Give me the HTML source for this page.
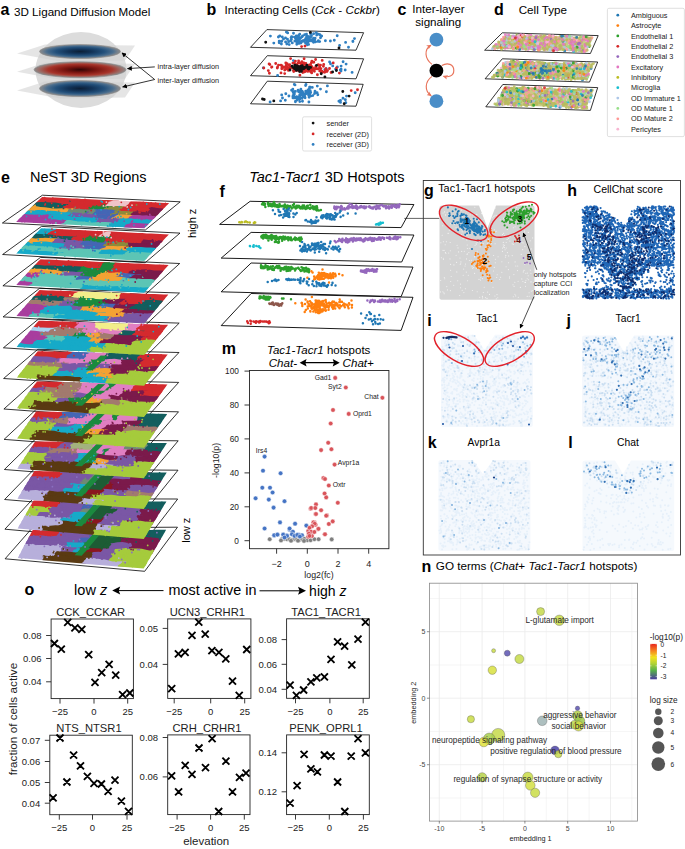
<!DOCTYPE html>
<html><head><meta charset="utf-8"><style>
html,body{margin:0;padding:0;background:#fff;}
svg{display:block;}
text{font-family:"Liberation Sans", sans-serif;}
</style></head><body>
<svg width="685" height="849" viewBox="0 0 685 849" font-family='"Liberation Sans", sans-serif'>
<rect width="685" height="849" fill="#fff"/>
<text x="0.5" y="15.0" font-size="16" font-weight="bold">a</text>
<text x="14.0" y="15.6" font-size="11.65">3D Ligand Diffusion Model</text>
<text x="206.5" y="14.9" font-size="16" font-weight="bold">b</text>
<text x="224.5" y="14" font-size="11.65">Interacting Cells (<tspan font-style="italic">Cck</tspan> - <tspan font-style="italic">Cckbr</tspan>)</text>
<text x="397.5" y="14.6" font-size="16" font-weight="bold">c</text>
<text x="438.5" y="12.8" font-size="11.65" text-anchor="middle">Inter-layer</text>
<text x="438.2" y="26.3" font-size="11.65" text-anchor="middle">signaling</text>
<text x="494.0" y="15.0" font-size="16" font-weight="bold">d</text>
<text x="518.7" y="14.2" font-size="11.65">Cell Type</text>
<defs>
<radialGradient id="gb" cx="50%" cy="50%" r="50%"><stop offset="0" stop-color="#0c1f36"/><stop offset="0.3" stop-color="#123358"/><stop offset="0.6" stop-color="#23507b"/><stop offset="0.82" stop-color="#4b6e8e"/><stop offset="0.93" stop-color="#77828d"/><stop offset="1" stop-color="#8a8a8a"/></radialGradient>
<radialGradient id="gr" cx="50%" cy="50%" r="50%"><stop offset="0" stop-color="#300606"/><stop offset="0.35" stop-color="#7a1510"/><stop offset="0.7" stop-color="#a8342a"/><stop offset="0.88" stop-color="#9c6a64"/><stop offset="1" stop-color="#8a8a8a"/></radialGradient>
<marker id="ah" viewBox="0 0 10 10" refX="9" refY="5" markerWidth="6" markerHeight="6" orient="auto-start-reverse"><path d="M0 0L10 5L0 10z" fill="#000"/></marker>
<marker id="ahr" viewBox="0 0 10 10" refX="8" refY="5" markerWidth="4.4" markerHeight="4.4" orient="auto-start-reverse"><path d="M0 0.5L10 5L0 9.5L2.5 5z" fill="#e8735a"/></marker>
</defs>
<ellipse cx="81" cy="70" rx="45.5" ry="38" fill="#dcdcdc"/>
<polygon points="17,53.5 45,44.5 135,45.5 125,60.5 60,61.5" fill="#cfcfcf" fill-opacity="0.55"/>
<polygon points="17,71.7 45,62.7 135,63.7 125,78.7 60,79.7" fill="#cfcfcf" fill-opacity="0.55"/>
<polygon points="17,90.5 45,81.5 135,82.5 125,97.5 60,98.5" fill="#cfcfcf" fill-opacity="0.55"/>
<ellipse cx="80" cy="51.5" rx="40.5" ry="7" fill="url(#gb)" stroke="#8a8a8a" stroke-width="0.6"/>
<ellipse cx="80" cy="69.7" rx="46" ry="8" fill="url(#gr)" stroke="#8a8a8a" stroke-width="0.6"/>
<ellipse cx="80" cy="88.5" rx="40.5" ry="8" fill="url(#gb)" stroke="#8a8a8a" stroke-width="0.6"/>
<path d="M154.8 66.9L127.5 68.6" stroke="#000" stroke-width="0.8" fill="none" marker-end="url(#ah)"/>
<path d="M154.7 79.5L121.9 52.9" stroke="#000" stroke-width="0.8" fill="none" marker-end="url(#ah)"/>
<path d="M154.7 79.5L122.6 87" stroke="#000" stroke-width="0.8" fill="none" marker-end="url(#ah)"/>
<text x="157.6" y="69.4" font-size="7.3" fill="#222">intra-layer diffusion</text>
<text x="157.6" y="83.4" font-size="7.3" fill="#222">inter-layer diffusion</text>
<polygon points="266.9,29.6 363.6,32.7 356.0,50.2 250.5,47.3" fill="#fff" stroke="#000" stroke-width="0.8" stroke-linejoin="round"/>
<polygon points="267.3,55.7 363.6,58.8 356.0,78.8 250.5,75.7" fill="#fff" stroke="#000" stroke-width="0.8" stroke-linejoin="round"/>
<polygon points="267.3,81.2 363.2,84.3 356.0,106.2 250.5,103.8" fill="#fff" stroke="#000" stroke-width="0.8" stroke-linejoin="round"/>
<path d="M297.4 40.5h0M299.9 37.6h0M291.1 37.7h0M314.3 40.7h0M313.7 40.1h0M306.1 39.6h0M279.2 41.2h0M306.7 40.8h0M286.4 32.1h0M292.3 36.9h0M305.6 38.8h0M309.7 36.8h0M304.6 40.3h0M289.2 44.6h0M305.6 43.2h0M296.3 36.0h0M297.9 38.3h0M308.8 39.9h0M298.9 35.3h0M292.3 42.9h0M291.4 39.4h0M310.6 33.7h0M299.1 43.4h0M278.4 37.0h0M302.6 35.9h0M308.0 38.8h0M281.7 41.2h0M307.6 42.4h0M318.4 40.6h0M306.5 34.3h0M310.7 36.9h0M299.7 34.2h0M291.6 36.6h0M283.5 39.1h0M317.9 41.4h0M307.9 36.4h0M285.6 41.9h0M314.7 39.8h0M303.7 40.4h0M319.7 41.6h0M306.7 40.9h0M279.2 42.8h0M312.1 41.0h0M279.8 35.9h0M316.3 32.8h0M296.9 42.4h0M281.4 44.0h0M308.8 38.5h0M304.1 41.2h0M300.4 42.9h0M294.9 37.1h0M314.3 39.3h0M288.6 41.8h0M320.5 37.8h0M285.5 37.9h0M300.8 37.7h0M321.1 35.7h0M319.9 34.8h0M290.6 40.8h0M313.5 42.3h0M305.6 39.5h0M302.2 40.9h0M299.0 39.7h0M308.7 39.0h0M309.7 41.1h0M325.4 40.7h0M297.6 37.4h0M299.3 42.1h0M296.7 40.1h0M287.5 39.3h0M306.0 39.8h0M294.9 41.0h0M306.5 37.1h0M330.4 41.0h0M295.4 38.3h0M299.2 38.5h0M270.4 36.1h0M316.7 35.1h0M298.6 42.2h0M308.6 44.4h0M282.3 37.0h0M296.1 40.9h0M318.3 34.1h0M313.6 33.8h0M300.9 43.1h0M299.5 39.4h0M311.1 39.6h0M296.8 44.2h0M315.1 38.2h0M337.2 35.8h0M313.5 38.2h0M301.6 41.4h0M302.9 41.2h0M287.7 32.9h0M311.5 35.7h0M293.5 33.3h0M315.4 41.9h0M321.7 36.1h0M304.7 34.8h0M307.3 44.7h0M286.8 44.0h0M314.1 38.6h0M273.8 43.1h0M302.2 36.7h0M305.6 40.4h0M354.5 38.6h0M348.5 47.3h0M352.9 41.5h0M339.6 45.4h0M345.6 42.4h0M352.9 41.2h0M334.3 40.2h0" stroke="#2f7fc1" stroke-width="2.90" stroke-linecap="round" fill="none"/>
<path d="M301.6 46.6h0M305.0 46.1h0" stroke="#d62728" stroke-width="2.90" stroke-linecap="round" fill="none"/>
<path d="M265.7 42.3h0M339.0 48.0h0M310.4 32.4h0" stroke="#111" stroke-width="2.90" stroke-linecap="round" fill="none"/>
<path d="M326.2 68.7h0M346.1 64.1h0M341.1 69.2h0M341.0 71.0h0M340.3 70.0h0M352.1 72.4h0M335.6 69.2h0M329.6 61.9h0M324.8 69.6h0M332.7 65.9h0M341.1 66.1h0M337.4 66.9h0M345.2 70.0h0M343.1 61.7h0M336.3 70.0h0M330.5 63.7h0M263.3 67.9h0M293.4 60.6h0M277.6 75.5h0" stroke="#2f7fc1" stroke-width="2.90" stroke-linecap="round" fill="none"/>
<path d="M314.4 71.2h0M299.0 70.7h0M305.7 64.1h0M278.5 65.1h0M315.8 66.5h0M288.8 65.0h0M277.6 66.9h0M281.8 68.7h0M263.8 68.0h0M295.4 61.1h0M312.2 67.4h0M269.1 64.0h0M306.0 66.6h0M311.0 70.9h0M310.1 69.4h0M319.7 70.9h0M311.9 61.1h0M311.7 72.9h0M297.2 66.3h0M333.2 62.9h0M284.9 69.9h0M329.5 68.5h0M307.3 71.3h0M287.1 67.3h0M303.3 70.9h0M300.5 67.3h0M286.1 66.3h0M314.0 68.8h0M289.7 64.7h0M339.4 73.1h0M315.6 59.5h0M309.1 69.9h0M325.5 70.2h0M298.4 69.7h0M268.3 70.6h0M307.1 65.8h0M317.4 74.8h0M281.0 65.1h0M304.7 68.8h0M296.8 64.5h0M331.1 72.5h0M285.8 62.9h0M324.7 72.2h0M326.9 71.6h0M286.7 68.5h0M269.8 64.5h0M298.6 69.8h0M289.9 67.2h0M306.8 69.5h0M309.9 69.0h0M293.9 70.5h0M303.2 65.2h0M291.1 67.7h0M298.6 68.5h0M300.2 68.6h0M301.4 63.7h0M304.8 71.8h0M307.6 67.6h0M309.4 64.9h0M271.6 67.3h0M284.7 70.1h0M290.6 58.6h0M281.0 72.9h0M298.0 63.2h0M287.8 69.4h0M307.8 68.8h0M321.9 71.1h0M299.0 70.0h0M324.0 72.1h0M318.3 64.8h0M296.7 70.4h0M293.7 71.5h0M307.8 71.4h0M319.9 67.8h0M293.4 70.8h0M315.5 68.5h0M282.4 68.1h0M303.7 72.0h0M312.5 68.4h0M312.5 70.2h0M303.6 68.3h0M295.4 70.2h0M286.1 65.4h0M303.9 63.0h0M298.6 61.0h0M288.9 69.6h0M309.4 68.1h0M300.3 63.1h0M327.5 70.6h0M319.0 65.5h0M301.9 61.7h0M310.6 71.5h0M271.9 66.9h0M313.8 62.3h0M275.7 63.5h0M294.4 62.9h0M300.6 68.9h0M308.8 70.7h0M321.3 72.7h0M282.0 65.7h0M287.1 63.8h0M299.4 68.0h0M311.4 62.8h0M281.9 67.3h0M298.3 66.9h0M301.4 65.4h0M310.6 69.5h0M300.8 65.7h0M304.1 58.7h0M285.6 67.7h0M277.3 68.0h0M305.9 63.4h0M297.5 66.8h0M306.3 70.3h0M302.0 65.1h0M298.6 67.7h0M311.2 69.3h0M292.9 63.1h0M296.7 65.3h0M284.0 67.1h0M292.9 68.1h0M309.4 66.8h0M336.5 68.0h0M317.1 68.9h0M322.2 60.4h0M288.6 68.5h0M302.8 72.5h0M310.4 71.6h0M308.7 67.7h0M310.6 64.6h0M320.5 65.1h0M299.9 75.3h0M297.2 68.0h0M318.3 68.6h0M287.7 68.5h0M308.0 70.7h0M284.7 73.6h0M325.9 68.8h0M305.6 66.7h0M323.4 66.3h0M311.9 66.7h0M288.4 70.1h0M320.9 68.6h0M288.4 70.4h0M299.2 69.0h0M321.7 72.6h0M299.0 70.7h0M290.9 67.5h0M269.4 73.3h0M323.7 64.5h0" stroke="#d62728" stroke-width="2.90" stroke-linecap="round" fill="none"/>
<path d="M294.8 65.2h0M307.0 67.4h0M300.6 67.5h0M301.1 66.2h0M302.2 65.7h0M299.9 68.5h0M303.2 67.7h0M295.9 68.1h0M296.5 70.4h0M304.6 67.9h0M299.0 66.8h0M296.3 67.3h0M301.6 68.9h0M301.4 71.4h0M297.0 67.9h0M316.5 65.4h0M297.8 68.2h0M301.0 68.7h0M299.0 68.6h0M300.1 69.2h0M292.0 66.3h0M301.7 66.4h0M294.7 68.8h0M296.7 68.9h0M304.1 68.6h0M303.3 67.9h0M293.5 67.7h0M303.5 67.2h0M299.3 69.2h0M295.5 68.9h0M310.6 67.4h0M301.5 67.8h0M308.1 68.7h0M305.9 67.0h0M300.6 68.0h0M290.0 70.0h0M306.9 65.3h0M304.5 67.9h0M302.5 68.7h0M293.3 67.4h0M308.8 67.3h0M296.9 65.7h0M294.1 68.3h0M308.8 69.0h0M299.6 71.6h0M298.7 66.8h0M302.8 69.0h0M296.7 66.0h0M301.9 68.4h0M294.2 67.5h0M297.4 68.7h0M300.1 67.8h0M297.7 69.6h0M308.0 67.6h0M305.7 66.9h0M321.2 73.7h0M332.6 72.0h0M336.4 70.5h0M324.9 76.9h0" stroke="#111" stroke-width="2.90" stroke-linecap="round" fill="none"/>
<path d="M299.8 97.5h0M317.1 92.8h0M299.7 95.0h0M285.8 93.8h0M293.1 95.6h0M295.0 84.9h0M300.7 95.3h0M293.0 97.9h0M299.8 91.3h0M309.6 87.2h0M294.2 93.8h0M309.9 93.6h0M305.7 91.3h0M299.8 101.6h0M294.4 94.0h0M300.1 98.7h0M294.3 84.4h0M305.1 97.8h0M302.4 95.3h0M309.4 96.0h0M320.5 89.1h0M310.0 92.7h0M301.5 93.0h0M298.1 90.2h0M292.9 96.8h0M301.1 94.4h0M296.8 98.1h0M306.3 93.6h0M308.0 93.6h0M285.3 100.3h0M308.0 90.0h0M311.0 95.9h0M280.6 100.9h0M302.1 98.2h0M303.3 93.5h0M282.5 98.0h0M302.0 92.8h0M304.3 94.5h0M308.7 92.6h0M306.0 84.5h0M294.9 97.0h0M315.3 92.8h0M295.6 101.1h0M295.7 97.3h0M317.8 94.7h0M315.0 91.3h0M303.2 93.8h0M299.2 99.2h0M326.4 91.8h0M293.8 96.2h0M288.9 96.0h0M307.4 93.0h0M310.1 87.3h0M312.3 87.4h0M295.4 91.4h0M294.6 97.8h0M302.8 92.4h0M302.5 101.3h0M300.1 95.7h0M312.8 95.6h0M327.4 85.9h0M299.5 96.0h0M309.1 97.3h0M300.9 89.3h0M299.4 98.7h0M292.8 89.2h0M305.6 85.5h0M299.4 92.1h0M307.2 91.1h0M293.1 92.1h0M302.1 91.1h0M299.1 97.5h0M308.9 102.0h0M294.2 92.0h0M270.1 102.0h0M293.7 93.8h0M309.5 88.2h0M305.7 94.1h0M281.7 94.9h0M317.3 86.1h0M308.6 95.3h0M304.6 96.2h0M314.6 93.5h0M310.7 92.5h0M310.2 90.7h0M295.4 101.8h0M305.8 93.5h0M291.6 90.3h0M300.5 98.3h0M303.9 96.6h0M297.1 100.1h0M298.4 91.5h0M309.7 94.6h0M299.6 91.5h0M296.7 96.8h0M346.5 96.1h0M345.4 99.8h0M338.9 101.2h0M343.0 98.3h0M345.8 102.8h0M340.5 100.4h0M340.5 102.4h0M340.3 101.3h0M355.2 92.8h0" stroke="#2f7fc1" stroke-width="2.90" stroke-linecap="round" fill="none"/>
<path d="M351.2 90.6h0M357.5 89.7h0" stroke="#d62728" stroke-width="2.90" stroke-linecap="round" fill="none"/>
<path d="M262.5 99.0h0M264.2 99.5h0M273.8 100.9h0M342.8 91.5h0M349.1 96.1h0M344.2 103.7h0" stroke="#111" stroke-width="2.90" stroke-linecap="round" fill="none"/>
<rect x="302.6" y="116.8" width="69" height="34.2" rx="1.5" fill="#fff" stroke="#d8d8d8" stroke-width="0.8"/>
<circle cx="313.1" cy="123.1" r="1.4" fill="#111"/>
<text x="326.5" y="125.7" font-size="7.35" fill="#222">sender</text>
<circle cx="313.1" cy="133.9" r="1.4" fill="#d62728"/>
<text x="326.5" y="136.5" font-size="7.35" fill="#222">receiver (2D)</text>
<circle cx="313.1" cy="144.4" r="1.4" fill="#2f7fc1"/>
<text x="326.5" y="147.0" font-size="7.35" fill="#222">receiver (3D)</text>
<circle cx="436.4" cy="39.7" r="6.9" fill="#4a8ec8"/>
<circle cx="436.4" cy="70.7" r="6.9" fill="#000"/>
<circle cx="436.4" cy="101.2" r="6.9" fill="#4a8ec8"/>
<path d="M432 64.4C424.5 58.5 424 49.5 430.8 45.3" stroke="#e8735a" stroke-width="1.15" fill="none" marker-end="url(#ahr)"/>
<path d="M432 76.4C424.5 82 424.5 91 431 95.6" stroke="#e8735a" stroke-width="1.15" fill="none" marker-end="url(#ahr)"/>
<path d="M441.8 65.6C447.5 62.2 453.8 64.2 453.8 70.5C453.8 76.2 448 77.6 443.6 76.2" stroke="#e8735a" stroke-width="1.15" fill="none" marker-end="url(#ahr)"/>
<polygon points="502.3,32.8 598.2,35.6 590.4,53.5 484.6,50.2" fill="#fff" stroke="#000" stroke-width="0.8" stroke-linejoin="round"/>
<polygon points="506.3,34.7 593.5,37.3 586.5,51.6 493.7,48.7" fill="#c9cb86"/>
<path d="M535.6 38.2h0M582.1 51.4h0M527.7 41.3h0M550.4 36.3h0M501.4 49.2h0M535.9 36.8h0M576.7 48.3h0M578.4 48.4h0M554.8 46.3h0M561.2 45.6h0M565.7 41.7h0M528.2 38.2h0M520.5 41.7h0M532.0 47.1h0M548.9 47.0h0M539.2 44.7h0M540.9 35.6h0M543.9 39.9h0M536.5 44.9h0M543.9 43.0h0M561.7 36.4h0M532.6 42.3h0M581.6 45.9h0M572.1 48.2h0M547.4 49.5h0M516.9 34.9h0M530.3 44.8h0M581.4 42.3h0M565.3 48.1h0M537.6 36.9h0M553.2 50.2h0M571.9 37.9h0M556.9 42.7h0M562.9 39.2h0M516.1 43.9h0M498.6 42.0h0M498.7 43.2h0M536.0 44.8h0M521.4 42.7h0M547.9 44.9h0M529.0 45.2h0M539.5 49.9h0M589.1 39.9h0M551.2 37.2h0M515.7 39.0h0M521.2 44.6h0M502.1 47.9h0M575.4 41.0h0M499.4 44.2h0M535.4 38.9h0M531.2 36.1h0M517.1 47.5h0M510.6 47.1h0M532.8 49.2h0M531.5 37.2h0M514.1 45.2h0M493.2 47.8h0M501.4 42.7h0M522.6 44.8h0M585.2 51.3h0M505.5 37.2h0M527.0 36.4h0" stroke="#b9bb5e" stroke-width="2.90" stroke-linecap="round" fill="none" stroke-opacity="0.85"/>
<path d="M508.7 41.8h0M546.5 39.1h0M494.1 46.7h0M581.3 37.9h0M552.1 38.1h0M554.4 48.2h0M536.9 43.6h0M521.3 35.3h0M549.7 50.4h0M519.4 47.6h0M565.2 41.9h0M529.8 43.1h0M532.0 46.4h0M568.1 48.8h0" stroke="#aec7e8" stroke-width="2.90" stroke-linecap="round" fill="none" stroke-opacity="0.85"/>
<path d="M580.3 43.5h0M547.5 41.4h0M528.1 49.4h0M531.5 47.2h0M505.1 48.4h0M524.4 36.5h0M579.5 50.9h0M520.8 34.8h0M528.4 42.9h0M585.1 44.6h0M522.8 41.3h0M571.4 41.5h0M531.2 39.9h0M517.9 45.8h0M556.0 38.7h0M535.4 42.0h0M523.0 48.5h0M517.7 43.3h0M523.2 37.6h0M583.8 50.8h0M586.6 44.5h0M530.3 38.7h0M574.6 44.1h0M513.8 36.1h0M540.6 36.3h0M528.0 49.5h0M526.2 45.0h0M506.5 38.0h0M523.2 35.8h0M503.3 44.6h0" stroke="#e377c2" stroke-width="2.90" stroke-linecap="round" fill="none" stroke-opacity="0.85"/>
<path d="M523.7 34.9h0M548.9 44.4h0M536.7 41.2h0M499.2 46.6h0M590.6 38.2h0M591.9 37.7h0M509.9 43.4h0M533.9 47.0h0M521.4 39.5h0M533.3 39.7h0M528.0 40.2h0" stroke="#ff9896" stroke-width="2.90" stroke-linecap="round" fill="none" stroke-opacity="0.85"/>
<path d="M524.4 42.8h0M520.2 44.4h0M569.3 37.7h0M586.3 40.6h0M571.0 42.7h0M526.4 49.9h0M548.1 41.6h0M569.5 44.4h0M587.1 44.3h0M503.2 45.1h0" stroke="#f7b6d2" stroke-width="2.90" stroke-linecap="round" fill="none" stroke-opacity="0.85"/>
<path d="M589.0 43.9h0M526.9 49.0h0M515.9 38.7h0M524.3 47.6h0" stroke="#98df8a" stroke-width="2.90" stroke-linecap="round" fill="none" stroke-opacity="0.85"/>
<path d="M516.5 44.0h0M582.9 50.4h0M510.1 45.1h0M544.9 44.4h0" stroke="#9467bd" stroke-width="2.90" stroke-linecap="round" fill="none" stroke-opacity="0.85"/>
<path d="M516.4 48.3h0M589.3 46.5h0" stroke="#2ca02c" stroke-width="2.90" stroke-linecap="round" fill="none" stroke-opacity="0.85"/>
<path d="M547.1 40.4h0M519.0 40.6h0M513.7 38.7h0" stroke="#ff7f0e" stroke-width="2.90" stroke-linecap="round" fill="none" stroke-opacity="0.85"/>
<path d="M573.6 51.5h0" stroke="#17becf" stroke-width="2.90" stroke-linecap="round" fill="none" stroke-opacity="0.85"/>
<path d="M563.3 36.4h0M522.6 37.1h0M563.0 41.3h0" stroke="#1f77b4" stroke-width="2.90" stroke-linecap="round" fill="none" stroke-opacity="0.85"/>
<path d="M529.5 39.6h0" stroke="#d62728" stroke-width="2.90" stroke-linecap="round" fill="none" stroke-opacity="0.85"/>
<path d="M534.0 47.6h0M497.4 48.0h0M536.0 45.2h0M550.4 36.5h0M589.4 45.6h0M518.1 43.5h0M529.0 35.2h0M538.8 46.5h0M559.6 48.9h0M570.3 37.2h0M560.1 36.4h0M548.6 37.3h0M565.9 47.5h0M543.3 45.0h0M559.9 45.7h0M556.3 47.6h0M535.1 45.8h0M505.5 46.9h0M578.3 39.5h0M541.0 43.9h0M557.5 50.0h0M572.1 39.5h0M554.4 46.3h0M524.8 39.5h0M501.4 40.0h0M499.3 45.8h0M583.6 48.6h0M570.4 49.4h0M580.0 44.4h0M574.1 38.7h0M505.5 38.2h0M526.9 36.8h0M574.6 43.6h0M584.6 37.5h0M501.3 45.2h0M550.1 37.5h0M509.9 41.9h0M552.0 36.7h0M561.9 37.8h0M547.0 41.3h0M574.4 48.8h0M555.7 41.6h0M546.1 43.4h0M534.8 43.7h0M555.6 44.9h0M590.0 45.6h0M531.3 41.9h0M522.3 40.7h0M515.1 39.9h0M570.7 42.1h0M524.1 36.8h0M581.0 47.7h0M566.8 40.0h0M563.7 48.6h0M510.7 43.0h0M511.3 39.4h0M552.2 49.9h0M585.7 44.2h0M539.2 40.4h0M577.0 37.3h0M544.4 36.8h0M521.8 42.2h0" stroke="#b9bb5e" stroke-width="2.90" stroke-linecap="round" fill="none" stroke-opacity="0.85"/>
<path d="M581.0 46.0h0M502.9 45.3h0M504.4 39.4h0M543.9 42.9h0M544.3 45.1h0M573.9 38.5h0M587.4 46.7h0M507.5 36.2h0M550.1 49.2h0M505.6 42.7h0M511.1 43.1h0M579.6 47.0h0M573.3 44.6h0M532.4 37.9h0" stroke="#aec7e8" stroke-width="2.90" stroke-linecap="round" fill="none" stroke-opacity="0.85"/>
<path d="M532.7 42.8h0M497.2 46.7h0M507.9 47.9h0M569.6 42.9h0M548.5 41.7h0M571.1 44.2h0M573.6 45.9h0M532.7 40.1h0M514.8 44.2h0M536.5 36.1h0M495.5 44.9h0M579.7 48.5h0M553.5 36.5h0M524.4 45.9h0M542.6 44.0h0M584.1 51.7h0M527.9 38.9h0M554.7 43.3h0M504.7 44.8h0M550.2 36.0h0M541.2 43.5h0M518.8 49.6h0M548.4 38.4h0M535.0 37.8h0M575.9 41.7h0M586.2 44.4h0M559.6 38.7h0M560.6 48.2h0M524.9 38.6h0M503.0 40.9h0" stroke="#e377c2" stroke-width="2.90" stroke-linecap="round" fill="none" stroke-opacity="0.85"/>
<path d="M518.5 45.7h0M568.9 41.2h0M520.6 38.7h0M557.8 41.0h0M519.0 43.5h0M516.5 41.2h0M553.9 48.0h0M556.3 37.2h0M525.7 41.0h0M572.4 47.0h0M513.4 37.3h0" stroke="#ff9896" stroke-width="2.90" stroke-linecap="round" fill="none" stroke-opacity="0.85"/>
<path d="M576.2 39.3h0M517.2 45.9h0M509.5 40.2h0M530.8 36.0h0M566.5 48.6h0M498.9 47.3h0M530.2 41.6h0M537.7 44.7h0M529.5 36.4h0" stroke="#f7b6d2" stroke-width="2.90" stroke-linecap="round" fill="none" stroke-opacity="0.85"/>
<path d="M587.4 44.4h0M582.0 36.7h0M535.3 41.6h0M510.9 37.2h0" stroke="#98df8a" stroke-width="2.90" stroke-linecap="round" fill="none" stroke-opacity="0.85"/>
<path d="M575.6 47.5h0M522.1 36.0h0M551.3 39.5h0" stroke="#9467bd" stroke-width="2.90" stroke-linecap="round" fill="none" stroke-opacity="0.85"/>
<path d="M517.9 35.1h0M506.7 45.9h0" stroke="#2ca02c" stroke-width="2.90" stroke-linecap="round" fill="none" stroke-opacity="0.85"/>
<path d="M585.2 38.9h0M538.6 50.1h0" stroke="#ff7f0e" stroke-width="2.90" stroke-linecap="round" fill="none" stroke-opacity="0.85"/>
<path d="M534.6 49.4h0" stroke="#17becf" stroke-width="2.90" stroke-linecap="round" fill="none" stroke-opacity="0.85"/>
<path d="M500.0 45.9h0M569.1 36.4h0" stroke="#1f77b4" stroke-width="2.90" stroke-linecap="round" fill="none" stroke-opacity="0.85"/>
<path d="M520.6 36.0h0" stroke="#d62728" stroke-width="2.90" stroke-linecap="round" fill="none" stroke-opacity="0.85"/>
<path d="M499.1 42.4h0M519.1 38.0h0M544.2 35.8h0M576.7 38.6h0M550.9 45.7h0M515.7 44.0h0M551.9 41.0h0M559.5 48.7h0M564.7 44.7h0M574.2 48.7h0M535.7 46.9h0M502.0 46.1h0M555.7 37.7h0M510.2 43.6h0M534.0 47.0h0M551.1 43.9h0M557.3 43.0h0M578.8 40.5h0M545.0 46.7h0M577.1 42.1h0M589.0 44.6h0M521.5 47.3h0M564.0 39.3h0M528.7 41.5h0M581.5 51.5h0M554.5 46.5h0M560.4 48.5h0M557.8 49.7h0M512.5 45.1h0M546.1 48.7h0M498.8 46.0h0M565.6 36.3h0M580.7 40.6h0M493.9 46.5h0M511.3 47.0h0M570.8 49.4h0M529.0 36.9h0M583.7 37.1h0M554.1 44.4h0M519.8 43.2h0M539.3 47.2h0M533.9 43.6h0M536.1 40.6h0M576.1 51.1h0M575.5 45.3h0M543.3 47.9h0M498.1 47.5h0M589.6 41.2h0M544.3 37.4h0M552.8 40.4h0M559.7 46.0h0M519.3 39.3h0M497.5 47.0h0M545.2 36.3h0M511.9 44.6h0M554.5 37.4h0M529.7 37.8h0M515.7 39.1h0M516.4 39.1h0M556.7 40.3h0M531.9 43.9h0" stroke="#b9bb5e" stroke-width="2.90" stroke-linecap="round" fill="none" stroke-opacity="0.85"/>
<path d="M531.9 47.9h0M506.6 39.6h0M528.3 47.4h0M575.0 46.4h0M526.4 38.3h0M579.9 45.8h0M551.3 45.3h0M564.3 38.3h0M536.5 44.1h0M502.4 46.4h0M569.3 50.1h0M514.3 37.0h0M538.1 46.9h0" stroke="#aec7e8" stroke-width="2.90" stroke-linecap="round" fill="none" stroke-opacity="0.85"/>
<path d="M589.9 39.8h0M570.8 43.2h0M585.6 39.8h0M505.4 34.8h0M544.8 49.7h0M553.3 50.4h0M503.9 38.1h0M582.2 40.2h0M525.8 44.4h0M585.0 44.7h0M585.2 46.6h0M579.5 44.9h0M537.9 46.8h0M530.8 35.1h0M527.7 35.6h0M517.5 38.3h0M586.8 38.2h0M572.7 45.2h0M544.6 46.1h0M520.8 45.0h0M514.9 36.6h0M538.3 46.2h0M533.2 47.1h0M540.0 47.3h0M518.9 39.0h0M513.3 47.7h0M508.7 35.0h0M532.5 41.3h0M573.1 50.4h0M552.0 41.0h0" stroke="#e377c2" stroke-width="2.90" stroke-linecap="round" fill="none" stroke-opacity="0.85"/>
<path d="M539.0 49.8h0M531.9 38.7h0M546.0 41.3h0M499.0 45.0h0M494.6 48.9h0M525.4 47.6h0M501.7 39.5h0M550.7 43.2h0M566.7 49.5h0M556.9 48.4h0M553.1 37.4h0" stroke="#ff9896" stroke-width="2.90" stroke-linecap="round" fill="none" stroke-opacity="0.85"/>
<path d="M509.9 46.4h0M577.2 40.4h0M547.6 41.8h0M513.8 45.9h0M508.5 45.8h0M553.0 36.0h0M586.0 48.5h0M516.6 39.5h0M537.9 43.0h0" stroke="#f7b6d2" stroke-width="2.90" stroke-linecap="round" fill="none" stroke-opacity="0.85"/>
<path d="M523.8 45.5h0M578.7 50.2h0M506.0 42.6h0M497.1 45.7h0" stroke="#98df8a" stroke-width="2.90" stroke-linecap="round" fill="none" stroke-opacity="0.85"/>
<path d="M555.5 48.2h0M572.7 38.7h0M535.9 37.8h0" stroke="#9467bd" stroke-width="2.90" stroke-linecap="round" fill="none" stroke-opacity="0.85"/>
<path d="M577.0 47.3h0" stroke="#2ca02c" stroke-width="2.90" stroke-linecap="round" fill="none" stroke-opacity="0.85"/>
<path d="M522.5 36.5h0M530.1 42.9h0" stroke="#ff7f0e" stroke-width="2.90" stroke-linecap="round" fill="none" stroke-opacity="0.85"/>
<path d="M535.0 41.8h0" stroke="#17becf" stroke-width="2.90" stroke-linecap="round" fill="none" stroke-opacity="0.85"/>
<path d="M564.7 50.9h0M519.7 49.5h0" stroke="#1f77b4" stroke-width="2.90" stroke-linecap="round" fill="none" stroke-opacity="0.85"/>
<path d="M553.5 50.7h0" stroke="#d62728" stroke-width="2.90" stroke-linecap="round" fill="none" stroke-opacity="0.85"/>
<path d="M585.5 38.0h0M553.3 44.1h0M542.8 36.8h0M574.2 38.1h0M556.0 42.4h0M517.7 36.1h0M515.5 43.8h0M522.4 43.2h0M502.5 48.2h0M519.7 39.6h0M515.6 42.1h0M570.0 45.8h0M569.9 47.4h0M563.3 49.8h0M559.0 39.7h0M515.5 45.0h0M513.4 49.1h0M523.6 39.4h0M524.7 37.0h0M590.2 38.0h0M584.9 37.2h0M547.4 39.7h0M581.7 46.5h0M587.9 37.6h0M541.1 36.9h0M531.5 43.8h0M555.9 40.5h0M518.7 43.9h0M551.6 41.8h0M588.8 40.7h0M562.8 40.5h0M583.3 38.7h0M533.3 37.7h0M511.6 46.1h0M515.3 40.2h0M544.0 43.2h0M580.3 37.3h0M544.1 49.5h0M514.3 45.3h0M569.7 38.6h0M495.1 45.6h0M530.9 37.3h0M525.6 49.2h0M587.2 50.2h0M516.7 42.2h0M571.1 41.2h0M587.5 43.4h0M508.6 42.5h0M517.6 48.3h0M551.8 41.2h0M534.8 45.2h0M504.8 39.0h0M571.3 37.6h0M544.1 50.1h0M511.9 38.9h0M542.0 38.3h0M529.6 40.6h0M575.1 48.3h0M508.8 39.3h0M586.6 44.0h0M546.7 44.1h0" stroke="#b9bb5e" stroke-width="2.90" stroke-linecap="round" fill="none" stroke-opacity="0.85"/>
<path d="M501.4 42.7h0M571.1 37.0h0M513.2 36.0h0M514.9 41.2h0M506.7 46.1h0M556.5 49.4h0M553.1 45.7h0M538.3 41.1h0M583.9 37.3h0M569.1 37.0h0M564.5 47.3h0M535.7 47.9h0M492.4 48.9h0" stroke="#aec7e8" stroke-width="2.90" stroke-linecap="round" fill="none" stroke-opacity="0.85"/>
<path d="M509.5 46.3h0M546.4 37.2h0M557.5 49.4h0M583.9 38.6h0M554.7 48.1h0M583.5 36.8h0M563.2 44.2h0M517.3 37.0h0M556.8 49.9h0M573.4 42.3h0M512.7 36.7h0M504.3 41.3h0M496.3 44.4h0M544.6 38.6h0M554.7 41.8h0M563.9 44.4h0M574.3 41.5h0M538.4 48.5h0M571.6 41.4h0M587.8 41.1h0M538.4 39.7h0M545.2 42.2h0M566.8 36.2h0M516.4 40.1h0M519.2 47.3h0M545.4 43.7h0M573.2 48.1h0M562.8 39.6h0M528.7 47.6h0M518.5 43.4h0" stroke="#e377c2" stroke-width="2.90" stroke-linecap="round" fill="none" stroke-opacity="0.85"/>
<path d="M558.6 41.3h0M584.1 37.6h0M516.8 45.6h0M503.5 37.1h0M513.3 48.7h0M549.2 35.8h0M585.7 38.6h0M578.8 41.3h0M574.0 39.5h0M585.2 50.5h0" stroke="#ff9896" stroke-width="2.90" stroke-linecap="round" fill="none" stroke-opacity="0.85"/>
<path d="M519.7 37.2h0M532.5 38.0h0M572.1 38.1h0M518.3 35.4h0M522.5 35.4h0M509.4 46.9h0M512.3 37.9h0M527.2 35.6h0M546.6 42.3h0" stroke="#f7b6d2" stroke-width="2.90" stroke-linecap="round" fill="none" stroke-opacity="0.85"/>
<path d="M568.2 46.8h0M501.6 48.2h0M524.8 46.8h0M569.7 36.3h0" stroke="#98df8a" stroke-width="2.90" stroke-linecap="round" fill="none" stroke-opacity="0.85"/>
<path d="M578.0 43.9h0M579.4 43.2h0M534.2 49.8h0" stroke="#9467bd" stroke-width="2.90" stroke-linecap="round" fill="none" stroke-opacity="0.85"/>
<path d="M586.2 36.9h0" stroke="#2ca02c" stroke-width="2.90" stroke-linecap="round" fill="none" stroke-opacity="0.85"/>
<path d="M501.1 47.6h0M517.6 47.0h0" stroke="#ff7f0e" stroke-width="2.90" stroke-linecap="round" fill="none" stroke-opacity="0.85"/>
<path d="M561.6 36.2h0M576.6 37.4h0" stroke="#1f77b4" stroke-width="2.90" stroke-linecap="round" fill="none" stroke-opacity="0.85"/>
<path d="M515.4 38.0h0" stroke="#d62728" stroke-width="2.90" stroke-linecap="round" fill="none" stroke-opacity="0.85"/>
<polygon points="502.3,58.8 597.7,62.0 589.5,82.1 485.1,78.8" fill="#fff" stroke="#000" stroke-width="0.8" stroke-linejoin="round"/>
<polygon points="506.4,61.0 593.0,63.9 585.7,79.9 494.1,77.0" fill="#c9cb86"/>
<path d="M540.8 63.0h0M520.7 66.2h0M577.3 65.1h0M589.1 63.6h0M552.6 68.8h0M521.8 70.9h0M543.8 72.8h0M519.7 62.2h0M550.2 76.9h0M555.8 66.6h0M547.0 72.1h0M565.2 79.3h0M504.2 69.2h0M572.2 70.7h0M558.7 66.2h0M575.7 67.7h0M566.0 63.2h0M548.6 63.9h0M558.0 71.6h0M585.2 67.6h0M547.9 79.1h0M539.6 74.1h0M581.7 63.8h0M539.2 75.4h0M540.6 68.0h0M568.9 69.2h0M537.8 76.9h0M554.8 63.1h0M525.0 66.6h0M542.5 71.8h0M509.7 76.6h0M539.8 62.3h0M527.1 67.3h0M531.1 62.6h0M572.6 77.8h0M570.3 65.4h0M585.3 70.3h0M566.4 78.2h0M520.5 77.6h0M582.3 77.3h0M574.9 73.5h0M536.9 75.5h0M504.0 71.3h0M573.5 74.5h0M570.2 67.7h0M528.2 64.1h0M511.8 65.3h0M541.0 71.4h0M525.9 77.4h0M553.1 78.8h0M510.9 75.8h0M508.0 72.8h0M512.5 64.7h0M535.1 70.4h0M563.9 70.3h0M519.7 65.6h0M558.6 66.9h0M572.2 76.3h0M538.2 63.4h0M504.0 68.6h0M572.9 73.7h0M511.8 61.7h0M506.5 72.5h0M528.0 67.3h0M545.7 73.1h0M569.8 67.0h0M516.8 62.9h0M584.1 65.9h0M573.3 67.7h0M512.4 62.8h0M509.0 64.5h0M539.1 74.4h0M529.2 68.4h0M524.3 64.1h0M519.0 72.3h0M540.2 73.4h0" stroke="#b9bb5e" stroke-width="2.90" stroke-linecap="round" fill="none" stroke-opacity="0.85"/>
<path d="M568.3 64.4h0M534.4 66.4h0M505.4 64.6h0M543.5 70.6h0M522.8 73.4h0M585.0 71.6h0M504.6 71.8h0M536.4 70.2h0M526.5 76.7h0M554.4 72.4h0M585.1 69.1h0M543.5 76.4h0" stroke="#aec7e8" stroke-width="2.90" stroke-linecap="round" fill="none" stroke-opacity="0.85"/>
<path d="M504.8 74.3h0M519.9 67.9h0M512.0 68.2h0M547.3 77.8h0M587.3 69.5h0M532.1 62.2h0M498.6 72.3h0M571.0 66.6h0" stroke="#e377c2" stroke-width="2.90" stroke-linecap="round" fill="none" stroke-opacity="0.85"/>
<path d="M538.3 64.6h0M523.8 70.2h0M553.3 70.0h0M588.1 65.3h0M528.4 78.0h0M581.5 66.2h0M566.4 72.6h0M568.5 78.1h0" stroke="#ff9896" stroke-width="2.90" stroke-linecap="round" fill="none" stroke-opacity="0.85"/>
<path d="M571.3 64.7h0M560.7 77.5h0M514.8 75.8h0M510.8 71.2h0M577.4 66.4h0" stroke="#f7b6d2" stroke-width="2.90" stroke-linecap="round" fill="none" stroke-opacity="0.85"/>
<path d="M537.6 64.1h0M505.1 68.9h0M557.0 66.8h0M517.6 62.6h0M579.2 73.5h0M572.5 73.9h0M504.4 64.5h0M518.2 71.3h0" stroke="#98df8a" stroke-width="2.90" stroke-linecap="round" fill="none" stroke-opacity="0.85"/>
<path d="M538.9 77.0h0M565.6 68.6h0M549.4 66.1h0" stroke="#9467bd" stroke-width="2.90" stroke-linecap="round" fill="none" stroke-opacity="0.85"/>
<path d="M547.4 75.3h0M580.0 68.9h0M545.3 65.7h0M566.6 75.8h0M552.4 63.6h0M521.7 65.0h0M496.8 73.3h0M557.4 78.9h0M580.1 66.7h0M544.7 73.5h0" stroke="#2ca02c" stroke-width="2.90" stroke-linecap="round" fill="none" stroke-opacity="0.85"/>
<path d="M579.7 73.1h0M516.2 70.7h0M535.2 76.7h0M568.5 74.8h0M545.6 69.2h0" stroke="#ff7f0e" stroke-width="2.90" stroke-linecap="round" fill="none" stroke-opacity="0.85"/>
<path d="M517.6 63.4h0M506.7 70.1h0M534.6 66.7h0" stroke="#17becf" stroke-width="2.90" stroke-linecap="round" fill="none" stroke-opacity="0.85"/>
<path d="M555.7 64.2h0M591.1 68.5h0M514.2 76.8h0M563.1 75.3h0M553.4 68.7h0M546.2 65.0h0M509.3 75.0h0M542.1 73.6h0M543.9 69.5h0M545.0 71.7h0M537.5 73.8h0M533.5 74.9h0" stroke="#1f77b4" stroke-width="2.90" stroke-linecap="round" fill="none" stroke-opacity="0.85"/>
<path d="M535.0 68.6h0" stroke="#d62728" stroke-width="2.90" stroke-linecap="round" fill="none" stroke-opacity="0.85"/>
<path d="M577.2 72.4h0M533.3 76.8h0M562.1 78.7h0M572.0 74.4h0M498.1 70.3h0M568.3 73.5h0M544.1 68.2h0M524.2 73.7h0M525.6 74.1h0M494.0 76.2h0M557.8 72.6h0M517.2 61.1h0M509.7 76.9h0M584.3 65.0h0M523.5 68.6h0M560.2 72.6h0M493.7 77.3h0M539.6 77.5h0M565.2 69.4h0M585.2 64.1h0M553.9 74.9h0M583.2 72.2h0M527.8 75.1h0M510.0 72.4h0M526.8 68.3h0M539.8 77.2h0M557.7 75.0h0M562.6 69.6h0M576.8 72.5h0M554.1 63.1h0M571.9 71.3h0M559.9 66.2h0M539.1 76.5h0M549.9 63.7h0M509.4 69.2h0M503.0 67.3h0M510.2 64.9h0M559.8 65.8h0M523.7 64.6h0M575.4 63.0h0M509.8 65.4h0M535.5 63.3h0M587.3 69.5h0M583.0 65.6h0M531.8 78.3h0M571.7 76.4h0M528.6 77.9h0M569.5 67.4h0M526.3 62.5h0M559.4 75.6h0M559.0 72.3h0M550.6 76.2h0M531.8 67.1h0M568.3 79.1h0M517.3 67.9h0M558.4 79.0h0M509.2 74.1h0M497.3 75.6h0M514.2 64.3h0M558.2 74.6h0M556.1 78.2h0M560.9 66.0h0M546.7 69.8h0M571.1 79.8h0M503.3 65.0h0M516.7 77.5h0M585.9 75.0h0M532.0 72.7h0M520.2 67.7h0M518.0 65.0h0M517.8 76.9h0M520.1 69.6h0M564.3 62.9h0M517.9 77.2h0M554.1 65.3h0" stroke="#b9bb5e" stroke-width="2.90" stroke-linecap="round" fill="none" stroke-opacity="0.85"/>
<path d="M517.0 68.6h0M557.8 63.7h0M531.4 65.6h0M524.2 62.5h0M566.5 63.3h0M574.5 68.7h0M528.6 71.6h0M553.4 66.9h0M586.3 78.9h0M571.0 63.2h0M501.1 71.9h0" stroke="#aec7e8" stroke-width="2.90" stroke-linecap="round" fill="none" stroke-opacity="0.85"/>
<path d="M575.8 63.5h0M553.1 78.0h0M567.6 67.3h0M562.3 67.5h0M539.9 78.7h0M517.3 61.2h0M496.9 74.6h0M527.7 76.8h0" stroke="#e377c2" stroke-width="2.90" stroke-linecap="round" fill="none" stroke-opacity="0.85"/>
<path d="M577.9 72.6h0M531.5 77.2h0M578.3 65.5h0M534.7 70.1h0M518.2 66.3h0M579.6 65.3h0M543.4 65.7h0" stroke="#ff9896" stroke-width="2.90" stroke-linecap="round" fill="none" stroke-opacity="0.85"/>
<path d="M501.1 68.3h0M508.7 74.4h0M511.9 71.7h0M508.1 68.3h0" stroke="#f7b6d2" stroke-width="2.90" stroke-linecap="round" fill="none" stroke-opacity="0.85"/>
<path d="M512.5 69.4h0M515.4 70.1h0M554.1 76.4h0M513.7 65.0h0M536.9 74.5h0M520.7 65.3h0M585.1 70.2h0M541.0 68.8h0" stroke="#98df8a" stroke-width="2.90" stroke-linecap="round" fill="none" stroke-opacity="0.85"/>
<path d="M527.1 70.9h0M510.4 73.5h0" stroke="#9467bd" stroke-width="2.90" stroke-linecap="round" fill="none" stroke-opacity="0.85"/>
<path d="M501.2 70.8h0M566.4 68.2h0M572.1 76.8h0M522.7 62.9h0M520.7 76.4h0M529.3 73.4h0M573.2 70.7h0M571.8 65.8h0M547.9 74.2h0" stroke="#2ca02c" stroke-width="2.90" stroke-linecap="round" fill="none" stroke-opacity="0.85"/>
<path d="M550.0 69.0h0M556.4 68.6h0M536.8 72.6h0M507.3 72.4h0M576.0 63.6h0" stroke="#ff7f0e" stroke-width="2.90" stroke-linecap="round" fill="none" stroke-opacity="0.85"/>
<path d="M580.6 69.2h0M574.1 73.8h0M554.4 78.2h0" stroke="#17becf" stroke-width="2.90" stroke-linecap="round" fill="none" stroke-opacity="0.85"/>
<path d="M582.5 80.1h0M502.6 77.3h0M553.5 70.1h0M576.8 68.5h0M526.5 68.1h0M558.2 71.2h0M557.3 76.0h0M545.9 71.2h0M541.4 68.4h0M538.8 72.5h0M540.4 71.8h0M546.2 67.7h0" stroke="#1f77b4" stroke-width="2.90" stroke-linecap="round" fill="none" stroke-opacity="0.85"/>
<path d="M567.9 77.0h0" stroke="#d62728" stroke-width="2.90" stroke-linecap="round" fill="none" stroke-opacity="0.85"/>
<path d="M573.5 63.8h0M581.0 66.0h0M581.9 74.7h0M530.4 76.4h0M507.7 63.1h0M575.0 79.0h0M494.2 75.2h0M546.9 78.9h0M533.7 73.2h0M592.2 64.4h0M568.6 67.1h0M556.0 75.5h0M516.5 64.0h0M502.7 71.6h0M514.0 73.9h0M584.7 65.8h0M582.0 65.2h0M546.2 68.9h0M531.7 78.2h0M526.6 72.4h0M564.8 69.3h0M543.6 75.8h0M544.6 63.4h0M549.0 66.1h0M574.1 68.9h0M499.7 70.6h0M499.9 72.1h0M514.2 66.6h0M542.1 62.7h0M548.4 69.0h0M566.5 78.9h0M507.7 68.6h0M548.8 78.6h0M509.7 70.7h0M547.6 70.7h0M554.3 66.2h0M564.0 65.1h0M585.7 74.7h0M559.4 74.5h0M535.8 72.0h0M576.6 66.1h0M577.4 71.8h0M557.7 68.7h0M556.0 63.0h0M570.8 74.3h0M532.5 62.4h0M512.2 76.4h0M582.3 72.2h0M566.0 74.2h0M582.8 75.9h0M557.7 75.2h0M559.7 64.7h0M572.9 76.7h0M592.0 64.7h0M513.4 73.5h0M582.2 78.9h0M507.8 70.4h0M507.6 66.2h0M550.9 73.0h0M556.2 74.1h0M575.3 65.7h0M502.4 77.3h0M557.7 76.9h0M526.8 65.6h0M591.5 66.4h0M551.2 73.4h0M527.5 68.3h0M572.9 67.1h0M526.0 61.7h0M515.2 62.0h0M569.4 64.0h0M587.4 67.3h0M556.6 66.7h0M503.2 65.5h0M525.3 65.3h0" stroke="#b9bb5e" stroke-width="2.90" stroke-linecap="round" fill="none" stroke-opacity="0.85"/>
<path d="M546.0 73.8h0M554.2 64.9h0M505.2 71.5h0M575.5 76.6h0M583.4 68.7h0M579.5 75.8h0M505.6 62.5h0M556.0 79.0h0M530.3 75.4h0M566.1 77.8h0M561.6 64.9h0" stroke="#aec7e8" stroke-width="2.90" stroke-linecap="round" fill="none" stroke-opacity="0.85"/>
<path d="M507.9 66.3h0M520.0 78.2h0M536.1 65.7h0M518.0 67.9h0M514.9 74.5h0M515.3 76.9h0M530.0 61.5h0M542.8 64.2h0" stroke="#e377c2" stroke-width="2.90" stroke-linecap="round" fill="none" stroke-opacity="0.85"/>
<path d="M585.6 69.1h0M509.1 66.5h0M577.6 65.1h0M503.3 63.5h0M580.1 75.2h0M546.4 76.9h0M525.4 63.3h0" stroke="#ff9896" stroke-width="2.90" stroke-linecap="round" fill="none" stroke-opacity="0.85"/>
<path d="M531.6 67.0h0M519.9 71.4h0M508.0 64.8h0M517.1 62.6h0" stroke="#f7b6d2" stroke-width="2.90" stroke-linecap="round" fill="none" stroke-opacity="0.85"/>
<path d="M547.2 75.2h0M512.5 77.5h0M587.7 77.3h0M571.7 76.2h0M511.3 69.6h0M504.5 74.1h0M520.8 66.0h0M521.7 62.4h0" stroke="#98df8a" stroke-width="2.90" stroke-linecap="round" fill="none" stroke-opacity="0.85"/>
<path d="M531.1 72.8h0M584.6 67.7h0" stroke="#9467bd" stroke-width="2.90" stroke-linecap="round" fill="none" stroke-opacity="0.85"/>
<path d="M545.7 75.7h0M513.3 61.3h0M516.0 65.2h0M536.0 73.3h0M573.6 76.3h0M544.6 63.6h0M573.5 77.4h0M536.9 74.1h0M497.7 76.1h0" stroke="#2ca02c" stroke-width="2.90" stroke-linecap="round" fill="none" stroke-opacity="0.85"/>
<path d="M505.1 67.7h0M563.8 70.8h0M564.6 65.2h0M526.4 78.1h0M564.0 67.7h0" stroke="#ff7f0e" stroke-width="2.90" stroke-linecap="round" fill="none" stroke-opacity="0.85"/>
<path d="M504.8 75.1h0M558.6 66.8h0M584.2 68.8h0" stroke="#17becf" stroke-width="2.90" stroke-linecap="round" fill="none" stroke-opacity="0.85"/>
<path d="M526.9 65.7h0M521.9 77.8h0M540.4 77.0h0M497.6 73.7h0M573.4 75.1h0M510.0 64.4h0M542.1 70.4h0M532.5 73.9h0M544.4 72.5h0M546.9 72.8h0M542.2 71.4h0M540.9 69.1h0" stroke="#1f77b4" stroke-width="2.90" stroke-linecap="round" fill="none" stroke-opacity="0.85"/>
<path d="M538.3 61.9h0M526.8 74.4h0M551.5 67.1h0M516.0 67.1h0M526.4 66.0h0M523.3 74.3h0M538.7 71.4h0M516.7 65.6h0M557.6 68.0h0M502.7 74.5h0M566.0 75.9h0M591.1 67.3h0M542.9 72.7h0M581.2 64.1h0M580.0 67.6h0M512.0 63.7h0M564.6 65.1h0M537.5 61.8h0M593.5 63.6h0M563.8 77.1h0M553.0 73.8h0M510.3 74.9h0M588.4 75.2h0M512.2 73.2h0M585.9 75.4h0M537.2 76.1h0M513.5 62.3h0M492.4 77.2h0M549.1 68.4h0M581.0 64.3h0M528.8 65.3h0M586.6 79.3h0M529.7 69.1h0M508.5 76.9h0M548.9 73.8h0M500.8 71.1h0M571.2 71.0h0M571.2 72.9h0M567.8 76.2h0M532.7 65.1h0M577.4 65.7h0M580.6 78.4h0M556.7 77.8h0M565.8 73.6h0M585.2 75.4h0M519.0 66.5h0M531.6 64.0h0M498.0 74.6h0M575.8 64.8h0M531.1 75.3h0M577.7 78.4h0M504.8 68.2h0M554.1 74.6h0M511.5 68.6h0M542.1 65.2h0M494.8 75.1h0M588.8 70.8h0M579.7 71.3h0M543.7 63.0h0M506.3 76.3h0M546.2 76.0h0M535.6 63.2h0M536.8 73.8h0M525.9 72.0h0M559.7 74.2h0M511.4 61.0h0M574.4 76.6h0M550.6 64.0h0M509.8 68.6h0M536.9 77.7h0M531.2 64.9h0M540.7 78.0h0M517.1 63.3h0M584.3 78.1h0M565.3 73.3h0" stroke="#b9bb5e" stroke-width="2.90" stroke-linecap="round" fill="none" stroke-opacity="0.85"/>
<path d="M545.9 64.6h0M580.2 66.2h0M518.1 68.3h0M530.9 66.1h0M518.7 76.4h0M572.8 67.1h0M537.3 73.0h0M576.4 63.6h0M586.3 63.3h0M551.4 63.9h0M583.3 75.8h0" stroke="#aec7e8" stroke-width="2.90" stroke-linecap="round" fill="none" stroke-opacity="0.85"/>
<path d="M556.2 63.6h0M547.8 77.1h0M555.8 71.6h0M515.5 64.3h0M568.4 63.7h0M586.1 75.4h0M550.7 73.4h0M588.5 74.0h0" stroke="#e377c2" stroke-width="2.90" stroke-linecap="round" fill="none" stroke-opacity="0.85"/>
<path d="M513.7 73.5h0M574.5 66.3h0M506.7 74.9h0M532.7 63.8h0M553.1 73.3h0M580.3 64.9h0M555.8 77.0h0" stroke="#ff9896" stroke-width="2.90" stroke-linecap="round" fill="none" stroke-opacity="0.85"/>
<path d="M572.1 66.9h0M523.3 78.0h0M507.8 62.2h0M536.1 63.6h0" stroke="#f7b6d2" stroke-width="2.90" stroke-linecap="round" fill="none" stroke-opacity="0.85"/>
<path d="M570.1 70.1h0M557.3 79.1h0M561.2 66.8h0M520.4 69.5h0M544.6 73.4h0M563.0 76.1h0M557.6 70.4h0" stroke="#98df8a" stroke-width="2.90" stroke-linecap="round" fill="none" stroke-opacity="0.85"/>
<path d="M509.9 68.8h0M543.0 78.4h0" stroke="#9467bd" stroke-width="2.90" stroke-linecap="round" fill="none" stroke-opacity="0.85"/>
<path d="M522.0 67.1h0M520.7 68.5h0M561.2 68.1h0M539.5 77.7h0M556.9 67.0h0M538.8 75.8h0M573.3 62.9h0M529.4 73.8h0M558.3 71.1h0" stroke="#2ca02c" stroke-width="2.90" stroke-linecap="round" fill="none" stroke-opacity="0.85"/>
<path d="M528.2 62.5h0M525.9 64.7h0M583.8 74.4h0M513.0 66.6h0M548.0 77.2h0" stroke="#ff7f0e" stroke-width="2.90" stroke-linecap="round" fill="none" stroke-opacity="0.85"/>
<path d="M569.4 65.8h0M520.9 67.8h0" stroke="#17becf" stroke-width="2.90" stroke-linecap="round" fill="none" stroke-opacity="0.85"/>
<path d="M585.5 66.0h0M531.2 68.0h0M536.3 77.4h0M521.0 65.4h0M524.6 62.3h0M533.4 73.2h0M550.4 70.7h0M545.9 70.6h0M542.7 73.0h0M548.5 70.7h0M542.6 70.3h0M543.3 66.3h0" stroke="#1f77b4" stroke-width="2.90" stroke-linecap="round" fill="none" stroke-opacity="0.85"/>
<polygon points="502.8,84.5 597.7,87.6 590.4,110.4 485.8,106.8" fill="#fff" stroke="#000" stroke-width="0.8" stroke-linejoin="round"/>
<polygon points="506.9,86.9 593.1,89.8 586.5,108.0 494.8,104.8" fill="#c9cb86"/>
<path d="M513.9 101.4h0M504.2 89.7h0M519.3 88.6h0M532.1 101.1h0M515.8 90.5h0M522.0 92.6h0M584.8 104.4h0M534.8 96.7h0M531.7 88.6h0M512.0 101.0h0M565.6 104.1h0M520.8 93.5h0M574.8 98.7h0M536.4 101.3h0M520.2 92.7h0M578.2 107.3h0M514.2 86.8h0M550.6 101.8h0M535.4 99.3h0M559.3 106.9h0M540.9 93.3h0M528.0 104.4h0M534.3 94.8h0M501.9 104.1h0M537.7 92.4h0M574.6 106.4h0M557.1 94.2h0M504.8 103.1h0M582.0 108.2h0M569.9 91.1h0M571.4 101.8h0M547.3 102.5h0M561.7 95.2h0M532.9 104.7h0M513.9 96.4h0M544.0 95.2h0M511.2 88.2h0M506.0 102.7h0M522.5 88.7h0M547.0 91.5h0M591.4 90.1h0M562.5 105.0h0M575.5 108.0h0M533.3 97.2h0M547.2 95.0h0M557.4 101.2h0M574.0 105.4h0M513.4 101.5h0M527.6 100.2h0M552.1 99.0h0M520.6 101.9h0M508.1 95.4h0M513.8 103.6h0M577.6 95.3h0M513.7 105.2h0M547.7 93.9h0M574.5 99.6h0M536.3 102.8h0M588.1 94.6h0M549.8 88.4h0M508.0 104.2h0M548.7 99.4h0M515.0 103.4h0M499.1 101.0h0M565.4 91.3h0M524.1 87.7h0M534.8 100.1h0M516.2 99.1h0M573.0 94.5h0M510.2 96.6h0M528.6 90.1h0M505.5 89.3h0M502.4 104.5h0M554.7 93.8h0M518.3 91.8h0M560.7 102.5h0M544.6 93.7h0M578.3 94.7h0M512.9 97.0h0M560.0 106.2h0M501.2 95.5h0M550.0 107.1h0" stroke="#b9bb5e" stroke-width="2.90" stroke-linecap="round" fill="none" stroke-opacity="0.85"/>
<path d="M513.9 96.9h0M575.4 95.4h0M567.8 94.5h0M513.8 101.1h0M520.7 89.5h0M586.0 94.2h0M591.0 93.9h0M578.9 92.3h0M539.4 97.2h0M561.7 89.9h0M569.5 104.8h0M562.3 98.9h0M558.9 106.8h0" stroke="#aec7e8" stroke-width="2.90" stroke-linecap="round" fill="none" stroke-opacity="0.85"/>
<path d="M539.9 94.1h0M585.5 102.5h0M563.3 95.9h0M519.3 90.3h0M583.7 108.0h0M512.4 95.9h0M536.8 97.3h0" stroke="#e377c2" stroke-width="2.90" stroke-linecap="round" fill="none" stroke-opacity="0.85"/>
<path d="M549.7 90.8h0M531.7 101.0h0M531.2 94.9h0M567.2 95.1h0M563.1 95.3h0M530.1 88.8h0M532.7 88.7h0M552.7 94.3h0" stroke="#ff9896" stroke-width="2.90" stroke-linecap="round" fill="none" stroke-opacity="0.85"/>
<path d="M504.1 104.3h0M553.3 101.0h0M548.1 94.1h0M545.5 100.7h0M579.3 105.7h0M588.7 96.3h0" stroke="#f7b6d2" stroke-width="2.90" stroke-linecap="round" fill="none" stroke-opacity="0.85"/>
<path d="M561.4 100.1h0M512.9 91.0h0M501.4 95.9h0M563.3 90.1h0M533.4 105.4h0" stroke="#98df8a" stroke-width="2.90" stroke-linecap="round" fill="none" stroke-opacity="0.85"/>
<path d="M583.7 100.9h0M571.4 107.5h0M588.4 92.8h0M550.4 104.5h0" stroke="#9467bd" stroke-width="2.90" stroke-linecap="round" fill="none" stroke-opacity="0.85"/>
<path d="M567.4 93.7h0M516.7 88.8h0M516.7 90.0h0M534.1 100.8h0M510.2 91.4h0" stroke="#2ca02c" stroke-width="2.90" stroke-linecap="round" fill="none" stroke-opacity="0.85"/>
<path d="M525.5 101.0h0M574.0 105.9h0" stroke="#ff7f0e" stroke-width="2.90" stroke-linecap="round" fill="none" stroke-opacity="0.85"/>
<path d="M564.9 93.4h0M591.4 95.7h0M548.5 103.4h0M502.1 93.4h0M542.7 94.8h0M540.3 96.5h0" stroke="#17becf" stroke-width="2.90" stroke-linecap="round" fill="none" stroke-opacity="0.85"/>
<path d="M560.0 107.3h0M579.0 104.3h0M559.3 101.9h0M519.9 95.3h0M552.0 99.1h0" stroke="#1f77b4" stroke-width="2.90" stroke-linecap="round" fill="none" stroke-opacity="0.85"/>
<path d="M569.6 104.0h0M535.5 87.6h0" stroke="#d62728" stroke-width="2.90" stroke-linecap="round" fill="none" stroke-opacity="0.85"/>
<path d="M518.8 102.7h0M503.4 90.8h0M567.1 95.0h0M555.7 91.8h0M507.4 98.7h0M520.3 92.9h0M579.6 97.8h0M562.8 92.6h0M556.4 93.7h0M575.8 93.9h0M511.0 97.0h0M502.2 100.6h0M533.2 104.3h0M572.4 95.5h0M568.8 92.1h0M554.1 103.5h0M562.6 102.7h0M562.5 102.0h0M519.2 92.9h0M532.4 95.5h0M570.8 100.0h0M543.6 105.6h0M582.3 99.4h0M498.4 99.8h0M585.0 108.3h0M516.5 90.1h0M577.7 98.2h0M567.6 93.4h0M537.1 104.1h0M542.0 96.7h0M561.2 98.9h0M509.2 103.6h0M521.2 105.6h0M578.3 89.1h0M551.3 95.9h0M571.4 92.9h0M505.4 98.9h0M565.2 102.2h0M591.1 95.7h0M541.4 103.2h0M575.4 90.9h0M508.7 103.3h0M548.5 106.5h0M522.3 92.3h0M541.0 101.7h0M574.8 93.1h0M520.3 89.9h0M505.0 103.8h0M522.5 87.4h0M505.0 92.7h0M592.3 90.3h0M533.7 95.7h0M528.6 99.0h0M587.6 96.1h0M561.0 97.8h0M511.7 95.9h0M586.5 103.2h0M581.7 104.6h0M577.1 93.6h0M564.2 105.3h0M542.6 102.8h0M507.2 101.4h0M516.9 90.3h0M524.6 101.0h0M582.0 89.9h0M532.2 105.2h0M540.6 98.6h0M563.6 88.7h0M576.1 91.0h0M588.3 96.5h0M520.3 97.7h0M512.2 88.4h0M502.5 99.6h0M545.7 97.5h0M517.5 95.7h0M535.3 98.4h0M553.9 92.1h0M540.7 87.8h0M539.1 91.2h0M532.8 89.4h0M569.8 99.9h0M536.9 92.5h0" stroke="#b9bb5e" stroke-width="2.90" stroke-linecap="round" fill="none" stroke-opacity="0.85"/>
<path d="M517.4 94.9h0M562.9 89.2h0M507.4 96.5h0M539.0 89.3h0M556.6 98.4h0M511.8 97.9h0M498.7 101.5h0M548.6 99.6h0M569.5 90.5h0M589.4 101.7h0M539.3 87.8h0M550.0 105.7h0" stroke="#aec7e8" stroke-width="2.90" stroke-linecap="round" fill="none" stroke-opacity="0.85"/>
<path d="M515.8 105.5h0M543.2 100.5h0M526.0 102.9h0M521.9 98.7h0M569.3 93.7h0M554.1 97.9h0M576.5 97.8h0" stroke="#e377c2" stroke-width="2.90" stroke-linecap="round" fill="none" stroke-opacity="0.85"/>
<path d="M533.8 96.0h0M588.2 98.5h0M583.8 107.5h0M533.8 90.5h0M530.7 100.0h0M559.5 88.8h0M503.1 94.9h0M546.0 94.2h0" stroke="#ff9896" stroke-width="2.90" stroke-linecap="round" fill="none" stroke-opacity="0.85"/>
<path d="M539.7 89.4h0M568.7 104.4h0M505.1 96.8h0M539.7 93.6h0M560.5 103.3h0M559.9 91.6h0" stroke="#f7b6d2" stroke-width="2.90" stroke-linecap="round" fill="none" stroke-opacity="0.85"/>
<path d="M496.2 105.0h0M535.3 99.6h0M564.4 102.3h0M541.6 101.3h0M534.4 95.3h0" stroke="#98df8a" stroke-width="2.90" stroke-linecap="round" fill="none" stroke-opacity="0.85"/>
<path d="M511.3 105.0h0M547.2 94.3h0M502.4 92.6h0M547.3 92.2h0" stroke="#9467bd" stroke-width="2.90" stroke-linecap="round" fill="none" stroke-opacity="0.85"/>
<path d="M528.2 88.2h0M574.2 93.1h0M528.7 101.4h0M512.0 98.7h0M546.6 104.4h0" stroke="#2ca02c" stroke-width="2.90" stroke-linecap="round" fill="none" stroke-opacity="0.85"/>
<path d="M558.7 89.9h0M542.0 90.8h0" stroke="#ff7f0e" stroke-width="2.90" stroke-linecap="round" fill="none" stroke-opacity="0.85"/>
<path d="M540.6 101.3h0M519.0 104.3h0M550.8 106.6h0M518.6 98.9h0M518.6 95.3h0M590.6 97.8h0" stroke="#17becf" stroke-width="2.90" stroke-linecap="round" fill="none" stroke-opacity="0.85"/>
<path d="M577.5 99.9h0M570.9 98.5h0M527.1 98.1h0M499.7 104.2h0" stroke="#1f77b4" stroke-width="2.90" stroke-linecap="round" fill="none" stroke-opacity="0.85"/>
<path d="M576.5 93.4h0" stroke="#d62728" stroke-width="2.90" stroke-linecap="round" fill="none" stroke-opacity="0.85"/>
<path d="M574.0 105.6h0M515.0 93.2h0M511.1 104.5h0M570.4 103.8h0M523.8 95.2h0M527.2 90.2h0M510.1 96.3h0M539.4 99.8h0M574.8 95.2h0M535.1 94.2h0M583.2 103.4h0M587.7 95.1h0M520.0 93.9h0M564.8 103.8h0M583.2 108.3h0M556.5 93.1h0M522.4 96.9h0M501.7 101.6h0M516.3 96.0h0M575.1 102.8h0M525.3 105.3h0M544.5 94.1h0M566.4 88.8h0M513.9 89.8h0M536.3 102.7h0M572.8 96.6h0M547.7 105.3h0M562.1 90.2h0M570.6 91.4h0M514.3 90.3h0M519.2 89.5h0M548.0 106.5h0M552.6 91.9h0M586.8 108.3h0M506.7 87.6h0M575.8 97.5h0M525.8 90.1h0M512.5 99.5h0M563.0 92.6h0M582.4 104.7h0M503.1 97.5h0M511.4 93.9h0M585.3 100.0h0M546.1 95.8h0M542.0 94.5h0M505.3 101.7h0M581.0 105.4h0M534.5 98.8h0M557.0 93.8h0M521.0 92.9h0M575.8 99.3h0M523.3 100.5h0M537.3 89.7h0M512.0 99.4h0M521.4 90.3h0M514.0 92.6h0M536.0 103.4h0M509.8 100.0h0M538.5 91.8h0M520.3 93.6h0M510.8 91.9h0M575.9 103.9h0M516.9 95.9h0M550.1 100.4h0M546.5 92.6h0M546.6 96.3h0M498.8 98.2h0M527.8 98.6h0M566.5 95.5h0M514.4 105.3h0M525.9 98.4h0M540.0 92.4h0M567.0 93.8h0M586.8 107.3h0M541.2 100.1h0M566.3 107.6h0M513.2 89.6h0M505.6 100.1h0M548.9 102.9h0M575.1 93.5h0M527.2 96.6h0M504.7 96.8h0" stroke="#b9bb5e" stroke-width="2.90" stroke-linecap="round" fill="none" stroke-opacity="0.85"/>
<path d="M587.4 95.4h0M568.5 103.6h0M547.1 102.4h0M566.6 88.5h0M520.9 95.8h0M580.2 104.1h0M545.7 94.9h0M566.5 95.2h0M503.8 95.0h0M554.3 89.6h0M582.9 91.4h0M587.0 97.1h0" stroke="#aec7e8" stroke-width="2.90" stroke-linecap="round" fill="none" stroke-opacity="0.85"/>
<path d="M562.6 102.5h0M584.0 99.8h0M500.6 101.7h0M586.2 98.2h0M526.9 89.8h0M510.3 98.4h0M563.3 91.6h0" stroke="#e377c2" stroke-width="2.90" stroke-linecap="round" fill="none" stroke-opacity="0.85"/>
<path d="M582.0 98.1h0M557.7 102.3h0M586.4 90.7h0M544.0 89.6h0M527.3 97.0h0M528.6 92.5h0M507.4 90.2h0" stroke="#ff9896" stroke-width="2.90" stroke-linecap="round" fill="none" stroke-opacity="0.85"/>
<path d="M522.9 96.0h0M558.0 106.0h0M566.2 93.8h0M568.5 97.0h0M528.7 104.1h0" stroke="#f7b6d2" stroke-width="2.90" stroke-linecap="round" fill="none" stroke-opacity="0.85"/>
<path d="M520.1 101.2h0M581.2 98.0h0M584.6 93.3h0M551.7 88.2h0M518.6 105.7h0" stroke="#98df8a" stroke-width="2.90" stroke-linecap="round" fill="none" stroke-opacity="0.85"/>
<path d="M539.5 91.0h0M527.9 104.5h0M570.0 93.9h0M505.9 99.1h0" stroke="#9467bd" stroke-width="2.90" stroke-linecap="round" fill="none" stroke-opacity="0.85"/>
<path d="M573.2 90.7h0M585.9 97.6h0M533.7 105.3h0M564.6 93.6h0" stroke="#2ca02c" stroke-width="2.90" stroke-linecap="round" fill="none" stroke-opacity="0.85"/>
<path d="M572.6 106.5h0" stroke="#ff7f0e" stroke-width="2.90" stroke-linecap="round" fill="none" stroke-opacity="0.85"/>
<path d="M506.8 92.0h0M563.7 94.5h0M567.9 102.1h0M548.0 99.7h0M581.2 94.1h0" stroke="#17becf" stroke-width="2.90" stroke-linecap="round" fill="none" stroke-opacity="0.85"/>
<path d="M510.7 92.9h0M551.1 94.0h0M530.9 101.4h0M524.3 100.8h0" stroke="#1f77b4" stroke-width="2.90" stroke-linecap="round" fill="none" stroke-opacity="0.85"/>
<path d="M544.5 87.8h0" stroke="#d62728" stroke-width="2.90" stroke-linecap="round" fill="none" stroke-opacity="0.85"/>
<path d="M523.4 87.3h0M529.5 95.2h0M508.6 89.5h0M505.7 99.2h0M569.4 89.1h0M567.0 104.4h0M530.0 101.0h0M511.5 95.6h0M508.3 102.9h0M568.8 107.6h0M549.7 96.7h0M555.4 90.1h0M586.0 89.7h0M576.3 107.9h0M527.6 104.9h0M537.5 97.4h0M550.5 105.3h0M512.8 95.5h0M545.4 91.5h0M552.9 105.7h0M529.0 96.4h0M552.2 103.1h0M525.5 88.2h0M526.8 106.0h0M536.5 104.4h0M549.1 101.9h0M573.4 90.6h0M567.6 92.6h0M497.6 105.1h0M539.6 102.7h0M546.7 92.9h0M522.6 89.4h0M505.7 102.5h0M562.0 91.4h0M517.8 101.4h0M582.9 100.6h0M524.2 104.5h0M503.5 90.6h0M586.1 91.0h0M560.1 101.7h0M528.8 100.6h0M506.0 87.2h0M546.8 97.1h0M515.8 97.0h0M529.2 101.7h0M545.1 94.8h0M574.1 105.9h0M502.6 93.8h0M574.3 106.2h0M520.5 98.2h0M575.4 90.7h0M591.1 92.5h0M549.6 94.2h0M541.0 95.4h0M564.7 93.4h0M554.1 92.3h0M544.3 104.3h0M571.4 97.4h0M587.3 96.2h0M560.2 96.0h0M544.6 95.0h0M574.2 97.1h0M494.9 103.9h0M547.6 89.1h0M568.5 90.7h0M566.7 104.5h0M524.2 100.8h0M508.8 99.4h0M535.3 97.1h0M555.3 104.1h0M537.7 89.9h0M579.4 89.7h0M517.1 95.2h0M572.7 100.4h0M535.8 95.6h0M577.8 93.4h0M515.5 103.1h0M547.9 92.6h0M537.6 89.4h0M520.5 88.4h0M558.2 97.9h0M563.5 103.8h0" stroke="#b9bb5e" stroke-width="2.90" stroke-linecap="round" fill="none" stroke-opacity="0.85"/>
<path d="M560.2 95.6h0M542.5 95.4h0M514.3 93.7h0M536.4 92.2h0M556.8 98.6h0M533.7 101.0h0M571.7 97.4h0M574.1 93.6h0M550.2 90.5h0M560.8 106.4h0M498.3 99.8h0M505.4 94.5h0" stroke="#aec7e8" stroke-width="2.90" stroke-linecap="round" fill="none" stroke-opacity="0.85"/>
<path d="M573.8 105.6h0M525.3 90.9h0M508.8 87.6h0M584.3 106.9h0M562.7 96.6h0M559.8 90.5h0M583.4 91.4h0" stroke="#e377c2" stroke-width="2.90" stroke-linecap="round" fill="none" stroke-opacity="0.85"/>
<path d="M570.4 93.3h0M585.4 99.7h0M526.2 94.2h0M556.2 98.9h0M549.0 92.6h0M525.0 88.8h0M539.1 87.5h0" stroke="#ff9896" stroke-width="2.90" stroke-linecap="round" fill="none" stroke-opacity="0.85"/>
<path d="M567.3 100.0h0M504.8 94.6h0M537.4 88.1h0M533.1 96.0h0M510.8 104.9h0" stroke="#f7b6d2" stroke-width="2.90" stroke-linecap="round" fill="none" stroke-opacity="0.85"/>
<path d="M568.1 100.2h0M574.4 92.2h0M551.0 94.8h0M516.7 94.6h0" stroke="#98df8a" stroke-width="2.90" stroke-linecap="round" fill="none" stroke-opacity="0.85"/>
<path d="M511.5 102.6h0M573.1 101.3h0M499.4 104.0h0M545.2 95.5h0" stroke="#9467bd" stroke-width="2.90" stroke-linecap="round" fill="none" stroke-opacity="0.85"/>
<path d="M570.1 97.0h0M517.6 91.0h0M502.6 95.5h0M534.9 88.7h0" stroke="#2ca02c" stroke-width="2.90" stroke-linecap="round" fill="none" stroke-opacity="0.85"/>
<path d="M545.9 100.9h0" stroke="#ff7f0e" stroke-width="2.90" stroke-linecap="round" fill="none" stroke-opacity="0.85"/>
<path d="M518.8 90.2h0M571.3 91.5h0M521.5 91.4h0M551.2 92.1h0M555.8 106.2h0" stroke="#17becf" stroke-width="2.90" stroke-linecap="round" fill="none" stroke-opacity="0.85"/>
<path d="M577.6 99.9h0M591.0 90.5h0M582.5 95.5h0M523.1 91.9h0" stroke="#1f77b4" stroke-width="2.90" stroke-linecap="round" fill="none" stroke-opacity="0.85"/>
<path d="M505.1 88.2h0" stroke="#d62728" stroke-width="2.90" stroke-linecap="round" fill="none" stroke-opacity="0.85"/>
<rect x="607.4" y="8.3" width="77" height="128.3" rx="1.5" fill="#fff" stroke="#d8d8d8" stroke-width="0.8"/>
<circle cx="617.8" cy="15.2" r="1.4" fill="#1f77b4"/>
<text x="631.0" y="17.8" font-size="7.3" fill="#222">Ambiguous</text>
<circle cx="617.8" cy="25.6" r="1.4" fill="#ff7f0e"/>
<text x="631.0" y="28.2" font-size="7.3" fill="#222">Astrocyte</text>
<circle cx="617.8" cy="35.9" r="1.4" fill="#2ca02c"/>
<text x="631.0" y="38.5" font-size="7.3" fill="#222">Endothelial 1</text>
<circle cx="617.8" cy="46.3" r="1.4" fill="#d62728"/>
<text x="631.0" y="48.9" font-size="7.3" fill="#222">Endothelial 2</text>
<circle cx="617.8" cy="56.6" r="1.4" fill="#9467bd"/>
<text x="631.0" y="59.2" font-size="7.3" fill="#222">Endothelial 3</text>
<circle cx="617.8" cy="67.0" r="1.4" fill="#e377c2"/>
<text x="631.0" y="69.6" font-size="7.3" fill="#222">Excitatory</text>
<circle cx="617.8" cy="77.4" r="1.4" fill="#bcbd22"/>
<text x="631.0" y="80.0" font-size="7.3" fill="#222">Inhibitory</text>
<circle cx="617.8" cy="87.7" r="1.4" fill="#17becf"/>
<text x="631.0" y="90.3" font-size="7.3" fill="#222">Microglia</text>
<circle cx="617.8" cy="98.1" r="1.4" fill="#aec7e8"/>
<text x="631.0" y="100.7" font-size="7.3" fill="#222">OD Immature 1</text>
<circle cx="617.8" cy="108.4" r="1.4" fill="#98df8a"/>
<text x="631.0" y="111.0" font-size="7.3" fill="#222">OD Mature 1</text>
<circle cx="617.8" cy="118.8" r="1.4" fill="#ff9896"/>
<text x="631.0" y="121.4" font-size="7.3" fill="#222">OD Mature 2</text>
<circle cx="617.8" cy="129.2" r="1.4" fill="#f7b6d2"/>
<text x="631.0" y="131.8" font-size="7.3" fill="#222">Pericytes</text>
<text x="1.0" y="182.5" font-size="16" font-weight="bold">e</text>
<text x="30.0" y="182.0" font-size="14.5">NeST 3D Regions</text>
<text x="195.5" y="238.0" font-size="11" transform="rotate(-90 195.5 238.0)">high z</text>
<text x="189.8" y="542.8" font-size="11" transform="rotate(-90 189.8 542.8)">low z</text>
<polygon points="32.2,528.0 177.5,527.2 144.7,571.3 5.1,558.8" fill="none" stroke="#000" stroke-width="0.8" stroke-linejoin="round"/>
<polygon points="33.1,498.7 177.7,499.0 144.8,541.7 4.9,529.2" fill="none" stroke="#000" stroke-width="0.8" stroke-linejoin="round"/>
<polygon points="34.1,469.2 178.0,470.2 144.8,511.4 4.6,499.5" fill="none" stroke="#000" stroke-width="0.8" stroke-linejoin="round"/>
<polygon points="35.0,439.5 178.2,440.8 144.9,480.6 4.4,469.5" fill="none" stroke="#000" stroke-width="0.8" stroke-linejoin="round"/>
<polygon points="35.9,409.7 178.5,411.8 144.9,450.1 4.1,439.4" fill="none" stroke="#000" stroke-width="0.8" stroke-linejoin="round"/>
<polygon points="36.8,379.6 178.7,382.4 145.0,419.3 3.9,409.0" fill="none" stroke="#000" stroke-width="0.8" stroke-linejoin="round"/>
<polygon points="37.8,349.3 179.0,352.5 145.0,387.9 3.6,378.5" fill="none" stroke="#000" stroke-width="0.8" stroke-linejoin="round"/>
<polygon points="38.7,318.9 179.2,323.1 145.1,357.1 3.4,347.8" fill="none" stroke="#000" stroke-width="0.8" stroke-linejoin="round"/>
<polygon points="39.6,288.3 179.5,293.0 145.1,325.5 3.1,316.9" fill="none" stroke="#000" stroke-width="0.8" stroke-linejoin="round"/>
<polygon points="40.5,257.4 179.7,263.5 145.2,294.6 2.9,285.8" fill="none" stroke="#000" stroke-width="0.8" stroke-linejoin="round"/>
<polygon points="41.5,226.4 180.0,233.1 145.2,262.7 2.6,254.5" fill="none" stroke="#000" stroke-width="0.8" stroke-linejoin="round"/>
<polygon points="42.4,195.2 180.2,201.8 145.3,230.0 2.4,223.0" fill="none" stroke="#000" stroke-width="0.8" stroke-linejoin="round"/>
<polygon points="32.7,529.9 37.2,529.9 41.6,529.9 46.1,529.9 50.5,529.9 55.0,529.9 59.4,529.9 64.0,529.9 64.8,531.0 65.2,532.1 63.5,533.2 62.4,534.3 62.8,535.4 62.3,536.5 59.5,539.5 28.0,538.7 28.0,538.7 30.1,534.9 30.6,533.9 31.1,532.9 31.7,531.9 32.2,530.9 32.7,529.9" fill="#d42a2e"/>
<polygon points="59.4,529.9 63.9,529.9 68.3,529.9 72.8,529.9 77.2,529.9 81.6,529.9 86.1,529.9 90.5,529.9 95.0,529.9 99.4,529.9 104.0,529.9 103.6,531.1 102.7,532.3 103.8,533.5 104.8,534.8 103.5,536.0 102.2,537.2 98.7,540.6 54.2,539.4 54.7,539.4 57.0,535.3 57.7,534.2 59.0,533.1 59.0,532.0 58.7,531.0 60.7,529.9" fill="#7a57a5"/>
<polygon points="99.4,529.9 103.9,529.9 108.3,529.9 112.8,529.9 120.7,529.9 118.4,531.1 117.4,532.4 116.9,533.7 115.3,534.9 114.7,536.2 115.1,537.5 111.8,540.9 93.5,540.4 92.7,540.4 95.2,535.9 94.3,534.7 94.7,533.5 97.1,532.3 98.6,531.1 99.7,529.9" fill="#4466b5"/>
<polygon points="112.8,529.9 117.8,529.9 122.8,529.9 127.8,529.9 132.8,529.9 139.3,529.9 138.5,531.2 136.5,532.5 134.8,533.8 135.2,535.1 134.8,536.5 132.8,537.8 131.5,541.4 106.6,540.8 106.9,540.8 108.1,536.1 108.7,534.8 108.8,533.6 108.3,532.3 110.1,531.1 112.7,529.9" fill="#1d5c35"/>
<polygon points="132.8,529.9 137.2,529.9 141.7,529.9 146.1,529.9 151.5,529.9 150.3,531.2 148.6,532.6 148.5,533.9 148.0,535.3 147.0,536.7 147.8,538.1 144.6,541.8 126.3,541.3 127.5,541.3 129.5,536.4 129.7,535.1 131.9,533.8 133.6,532.5 133.7,531.2 134.5,529.9" fill="#4466b5"/>
<polygon points="146.1,529.9 151.1,529.9 156.1,529.8 161.1,529.8 166.1,529.8 166.1,529.8 165.3,531.3 164.5,532.7 163.7,534.1 162.9,535.5 162.0,536.9 161.2,538.3 159.0,542.1 139.3,541.6 140.4,541.7 142.4,536.6 140.9,535.2 141.3,533.9 142.9,532.5 143.5,531.2 144.8,529.9" fill="#135e5e"/>
<polygon points="29.5,535.9 34.0,535.8 38.7,535.4 43.0,535.6 47.1,536.2 51.5,536.2 56.2,535.8 60.6,535.9 64.9,536.1 69.5,535.8 73.9,535.9 77.8,536.8 81.8,537.6 88.3,537.0 88.5,537.9 88.0,538.7 87.6,539.6 87.9,540.5 87.9,541.4 86.5,542.3 82.7,545.5 25.6,543.2 25.6,543.2 27.5,539.7 27.9,538.9 28.3,538.2 28.7,537.4 29.1,536.7 29.5,535.9" fill="#7a57a5"/>
<polygon points="81.8,537.6 86.2,537.6 90.6,537.8 94.8,538.1 102.1,537.2 101.7,538.1 100.7,539.0 98.7,539.9 96.8,540.7 96.2,541.6 96.4,542.6 95.7,546.0 77.6,545.3 76.0,545.2 78.4,541.1 78.4,540.3 78.4,539.4 79.5,538.6 81.2,537.7 82.3,536.9" fill="#4466b5"/>
<polygon points="94.8,538.1 99.4,537.9 104.1,537.3 108.4,537.5 113.8,537.4 111.9,538.3 110.0,539.2 109.4,540.2 109.8,541.1 109.8,542.0 109.3,543.0 108.7,546.5 90.5,545.8 91.4,545.8 92.7,541.5 93.2,540.7 93.8,539.8 93.7,538.9 93.6,538.0 94.5,537.1" fill="#1b8a3e"/>
<polygon points="108.4,537.5 112.6,538.1 117.0,538.0 121.6,537.8 128.8,537.7 129.2,538.7 128.2,539.6 126.8,540.6 126.2,541.5 125.8,542.5 124.6,543.4 121.7,547.0 103.5,546.3 100.9,546.2 104.6,541.9 106.7,541.0 107.8,540.1 108.2,539.2 109.0,538.3 110.2,537.4" fill="#1d5c35"/>
<polygon points="121.6,537.8 125.9,538.0 130.4,537.9 135.4,536.9 140.1,536.5 144.3,536.9 148.5,537.2 153.0,537.2 157.0,537.9 161.0,538.6 161.2,538.3 160.6,539.3 160.0,540.3 159.4,541.4 158.8,542.4 158.2,543.4 157.6,544.5 155.4,548.3 116.5,546.8 116.7,546.8 120.0,542.3 120.8,541.4 121.0,540.4 121.7,539.5 123.2,538.6 124.4,537.6" fill="#7b1a4b"/>
<polygon points="27.2,540.4 31.4,540.7 36.1,540.3 40.6,540.0 44.9,540.2 49.3,540.3 53.8,540.2 57.8,540.9 61.7,541.9 66.0,542.2 72.1,541.8 71.2,542.6 71.0,543.4 71.3,544.2 70.8,545.0 69.3,545.7 67.5,546.5 67.1,549.7 23.4,547.5 23.4,547.5 25.3,543.9 25.6,543.2 26.0,542.5 26.4,541.8 26.8,541.1 27.1,540.4" fill="#7a57a5"/>
<polygon points="66.0,542.2 71.0,542.2 75.7,542.6 80.7,542.6 85.9,542.3 90.4,542.4 90.4,543.2 89.7,544.0 89.2,544.9 89.4,545.7 89.4,546.6 88.5,547.4 86.4,550.7 62.0,549.5 62.4,549.5 65.6,545.6 67.3,544.9 67.9,544.1 67.5,543.3 67.0,542.4 67.2,541.7" fill="#16aac8"/>
<polygon points="85.9,542.3 90.0,542.7 94.0,543.5 98.4,543.5 102.8,542.8 101.7,543.6 101.1,544.4 101.5,545.3 102.0,546.2 101.6,547.1 100.3,547.9 99.3,551.4 81.3,550.5 82.8,550.6 84.7,546.4 85.2,545.6 85.5,544.7 84.9,543.9 83.8,543.0 83.4,542.2" fill="#1b8a3e"/>
<polygon points="98.4,543.5 103.0,543.2 107.4,543.4 111.9,543.2 116.8,543.2 116.9,544.1 117.8,545.0 118.3,546.0 117.6,546.8 116.5,547.7 115.9,548.6 112.2,552.1 94.2,551.1 94.5,551.2 96.8,546.9 96.7,546.0 97.2,545.2 98.2,544.3 98.9,543.5 98.9,542.6" fill="#1d5c35"/>
<polygon points="111.9,543.2 117.4,542.3 122.5,542.1 127.0,542.8 131.9,543.0 136.7,543.8 136.1,544.7 136.0,545.7 135.7,546.6 134.3,547.5 132.4,548.4 131.0,549.3 131.5,553.1 107.0,551.8 107.2,551.8 109.2,547.4 109.3,546.5 110.2,545.7 111.2,544.8 111.2,543.9 110.4,543.0" fill="#7a57a5"/>
<polygon points="131.9,543.0 137.1,543.2 142.0,544.0 147.4,543.7 152.9,543.5 157.7,544.4 157.6,544.5 157.1,545.4 156.5,546.4 156.0,547.4 155.4,548.3 154.9,549.3 154.3,550.3 152.0,554.2 126.3,552.8 127.1,552.9 129.3,548.2 130.1,547.3 131.5,546.5 132.2,545.5 131.7,544.6 130.9,543.6" fill="#7b1a4b"/>
<polygon points="25.2,544.1 29.7,543.9 33.8,544.5 37.9,545.1 42.3,545.0 46.8,545.0 51.0,545.4 55.4,545.5 59.9,545.2 64.1,545.7 68.0,546.5 67.9,547.3 67.1,548.1 66.2,548.9 66.1,549.7 67.1,550.6 68.0,551.4 64.5,554.6 21.1,551.7 21.1,551.7 23.0,548.2 23.4,547.5 23.8,546.7 24.1,546.0 24.5,545.3 24.9,544.6" fill="#b7afdb"/>
<polygon points="64.1,545.7 67.9,546.7 72.0,547.3 76.3,547.5 82.0,547.1 82.4,548.0 82.9,548.9 82.4,549.7 81.1,550.5 79.8,551.2 79.2,552.1 77.3,555.4 59.4,554.2 59.0,554.2 61.4,550.2 61.1,549.4 61.0,548.6 61.6,547.8 62.3,547.1 62.4,546.3" fill="#7a57a5"/>
<polygon points="76.3,547.5 78.4,547.7 80.4,548.1 82.5,548.4 89.8,547.5 89.8,548.3 89.9,549.2 89.2,550.0 87.5,550.8 86.0,551.6 85.6,552.4 83.6,555.8 72.1,555.0 70.6,554.9 73.0,550.9 73.5,550.1 74.6,549.3 76.5,548.5 78.0,547.8 78.4,547.0" fill="#16aac8"/>
<polygon points="82.5,548.4 84.6,548.4 86.9,548.3 89.3,548.0 96.0,547.7 94.8,548.5 93.4,549.4 92.8,550.2 93.2,551.1 93.4,552.0 92.6,552.8 90.0,556.2 78.5,555.5 77.5,555.4 79.6,551.2 80.1,550.4 80.2,549.6 79.7,548.7 79.8,547.9 81.1,547.1" fill="#1b8a3e"/>
<polygon points="89.3,548.0 93.9,547.7 98.0,548.1 102.3,548.5 108.7,548.3 107.4,549.1 106.9,550.0 107.1,550.9 107.0,551.8 106.3,552.7 105.6,553.6 102.8,557.0 84.9,555.9 84.2,555.8 85.7,551.6 86.2,550.7 87.7,549.9 89.2,549.2 90.0,548.3 90.6,547.5" fill="#8b1620"/>
<polygon points="102.3,548.5 106.8,548.4 111.0,548.6 115.2,549.1 120.3,548.8 118.7,549.6 117.2,550.5 116.7,551.4 117.0,552.3 117.0,553.3 116.5,554.2 115.5,557.9 97.7,556.7 98.3,556.7 100.2,552.4 101.1,551.5 102.1,550.7 102.4,549.8 102.4,548.9 102.9,548.0" fill="#7a57a5"/>
<polygon points="115.2,549.1 119.8,548.7 124.7,547.9 129.1,547.9 133.3,548.4 137.7,548.4 141.9,548.7 145.7,549.8 149.7,550.5 154.3,550.3 154.3,550.3 153.7,551.2 153.2,552.2 152.6,553.2 152.0,554.2 151.5,555.1 150.9,556.1 148.7,560.0 110.4,557.5 110.6,557.5 113.2,553.1 114.1,552.2 114.4,551.3 114.3,550.4 114.7,549.5 115.9,548.6" fill="#a5cb3c"/>
<polygon points="23.1,548.1 27.3,549.0 31.7,549.6 36.2,550.0 40.5,550.9 44.9,551.3 49.9,550.9 54.6,550.9 59.8,551.0 59.8,551.8 60.6,552.8 61.3,553.7 60.6,554.5 59.0,555.3 57.9,556.1 55.3,559.2 18.7,556.3 18.7,556.3 20.6,552.7 21.0,551.9 21.4,551.2 21.8,550.4 22.2,549.6 22.6,548.9" fill="#b7afdb"/>
<polygon points="54.6,550.9 58.8,551.3 63.1,551.4 67.5,551.4 71.7,551.9 75.8,552.5 80.4,552.1 85.1,551.6 89.4,551.7 93.7,551.9 96.6,553.1 96.8,554.0 96.2,554.9 95.4,555.8 95.3,556.8 95.5,557.8 94.9,558.7 93.3,562.2 50.3,558.8 51.4,558.9 54.4,555.0 55.1,554.2 54.4,553.2 53.3,552.3 53.1,551.4 53.5,550.6" fill="#5a3a12"/>
<polygon points="93.7,551.9 98.7,551.8 103.3,552.6 107.5,553.9 112.4,554.0 116.2,554.2 116.3,555.2 116.6,556.2 115.8,557.1 114.2,558.0 112.9,558.9 112.6,559.9 112.2,563.7 88.2,561.8 89.2,561.9 92.0,557.5 91.9,556.6 91.9,555.6 92.4,554.7 92.8,553.8 92.2,552.8" fill="#7a57a5"/>
<polygon points="112.4,554.0 116.8,554.1 120.8,554.7 125.1,554.9 129.6,554.8 133.7,555.4 137.4,556.5 141.6,557.0 146.1,556.8 150.4,557.0 150.9,556.1 150.3,557.2 149.7,558.2 149.1,559.2 148.5,560.3 147.9,561.3 147.3,562.4 145.1,566.3 107.2,563.3 107.1,563.3 109.6,558.7 110.8,557.8 112.1,556.9 112.4,555.9 112.0,554.9 112.2,553.9" fill="#a5cb3c"/>
<polygon points="19.9,554.1 24.3,554.0 28.7,554.1 32.7,554.8 36.7,555.5 41.1,555.6 45.4,555.7 48.3,555.4 48.6,556.3 48.2,557.1 47.7,558.0 47.9,558.9 48.7,559.8 48.8,560.7 48.0,560.6 17.8,558.1 17.8,558.1 18.2,557.3 18.6,556.5 19.0,555.8 19.4,555.0 19.8,554.2 20.2,553.5" fill="#b7afdb"/>
<polygon points="45.4,555.7 49.6,556.1 54.1,555.9 58.8,555.3 63.1,555.4 67.2,556.1 71.4,556.3 75.7,556.6 79.6,557.4 83.8,557.9 89.6,558.3 89.0,559.2 87.9,560.1 87.0,561.0 87.1,562.0 87.3,562.9 86.3,563.8 85.8,563.8 43.0,560.2 42.2,560.1 42.8,559.3 43.4,558.5 43.0,557.6 42.2,556.7 42.4,555.9 43.8,555.1" fill="#5a3a12"/>
<polygon points="83.8,557.9 88.3,557.7 92.7,557.7 96.6,558.5 100.7,559.2 104.9,559.5 108.8,560.4 112.6,561.5 116.9,561.6 121.6,561.2 125.9,560.9 126.8,562.0 127.2,563.0 126.2,564.0 124.9,565.0 124.3,566.0 124.3,567.0 123.6,566.9 80.7,563.4 80.8,563.4 82.6,562.6 83.5,561.7 83.9,560.8 84.8,559.9 85.9,559.0 86.1,558.1" fill="#b7afdb"/>
<polygon points="121.6,561.2 126.7,561.4 131.9,561.5 137.4,561.3 142.1,562.2 147.1,562.8 147.3,562.4 146.7,563.4 146.1,564.5 145.5,565.5 144.9,566.5 144.3,567.6 143.7,568.6 143.7,568.6 118.5,566.5 117.8,566.5 117.9,565.4 119.3,564.5 120.9,563.6 121.9,562.6 122.4,561.6 123.6,560.7" fill="#a5cb3c"/>
<path d="M81.3 531.1h0M127.4 545.9h0M50.2 545.2h0M39.8 535.8h0M50.9 536.0h0M59.1 539.4h0M45.3 543.0h0M75.2 548.5h0M96.6 557.9h0M81.8 531.8h0M65.5 531.2h0M42.5 537.5h0M38.3 537.9h0M72.9 536.8h0M61.2 531.9h0M85.8 530.7h0M100.1 553.9h0M103.5 555.9h0M66.9 539.8h0M64.7 536.1h0M55.7 539.6h0M46.4 536.6h0M90.4 531.3h0M45.9 542.4h0M40.9 537.4h0M127.9 548.4h0M38.7 540.5h0M92.3 532.8h0M106.9 555.6h0M57.9 536.4h0M63.4 532.0h0M86.6 534.1h0M81.1 541.5h0M93.0 553.4h0M57.5 543.0h0M92.2 534.0h0M129.7 548.5h0M45.4 542.7h0M66.9 532.2h0M63.9 535.6h0M107.7 555.0h0M102.0 559.2h0M92.3 557.8h0M114.7 553.5h0M28.9 545.0h0M111.2 553.3h0M84.5 532.3h0M83.1 536.7h0M102.1 556.0h0M62.0 545.2h0M72.4 537.4h0M124.0 547.4h0M35.2 539.9h0M102.0 555.6h0M88.9 539.6h0M123.0 546.2h0M38.0 540.6h0M120.9 547.6h0M36.0 544.3h0M69.2 538.1h0M38.4 539.3h0M65.0 530.7h0M113.5 551.8h0M121.5 549.1h0M33.8 536.0h0" stroke="#7a57a5" stroke-width="1.80" stroke-linecap="round" fill="none"/>
<path d="M89.4 539.7h0M105.6 535.3h0M89.9 535.9h0M97.5 537.9h0M94.6 536.5h0M98.9 533.6h0M93.1 538.5h0M140.0 531.3h0M93.7 542.7h0M101.0 534.3h0M143.2 534.4h0M105.8 532.5h0M85.3 542.6h0M92.7 532.8h0M110.0 536.0h0M107.3 531.1h0M134.1 533.4h0M141.7 536.1h0" stroke="#4466b5" stroke-width="1.80" stroke-linecap="round" fill="none"/>
<path d="M112.5 534.0h0M99.4 546.1h0M125.1 533.3h0M129.3 532.8h0M101.7 548.9h0M132.9 531.5h0M102.5 547.5h0M114.3 541.4h0M133.5 530.3h0M122.5 537.5h0M119.1 534.5h0M116.8 535.2h0M107.4 534.1h0M121.7 536.2h0M112.2 540.1h0M113.2 533.1h0M126.6 540.7h0M106.7 547.8h0M118.3 531.6h0" stroke="#1d5c35" stroke-width="1.80" stroke-linecap="round" fill="none"/>
<path d="M131.1 549.4h0M152.1 540.7h0M139.0 543.7h0M133.1 549.8h0M141.2 544.1h0M126.5 541.3h0M128.5 542.7h0M147.3 542.2h0M129.9 547.6h0M141.7 544.0h0M155.6 540.6h0M149.2 535.3h0M139.6 537.9h0M148.9 542.4h0M152.6 539.8h0M144.6 545.4h0M132.7 541.9h0M142.0 542.9h0M143.0 544.3h0M121.6 538.5h0" stroke="#7b1a4b" stroke-width="1.80" stroke-linecap="round" fill="none"/>
<path d="M44.2 551.1h0M28.0 546.6h0M54.6 552.3h0M104.2 560.7h0M64.0 549.4h0M59.6 550.4h0M46.3 549.7h0M42.5 554.1h0M59.6 546.3h0M47.1 557.3h0M37.5 547.0h0M114.2 564.7h0M32.3 549.0h0M25.5 557.5h0M100.3 561.1h0M53.1 545.9h0M118.8 558.1h0M96.0 562.2h0M32.9 544.7h0M50.7 549.1h0M57.9 545.8h0M50.9 548.4h0M28.7 550.4h0M108.1 563.7h0M21.7 558.0h0M40.4 555.0h0M32.9 556.0h0M43.0 556.8h0M58.2 544.6h0M30.7 548.4h0M50.1 553.6h0M36.3 555.4h0M40.1 547.0h0M35.4 549.7h0M55.7 551.1h0M27.4 555.7h0" stroke="#b7afdb" stroke-width="1.80" stroke-linecap="round" fill="none"/>
<path d="M50.3 556.2h0M44.4 556.6h0M59.5 560.0h0M62.1 555.2h0M88.9 558.0h0M77.1 556.7h0M82.4 553.5h0M80.8 551.1h0M52.8 556.3h0M68.6 558.8h0M67.4 549.9h0M74.6 559.8h0M69.3 561.1h0M79.8 559.7h0M61.3 553.8h0M53.3 552.7h0M68.4 560.1h0M66.6 555.8h0M63.4 549.0h0M74.0 559.3h0M78.3 553.1h0M70.3 554.0h0" stroke="#5a3a12" stroke-width="1.80" stroke-linecap="round" fill="none"/>
<path d="M38.7 534.7h0M50.8 535.6h0M49.5 530.3h0M35.1 533.6h0M48.9 532.0h0M34.9 532.7h0M42.5 530.2h0M61.0 534.9h0M40.4 536.6h0M38.1 530.8h0M49.1 531.7h0M50.5 534.4h0M42.2 531.6h0" stroke="#d42a2e" stroke-width="1.80" stroke-linecap="round" fill="none"/>
<path d="M89.4 544.5h0M100.8 543.8h0M93.9 535.5h0M102.1 538.8h0M84.8 547.8h0M98.1 543.3h0M104.1 535.2h0M85.4 543.1h0M88.4 540.8h0M96.2 542.2h0M88.5 542.1h0M104.2 539.1h0M97.0 544.6h0M92.2 543.0h0M105.5 538.2h0" stroke="#1b8a3e" stroke-width="1.80" stroke-linecap="round" fill="none"/>
<path d="M70.2 543.9h0M67.6 543.5h0M72.7 544.4h0M81.0 549.6h0M80.4 551.8h0M84.9 550.0h0M77.1 546.5h0M73.5 540.9h0" stroke="#16aac8" stroke-width="1.80" stroke-linecap="round" fill="none"/>
<path d="M145.0 559.2h0M124.1 555.5h0M132.3 566.5h0M116.0 561.3h0M136.6 565.9h0M131.3 562.6h0M123.5 556.4h0M123.6 563.7h0M145.1 550.6h0M111.9 554.1h0M129.1 565.4h0M139.8 553.6h0M121.6 557.0h0M122.7 552.7h0M128.8 549.7h0M126.1 556.0h0M140.7 567.2h0M129.2 557.9h0M127.3 553.4h0M137.4 563.2h0M152.4 550.4h0M145.0 553.5h0M142.4 552.7h0M123.7 557.0h0M126.1 563.4h0M118.5 554.4h0M113.2 558.5h0M127.1 557.6h0M147.7 545.4h0" stroke="#a5cb3c" stroke-width="1.80" stroke-linecap="round" fill="none"/>
<path d="M147.3 530.6h0M143.3 536.5h0M148.9 530.6h0M150.0 536.3h0M159.4 538.8h0M160.1 536.3h0M155.4 532.9h0M155.1 536.5h0M153.0 536.9h0M136.1 542.0h0M152.6 540.9h0M149.4 531.2h0M155.5 533.4h0M149.4 533.8h0" stroke="#135e5e" stroke-width="1.80" stroke-linecap="round" fill="none"/>
<path d="M87.4 551.1h0" stroke="#8b1620" stroke-width="1.80" stroke-linecap="round" fill="none"/>
<polygon points="99.9,533.8 113.1,534.0 100.9,548.6 87.9,548.1" fill="#1d5c35"/>
<polygon points="95.4,531.2 102.7,531.2 81.7,555.7 74.7,555.2" fill="#1b8a3e"/>
<path d="M44.4 546.4h0M125.2 562.7h0M128.7 533.0h0M131.9 552.5h0M58.3 555.9h0M121.7 559.4h0M60.0 546.5h0M79.6 539.5h0M119.1 550.4h0M70.3 546.0h0M139.4 549.7h0M137.7 549.6h0M156.9 532.7h0M85.1 546.9h0" stroke="#8a70c0" stroke-width="1.80" stroke-linecap="round" fill="none"/>
<polygon points="33.6,500.6 38.0,500.6 42.4,500.6 46.9,500.7 51.3,500.7 55.7,500.7 60.2,500.8 66.7,500.8 66.2,501.9 64.5,503.0 61.6,504.0 60.8,505.1 61.1,506.2 60.2,507.3 59.9,510.3 28.5,509.4 28.5,509.4 30.7,505.6 31.3,504.6 31.9,503.6 32.4,502.6 33.0,501.6 33.6,500.6" fill="#d42a2e"/>
<polygon points="60.2,500.8 64.6,500.8 69.0,500.8 73.4,500.8 77.9,500.9 82.3,500.9 86.7,500.9 91.5,501.0 90.8,502.1 90.7,503.3 92.2,504.5 92.0,505.7 90.2,506.8 89.4,508.0 86.0,511.1 54.7,510.2 54.4,510.2 57.6,506.1 58.1,505.1 59.6,504.0 60.3,502.9 59.6,501.8 60.6,500.8" fill="#7a57a5"/>
<polygon points="86.7,500.9 91.1,501.0 95.6,501.0 100.0,501.0 107.0,501.1 105.6,502.3 105.0,503.5 104.2,504.7 101.4,505.8 99.3,507.0 99.3,508.2 99.1,511.5 80.8,511.0 79.6,510.9 82.4,506.7 82.4,505.5 83.5,504.4 85.3,503.2 85.2,502.1 84.7,500.9" fill="#4466b5"/>
<polygon points="100.0,501.0 104.4,501.1 108.8,501.1 113.3,501.1 117.7,501.2 122.1,501.2 126.5,501.2 131.0,501.2 135.4,501.3 139.8,501.3 143.7,501.3 143.7,502.6 143.4,504.0 141.2,505.2 140.2,506.5 140.8,507.9 140.6,509.2 138.3,512.8 93.9,511.4 94.2,511.4 97.0,507.0 98.6,505.8 99.0,504.6 99.9,503.4 101.6,502.2 101.0,501.0" fill="#7a57a5"/>
<polygon points="139.8,501.3 145.1,501.3 150.4,501.4 155.8,501.4 161.1,501.5 166.4,501.5 166.4,501.5 165.6,502.9 164.7,504.2 163.9,505.6 163.1,506.9 162.3,508.3 161.4,509.7 159.2,513.4 133.1,512.6 133.7,512.6 136.8,507.8 135.9,506.5 134.9,505.1 136.2,503.9 137.4,502.6 138.0,501.3" fill="#135e5e"/>
<polygon points="30.5,506.0 35.5,506.0 40.3,506.3 44.9,507.0 49.9,506.9 53.0,507.1 51.9,507.9 51.9,508.7 52.9,509.5 53.4,510.3 52.8,511.1 51.8,511.9 50.6,514.9 26.0,513.8 26.0,513.8 28.0,510.3 28.4,509.5 28.9,508.8 29.3,508.1 29.7,507.3 30.1,506.6" fill="#a5cb3c"/>
<polygon points="49.9,506.9 54.9,506.6 59.4,507.0 63.9,507.4 68.6,507.5 73.0,508.1 77.2,509.0 82.0,508.9 86.3,507.9 86.2,508.8 85.7,509.6 84.5,510.4 83.9,511.3 84.6,512.2 85.8,513.1 83.0,516.3 45.4,514.6 46.8,514.7 49.2,511.0 49.0,510.2 48.6,509.4 49.2,508.6 50.7,507.9 51.8,507.1" fill="#7a57a5"/>
<polygon points="82.0,508.9 86.7,508.5 91.1,508.5 95.6,508.5 101.8,508.3 100.3,509.1 99.3,510.0 98.9,510.9 97.9,511.7 96.1,512.6 94.8,513.4 96.0,516.8 77.8,516.0 77.8,516.0 79.3,512.0 79.9,511.2 81.3,510.4 82.2,509.5 81.9,508.7 81.3,507.8" fill="#6f8b73"/>
<polygon points="95.6,508.5 97.9,508.2 100.3,508.0 102.6,507.9 106.9,508.4 106.1,509.3 106.0,510.2 105.8,511.1 104.6,511.9 102.7,512.8 101.8,513.7 102.4,517.1 90.8,516.6 91.8,516.7 93.7,512.5 94.0,511.6 95.0,510.8 96.0,509.9 95.7,509.0 94.6,508.1" fill="#1b8a3e"/>
<polygon points="102.6,507.9 106.8,508.3 110.9,508.8 115.5,508.6 121.7,508.7 121.3,509.7 121.5,510.6 121.0,511.5 119.2,512.4 117.1,513.3 115.9,514.2 115.4,517.7 97.3,516.9 96.3,516.8 98.7,512.7 98.9,511.8 99.7,510.9 101.0,510.0 101.5,509.2 101.0,508.3" fill="#1d5c35"/>
<polygon points="115.5,508.6 121.1,508.1 126.3,508.3 131.9,507.8 137.3,507.7 142.0,508.9 146.7,509.3 145.5,510.3 145.0,511.3 145.0,512.2 144.4,513.2 143.3,514.2 142.8,515.1 141.3,518.8 110.2,517.4 111.0,517.5 112.9,513.1 113.6,512.2 115.3,511.4 116.9,510.5 117.4,509.6 117.1,508.6" fill="#7a57a5"/>
<polygon points="142.0,508.9 146.6,509.4 151.5,509.6 156.1,510.3 161.0,510.4 161.4,509.7 160.8,510.7 160.2,511.7 159.6,512.7 159.0,513.7 158.4,514.7 157.8,515.7 155.6,519.4 136.1,518.6 137.2,518.6 140.7,514.1 141.3,513.1 140.6,512.1 139.7,511.1 139.7,510.1 140.3,509.2" fill="#7b1a4b"/>
<polygon points="27.2,511.6 31.9,511.3 36.2,511.5 40.3,512.0 44.7,511.6 45.3,512.4 45.0,513.1 43.8,513.8 42.6,514.5 42.3,515.3 42.1,516.0 41.6,519.0 23.6,518.0 23.6,518.0 25.6,514.5 26.0,513.8 26.4,513.1 26.8,512.4 27.2,511.7 27.6,511.0" fill="#a5cb3c"/>
<polygon points="40.3,512.0 45.0,512.1 49.6,512.3 54.1,512.9 58.8,512.8 64.0,512.1 68.9,511.9 73.5,512.1 79.9,512.9 79.3,513.7 78.0,514.4 77.0,515.2 77.1,516.0 77.8,516.9 77.7,517.7 73.7,520.8 36.5,518.7 34.9,518.6 37.3,515.0 38.1,514.3 38.3,513.6 38.4,512.9 39.4,512.2 41.4,511.5" fill="#7a57a5"/>
<polygon points="73.5,512.1 78.6,511.8 83.5,512.1 87.9,513.1 92.8,513.2 98.0,513.5 97.6,514.4 98.0,515.2 98.1,516.1 97.4,516.9 96.7,517.7 96.6,518.6 93.0,521.8 68.6,520.5 68.7,520.5 70.4,516.5 69.8,515.7 70.1,514.9 71.3,514.2 72.5,513.4 73.1,512.6" fill="#16aac8"/>
<polygon points="92.8,513.2 95.1,513.0 97.4,512.9 99.6,513.0 104.7,513.8 105.5,514.7 105.2,515.5 104.4,516.3 104.0,517.2 103.9,518.0 103.3,518.9 99.5,522.2 87.9,521.5 87.1,521.5 91.1,517.5 92.7,516.7 93.1,515.9 93.0,515.0 93.5,514.2 94.4,513.4" fill="#1b8a3e"/>
<polygon points="99.6,513.0 101.6,513.2 103.7,513.5 105.9,513.6 109.3,513.9 110.1,514.8 110.0,515.7 109.3,516.5 108.9,517.4 109.1,518.3 108.9,519.1 105.9,522.5 94.3,521.9 95.5,521.9 99.3,517.8 100.3,517.0 100.1,516.2 99.7,515.3 99.9,514.4 100.4,513.6" fill="#8b1620"/>
<polygon points="105.9,513.6 110.7,513.5 115.1,514.0 119.1,515.2 123.6,515.7 128.5,515.5 133.1,515.8 137.8,515.7 142.6,515.1 142.6,516.0 142.3,517.0 141.3,517.9 140.4,518.8 140.2,519.7 140.2,520.6 138.0,524.3 100.7,522.2 101.5,522.3 104.1,518.0 103.5,517.2 102.5,516.3 102.3,515.4 103.0,514.6 103.9,513.7" fill="#7a57a5"/>
<polygon points="137.8,515.7 143.3,515.0 148.2,515.1 152.8,515.8 157.8,515.7 157.8,515.7 157.3,516.6 156.7,517.5 156.1,518.5 155.6,519.4 155.0,520.4 154.4,521.3 152.2,525.1 132.9,524.0 135.0,524.1 138.2,519.6 138.3,518.7 137.4,517.7 136.7,516.7 136.9,515.8 137.8,514.9" fill="#7b1a4b"/>
<polygon points="25.3,515.1 29.7,515.1 33.8,515.7 38.0,516.0 42.4,516.1 46.4,516.8 50.3,517.7 54.7,517.7 59.4,517.4 63.7,517.5 68.9,517.3 67.6,518.0 65.8,518.7 64.7,519.5 64.9,520.3 65.4,521.1 65.4,521.9 64.6,525.1 21.2,522.2 21.2,522.2 23.2,518.7 23.6,518.0 24.0,517.3 24.4,516.6 24.8,515.9 25.2,515.2" fill="#b7afdb"/>
<polygon points="63.7,517.5 68.7,517.4 74.0,516.9 78.8,517.2 83.3,518.0 88.6,518.2 88.4,519.0 88.5,519.9 88.0,520.7 87.0,521.5 86.4,522.3 86.4,523.1 83.7,526.4 59.5,524.8 59.4,524.8 61.3,520.9 60.5,520.0 60.1,519.2 60.8,518.5 62.0,517.7 62.8,517.0" fill="#16aac8"/>
<polygon points="83.3,518.0 85.5,518.0 87.8,517.9 90.1,517.8 93.3,518.4 92.6,519.2 92.2,520.1 92.6,520.9 93.2,521.8 92.8,522.7 91.6,523.5 90.1,526.8 78.6,526.1 80.3,526.2 82.7,522.1 83.6,521.3 84.2,520.5 83.6,519.6 82.5,518.7 82.0,517.9" fill="#1b8a3e"/>
<polygon points="90.1,517.8 94.4,517.9 98.7,518.2 103.3,517.9 108.8,519.1 107.9,520.0 107.9,520.9 108.3,521.8 107.9,522.6 106.5,523.4 104.6,524.2 102.8,527.7 85.0,526.5 84.3,526.4 86.2,522.3 86.8,521.5 87.8,520.7 88.3,519.9 87.9,519.0 87.6,518.1" fill="#8b1620"/>
<polygon points="103.3,517.9 108.4,517.8 112.7,518.8 117.2,519.7 122.0,520.0 130.2,520.1 129.4,521.0 127.9,521.9 126.8,522.7 126.4,523.6 125.7,524.5 124.4,525.4 122.0,528.9 97.7,527.3 94.9,527.1 97.9,523.0 99.8,522.2 101.4,521.4 102.0,520.6 102.6,519.7 103.6,518.9" fill="#7a57a5"/>
<polygon points="122.0,520.0 126.3,520.8 130.7,521.3 135.7,520.9 140.5,520.7 144.9,521.5 149.4,521.8 154.2,521.8 154.4,521.3 153.9,522.2 153.3,523.2 152.7,524.1 152.2,525.1 151.6,526.0 151.0,526.9 148.8,530.7 116.9,528.6 119.0,528.7 120.4,524.2 120.2,523.3 120.9,522.4 121.9,521.6 122.3,520.7 122.3,519.8" fill="#a5cb3c"/>
<polygon points="22.4,520.1 27.0,519.8 31.5,519.7 35.5,520.3 39.7,520.8 44.1,520.7 48.6,520.7 52.8,521.0 57.3,520.9 62.0,520.4 64.5,521.9 65.3,522.8 66.3,523.7 66.0,524.6 64.9,525.4 64.2,526.2 64.2,527.1 61.6,530.2 18.6,526.8 18.6,526.8 20.6,523.2 21.1,522.4 21.5,521.7 21.9,520.9 22.4,520.2 22.8,519.4" fill="#b7afdb"/>
<polygon points="62.0,520.4 66.2,520.7 70.2,521.6 74.3,522.0 78.5,522.4 82.4,523.3 86.5,523.8 91.1,523.6 95.5,523.6 99.5,524.3 105.4,524.3 104.4,525.2 103.6,526.1 103.6,527.0 103.4,527.9 102.4,528.8 101.4,529.7 99.6,533.2 56.6,529.8 56.3,529.8 58.3,525.8 59.7,525.0 61.7,524.3 62.9,523.5 63.0,522.6 63.0,521.8" fill="#5a3a12"/>
<polygon points="99.5,524.3 103.6,524.8 108.0,525.0 112.0,525.6 118.2,525.0 116.4,525.9 115.9,526.8 116.1,527.8 115.6,528.8 114.4,529.7 113.7,530.6 112.2,534.2 94.5,532.8 95.0,532.8 96.1,528.4 95.5,527.4 96.0,526.5 96.8,525.6 97.2,524.7 97.4,523.8" fill="#b7afdb"/>
<polygon points="112.0,525.6 116.0,526.3 120.6,526.1 125.4,525.4 129.9,525.4 134.2,525.5 138.8,525.3 143.1,525.5 147.0,526.4 151.1,526.9 151.0,526.9 150.4,528.0 149.8,529.0 149.2,530.0 148.6,531.0 148.0,532.0 147.4,533.0 145.1,536.8 107.2,533.8 107.6,533.8 110.9,529.4 111.0,528.5 110.7,527.5 111.2,526.5 112.6,525.7 113.6,524.7" fill="#a5cb3c"/>
<polygon points="20.0,524.3 24.5,524.1 28.7,524.5 32.7,525.2 37.1,525.3 41.5,525.3 45.6,525.8 48.9,526.0 48.9,526.8 48.3,527.6 48.4,528.5 49.1,529.4 49.5,530.3 48.6,531.1 47.9,531.0 17.6,528.5 17.6,528.5 18.1,527.7 18.5,527.0 18.9,526.2 19.4,525.5 19.8,524.7 20.2,523.9" fill="#b7afdb"/>
<polygon points="45.6,525.8 50.5,525.8 55.6,525.3 60.2,525.6 64.5,526.4 69.1,526.8 73.5,527.5 77.7,528.6 82.4,528.9 87.3,528.7 91.8,529.2 96.2,529.9 102.5,529.8 101.8,530.7 100.5,531.6 99.3,532.4 99.2,533.4 99.6,534.4 99.0,535.3 98.4,535.3 42.9,530.6 42.0,530.5 42.5,529.7 42.8,528.9 42.3,528.0 41.8,527.2 42.5,526.4 44.3,525.7" fill="#5a3a12"/>
<polygon points="96.2,529.9 100.5,530.1 104.6,530.6 108.5,531.6 112.8,531.8 117.5,531.2 122.0,531.1 126.3,531.3 130.9,531.0 135.4,531.0 139.3,531.8 143.2,532.6 147.7,532.5 147.4,533.0 146.8,534.0 146.2,535.0 145.6,536.0 145.0,537.0 144.4,538.1 143.8,539.1 143.8,539.1 93.3,534.8 92.3,534.8 93.4,533.9 94.3,533.0 94.1,532.0 93.3,531.0 93.4,530.1 94.7,529.2" fill="#a5cb3c"/>
<path d="M104.9 530.3h0M151.7 522.9h0M148.5 528.7h0M29.9 515.7h0M126.7 536.3h0M33.9 507.4h0M118.5 534.2h0M111.6 521.8h0M49.0 507.1h0M117.5 535.5h0M99.6 533.5h0M105.4 535.3h0M148.7 523.1h0M124.2 531.9h0M127.0 524.0h0M138.4 533.4h0M50.4 513.7h0M138.0 526.6h0M122.7 530.9h0M128.5 535.4h0M150.2 520.5h0M125.7 521.4h0M99.4 533.6h0M134.6 534.7h0M134.0 537.2h0M48.7 511.5h0M38.0 507.8h0M135.0 522.7h0M125.9 535.7h0M149.0 523.9h0M130.9 527.3h0M109.0 527.0h0M138.4 521.4h0M37.9 508.8h0M141.3 524.5h0M129.8 518.9h0M116.2 533.0h0M27.2 515.1h0M29.9 512.1h0M118.0 521.3h0M139.5 534.6h0M139.8 537.1h0M95.0 533.5h0" stroke="#a5cb3c" stroke-width="1.80" stroke-linecap="round" fill="none"/>
<path d="M88.2 506.4h0M127.4 514.3h0M125.5 502.1h0M111.9 520.6h0M59.0 505.1h0M101.7 525.7h0M60.9 515.7h0M104.3 522.3h0M57.7 515.1h0M107.6 509.4h0M110.6 514.1h0M119.5 518.2h0M130.0 514.7h0M85.9 504.3h0M62.1 504.7h0M66.7 517.0h0M49.8 509.4h0M57.8 504.7h0M53.1 509.8h0M42.0 513.8h0M134.7 503.5h0M72.6 502.9h0M128.1 520.7h0M114.0 518.1h0M58.5 516.6h0M61.9 507.6h0M63.0 510.7h0M128.2 508.2h0M82.6 504.7h0M66.6 509.6h0M63.8 501.8h0M66.1 505.8h0M110.5 507.9h0M121.2 513.8h0M118.6 503.9h0M130.6 505.8h0M58.6 511.4h0M106.9 514.3h0M125.3 509.0h0M45.9 516.5h0M69.6 511.4h0M75.4 505.7h0M117.3 518.6h0M114.6 505.2h0M137.7 509.4h0M102.8 522.7h0M111.3 521.3h0M68.1 511.0h0M128.4 509.7h0M114.7 506.5h0M112.1 504.8h0M126.8 503.4h0M124.3 519.6h0M63.3 503.2h0M112.9 503.4h0M71.0 516.4h0M121.0 510.8h0M104.7 523.8h0M117.5 522.7h0M90.2 509.2h0M117.2 513.8h0M121.0 506.1h0M94.0 502.6h0M65.5 502.4h0M60.7 504.8h0M61.9 517.7h0M104.1 505.9h0M115.6 508.2h0M77.3 503.3h0" stroke="#7a57a5" stroke-width="1.80" stroke-linecap="round" fill="none"/>
<path d="M47.2 525.5h0M27.7 525.1h0M26.2 527.2h0M24.2 519.2h0M49.0 515.9h0M32.4 521.8h0M55.0 518.9h0M36.8 523.2h0M97.0 528.9h0M55.0 518.9h0M23.5 526.6h0M39.6 521.5h0M27.3 522.0h0M41.9 520.2h0M57.3 518.5h0M30.2 518.5h0M105.4 526.2h0M113.0 523.0h0M58.3 518.6h0M42.6 520.6h0M99.0 527.3h0M29.6 514.2h0M40.9 529.6h0M34.2 527.4h0M58.3 523.2h0M51.8 519.7h0M48.6 526.0h0M44.5 521.3h0M44.3 521.8h0M54.8 515.4h0M41.3 523.9h0M104.9 526.9h0M49.6 518.4h0M29.8 529.2h0M29.9 524.7h0M29.4 525.4h0M99.6 524.7h0M40.4 523.8h0M40.8 529.8h0M45.9 521.4h0M106.6 527.1h0" stroke="#b7afdb" stroke-width="1.80" stroke-linecap="round" fill="none"/>
<path d="M101.1 510.6h0M93.2 511.3h0M88.6 520.9h0M96.5 511.4h0M100.8 511.7h0M91.4 521.5h0" stroke="#1b8a3e" stroke-width="1.80" stroke-linecap="round" fill="none"/>
<path d="M83.3 530.6h0M79.1 532.2h0M72.6 529.2h0M71.6 523.4h0M56.2 528.3h0M39.1 527.9h0M85.2 532.6h0M69.3 530.7h0M84.7 526.8h0M101.2 526.2h0M81.4 530.6h0M63.2 531.8h0M64.7 529.6h0M73.7 526.5h0M42.8 526.4h0M82.9 530.3h0M62.2 526.3h0M93.7 523.4h0M78.9 520.2h0M79.7 532.3h0M92.2 532.0h0M59.1 522.8h0M89.0 532.3h0M45.5 528.5h0M69.7 525.3h0M93.4 525.0h0M81.9 524.8h0M75.5 522.2h0M82.5 523.8h0M63.4 528.1h0M87.1 532.8h0M68.4 522.3h0" stroke="#5a3a12" stroke-width="1.80" stroke-linecap="round" fill="none"/>
<path d="M37.3 502.1h0M32.8 507.0h0M35.4 504.6h0M38.6 502.8h0M57.2 504.5h0M55.2 506.0h0M45.8 507.1h0M56.1 506.2h0M48.2 505.5h0M41.6 503.6h0M37.3 504.8h0M48.9 508.4h0" stroke="#d42a2e" stroke-width="1.80" stroke-linecap="round" fill="none"/>
<path d="M152.5 503.0h0M153.4 510.3h0M140.1 505.3h0M147.7 502.2h0M137.2 511.7h0M161.9 502.5h0M125.3 508.5h0M159.5 505.4h0M156.6 510.4h0" stroke="#135e5e" stroke-width="1.80" stroke-linecap="round" fill="none"/>
<path d="M93.1 521.9h0M102.7 512.3h0M99.1 516.9h0M86.7 520.4h0M90.7 520.0h0" stroke="#8b1620" stroke-width="1.80" stroke-linecap="round" fill="none"/>
<path d="M81.6 519.6h0M74.7 514.5h0M84.5 514.5h0M81.3 519.0h0M86.7 516.8h0M80.6 523.5h0M96.1 517.3h0M72.2 519.3h0M72.7 515.4h0M77.2 525.2h0M70.3 516.1h0" stroke="#16aac8" stroke-width="1.80" stroke-linecap="round" fill="none"/>
<path d="M101.1 509.3h0M108.5 511.3h0M105.2 512.2h0M111.7 511.7h0M107.4 515.0h0" stroke="#1d5c35" stroke-width="1.80" stroke-linecap="round" fill="none"/>
<path d="M151.7 512.4h0M151.4 520.9h0M155.1 511.2h0M131.6 521.4h0M141.0 515.0h0M154.8 517.2h0M156.2 509.3h0M152.4 514.3h0M127.8 520.8h0M152.8 509.9h0M138.2 515.9h0M140.9 517.3h0M148.1 509.4h0M153.0 515.7h0M140.5 510.6h0M145.4 520.3h0" stroke="#7b1a4b" stroke-width="1.80" stroke-linecap="round" fill="none"/>
<path d="M88.0 511.4h0M94.1 510.5h0" stroke="#6f8b73" stroke-width="1.80" stroke-linecap="round" fill="none"/>
<path d="M101.5 502.6h0M82.9 507.3h0M92.7 509.4h0M88.2 505.4h0M83.1 502.1h0M105.1 502.2h0M89.4 503.0h0M90.5 504.9h0M92.2 503.1h0" stroke="#4466b5" stroke-width="1.80" stroke-linecap="round" fill="none"/>
<polygon points="100.3,504.9 113.5,505.2 101.1,519.5 88.1,518.8" fill="#1d5c35"/>
<polygon points="95.9,502.3 103.2,502.4 81.8,526.3 74.8,525.8" fill="#1b8a3e"/>
<path d="M109.1 531.5h0M105.6 516.4h0M106.0 518.1h0M107.0 530.7h0M36.7 509.7h0M142.8 504.9h0M133.1 503.9h0M103.0 525.9h0M62.1 512.1h0M55.9 520.4h0M92.5 519.6h0M69.2 517.9h0M138.7 527.5h0M148.3 510.9h0" stroke="#8a70c0" stroke-width="1.80" stroke-linecap="round" fill="none"/>
<polygon points="34.4,471.1 38.9,471.1 43.3,471.2 47.7,471.2 52.1,471.3 56.5,471.3 60.9,471.4 64.6,471.4 65.6,472.5 64.7,473.6 63.1,474.6 63.0,475.7 62.8,476.8 61.9,477.9 60.3,480.8 29.1,479.8 29.1,479.8 31.4,476.0 32.0,475.0 32.6,474.1 33.2,473.1 33.8,472.1 34.4,471.1" fill="#d42a2e"/>
<polygon points="60.9,471.4 65.6,471.4 70.3,471.5 75.1,471.5 79.8,471.6 84.5,471.6 89.2,471.7 93.9,471.7 97.2,471.8 96.6,472.9 95.8,474.1 96.8,475.3 97.7,476.4 96.5,477.6 95.5,478.7 92.9,481.9 55.1,480.6 57.0,480.7 59.5,476.7 60.2,475.6 61.3,474.6 60.7,473.5 59.8,472.4 61.0,471.4" fill="#7a57a5"/>
<polygon points="93.9,471.7 98.9,471.8 103.9,471.9 108.8,471.9 113.8,472.0 117.3,472.0 118.1,473.2 118.0,474.4 116.1,475.6 115.4,476.8 115.5,478.0 114.7,479.3 112.5,482.5 87.7,481.7 87.4,481.7 90.3,477.4 92.7,476.3 93.7,475.2 94.3,474.1 95.7,472.9 95.5,471.8" fill="#6f8b73"/>
<polygon points="113.8,472.0 118.7,472.0 123.7,472.1 128.6,472.1 133.6,472.2 139.8,472.3 137.0,473.5 134.7,474.7 134.7,476.0 134.3,477.2 133.3,478.5 133.8,479.8 132.0,483.2 107.3,482.4 109.8,482.5 111.5,478.0 110.1,476.7 110.5,475.5 111.3,474.3 111.2,473.1 112.6,472.0" fill="#7a57a5"/>
<polygon points="133.6,472.2 138.0,472.2 142.4,472.3 146.8,472.3 152.3,472.4 150.9,473.7 149.4,474.9 147.0,476.2 146.5,477.5 147.3,478.8 146.6,480.1 145.0,483.6 126.8,483.0 128.1,483.1 130.1,478.4 130.5,477.1 129.7,475.9 130.0,474.6 132.1,473.4 133.2,472.2" fill="#7b1a4b"/>
<polygon points="146.8,472.3 151.8,472.4 156.7,472.5 161.7,472.5 166.7,472.6 166.7,472.6 165.8,473.9 165.0,475.2 164.2,476.5 163.3,477.8 162.5,479.2 161.7,480.5 159.4,484.1 139.8,483.5 138.6,483.4 142.1,478.7 143.5,477.4 143.5,476.1 144.5,474.9 145.6,473.6 144.9,472.3" fill="#135e5e"/>
<polygon points="31.1,476.5 35.6,476.3 39.9,476.5 44.4,476.5 48.8,476.5 52.8,477.3 56.8,478.0 61.2,478.0 65.7,477.9 69.9,478.3 74.2,478.5 78.8,478.3 83.0,478.7 88.8,478.6 88.4,479.4 87.3,480.2 85.3,481.0 83.5,481.8 83.2,482.6 83.6,483.5 83.3,486.7 26.3,484.2 26.3,484.2 28.5,480.7 28.9,480.0 29.4,479.2 29.8,478.5 30.3,477.8 30.7,477.0" fill="#7a57a5"/>
<polygon points="83.0,478.7 86.8,479.5 91.1,479.8 95.7,479.5 100.6,478.9 100.8,479.8 100.4,480.6 99.9,481.5 100.4,482.4 101.3,483.3 101.2,484.2 96.2,487.3 78.1,486.5 78.3,486.5 81.6,482.6 82.5,481.8 82.3,480.9 81.9,480.1 82.7,479.2 84.3,478.5" fill="#6f8b73"/>
<polygon points="95.7,479.5 100.2,479.5 104.6,479.5 109.5,478.8 112.1,479.2 112.6,480.1 112.4,481.0 111.7,481.8 111.4,482.7 111.7,483.6 111.5,484.5 109.2,487.8 91.0,487.0 92.7,487.1 96.2,483.1 96.7,482.2 95.9,481.3 95.1,480.5 95.2,479.6 95.7,478.8" fill="#1b8a3e"/>
<polygon points="109.5,478.8 114.2,478.4 118.4,478.8 122.5,479.2 127.1,479.1 131.4,479.2 135.6,479.6 140.2,479.4 144.9,478.9 149.2,479.2 153.1,480.0 157.3,480.4 161.5,480.8 161.7,480.5 161.1,481.5 160.4,482.4 159.8,483.4 159.2,484.3 158.6,485.3 158.0,486.3 155.7,489.9 104.0,487.6 104.8,487.7 108.5,483.5 109.5,482.7 109.2,481.8 108.5,480.9 108.6,480.0 108.9,479.1" fill="#7b1a4b"/>
<polygon points="28.0,481.5 32.9,481.1 37.9,480.6 42.3,481.0 46.6,481.6 51.1,481.8 55.5,482.2 59.6,483.0 64.2,483.1 69.1,482.8 73.5,483.2 76.9,483.3 76.6,484.0 76.2,484.8 75.3,485.6 74.6,486.3 74.7,487.1 75.4,487.9 73.9,491.1 23.8,488.3 23.8,488.3 25.9,484.9 26.3,484.2 26.8,483.5 27.2,482.8 27.6,482.1 28.0,481.4" fill="#7a57a5"/>
<polygon points="73.5,483.2 77.6,483.7 81.9,483.9 86.2,484.2 89.7,483.7 88.9,484.5 89.0,485.3 89.7,486.2 89.8,487.0 88.8,487.8 87.6,488.5 86.8,491.8 68.8,490.8 71.0,490.9 72.7,487.0 72.9,486.2 73.5,485.5 73.6,484.7 72.7,483.9 71.8,483.1" fill="#16aac8"/>
<polygon points="86.2,484.2 88.2,484.6 90.1,484.9 92.2,485.2 99.1,484.1 97.8,484.9 96.9,485.6 97.1,486.5 97.9,487.3 97.9,488.2 97.2,489.0 93.2,492.1 81.6,491.5 81.0,491.5 83.1,487.5 84.0,486.7 85.0,486.0 85.5,485.2 85.7,484.4 86.8,483.6" fill="#1b8a3e"/>
<polygon points="92.2,485.2 97.4,484.8 102.8,484.2 107.7,484.3 112.8,484.1 117.4,484.8 115.7,485.6 114.6,486.4 114.3,487.2 114.0,488.1 113.1,488.9 112.4,489.7 112.5,493.2 88.1,491.9 88.8,491.9 90.3,487.8 90.9,487.0 92.2,486.3 93.2,485.5 93.2,484.7 93.1,483.9" fill="#8b1620"/>
<polygon points="112.8,484.1 118.0,483.9 122.5,484.6 127.2,485.1 132.4,484.7 137.1,485.5 137.6,486.4 137.3,487.3 136.8,488.2 136.9,489.1 137.2,490.0 136.7,490.9 131.7,494.2 107.3,492.9 107.1,492.9 111.0,488.8 112.2,488.0 112.3,487.1 111.9,486.3 112.2,485.4 113.3,484.6" fill="#7b1a4b"/>
<polygon points="132.4,484.7 137.7,484.8 142.8,485.1 148.3,484.9 153.1,485.7 157.6,487.0 158.0,486.3 157.4,487.2 156.9,488.1 156.3,489.0 155.7,489.9 155.2,490.8 154.6,491.7 152.3,495.4 126.6,494.0 126.1,493.9 128.2,489.6 128.8,488.7 129.8,487.9 130.3,487.0 129.9,486.1 129.5,485.2" fill="#7a57a5"/>
<polygon points="25.8,485.1 30.1,485.3 33.9,486.3 37.8,487.1 42.2,487.2 46.7,487.2 50.9,487.5 55.3,487.5 59.9,487.2 64.2,487.5 69.3,487.7 69.0,488.4 68.8,489.2 68.0,490.0 67.0,490.7 66.6,491.5 66.8,492.3 64.6,495.4 21.2,492.5 21.2,492.5 23.4,489.0 23.8,488.3 24.2,487.7 24.6,487.0 25.1,486.3 25.5,485.6" fill="#7a57a5"/>
<polygon points="64.2,487.5 68.7,488.3 73.7,488.3 78.8,488.1 83.6,488.3 87.6,488.5 87.3,489.3 86.6,490.1 85.1,490.9 84.1,491.6 84.2,492.5 85.1,493.3 83.8,496.6 59.5,495.0 60.6,495.1 63.1,491.3 63.0,490.5 62.8,489.7 63.4,488.9 64.8,488.2 65.7,487.5" fill="#16aac8"/>
<polygon points="83.6,488.3 85.9,488.2 88.2,488.0 90.6,487.7 96.3,488.9 94.4,489.7 92.5,490.4 91.7,491.2 91.8,492.1 91.8,492.9 91.1,493.7 90.2,497.0 78.7,496.3 78.0,496.2 79.7,492.2 80.2,491.4 80.6,490.6 80.6,489.8 80.7,489.0 81.8,488.3" fill="#1b8a3e"/>
<polygon points="90.6,487.7 95.2,487.5 99.2,488.2 103.2,488.8 109.7,489.6 109.2,490.4 107.8,491.2 106.6,492.0 106.4,492.9 106.9,493.8 107.0,494.6 102.9,497.9 85.1,496.7 83.4,496.6 86.3,492.6 87.1,491.8 87.3,491.0 87.6,490.2 88.9,489.4 91.0,488.7" fill="#8b1620"/>
<polygon points="103.2,488.8 107.5,489.0 111.7,489.5 115.6,490.3 120.0,490.3 124.7,490.0 128.8,490.4 132.9,490.7 132.2,491.6 132.1,492.4 131.9,493.3 130.9,494.2 129.4,495.0 128.5,495.9 128.5,499.5 97.8,497.5 99.0,497.6 101.1,493.4 101.6,492.6 102.9,491.8 104.1,491.0 104.3,490.2 103.5,489.3" fill="#7a57a5"/>
<polygon points="128.8,490.4 133.6,491.3 138.7,491.6 143.6,492.3 148.5,492.9 154.3,492.2 154.6,491.7 154.0,492.6 153.5,493.5 152.9,494.5 152.3,495.4 151.7,496.3 151.2,497.2 148.9,500.8 123.3,499.2 124.6,499.3 126.1,494.8 126.2,493.9 126.7,493.1 126.8,492.2 126.5,491.3 126.8,490.4" fill="#a27a6e"/>
<polygon points="22.3,490.7 26.8,490.7 31.5,490.2 36.0,490.1 40.2,490.4 44.7,490.4 49.1,490.5 52.2,491.4 51.2,492.2 50.1,493.0 50.0,493.8 50.9,494.7 51.3,495.5 50.6,496.3 48.9,499.4 18.5,497.0 18.5,497.0 20.7,493.5 21.1,492.7 21.6,492.0 22.0,491.2 22.5,490.5 22.9,489.7" fill="#b7afdb"/>
<polygon points="49.1,490.5 53.3,491.2 57.6,491.7 62.4,491.5 67.0,491.5 71.3,492.0 75.9,492.2 80.3,492.5 84.3,493.6 88.3,494.6 92.9,494.7 99.8,494.2 100.1,495.1 100.2,496.1 99.0,496.9 96.9,497.7 95.4,498.5 94.7,499.4 93.3,502.7 43.8,499.0 42.1,498.8 45.1,495.1 45.4,494.3 45.9,493.5 47.1,492.8 48.3,492.0 48.5,491.2" fill="#5a3a12"/>
<polygon points="92.9,494.7 97.5,494.8 101.8,495.2 106.5,495.1 111.3,494.8 115.5,495.3 119.7,496.1 124.3,496.0 129.0,495.9 133.4,496.2 138.2,495.9 143.2,495.2 147.6,495.6 151.6,496.5 151.2,497.2 150.6,498.2 149.9,499.1 149.3,500.1 148.7,501.1 148.1,502.1 147.5,503.0 145.2,506.7 88.2,502.4 88.1,502.4 90.2,498.2 90.4,497.3 91.3,496.4 92.1,495.6 91.9,494.6 91.1,493.7" fill="#a5cb3c"/>
<polygon points="20.2,494.2 24.2,494.9 28.3,495.5 32.6,495.6 36.9,495.9 41.0,496.5 45.5,496.3 50.7,496.3 50.8,497.2 51.5,498.1 51.3,498.9 50.3,499.7 49.6,500.5 49.4,501.3 47.8,501.2 17.5,498.7 17.5,498.7 17.9,498.0 18.4,497.2 18.8,496.5 19.3,495.7 19.8,495.0 20.2,494.2" fill="#b7afdb"/>
<polygon points="45.5,496.3 50.2,495.7 54.6,495.8 58.8,496.2 63.1,496.3 67.4,496.6 71.3,497.5 75.3,498.1 79.8,498.0 84.2,498.0 88.5,498.9 87.0,499.8 85.8,500.6 85.7,501.5 86.3,502.4 86.1,503.3 84.8,504.2 85.7,504.2 42.7,500.8 43.8,500.9 43.5,500.0 43.9,499.2 44.0,498.4 43.3,497.5 42.6,496.6 43.1,495.8" fill="#5a3a12"/>
<polygon points="84.2,498.0 88.3,498.7 92.4,499.1 96.7,499.3 104.6,500.1 103.5,500.9 101.9,501.8 101.0,502.6 100.4,503.5 99.1,504.4 97.3,505.2 98.3,505.2 80.6,503.8 78.0,503.6 78.3,502.7 79.9,501.9 81.7,501.2 82.7,500.3 83.0,499.5 83.7,498.6" fill="#b7afdb"/>
<polygon points="96.7,499.3 100.6,500.2 104.3,501.4 108.5,501.6 113.1,501.5 117.3,501.7 121.7,501.9 126.4,501.4 130.8,501.5 134.7,502.3 138.8,502.8 143.4,502.5 147.8,502.6 147.5,503.0 146.9,504.0 146.3,505.0 145.7,506.0 145.1,507.0 144.4,507.9 143.8,508.9 143.8,508.9 93.3,504.8 92.5,504.8 94.0,504.0 94.5,503.1 94.1,502.1 94.2,501.2 95.3,500.3 96.9,499.5" fill="#a5cb3c"/>
<path d="M50.4 485.5h0M118.4 482.6h0M125.3 472.8h0M142.5 487.4h0M80.7 476.2h0M59.4 480.9h0M38.3 484.0h0M65.4 472.0h0M60.0 478.3h0M40.8 482.0h0M45.8 484.1h0M75.9 481.8h0M63.0 486.3h0M68.4 482.2h0M71.2 473.1h0M82.0 474.2h0M109.9 491.4h0M125.4 477.6h0M56.1 482.6h0M67.4 480.4h0M32.7 478.2h0M65.6 472.6h0M82.1 476.0h0M48.3 487.4h0M39.8 479.7h0M77.7 472.9h0M71.4 485.6h0M28.8 490.8h0M128.2 488.4h0M77.4 483.0h0M78.9 485.9h0M64.9 478.0h0M104.5 474.7h0M77.4 480.6h0M58.6 478.0h0M44.6 489.9h0M32.0 479.8h0M59.4 490.1h0M75.3 477.9h0M47.8 478.1h0M116.4 490.2h0M69.5 480.4h0M44.6 481.2h0M60.2 489.3h0M37.0 485.6h0M106.9 479.3h0M32.7 479.5h0M60.7 484.9h0M58.9 482.7h0M64.5 481.9h0M79.9 480.4h0M77.4 482.6h0M30.1 481.5h0M147.6 489.2h0M78.9 478.8h0M118.0 493.1h0M44.9 486.6h0M45.9 480.6h0M100.8 493.7h0M43.3 488.6h0M43.8 483.3h0M136.7 489.6h0M132.9 492.5h0M29.5 485.9h0M27.8 484.8h0M146.1 489.4h0M137.5 474.9h0M55.5 478.2h0M50.5 486.5h0M88.8 485.8h0M48.1 483.2h0M56.3 485.1h0M36.7 487.0h0M43.1 480.9h0M133.1 487.0h0M39.3 489.7h0M32.0 478.7h0M82.6 478.9h0M136.6 487.0h0M62.6 480.3h0M33.4 485.7h0M50.0 487.2h0M34.2 488.3h0M44.9 479.3h0" stroke="#7a57a5" stroke-width="1.80" stroke-linecap="round" fill="none"/>
<path d="M135.6 503.3h0M97.8 493.8h0M93.3 503.5h0M111.7 500.7h0M140.8 495.7h0M130.5 501.2h0M116.9 503.9h0M126.4 499.9h0M108.2 496.5h0M112.1 500.2h0M118.4 499.5h0M111.6 502.4h0M141.6 506.1h0M112.5 505.8h0M114.0 496.6h0M139.8 493.3h0M113.7 504.6h0M111.9 504.7h0M142.1 500.1h0M139.2 494.9h0M100.7 498.7h0M128.6 500.2h0M102.9 494.2h0M107.1 500.7h0M124.8 494.2h0M133.2 502.7h0M106.3 496.8h0M126.4 499.2h0M114.5 491.4h0M98.7 500.7h0M86.6 503.4h0M100.5 495.0h0M117.7 493.1h0M99.0 498.5h0M104.6 500.7h0M128.4 500.4h0M101.1 501.1h0M116.8 504.8h0M135.9 504.0h0M130.7 502.3h0M145.0 499.9h0M139.5 490.8h0M109.4 498.3h0M111.1 496.2h0" stroke="#a5cb3c" stroke-width="1.80" stroke-linecap="round" fill="none"/>
<path d="M135.5 479.8h0M144.3 484.4h0M116.1 479.9h0M123.0 490.9h0M124.8 488.0h0M153.6 481.1h0M135.7 478.0h0M129.3 487.5h0M114.3 485.5h0M122.2 487.5h0M139.5 480.0h0M109.7 482.4h0M119.9 482.5h0M109.4 483.1h0M115.0 491.7h0M153.1 486.8h0M141.8 485.7h0M134.3 482.9h0M156.1 482.2h0M133.5 484.0h0M112.9 485.8h0M120.3 487.3h0M109.7 477.0h0M134.1 478.2h0" stroke="#7b1a4b" stroke-width="1.80" stroke-linecap="round" fill="none"/>
<path d="M100.3 486.9h0M91.5 493.0h0M97.1 487.2h0M98.3 493.9h0M92.1 496.5h0M110.7 483.1h0M117.0 489.7h0M101.5 485.0h0M92.7 490.5h0" stroke="#8b1620" stroke-width="1.80" stroke-linecap="round" fill="none"/>
<path d="M79.9 496.1h0M45.4 495.8h0M74.5 497.0h0M75.2 500.7h0M75.0 496.5h0M76.9 500.8h0M56.0 494.2h0M71.6 497.4h0M51.3 496.2h0M47.0 495.4h0M82.3 503.0h0M78.8 494.7h0M49.7 497.5h0M59.6 501.5h0M85.3 496.8h0M52.9 492.2h0M52.6 493.3h0M42.1 493.3h0M61.8 501.6h0M46.2 494.7h0M95.6 496.0h0M52.8 500.0h0" stroke="#5a3a12" stroke-width="1.80" stroke-linecap="round" fill="none"/>
<path d="M88.6 481.2h0M103.3 474.1h0M101.0 473.3h0M93.1 476.0h0M93.1 480.5h0M88.3 480.8h0M97.7 477.3h0M84.4 481.3h0M112.3 472.9h0M101.0 477.3h0M87.6 481.3h0M86.4 483.4h0M101.5 477.9h0M85.4 478.3h0M107.7 478.6h0M107.7 478.6h0M97.7 472.4h0M81.1 482.2h0M97.5 475.7h0" stroke="#6f8b73" stroke-width="1.80" stroke-linecap="round" fill="none"/>
<path d="M147.2 477.5h0M156.7 478.3h0M151.2 480.4h0M142.7 477.4h0M151.2 476.5h0M159.6 473.0h0M161.0 474.2h0M158.7 482.8h0M148.5 478.3h0" stroke="#135e5e" stroke-width="1.80" stroke-linecap="round" fill="none"/>
<path d="M66.4 490.0h0M83.7 487.2h0M64.9 492.4h0M75.1 494.3h0M71.2 483.9h0M69.2 489.2h0M65.4 490.4h0M79.5 487.5h0M64.0 490.3h0" stroke="#16aac8" stroke-width="1.80" stroke-linecap="round" fill="none"/>
<path d="M45.6 479.3h0M50.0 477.5h0M41.1 475.0h0M61.4 473.8h0M42.4 476.5h0M37.5 477.3h0M61.1 473.9h0M42.6 474.9h0M54.0 477.5h0M42.0 473.4h0M36.6 474.6h0" stroke="#d42a2e" stroke-width="1.80" stroke-linecap="round" fill="none"/>
<path d="M96.2 481.0h0M104.7 485.0h0M95.9 484.2h0M85.1 491.5h0M83.6 487.3h0" stroke="#1b8a3e" stroke-width="1.80" stroke-linecap="round" fill="none"/>
<path d="M40.6 495.1h0M32.0 494.1h0M35.5 498.3h0M29.3 498.6h0M39.3 494.3h0M37.9 498.2h0M39.8 495.8h0M24.0 490.5h0M25.4 496.0h0M26.9 495.7h0M39.3 495.4h0M29.6 496.6h0M31.9 495.1h0M33.9 496.0h0M92.5 499.0h0M22.6 495.4h0M26.2 492.8h0M87.7 499.9h0M23.0 495.5h0" stroke="#b7afdb" stroke-width="1.80" stroke-linecap="round" fill="none"/>
<path d="M126.4 493.0h0M145.8 494.5h0M140.2 494.4h0M135.9 495.5h0M132.9 492.2h0" stroke="#a27a6e" stroke-width="1.80" stroke-linecap="round" fill="none"/>
<polygon points="100.8,475.7 114.0,475.9 101.3,489.9 88.4,489.2" fill="#1d5c35"/>
<polygon points="96.5,473.0 103.7,473.1 81.9,496.5 74.8,496.0" fill="#1b8a3e"/>
<path d="M94.9 483.9h0M68.3 494.1h0M52.4 486.7h0M115.1 501.0h0M38.4 479.0h0M82.9 498.8h0M46.6 493.7h0M78.4 487.6h0M149.2 476.1h0M76.8 477.1h0M51.5 480.2h0M113.1 490.2h0M42.5 492.4h0M98.0 477.3h0" stroke="#8a70c0" stroke-width="1.80" stroke-linecap="round" fill="none"/>
<polygon points="35.3,441.4 39.7,441.4 44.1,441.5 48.5,441.5 52.8,441.6 57.2,441.7 61.6,441.7 65.6,441.8 65.4,442.8 66.0,443.9 64.7,444.9 63.0,446.0 63.4,447.1 63.7,448.1 60.8,451.0 29.6,450.0 29.6,450.0 32.0,446.3 32.7,445.3 33.3,444.3 34.0,443.3 34.6,442.4 35.3,441.4" fill="#d42a2e"/>
<polygon points="61.6,441.7 66.0,441.8 70.4,441.8 74.8,441.9 79.7,441.9 80.2,443.0 79.5,444.1 77.6,445.2 77.3,446.3 78.0,447.4 77.3,448.5 73.8,451.4 55.6,450.8 54.8,450.8 57.2,446.9 59.1,445.9 59.9,444.8 61.1,443.8 63.6,442.8 64.5,441.7" fill="#7a57a5"/>
<polygon points="74.8,441.9 79.7,441.9 84.7,442.0 89.6,442.1 94.5,442.1 101.1,442.2 99.2,443.3 98.2,444.5 95.9,445.5 94.1,446.7 94.7,447.8 94.8,449.0 93.3,452.1 68.6,451.3 68.8,451.3 71.1,447.2 70.9,446.1 70.2,445.0 71.6,444.0 73.7,442.9 73.9,441.9" fill="#a3b27e"/>
<polygon points="94.5,442.1 99.2,442.2 103.9,442.3 108.6,442.3 113.3,442.4 118.0,442.4 122.7,442.5 127.4,442.6 132.2,442.6 130.8,443.8 131.5,445.0 132.4,446.3 131.5,447.5 130.8,448.7 130.3,449.9 125.8,453.1 88.1,451.9 87.4,451.9 91.9,447.7 92.2,446.6 92.6,445.5 94.0,444.4 94.4,443.3 94.8,442.1" fill="#e07fc2"/>
<polygon points="127.4,442.6 132.4,442.6 137.3,442.7 142.3,442.7 147.2,442.8 152.7,442.9 151.3,444.1 151.2,445.4 152.4,446.7 151.7,447.9 150.0,449.1 149.3,450.4 145.3,453.8 120.6,452.9 119.9,452.9 123.9,448.5 124.1,447.3 125.2,446.1 126.5,444.9 126.5,443.7 127.6,442.6" fill="#6f8b73"/>
<polygon points="147.2,442.8 152.1,442.9 157.1,442.9 162.0,443.0 166.9,443.1 166.9,443.1 166.1,444.3 165.3,445.6 164.4,446.9 163.6,448.2 162.7,449.4 161.9,450.7 159.6,454.2 140.1,453.6 140.9,453.6 144.8,449.0 145.4,447.8 146.9,446.5 148.0,445.3 146.8,444.0 146.2,442.8" fill="#135e5e"/>
<polygon points="32.0,446.4 36.7,446.7 41.7,446.7 46.5,447.0 50.9,447.9 56.5,448.0 55.4,448.7 54.9,449.5 54.1,450.2 52.4,450.9 50.7,451.7 50.3,452.4 51.2,455.4 26.7,454.4 26.7,454.4 29.0,450.9 29.4,450.2 29.9,449.5 30.4,448.7 30.9,448.0 31.4,447.3" fill="#7a57a5"/>
<polygon points="50.9,447.9 55.9,448.4 61.3,448.2 66.4,448.6 71.6,448.7 77.0,448.6 82.9,448.6 81.8,449.4 81.1,450.2 81.2,451.1 80.8,451.9 79.8,452.7 79.0,453.5 77.1,456.5 46.1,455.2 45.9,455.2 47.7,451.6 48.8,450.8 50.8,450.1 52.4,449.4 52.8,448.6 52.8,447.9" fill="#a27a6e"/>
<polygon points="77.0,448.6 81.0,449.2 85.0,449.8 89.5,449.7 94.1,449.4 98.5,449.5 103.1,449.2 105.4,449.2 105.0,450.1 105.8,451.0 106.3,451.8 105.9,452.7 105.5,453.5 105.7,454.4 102.9,457.6 71.9,456.3 74.9,456.4 77.1,452.6 76.5,451.7 76.3,450.9 76.9,450.1 77.2,449.3 76.8,448.5" fill="#e07fc2"/>
<polygon points="103.1,449.2 105.6,448.8 108.0,448.5 110.3,448.3 113.1,449.4 112.9,450.3 112.3,451.2 112.1,452.0 112.9,452.9 113.8,453.8 113.5,454.7 109.4,457.9 97.8,457.4 99.2,457.4 102.4,453.4 103.4,452.6 103.2,451.7 102.5,450.9 102.5,450.0 103.7,449.2" fill="#1b8a3e"/>
<polygon points="110.3,448.3 115.0,448.8 119.7,449.3 124.7,449.2 129.5,449.5 136.1,450.0 134.4,450.9 133.4,451.8 132.6,452.7 131.1,453.5 129.3,454.4 128.5,455.2 128.8,458.7 104.2,457.6 103.4,457.6 104.9,453.5 104.8,452.7 106.2,451.8 107.8,451.0 108.6,450.2 108.7,449.3" fill="#e07fc2"/>
<polygon points="129.5,449.5 134.0,449.8 139.1,449.3 143.9,449.3 148.0,450.2 152.4,450.8 156.9,451.0 161.2,451.8 161.9,450.7 161.3,451.7 160.7,452.6 160.0,453.5 159.4,454.4 158.8,455.4 158.2,456.3 155.9,459.8 123.6,458.5 124.1,458.5 125.4,454.2 124.8,453.3 125.3,452.4 126.2,451.6 126.6,450.7 126.9,449.8" fill="#7b1a4b"/>
<polygon points="28.2,452.1 33.0,452.3 37.5,453.0 42.5,453.1 47.9,452.4 55.8,452.6 54.9,453.3 53.9,454.0 53.5,454.8 53.0,455.5 51.6,456.2 49.7,456.8 48.4,459.7 24.0,458.5 24.0,458.5 26.2,455.0 26.7,454.4 27.1,453.7 27.6,453.0 28.0,452.3 28.5,451.6" fill="#a5cb3c"/>
<polygon points="47.9,452.4 52.7,452.4 57.4,452.4 62.3,452.1 66.9,452.3 71.2,453.1 75.9,453.2 80.8,452.9 86.6,453.7 86.1,454.5 85.5,455.3 85.5,456.1 86.0,456.9 85.9,457.7 84.6,458.4 80.5,461.4 43.3,459.5 42.2,459.4 45.1,455.9 46.4,455.2 46.9,454.5 46.6,453.7 46.4,453.0 47.2,452.3" fill="#7a57a5"/>
<polygon points="80.8,452.9 85.1,453.1 89.3,453.3 93.9,453.2 97.4,454.1 96.0,454.9 95.8,455.7 96.3,456.5 96.3,457.3 95.3,458.1 94.2,458.8 93.4,462.0 75.4,461.1 76.9,461.2 78.2,457.3 78.0,456.5 78.4,455.8 78.5,455.0 78.0,454.2 77.5,453.4" fill="#16aac8"/>
<polygon points="93.9,453.2 96.0,453.2 98.1,453.5 100.0,454.0 105.0,454.4 104.5,455.2 102.9,455.9 101.0,456.7 100.0,457.5 100.0,458.3 100.4,459.1 99.8,462.4 88.2,461.8 88.1,461.8 91.0,457.9 91.4,457.1 91.3,456.3 91.5,455.5 92.5,454.7 93.7,454.0" fill="#1b8a3e"/>
<polygon points="100.0,454.0 104.2,455.1 109.1,455.3 113.9,455.5 118.6,455.9 125.6,455.1 123.7,455.9 122.7,456.7 122.6,457.6 122.4,458.4 121.6,459.2 120.5,460.0 119.0,463.4 94.6,462.1 94.0,462.1 95.2,458.1 95.3,457.3 96.2,456.5 97.0,455.7 97.3,454.9 97.8,454.1" fill="#7b1a4b"/>
<polygon points="118.6,455.9 123.8,455.6 129.1,455.2 133.6,455.8 138.4,456.2 144.5,455.8 144.2,456.7 143.5,457.5 143.2,458.4 143.6,459.3 144.0,460.2 143.3,461.1 138.3,464.4 113.9,463.1 113.2,463.1 116.6,459.0 117.7,458.2 117.8,457.4 117.5,456.5 117.8,455.7 119.2,454.9" fill="#7a57a5"/>
<polygon points="138.4,456.2 143.5,455.9 148.3,456.2 153.3,456.2 158.9,455.3 158.2,456.3 157.6,457.2 157.0,458.1 156.5,458.9 155.9,459.8 155.3,460.7 154.7,461.6 152.4,465.1 133.2,464.1 133.3,464.1 136.0,459.8 136.1,459.0 135.7,458.1 135.5,457.2 136.3,456.4 137.9,455.6" fill="#7b1a4b"/>
<polygon points="25.6,456.0 30.5,456.1 35.1,456.7 39.5,457.6 44.5,457.5 50.2,456.8 50.8,457.6 50.5,458.3 49.8,459.0 49.6,459.8 49.6,460.5 49.0,461.3 45.5,464.1 21.3,462.6 21.3,462.6 23.5,459.2 24.0,458.5 24.4,457.8 24.9,457.1 25.3,456.4 25.8,455.7" fill="#a5cb3c"/>
<polygon points="44.5,457.5 49.5,457.2 54.2,457.3 59.0,457.2 64.0,456.8 68.5,457.2 72.8,457.9 77.5,457.8 79.5,458.2 79.6,459.0 80.1,459.8 80.1,460.6 79.5,461.3 79.3,462.1 79.7,462.9 77.5,466.0 40.4,463.8 43.4,464.0 45.5,460.3 44.7,459.5 44.1,458.8 44.3,458.0 44.8,457.3 44.7,456.6" fill="#7a57a5"/>
<polygon points="77.5,457.8 82.1,457.7 86.3,458.0 90.7,458.0 95.2,458.9 94.7,459.7 93.8,460.4 92.1,461.2 90.4,461.9 90.0,462.7 90.5,463.5 90.2,466.8 72.4,465.7 72.6,465.7 75.0,461.9 74.7,461.1 74.5,460.3 75.4,459.5 76.8,458.8 77.7,458.1" fill="#16aac8"/>
<polygon points="90.7,458.0 93.0,457.9 95.3,457.8 97.5,457.8 104.3,459.3 103.5,460.1 102.4,460.9 101.8,461.6 101.4,462.5 100.2,463.2 98.3,464.0 96.6,467.2 85.1,466.5 82.7,466.3 85.7,462.5 87.5,461.7 88.8,461.0 89.1,460.2 88.9,459.4 89.3,458.6" fill="#1b8a3e"/>
<polygon points="97.5,457.8 101.3,458.6 105.1,459.6 109.3,459.9 116.3,459.8 116.5,460.7 116.4,461.5 115.0,462.3 113.0,463.1 111.4,463.8 110.8,464.6 109.4,468.0 91.5,466.9 89.8,466.8 92.8,462.8 93.2,462.0 93.8,461.2 95.1,460.5 96.5,459.7 97.0,459.0" fill="#f4a233"/>
<polygon points="109.3,459.9 114.4,460.4 119.2,461.0 124.8,460.7 130.2,460.5 135.0,461.3 142.2,461.0 141.4,461.9 141.0,462.7 141.1,463.6 140.9,464.5 139.6,465.3 137.5,466.1 134.9,469.5 104.3,467.7 102.7,467.6 105.5,463.5 106.9,462.7 108.3,462.0 108.8,461.2 108.4,460.3 108.4,459.5" fill="#7a57a5"/>
<polygon points="135.0,461.3 139.8,461.5 144.8,461.5 149.5,462.0 154.6,461.8 154.7,461.6 154.2,462.5 153.6,463.3 153.0,464.2 152.4,465.1 151.9,466.0 151.3,466.8 149.0,470.4 129.8,469.2 132.2,469.4 133.9,465.0 133.0,464.1 132.7,463.2 133.2,462.3 133.7,461.5 133.7,460.6" fill="#a5cb3c"/>
<polygon points="22.6,460.6 27.2,460.4 31.4,460.7 35.7,460.9 38.8,460.7 38.8,461.5 39.5,462.3 39.5,463.1 39.2,463.9 39.4,464.7 40.2,465.6 36.2,468.3 18.4,467.0 18.4,467.0 20.7,463.5 21.2,462.8 21.6,462.1 22.1,461.3 22.6,460.6 23.1,459.8" fill="#a5cb3c"/>
<polygon points="35.7,460.9 40.4,460.7 44.7,461.2 48.9,461.8 53.5,461.7 58.4,461.3 62.9,461.5 67.5,461.5 72.2,461.3 76.5,461.7 80.4,462.8 84.7,463.2 89.2,463.3 93.5,463.9 98.7,464.0 98.1,464.8 98.4,465.7 98.4,466.6 97.3,467.5 96.0,468.3 95.3,469.1 93.3,472.4 31.1,467.9 31.3,468.0 33.2,464.3 32.6,463.5 32.6,462.7 33.4,462.0 33.9,461.2 33.8,460.4" fill="#5a3a12"/>
<polygon points="93.5,463.9 97.6,464.3 102.2,464.1 106.5,464.3 113.6,464.8 112.8,465.7 111.6,466.5 110.8,467.4 110.3,468.3 108.9,469.1 106.7,469.9 105.9,473.3 88.2,472.0 86.2,471.8 88.9,467.8 90.5,467.0 91.9,466.2 92.0,465.4 91.7,464.5 92.1,463.6" fill="#b7afdb"/>
<polygon points="106.5,464.3 110.5,465.3 114.7,465.9 119.3,466.0 123.7,466.4 128.2,466.6 133.3,465.9 138.2,465.5 142.6,465.9 147.0,466.2 151.7,466.2 151.3,466.8 150.7,467.8 150.1,468.7 149.4,469.7 148.8,470.6 148.2,471.6 147.6,472.5 145.3,476.0 100.9,472.9 101.5,472.9 104.4,468.8 105.7,468.0 106.4,467.1 106.1,466.2 105.8,465.3 106.8,464.4" fill="#a5cb3c"/>
<polygon points="20.5,463.8 25.1,463.6 29.1,464.1 33.1,464.9 37.5,465.4 36.1,466.1 35.6,466.9 35.0,467.6 33.8,468.3 33.0,469.1 33.4,469.9 35.0,470.0 17.3,468.7 17.3,468.7 17.8,468.0 18.3,467.2 18.8,466.5 19.2,465.7 19.7,465.0 20.2,464.3" fill="#b7afdb"/>
<polygon points="33.1,464.9 37.2,465.3 41.3,465.9 45.1,466.8 49.2,467.3 53.8,467.0 58.2,467.0 62.4,467.5 66.7,467.6 71.1,467.6 75.2,468.2 79.2,468.8 83.8,468.6 88.5,468.7 87.6,469.5 87.9,470.4 88.0,471.3 87.0,472.1 85.6,472.9 84.8,473.8 85.7,473.8 30.0,469.7 30.8,469.7 30.6,468.9 30.0,468.1 30.0,467.3 30.5,466.5 30.7,465.7 30.4,464.9" fill="#5a3a12"/>
<polygon points="83.8,468.6 88.5,468.2 92.8,468.3 97.1,468.4 101.7,468.2 105.8,468.6 109.6,469.7 113.6,470.3 118.0,470.4 122.1,470.8 126.2,471.4 130.6,471.3 135.0,471.4 138.8,472.4 142.6,473.4 146.9,473.5 147.6,472.5 147.0,473.4 146.4,474.4 145.7,475.3 145.1,476.3 144.5,477.2 143.9,478.2 143.9,478.2 80.6,473.4 80.5,473.4 81.0,472.6 81.4,471.7 82.7,470.9 84.8,470.2 86.2,469.4 86.3,468.5" fill="#a5cb3c"/>
<path d="M84.1 472.0h0M79.6 461.4h0M89.6 463.4h0M47.2 465.9h0M52.4 465.1h0M53.3 470.3h0M69.9 471.9h0M37.4 465.5h0M48.8 462.7h0M53.5 461.8h0M78.4 470.2h0M76.1 472.4h0M60.3 468.7h0M54.5 469.8h0M72.7 464.0h0M70.0 466.5h0M74.1 468.4h0M73.1 471.8h0M81.6 472.7h0M43.2 465.9h0M70.6 469.3h0M68.6 468.4h0M91.1 464.3h0M41.3 466.7h0M36.8 466.9h0M71.9 466.8h0M67.8 466.3h0M56.4 464.3h0M33.7 462.4h0M82.3 464.3h0M58.5 463.5h0M43.0 465.8h0M96.7 463.7h0M52.5 460.7h0M78.8 470.4h0" stroke="#5a3a12" stroke-width="1.80" stroke-linecap="round" fill="none"/>
<path d="M154.6 444.9h0M156.8 448.3h0M160.7 445.0h0M151.9 443.8h0M155.6 448.8h0M155.3 444.4h0M150.1 447.4h0M148.7 450.7h0M151.0 451.1h0" stroke="#135e5e" stroke-width="1.80" stroke-linecap="round" fill="none"/>
<path d="M136.1 462.8h0M23.9 462.9h0M102.5 471.7h0M35.2 455.3h0M135.1 467.6h0M115.5 466.5h0M106.4 474.5h0M120.4 473.9h0M32.1 453.3h0M35.9 453.2h0M44.7 462.7h0M102.0 469.8h0M91.3 471.4h0M123.3 474.2h0M100.1 470.7h0M129.4 475.8h0M139.9 472.3h0M128.1 468.9h0M37.0 458.9h0M32.1 465.9h0M124.1 476.2h0M137.2 471.2h0M140.0 467.4h0M118.7 472.5h0M105.3 474.9h0M146.6 464.6h0M27.4 455.4h0M129.9 464.8h0M141.5 476.6h0M143.8 464.7h0M37.2 454.2h0M138.8 475.8h0M104.4 470.7h0M32.6 466.1h0M37.9 459.1h0M33.4 452.8h0M110.1 475.1h0M27.9 461.3h0M144.6 464.4h0M119.7 466.0h0M117.8 472.9h0M35.3 457.7h0M150.6 462.5h0M45.1 454.1h0M32.3 456.8h0M110.1 466.9h0M127.0 471.8h0M147.2 465.2h0M128.0 467.9h0M104.5 468.5h0M31.0 453.2h0M136.9 475.0h0M123.5 466.3h0" stroke="#a5cb3c" stroke-width="1.80" stroke-linecap="round" fill="none"/>
<path d="M54.6 443.0h0M40.4 445.2h0M52.7 446.9h0M67.7 447.8h0M53.2 444.9h0M51.1 446.4h0M33.3 447.2h0M36.5 446.6h0M64.5 447.5h0M58.0 442.2h0M55.2 445.8h0M65.0 445.0h0M52.5 445.2h0M40.3 442.8h0M55.0 445.1h0M42.6 446.4h0" stroke="#d42a2e" stroke-width="1.80" stroke-linecap="round" fill="none"/>
<path d="M59.5 451.9h0M60.7 449.1h0M53.4 452.1h0M49.7 447.5h0M69.5 451.3h0M50.6 453.5h0M72.1 453.7h0M50.0 449.2h0M59.6 449.5h0M58.6 452.7h0M65.2 450.9h0" stroke="#a27a6e" stroke-width="1.80" stroke-linecap="round" fill="none"/>
<path d="M84.2 455.9h0M84.1 456.1h0M72.1 458.2h0M69.0 444.5h0M69.1 454.1h0M114.4 460.5h0M50.1 453.9h0M58.4 456.9h0M68.8 453.7h0M114.7 457.2h0M46.9 460.6h0M122.6 461.0h0M54.8 454.2h0M66.1 460.5h0M47.7 455.9h0M118.7 465.2h0M108.9 462.7h0M66.6 444.2h0M39.6 449.4h0M71.2 460.8h0M131.9 462.0h0M57.3 451.8h0M34.8 449.3h0M72.3 460.8h0M37.2 447.9h0M63.3 460.9h0M43.5 451.6h0M69.2 462.8h0M132.0 463.3h0M77.2 455.4h0M68.5 457.2h0M70.1 452.1h0M50.6 454.8h0M121.3 463.0h0M62.0 456.9h0M64.7 455.7h0M118.8 465.7h0M115.8 465.1h0M105.3 463.5h0M69.1 443.9h0M138.2 465.9h0M41.2 449.8h0M72.5 456.8h0M127.8 461.9h0M50.2 454.3h0M54.2 455.7h0M65.7 458.7h0M55.4 456.8h0M70.0 461.6h0M133.2 463.2h0M130.5 455.1h0M128.0 458.7h0" stroke="#7a57a5" stroke-width="1.80" stroke-linecap="round" fill="none"/>
<path d="M89.8 456.5h0M89.7 456.3h0M92.9 460.9h0M80.1 463.3h0M89.2 457.4h0M95.0 462.0h0M93.9 455.7h0M80.7 456.0h0M84.2 456.1h0M84.7 453.7h0M84.3 462.6h0" stroke="#16aac8" stroke-width="1.80" stroke-linecap="round" fill="none"/>
<path d="M132.8 456.1h0M116.0 458.1h0M142.9 460.7h0M132.0 449.0h0M135.8 457.5h0M136.7 461.6h0M151.3 456.8h0M148.9 456.8h0M114.7 453.6h0M149.2 456.7h0M134.9 450.5h0M100.1 455.5h0M126.3 457.3h0M124.3 456.4h0M156.6 448.2h0M140.3 453.3h0M120.8 458.9h0M146.3 458.0h0M127.6 452.7h0M110.5 457.9h0M143.2 454.5h0M136.5 459.2h0M137.3 457.5h0M153.6 459.3h0M144.1 455.7h0" stroke="#7b1a4b" stroke-width="1.80" stroke-linecap="round" fill="none"/>
<path d="M106.6 453.5h0M87.6 452.1h0M96.1 451.7h0M101.3 452.2h0M119.2 446.5h0M97.4 448.8h0M84.1 450.6h0M112.1 444.7h0M119.6 444.1h0M72.9 449.9h0M107.6 451.6h0M119.4 449.0h0M115.7 446.7h0M118.7 450.2h0M113.5 450.0h0M84.8 451.0h0M117.5 451.0h0M123.3 447.6h0M118.2 455.1h0" stroke="#e07fc2" stroke-width="1.80" stroke-linecap="round" fill="none"/>
<path d="M71.3 445.4h0M90.8 446.7h0M73.9 442.7h0M92.6 443.8h0M92.5 447.4h0M81.5 442.4h0M88.8 447.2h0M90.1 443.7h0M73.0 447.7h0M86.2 445.8h0M79.8 449.1h0M85.7 446.0h0M75.3 443.6h0" stroke="#a3b27e" stroke-width="1.80" stroke-linecap="round" fill="none"/>
<path d="M26.8 465.8h0M104.8 462.5h0M99.0 460.5h0M96.2 468.9h0M91.3 466.2h0M102.2 462.3h0" stroke="#b7afdb" stroke-width="1.80" stroke-linecap="round" fill="none"/>
<path d="M142.3 449.9h0M133.8 447.3h0M135.2 445.3h0M140.7 444.8h0M133.7 443.4h0" stroke="#6f8b73" stroke-width="1.80" stroke-linecap="round" fill="none"/>
<path d="M84.2 458.6h0M89.4 459.2h0M95.7 452.8h0" stroke="#1b8a3e" stroke-width="1.80" stroke-linecap="round" fill="none"/>
<path d="M96.8 459.1h0M105.3 464.3h0" stroke="#f4a233" stroke-width="1.80" stroke-linecap="round" fill="none"/>
<polygon points="97.0,443.4 104.2,443.5 81.9,466.3 74.9,465.9" fill="#1b8a3e"/>
<path d="M122.7 467.6h0M51.3 466.5h0M132.5 450.8h0M27.7 463.2h0M136.8 447.1h0M117.3 465.9h0M101.0 466.7h0M151.1 454.2h0M122.3 470.6h0M66.6 460.7h0M106.5 467.5h0M103.1 451.2h0M61.8 456.8h0M43.2 464.0h0" stroke="#8a70c0" stroke-width="1.80" stroke-linecap="round" fill="none"/>
<polygon points="36.1,411.5 40.5,411.6 44.9,411.7 49.2,411.7 53.6,411.8 58.0,411.9 62.4,412.0 66.2,412.1 65.6,413.1 66.5,414.2 67.3,415.2 65.7,416.3 64.5,417.3 64.4,418.4 61.2,421.2 30.1,420.0 30.1,420.0 32.7,416.4 33.4,415.4 34.1,414.4 34.8,413.4 35.4,412.5 36.1,411.5" fill="#d42a2e"/>
<polygon points="62.4,412.0 66.7,412.1 71.1,412.1 75.5,412.2 79.8,412.3 84.2,412.4 88.6,412.5 92.3,412.5 92.5,413.6 91.2,414.7 90.7,415.8 90.4,416.9 88.6,418.0 87.6,419.1 87.1,422.1 56.0,421.0 57.2,421.0 59.3,417.1 60.7,416.1 62.7,415.1 62.5,414.1 61.6,413.0 62.0,412.0" fill="#4466b5"/>
<polygon points="88.6,412.5 93.8,412.6 99.1,412.7 104.3,412.8 109.5,412.9 114.8,413.0 121.1,413.1 121.0,414.2 119.7,415.4 117.7,416.5 117.7,417.6 118.0,418.8 116.5,419.9 113.1,423.0 82.0,421.9 80.9,421.9 83.0,417.8 84.4,416.8 85.0,415.7 85.8,414.6 88.6,413.6 90.8,412.5" fill="#e07fc2"/>
<polygon points="114.8,413.0 117.0,413.0 119.1,413.0 121.3,413.1 126.4,413.2 123.6,414.3 122.5,415.4 123.0,416.6 122.3,417.8 121.5,418.9 121.7,420.1 119.6,423.3 107.9,422.8 110.2,422.9 113.2,418.7 112.1,417.5 111.8,416.3 112.5,415.2 112.1,414.0 112.7,412.9" fill="#1b8a3e"/>
<polygon points="121.3,413.1 126.2,413.2 131.2,413.3 136.1,413.3 141.0,413.4 147.7,413.6 145.5,414.7 145.2,415.9 145.3,417.1 144.1,418.3 143.6,419.5 143.5,420.8 139.0,424.0 114.4,423.1 113.6,423.0 117.3,418.8 116.9,417.6 117.2,416.5 119.2,415.3 120.6,414.2 121.8,413.1" fill="#e07fc2"/>
<polygon points="141.0,413.4 146.2,413.5 151.5,413.6 156.7,413.7 162.0,413.8 167.2,413.9 167.2,413.9 166.4,415.2 165.5,416.4 164.7,417.6 163.8,418.9 163.0,420.1 162.1,421.3 159.8,424.7 133.8,423.8 136.0,423.8 137.3,419.4 137.5,418.2 137.7,417.0 137.0,415.7 138.0,414.6 140.4,413.4" fill="#135e5e"/>
<polygon points="31.9,417.4 36.9,417.4 41.8,417.6 46.9,417.4 51.7,417.7 58.4,418.2 57.4,418.9 56.9,419.7 56.1,420.4 54.2,421.1 52.2,421.8 51.3,422.5 51.6,425.5 27.0,424.4 27.0,424.4 29.4,420.9 30.0,420.2 30.5,419.5 31.0,418.8 31.5,418.1 32.0,417.4" fill="#7a57a5"/>
<polygon points="51.7,417.7 56.3,418.2 61.5,417.9 66.8,417.5 71.5,417.8 76.6,418.7 76.0,419.5 76.0,420.3 75.6,421.1 74.4,421.8 73.7,422.6 74.2,423.4 70.9,426.3 46.4,425.2 46.1,425.2 48.3,421.7 48.2,420.9 49.2,420.2 51.2,419.5 53.0,418.8 53.7,418.0" fill="#a27a6e"/>
<polygon points="71.5,417.8 75.9,418.0 80.3,418.0 84.2,418.7 88.0,419.6 92.3,419.8 96.8,419.7 102.8,419.5 101.4,420.3 100.4,421.1 100.5,421.9 100.8,422.8 99.8,423.6 98.0,424.4 96.7,427.5 65.7,426.1 65.8,426.1 67.7,422.4 68.2,421.6 68.8,420.8 68.4,420.0 67.7,419.2 68.0,418.5" fill="#e07fc2"/>
<polygon points="96.8,419.7 98.9,419.8 101.0,420.0 103.1,420.2 110.5,419.8 108.5,420.5 107.5,421.3 107.0,422.2 106.1,423.0 104.7,423.8 104.0,424.6 103.2,427.8 91.6,427.2 90.9,427.2 92.0,423.3 91.8,422.5 92.9,421.7 94.5,420.9 95.3,420.1 95.9,419.3" fill="#1b8a3e"/>
<polygon points="103.1,420.2 108.2,420.0 113.3,419.9 117.7,420.7 122.4,421.1 129.4,420.3 128.5,421.2 128.2,422.0 128.6,422.9 128.6,423.8 127.2,424.6 125.2,425.4 122.5,428.6 98.0,427.5 97.1,427.5 99.6,423.6 100.5,422.8 101.7,422.0 102.2,421.2 101.8,420.3 102.0,419.5" fill="#e07fc2"/>
<polygon points="122.4,421.1 127.6,420.7 132.6,420.7 137.7,420.6 143.2,419.8 146.4,420.8 146.4,421.7 145.8,422.6 145.3,423.5 145.8,424.4 146.8,425.4 146.8,426.3 141.9,429.5 117.4,428.4 118.2,428.4 121.7,424.4 122.5,423.6 122.3,422.7 122.0,421.8 122.8,421.0 124.4,420.2" fill="#7b1a4b"/>
<polygon points="143.2,419.8 148.3,419.7 152.7,420.4 157.6,420.6 162.5,420.8 162.1,421.3 161.5,422.2 160.9,423.1 160.2,424.0 159.6,424.9 159.0,425.8 158.4,426.7 156.1,430.1 136.7,429.2 134.6,429.1 137.2,425.0 138.6,424.2 140.8,423.3 142.1,422.5 142.2,421.6 142.3,420.7" fill="#135e5e"/>
<polygon points="29.3,421.1 33.4,421.6 37.6,421.9 42.3,421.6 46.7,421.6 50.7,422.2 54.8,422.7 59.3,422.8 57.9,423.5 57.3,424.2 57.8,425.0 58.6,425.8 58.8,426.5 58.3,427.2 55.0,430.1 24.2,428.4 24.2,428.4 26.6,425.0 27.0,424.4 27.5,423.7 28.0,423.0 28.5,422.3 28.9,421.7" fill="#a5cb3c"/>
<polygon points="54.8,422.7 59.6,423.0 64.0,423.8 68.5,424.5 73.8,424.1 78.5,423.6 77.4,424.3 77.0,425.1 76.8,425.8 76.1,426.5 75.0,427.3 74.8,428.0 74.3,431.1 49.9,429.8 51.1,429.9 52.7,426.2 52.9,425.5 54.2,424.8 55.7,424.2 56.3,423.5 56.0,422.7" fill="#7a57a5"/>
<polygon points="73.8,424.1 78.4,423.9 82.6,424.2 87.1,424.1 94.5,424.2 93.0,424.9 91.8,425.7 91.6,426.5 91.5,427.2 90.8,428.0 89.8,428.7 87.1,431.7 69.1,430.8 67.3,430.7 69.4,427.0 70.6,426.3 72.4,425.6 73.7,424.9 74.3,424.2 75.2,423.5" fill="#16aac8"/>
<polygon points="87.1,424.1 89.4,424.0 91.6,423.9 93.8,424.1 100.0,424.4 98.0,425.1 96.8,425.9 96.2,426.7 95.4,427.4 94.1,428.1 93.2,428.9 93.5,432.1 82.0,431.5 81.3,431.4 82.6,427.6 82.8,426.8 84.1,426.1 85.3,425.4 85.7,424.7 85.9,423.9" fill="#1b8a3e"/>
<polygon points="93.8,424.1 97.7,424.7 102.0,424.9 106.8,424.4 112.3,424.9 111.4,425.7 110.1,426.4 109.3,427.2 109.4,428.0 109.3,428.8 108.7,429.6 106.4,432.8 88.4,431.8 87.9,431.8 91.0,428.0 92.7,427.3 94.1,426.6 94.6,425.8 94.9,425.0 95.6,424.3" fill="#e07fc2"/>
<polygon points="106.8,424.4 111.9,424.2 116.8,424.4 122.0,424.1 126.8,424.3 134.0,425.8 133.4,426.6 132.0,427.4 130.9,428.1 130.4,429.0 129.6,429.8 128.0,430.5 125.6,433.8 101.2,432.5 98.3,432.3 101.8,428.5 103.7,427.8 105.2,427.0 105.8,426.3 106.2,425.5 107.1,424.7" fill="#7b1a4b"/>
<polygon points="126.8,424.3 130.8,425.4 135.1,426.0 139.9,426.0 144.3,426.5 148.8,426.8 153.8,426.5 158.4,426.8 158.4,426.7 157.8,427.6 157.2,428.4 156.6,429.3 156.1,430.1 155.5,430.9 154.9,431.8 152.6,435.2 120.5,433.5 121.1,433.5 123.3,429.5 124.3,428.7 125.8,427.9 126.6,427.1 126.8,426.3 127.2,425.5" fill="#a27a6e"/>
<polygon points="25.9,426.0 30.1,426.3 34.6,426.2 39.0,426.3 43.0,426.9 47.3,427.2 52.0,426.8 57.2,427.2 55.9,427.9 55.5,428.6 55.7,429.3 55.6,430.1 55.0,430.8 54.6,431.5 52.0,434.4 21.3,432.5 21.3,432.5 23.7,429.1 24.2,428.4 24.7,427.8 25.1,427.1 25.6,426.4 26.1,425.7" fill="#a5cb3c"/>
<polygon points="52.0,426.8 56.6,426.5 60.9,426.7 65.3,426.7 69.9,426.6 73.9,427.2 77.6,428.1 80.4,428.3 79.8,429.0 80.4,429.8 81.4,430.7 81.5,431.5 81.0,432.2 80.7,433.0 77.5,435.9 46.9,434.1 49.4,434.2 51.2,430.6 51.0,429.8 51.5,429.1 52.2,428.4 52.4,427.7 52.1,426.9" fill="#16aac8"/>
<polygon points="77.6,428.1 79.7,428.4 81.8,428.5 84.1,428.5 87.4,428.6 88.4,429.4 88.8,430.3 88.3,431.0 87.9,431.8 88.1,432.6 88.2,433.4 83.9,436.3 72.4,435.6 73.7,435.7 77.5,432.0 78.0,431.3 77.6,430.5 77.6,429.7 78.3,429.0 78.9,428.2" fill="#1b8a3e"/>
<polygon points="84.1,428.5 88.8,428.8 93.4,429.3 98.5,429.1 103.4,429.3 108.1,429.6 107.3,430.4 106.7,431.1 105.4,431.9 104.0,432.6 103.6,433.4 104.0,434.3 103.1,437.5 78.8,436.0 79.4,436.1 81.2,432.2 80.4,431.4 80.0,430.6 80.8,429.9 82.3,429.1 83.3,428.4" fill="#f4a233"/>
<polygon points="103.4,429.3 107.2,430.2 111.2,430.8 115.7,430.8 123.3,430.3 123.2,431.1 122.3,431.9 120.4,432.7 118.4,433.4 117.4,434.2 117.1,435.0 115.9,438.3 98.0,437.2 96.0,437.1 99.0,433.2 99.4,432.4 99.8,431.6 100.9,430.9 102.7,430.1 103.8,429.4" fill="#7b1a4b"/>
<polygon points="115.7,430.8 120.0,431.0 124.2,431.3 129.0,430.8 133.9,430.1 138.1,430.4 142.3,430.8 146.7,430.8 151.0,431.0 155.0,431.6 154.9,431.8 154.3,432.6 153.7,433.5 153.2,434.3 152.6,435.2 152.0,436.0 151.4,436.9 149.1,440.3 110.8,438.0 109.5,437.9 113.4,434.0 114.4,433.2 115.1,432.4 116.3,431.6 117.9,430.9 118.7,430.1" fill="#a5cb3c"/>
<polygon points="23.5,429.4 27.5,430.1 31.8,430.3 36.5,429.9 39.2,430.7 38.7,431.4 38.5,432.2 37.8,432.9 37.0,433.7 37.1,434.5 37.9,435.3 36.1,438.2 18.3,436.9 18.3,436.9 20.7,433.4 21.2,432.7 21.7,432.0 22.2,431.3 22.7,430.5 23.2,429.8" fill="#a5cb3c"/>
<polygon points="36.5,429.9 41.1,430.0 45.4,430.3 49.9,430.4 54.3,430.7 58.2,431.8 62.2,432.6 66.8,432.7 71.2,432.9 75.5,433.4 80.2,433.3 84.8,433.2 89.0,433.9 93.1,434.6 100.0,434.0 100.4,434.9 99.7,435.8 98.9,436.6 98.5,437.4 98.2,438.3 96.8,439.1 93.3,442.1 31.0,437.8 29.1,437.7 32.8,434.2 34.4,433.5 34.7,432.8 34.4,432.0 34.8,431.2 35.9,430.5" fill="#5a3a12"/>
<polygon points="93.1,434.6 97.8,434.5 102.4,434.5 106.8,434.8 111.7,434.4 116.7,433.8 121.0,434.2 125.2,434.9 129.7,435.0 134.0,435.4 138.1,436.2 142.6,436.3 147.4,436.0 151.7,436.4 151.4,436.9 150.8,437.8 150.2,438.7 149.5,439.6 148.9,440.5 148.3,441.4 147.7,442.3 145.3,445.8 88.2,441.8 87.4,441.7 90.3,437.8 91.7,437.0 92.3,436.2 92.2,435.3 92.5,434.5 93.4,433.7" fill="#a5cb3c"/>
<polygon points="19.5,435.2 23.9,435.2 28.5,435.0 32.8,435.2 40.3,435.5 39.4,436.2 39.0,437.0 38.7,437.7 37.5,438.5 35.5,439.1 34.0,439.8 34.9,439.9 17.1,438.6 17.1,438.6 17.6,437.8 18.2,437.1 18.7,436.4 19.2,435.6 19.7,434.9 20.2,434.2" fill="#a5cb3c"/>
<polygon points="32.8,435.2 37.3,435.1 42.0,434.8 46.3,434.9 50.2,435.7 54.3,436.1 58.8,436.1 63.0,436.5 67.1,436.9 71.6,436.8 76.0,436.8 79.9,437.7 83.7,438.6 89.5,438.6 88.3,439.4 87.3,440.2 87.5,441.1 88.3,442.0 88.5,442.9 87.6,443.7 85.6,443.6 29.8,439.5 29.7,439.5 29.9,438.7 30.8,438.0 31.8,437.3 32.1,436.5 32.3,435.7 33.6,435.0" fill="#5a3a12"/>
<polygon points="83.7,438.6 87.9,439.0 92.0,439.5 95.9,440.2 100.3,440.3 105.0,439.9 109.4,440.0 113.4,440.5 117.8,440.7 122.2,440.7 126.2,441.3 130.4,441.6 135.2,441.1 139.9,440.7 144.1,441.1 148.3,441.4 147.7,442.3 147.1,443.2 146.4,444.2 145.8,445.1 145.2,446.0 144.6,446.9 143.9,447.8 143.9,447.8 80.5,443.2 82.4,443.3 82.9,442.5 84.0,441.7 84.6,440.9 84.0,440.0 83.2,439.1 83.3,438.2" fill="#a5cb3c"/>
<path d="M129.4 439.6h0M114.9 439.0h0M135.8 443.4h0M99.7 440.7h0M96.3 440.8h0M35.3 432.5h0M48.4 429.0h0M101.1 438.9h0M26.5 431.3h0M111.5 435.9h0M53.2 426.1h0M127.1 438.3h0M88.8 436.5h0M126.4 437.5h0M31.7 423.0h0M112.4 437.5h0M27.0 433.9h0M125.7 440.9h0M30.4 423.4h0M45.1 431.9h0M115.0 445.3h0M132.4 434.5h0M26.1 434.6h0M39.8 424.9h0M138.5 440.5h0M115.7 441.0h0M129.3 439.3h0M88.1 438.7h0M104.8 439.5h0M35.6 424.0h0M21.8 434.3h0M42.9 427.5h0M152.2 432.1h0M117.4 445.4h0M95.2 432.7h0M97.3 437.5h0M144.5 443.9h0M143.9 435.1h0M108.9 436.6h0M143.8 446.1h0M97.7 436.4h0M101.5 440.6h0M136.1 431.7h0M127.4 444.9h0M97.7 441.2h0M45.5 422.4h0M131.6 435.8h0M109.4 440.6h0M96.1 441.7h0M33.3 429.0h0M119.7 436.8h0M37.8 423.9h0M107.7 440.1h0M134.8 445.7h0M78.9 442.7h0M124.3 443.6h0M135.9 442.8h0M124.9 432.0h0M41.5 426.7h0M143.0 435.8h0M25.1 437.3h0M138.4 438.1h0M140.1 433.2h0M122.5 434.8h0M152.6 431.8h0M35.1 435.8h0M110.1 432.6h0M130.5 444.3h0M40.6 423.7h0M133.0 436.1h0M124.5 433.1h0M32.5 431.9h0M37.7 422.9h0M136.1 431.6h0M150.8 430.9h0" stroke="#a5cb3c" stroke-width="1.80" stroke-linecap="round" fill="none"/>
<path d="M106.8 430.4h0M143.1 426.8h0M114.6 434.0h0M117.4 424.8h0M111.7 429.6h0M124.8 424.7h0M133.1 422.9h0M122.4 421.1h0M112.9 423.2h0M112.0 422.5h0M108.6 429.9h0M138.6 425.6h0M121.1 431.2h0M117.1 427.2h0M107.8 430.4h0M141.2 421.7h0" stroke="#7b1a4b" stroke-width="1.80" stroke-linecap="round" fill="none"/>
<path d="M152.4 415.0h0M134.1 425.5h0M160.5 419.0h0M158.4 422.1h0M154.3 418.7h0M158.4 414.6h0M145.1 424.4h0M151.6 415.6h0M149.1 424.7h0M143.4 416.2h0M157.1 426.3h0M140.5 425.4h0M153.3 421.0h0" stroke="#135e5e" stroke-width="1.80" stroke-linecap="round" fill="none"/>
<path d="M70.6 418.9h0M82.6 419.0h0M92.6 419.2h0M81.1 416.3h0M92.7 420.0h0M85.8 416.5h0M118.8 419.0h0M109.7 417.1h0M107.2 420.6h0M91.7 417.3h0M109.0 418.8h0M121.3 414.8h0M106.9 424.1h0M93.7 424.3h0M111.3 417.2h0M102.3 420.3h0M94.1 427.3h0M133.8 414.3h0M89.9 414.3h0M100.5 415.2h0M124.6 423.3h0M101.5 423.9h0M94.1 431.9h0M135.9 418.3h0M91.6 426.3h0M129.4 425.3h0M91.5 415.0h0M100.3 423.8h0M134.9 414.2h0M121.9 415.2h0M73.8 417.6h0M133.9 415.4h0M99.9 417.0h0M120.9 414.8h0M109.5 424.3h0M118.9 420.1h0M132.7 415.8h0M123.3 419.4h0M110.7 422.6h0M96.2 412.9h0M77.7 423.6h0M126.7 417.7h0" stroke="#e07fc2" stroke-width="1.80" stroke-linecap="round" fill="none"/>
<path d="M30.5 438.5h0M91.1 431.7h0M47.0 431.3h0M81.4 439.5h0M48.1 432.8h0M75.9 435.9h0M55.8 437.1h0M74.3 440.5h0M74.6 432.7h0M42.5 434.2h0M68.7 434.5h0M56.8 433.3h0M78.7 441.4h0M73.7 440.1h0M71.3 439.3h0M51.3 432.6h0M43.5 432.4h0M61.7 440.0h0M32.4 435.5h0M59.4 435.5h0M67.1 438.9h0M84.0 437.3h0M58.2 430.2h0M39.8 434.6h0M43.3 435.2h0M88.3 433.7h0M82.2 433.5h0M85.1 436.5h0M44.2 434.9h0M46.2 434.9h0M44.9 436.1h0" stroke="#5a3a12" stroke-width="1.80" stroke-linecap="round" fill="none"/>
<path d="M45.3 422.8h0M69.9 427.4h0M36.8 422.4h0M48.7 418.6h0M48.1 417.9h0M38.6 417.3h0M69.5 422.0h0M34.3 421.0h0M44.1 418.1h0M53.7 421.4h0M71.1 428.7h0M57.2 423.1h0M41.0 420.6h0M45.7 419.1h0M32.4 421.0h0M72.4 428.8h0M63.4 419.3h0M61.1 425.2h0" stroke="#7a57a5" stroke-width="1.80" stroke-linecap="round" fill="none"/>
<path d="M36.3 419.0h0M57.0 417.8h0M50.7 414.0h0M42.5 415.2h0M36.3 416.9h0M54.1 418.4h0M36.5 417.9h0M40.3 417.6h0M41.1 418.1h0M38.4 415.1h0M50.9 414.1h0M42.1 418.4h0M54.0 417.0h0M64.7 414.8h0" stroke="#d42a2e" stroke-width="1.80" stroke-linecap="round" fill="none"/>
<path d="M101.1 421.2h0M83.3 430.5h0M100.0 423.0h0" stroke="#1b8a3e" stroke-width="1.80" stroke-linecap="round" fill="none"/>
<path d="M103.4 430.5h0M85.4 432.5h0M82.8 427.0h0M92.2 432.2h0M90.0 432.7h0M85.3 433.0h0M102.4 433.3h0M94.6 433.4h0" stroke="#f4a233" stroke-width="1.80" stroke-linecap="round" fill="none"/>
<path d="M151.9 431.5h0M57.1 420.6h0M55.1 420.1h0M49.6 423.5h0M147.1 426.4h0M148.2 430.2h0M148.3 430.1h0M125.3 432.1h0M148.6 429.6h0M52.4 422.4h0M140.5 429.8h0M77.3 425.1h0M67.1 417.2h0M141.5 429.4h0M149.1 428.4h0M60.9 422.6h0M39.7 419.4h0" stroke="#a27a6e" stroke-width="1.80" stroke-linecap="round" fill="none"/>
<path d="M92.8 414.1h0M62.8 413.3h0M79.5 417.5h0M76.4 417.8h0M86.3 415.5h0M89.5 414.6h0M82.8 413.6h0" stroke="#4466b5" stroke-width="1.80" stroke-linecap="round" fill="none"/>
<path d="M74.8 430.4h0M49.4 429.4h0M74.4 428.2h0M67.2 432.8h0M79.8 425.1h0M85.9 422.1h0M89.3 421.8h0M63.1 431.2h0M61.2 431.4h0M69.6 427.0h0M64.8 430.0h0M65.7 427.7h0M61.7 428.2h0M70.6 428.4h0M77.6 425.1h0M71.6 432.3h0" stroke="#16aac8" stroke-width="1.80" stroke-linecap="round" fill="none"/>
<polygon points="97.6,413.8 104.8,414.0 82.0,436.2 75.0,435.8" fill="#1b8a3e"/>
<path d="M141.8 421.9h0M111.3 432.8h0M43.1 431.8h0M126.2 423.2h0M48.6 419.8h0M123.8 427.6h0M134.7 419.4h0M48.5 421.5h0M142.3 419.6h0M37.9 430.9h0M41.4 429.0h0M47.5 419.0h0M103.7 438.0h0M82.0 425.3h0" stroke="#a5cb3c" stroke-width="1.80" stroke-linecap="round" fill="none"/>
<polygon points="37.0,381.4 41.3,381.5 45.7,381.6 50.0,381.7 54.4,381.8 58.7,381.9 63.1,382.0 68.5,382.1 68.3,383.2 68.5,384.2 66.5,385.2 64.3,386.2 63.4,387.2 61.7,388.2 61.6,391.1 30.6,389.9 30.6,389.9 33.3,386.3 34.1,385.3 34.8,384.3 35.5,383.4 36.3,382.4 37.0,381.4" fill="#d42a2e"/>
<polygon points="63.1,382.0 68.0,382.1 72.9,382.2 77.8,382.4 82.7,382.5 89.5,382.6 89.5,383.7 88.7,384.8 86.1,385.8 84.5,386.8 84.5,387.9 83.4,388.9 81.1,391.8 56.5,390.9 54.3,390.8 56.8,387.0 58.4,386.0 59.1,385.0 60.8,384.0 63.6,383.1 64.5,382.0" fill="#a27a6e"/>
<polygon points="82.7,382.5 87.0,382.6 91.4,382.7 95.7,382.8 100.1,382.9 104.4,383.0 108.8,383.1 112.8,383.2 111.3,384.2 109.6,385.3 110.1,386.4 111.1,387.6 110.5,388.7 110.2,389.8 106.9,392.8 75.9,391.6 78.6,391.7 80.8,387.8 80.7,386.7 81.7,385.6 81.6,384.6 81.5,383.5 83.3,382.5" fill="#e07fc2"/>
<polygon points="108.8,383.1 110.9,383.1 113.1,383.2 115.3,383.2 118.5,383.3 118.1,384.4 117.5,385.5 118.3,386.7 118.4,387.8 116.5,388.9 115.5,390.0 113.4,393.0 101.8,392.6 103.0,392.6 106.4,388.6 107.4,387.5 109.2,386.4 109.1,385.3 107.9,384.1 108.5,383.1" fill="#1b8a3e"/>
<polygon points="115.3,383.2 120.2,383.3 125.1,383.4 130.0,383.5 134.9,383.7 141.2,383.8 141.7,385.0 139.9,386.1 138.3,387.2 138.0,388.4 136.7,389.5 135.4,390.6 132.8,393.8 108.2,392.8 107.0,392.8 108.8,388.6 110.6,387.6 113.2,386.5 114.3,385.4 115.9,384.3 117.8,383.3" fill="#e07fc2"/>
<polygon points="134.9,383.7 139.5,383.8 144.2,383.9 148.8,384.0 153.5,384.1 158.2,384.2 162.8,384.3 167.5,384.4 167.5,384.4 166.6,385.6 165.8,386.8 164.9,388.0 164.0,389.2 163.2,390.3 162.3,391.5 160.0,394.8 127.6,393.6 128.4,393.6 131.5,389.3 132.8,388.2 132.9,387.1 133.5,385.9 136.0,384.8 137.1,383.7" fill="#d42a2e"/>
<polygon points="32.2,387.8 36.6,387.8 41.5,387.2 46.2,386.8 50.0,387.8 50.6,388.6 50.0,389.3 48.9,390.0 48.4,390.8 48.5,391.5 48.0,392.3 45.4,395.0 27.4,394.2 27.4,394.2 29.9,390.8 30.5,390.1 31.0,389.4 31.5,388.7 32.1,387.9 32.6,387.2" fill="#7a57a5"/>
<polygon points="46.2,386.8 50.7,387.2 55.2,387.4 60.0,387.5 64.3,388.0 68.7,388.5 73.6,388.2 78.5,388.1 82.5,388.9 80.7,389.6 79.9,390.4 79.7,391.2 79.2,391.9 78.3,392.7 78.1,393.5 77.6,396.4 40.3,394.8 41.8,394.8 43.1,391.3 43.1,390.6 44.3,389.9 45.5,389.2 45.8,388.4 45.7,387.7" fill="#a27a6e"/>
<polygon points="78.5,388.1 83.0,388.7 87.7,389.1 92.5,389.4 96.8,390.3 103.5,389.6 102.9,390.4 101.6,391.2 100.9,391.9 100.9,392.8 100.5,393.6 99.5,394.3 97.0,397.3 72.5,396.2 71.5,396.2 74.6,392.5 76.7,391.8 78.4,391.1 79.0,390.3 79.3,389.6 80.1,388.8" fill="#e07fc2"/>
<polygon points="96.8,390.3 98.7,390.7 100.9,390.8 103.1,390.7 108.6,389.8 108.2,390.6 107.1,391.3 105.2,392.1 103.7,392.9 103.6,393.7 104.2,394.5 103.4,397.6 91.8,397.1 92.2,397.1 95.1,393.3 95.2,392.5 95.0,391.7 95.7,390.9 97.2,390.2 98.1,389.4" fill="#1b8a3e"/>
<polygon points="103.1,390.7 108.5,390.2 113.4,390.4 118.4,390.3 123.6,389.9 128.2,390.4 127.4,391.2 126.2,392.0 125.7,392.9 125.5,393.7 124.7,394.5 123.3,395.3 122.7,398.5 98.2,397.4 98.7,397.4 101.6,393.6 103.2,392.8 104.6,392.1 104.6,391.3 104.0,390.4 104.0,389.6" fill="#e07fc2"/>
<polygon points="123.6,389.9 128.3,390.4 132.9,390.9 138.1,390.6 143.3,390.3 148.6,391.1 148.9,392.0 148.4,392.8 147.9,393.7 148.0,394.5 147.8,395.4 146.3,396.2 142.1,399.4 117.6,398.3 116.3,398.2 120.3,394.3 122.1,393.6 122.7,392.7 122.5,391.9 122.7,391.1 123.9,390.3" fill="#7b1a4b"/>
<polygon points="143.3,390.3 148.1,390.5 153.4,390.1 158.4,390.1 162.6,391.1 162.3,391.5 161.7,392.4 161.1,393.3 160.4,394.1 159.8,395.0 159.2,395.9 158.6,396.7 156.2,400.0 136.9,399.1 138.6,399.2 141.7,395.2 142.2,394.3 143.2,393.5 144.3,392.7 144.2,391.8 143.3,390.9" fill="#d42a2e"/>
<polygon points="29.1,391.9 33.6,391.8 37.7,392.2 42.1,392.3 46.6,392.3 50.7,392.7 54.8,393.1 58.9,392.7 59.4,393.4 59.8,394.2 59.3,394.9 57.9,395.6 56.9,396.2 56.8,397.0 55.2,399.8 24.4,398.2 24.4,398.2 26.9,394.8 27.4,394.2 27.9,393.5 28.4,392.8 28.9,392.2 29.4,391.5" fill="#a5cb3c"/>
<polygon points="54.8,393.1 60.1,392.7 65.4,392.3 70.2,392.5 75.3,392.4 80.5,393.6 80.0,394.3 79.6,395.0 78.5,395.7 77.3,396.4 76.9,397.2 77.2,397.9 74.4,400.8 50.1,399.5 49.4,399.5 51.6,396.0 51.0,395.2 50.7,394.5 51.7,393.8 53.4,393.2 54.8,392.5" fill="#a27a6e"/>
<polygon points="75.3,392.4 79.7,392.4 83.6,393.2 87.4,394.0 89.8,394.0 90.2,394.7 90.6,395.5 90.2,396.2 89.5,397.0 89.3,397.7 89.6,398.5 87.3,401.5 69.3,400.5 71.9,400.7 74.8,397.1 74.4,396.3 73.7,395.5 73.6,394.8 74.1,394.1 74.2,393.3" fill="#7a57a5"/>
<polygon points="87.4,394.0 89.6,394.1 91.8,394.0 94.1,394.0 100.6,394.4 99.0,395.1 98.1,395.8 98.2,396.6 98.5,397.4 98.1,398.1 97.1,398.9 93.7,401.8 82.1,401.2 81.0,401.2 83.0,397.4 83.7,396.7 85.0,396.0 85.8,395.3 86.3,394.6 87.2,393.8" fill="#1b8a3e"/>
<polygon points="94.1,394.0 98.8,394.3 103.5,394.7 108.6,394.6 113.3,395.0 119.4,395.1 118.3,395.9 117.2,396.6 117.2,397.4 117.9,398.3 118.2,399.1 117.4,399.8 112.9,402.8 88.5,401.5 87.8,401.5 90.4,397.8 91.4,397.1 92.3,396.3 92.5,395.6 92.8,394.8 94.1,394.1" fill="#e07fc2"/>
<polygon points="113.3,395.0 117.2,396.0 121.6,396.4 126.4,396.2 130.8,396.5 135.5,396.4 140.7,395.7 145.5,395.5 149.7,396.1 154.2,396.3 158.9,396.2 158.6,396.7 158.0,397.6 157.4,398.4 156.8,399.2 156.2,400.0 155.6,400.8 155.0,401.6 152.7,404.9 107.8,402.6 107.5,402.5 110.3,398.7 110.7,397.9 110.3,397.1 109.6,396.3 109.8,395.5 111.1,394.8" fill="#7b1a4b"/>
<polygon points="26.2,395.8 30.8,396.0 35.1,396.6 39.8,396.7 44.7,396.4 49.2,396.8 53.4,397.5 58.1,397.6 64.7,397.3 63.3,398.0 62.6,398.7 61.8,399.4 60.3,400.1 58.6,400.7 57.8,401.4 58.4,404.4 21.4,402.2 21.4,402.2 23.9,398.9 24.4,398.2 24.9,397.5 25.4,396.9 25.9,396.2 26.4,395.5" fill="#a5cb3c"/>
<polygon points="58.1,397.6 62.5,397.7 66.6,398.1 71.1,398.0 77.4,397.9 76.3,398.6 75.2,399.3 75.1,400.1 75.8,400.9 76.1,401.7 75.5,402.4 71.2,405.2 53.3,404.1 52.6,404.1 55.1,400.5 56.2,399.9 57.1,399.2 57.3,398.4 57.7,397.7 59.1,397.1" fill="#7a57a5"/>
<polygon points="71.1,398.0 76.1,397.4 80.6,397.2 84.8,397.6 89.5,398.5 88.2,399.2 86.6,399.9 85.9,400.6 86.2,401.4 86.5,402.2 85.9,403.0 84.0,406.0 66.1,404.9 66.2,404.9 68.6,401.3 69.0,400.5 68.8,399.8 68.1,399.0 68.0,398.2 69.1,397.5" fill="#1b8a3e"/>
<polygon points="84.8,397.6 89.6,397.8 94.5,398.0 98.9,398.8 103.6,399.2 108.4,399.4 108.5,400.2 108.1,401.0 107.0,401.7 106.1,402.5 105.8,403.2 105.5,404.0 103.2,407.1 78.9,405.6 79.0,405.7 82.1,402.0 82.1,401.2 81.3,400.4 80.9,399.6 81.5,398.9 82.4,398.2" fill="#f4a233"/>
<polygon points="103.6,399.2 108.8,398.8 113.6,399.2 118.1,399.8 123.0,400.0 129.2,400.4 127.7,401.1 127.0,401.9 127.3,402.8 127.4,403.6 126.8,404.4 125.7,405.1 122.3,408.2 98.1,406.8 97.3,406.7 99.1,402.9 99.6,402.1 100.7,401.4 101.7,400.7 102.2,399.9 102.9,399.2" fill="#a27a6e"/>
<polygon points="123.0,400.0 127.2,400.7 131.2,401.7 135.8,401.9 140.8,401.6 145.4,401.8 150.2,401.8 155.2,401.4 155.0,401.6 154.5,402.4 153.9,403.3 153.3,404.1 152.7,404.9 152.1,405.7 151.5,406.5 149.2,409.8 117.2,407.9 117.1,407.9 119.7,404.0 120.4,403.2 120.4,402.4 119.7,401.6 119.3,400.7 120.2,400.0" fill="#a5cb3c"/>
<polygon points="23.2,399.8 27.5,400.1 32.0,399.9 36.2,400.3 43.5,400.6 43.8,401.4 42.7,402.1 40.8,402.8 39.7,403.5 39.3,404.3 38.6,405.0 36.0,407.8 18.2,406.6 18.2,406.6 20.7,403.1 21.3,402.4 21.8,401.7 22.3,401.0 22.9,400.3 23.4,399.5" fill="#a5cb3c"/>
<polygon points="36.2,400.3 40.0,401.1 44.1,401.6 48.5,401.6 52.7,401.9 57.0,402.2 61.8,401.7 66.5,401.3 70.7,401.6 74.9,402.0 79.3,402.1 83.5,402.3 87.5,402.9 91.9,403.0 96.6,402.6 100.9,402.8 105.2,404.0 103.0,404.7 101.6,405.5 101.5,406.4 101.7,407.2 101.2,408.0 100.4,408.8 99.6,412.0 30.9,407.4 32.2,407.5 33.3,403.9 33.2,403.1 33.8,402.4 34.0,401.6 33.8,400.9 34.3,400.1" fill="#5a3a12"/>
<polygon points="100.9,402.8 104.9,403.5 109.0,403.9 113.2,404.3 116.9,405.3 120.8,406.1 125.3,405.9 129.9,405.8 134.0,406.2 138.4,406.3 143.0,406.1 147.1,406.5 151.0,407.3 151.5,406.5 150.9,407.4 150.3,408.3 149.6,409.2 149.0,410.0 148.4,410.9 147.8,411.8 145.4,415.1 94.5,411.7 92.9,411.6 95.6,407.7 96.8,406.9 98.6,406.2 99.9,405.4 100.0,404.6 99.7,403.7" fill="#a5cb3c"/>
<polygon points="20.1,403.9 24.2,404.4 28.5,404.7 32.9,404.7 37.4,404.9 36.8,405.7 36.4,406.4 37.1,407.3 38.0,408.1 38.0,408.9 36.7,409.6 34.8,409.4 17.0,408.2 17.0,408.2 17.5,407.5 18.0,406.8 18.6,406.0 19.1,405.3 19.7,404.6 20.2,403.9" fill="#a5cb3c"/>
<polygon points="32.9,404.7 37.2,405.2 41.5,405.6 46.4,405.2 51.3,404.9 55.6,405.2 60.0,405.5 64.6,405.6 68.6,406.4 72.5,407.4 77.0,407.6 81.6,407.6 85.8,408.1 90.2,408.5 96.3,408.6 95.7,409.4 93.9,410.1 91.9,410.9 90.9,411.6 90.6,412.5 90.0,413.3 91.9,413.4 29.7,409.1 28.7,409.0 29.6,408.3 30.7,407.6 31.1,406.9 31.1,406.1 31.7,405.4 32.8,404.6" fill="#5a3a12"/>
<polygon points="90.2,408.5 94.8,408.5 98.9,409.1 102.8,410.2 107.2,410.4 112.0,410.2 116.4,410.4 121.1,410.4 126.1,409.9 130.7,409.9 134.7,410.7 139.1,411.0 143.7,411.0 148.0,411.4 147.8,411.8 147.1,412.7 146.5,413.5 145.9,414.4 145.3,415.3 144.6,416.2 144.0,417.0 144.0,417.0 86.8,413.1 87.9,413.1 88.9,412.4 88.8,411.5 88.5,410.6 89.3,409.8 90.8,409.1 92.0,408.3" fill="#a5cb3c"/>
<path d="M77.7 389.1h0M83.3 387.5h0M93.2 385.3h0M130.2 390.7h0M99.7 386.0h0M92.5 388.5h0M94.6 398.3h0M100.0 384.8h0M94.1 396.7h0M100.8 385.8h0M98.0 399.7h0M108.2 393.5h0M122.6 385.4h0M90.4 386.8h0M88.1 383.0h0M84.2 390.7h0M98.5 386.5h0M95.8 390.1h0M95.8 394.8h0M83.5 384.9h0M91.1 387.2h0M115.8 391.2h0M93.5 396.7h0M79.5 388.2h0M120.0 391.2h0M102.5 395.2h0M97.2 391.8h0M101.3 387.5h0M88.2 384.5h0M126.7 388.1h0M111.5 388.2h0M74.2 394.3h0M124.4 384.9h0M119.4 387.9h0M94.4 387.8h0M105.0 396.6h0M88.5 394.8h0M93.1 396.2h0M85.6 389.1h0M113.4 392.6h0M86.4 388.6h0M95.5 385.0h0" stroke="#e07fc2" stroke-width="1.80" stroke-linecap="round" fill="none"/>
<path d="M79.3 382.7h0M75.1 394.1h0M105.8 402.8h0M131.5 402.5h0M69.8 394.0h0M62.0 397.3h0M69.6 384.8h0M79.7 388.1h0M51.6 390.2h0M117.5 401.0h0M113.4 400.8h0M67.4 386.3h0M62.7 382.8h0M68.1 384.0h0M101.9 400.3h0M105.6 402.2h0M72.4 391.1h0M86.1 386.6h0M105.2 403.7h0M71.0 387.8h0M77.7 383.3h0M73.9 382.7h0M66.0 395.4h0M122.9 403.6h0M56.4 393.2h0M56.2 388.5h0M55.6 396.0h0M121.9 399.2h0M62.1 389.8h0M114.7 402.2h0M100.4 405.4h0M48.7 389.3h0M64.6 385.0h0M68.1 382.9h0M64.5 392.8h0M106.2 400.8h0M121.5 397.7h0M42.6 385.8h0M60.8 393.3h0M115.7 402.7h0M77.4 389.3h0M45.9 388.7h0M71.7 383.0h0M126.7 399.3h0M60.6 394.4h0M73.4 388.2h0M67.2 395.7h0" stroke="#a27a6e" stroke-width="1.80" stroke-linecap="round" fill="none"/>
<path d="M128.8 393.4h0M142.7 393.9h0M146.7 401.8h0M144.6 396.6h0M126.0 398.6h0M109.3 395.5h0M152.8 400.6h0M127.2 394.9h0M123.6 388.8h0M116.4 393.7h0M141.1 394.9h0M156.5 396.8h0M149.4 401.6h0M114.8 398.4h0M131.1 398.2h0M154.0 398.2h0M118.0 398.8h0M128.9 393.4h0M126.0 392.5h0M131.8 396.0h0M116.9 398.8h0M137.6 394.8h0M128.6 390.2h0M136.2 401.7h0M126.1 399.3h0M128.7 393.7h0" stroke="#7b1a4b" stroke-width="1.80" stroke-linecap="round" fill="none"/>
<path d="M115.5 407.3h0M116.2 414.4h0M97.4 410.4h0M123.9 414.0h0M139.6 412.0h0M34.4 395.7h0M42.2 401.3h0M26.9 402.9h0M108.6 410.9h0M25.9 400.2h0M147.0 406.8h0M19.7 408.0h0M138.7 403.6h0M110.4 410.6h0M127.4 411.7h0M111.2 406.2h0M115.5 408.8h0M133.6 405.8h0M123.5 408.4h0M107.9 411.8h0M147.4 405.8h0M131.0 415.3h0M56.1 390.9h0M37.8 400.1h0M133.4 402.8h0M124.4 401.1h0M33.2 406.1h0M124.1 405.2h0M46.9 393.9h0M34.7 396.7h0M137.5 401.1h0M124.4 412.7h0M118.3 409.7h0M110.6 413.1h0M102.0 406.8h0M135.2 407.6h0M125.6 404.3h0M41.7 391.5h0M35.0 405.7h0M141.2 406.9h0M134.8 415.1h0M144.4 412.2h0M123.7 406.8h0M46.6 391.4h0M86.5 408.7h0M48.0 397.9h0M119.2 406.7h0M36.2 393.0h0M149.1 405.6h0M52.8 395.3h0M137.4 414.0h0M27.4 399.6h0M114.1 407.9h0M42.9 400.1h0M27.8 396.2h0M132.3 405.5h0M135.3 410.9h0M145.0 413.3h0M139.3 402.8h0M135.3 415.3h0M46.6 397.5h0M143.2 414.6h0M23.9 401.8h0M37.5 399.6h0M144.0 413.1h0M144.1 407.3h0M102.0 407.8h0" stroke="#a5cb3c" stroke-width="1.80" stroke-linecap="round" fill="none"/>
<path d="M83.9 404.9h0M39.3 405.0h0M45.4 403.9h0M77.0 410.8h0M41.4 407.6h0M75.8 410.4h0M46.2 404.7h0M41.7 406.7h0M85.1 408.3h0M48.5 399.4h0M85.1 405.8h0M53.9 401.6h0M84.1 409.5h0M69.1 406.4h0M89.7 407.1h0M101.3 402.1h0M40.5 406.6h0M38.4 403.9h0M76.1 406.5h0M47.9 405.2h0M73.3 404.9h0M29.0 406.6h0M81.5 403.8h0M50.0 404.5h0M65.2 401.5h0M50.1 405.7h0M72.7 409.3h0M40.9 404.2h0M73.7 410.1h0M67.5 402.2h0M66.1 406.5h0M83.8 402.4h0M38.6 407.8h0M52.0 407.1h0M60.4 409.3h0M73.8 405.2h0" stroke="#5a3a12" stroke-width="1.80" stroke-linecap="round" fill="none"/>
<path d="M87.1 402.0h0M77.2 402.9h0M92.2 397.6h0M89.9 401.4h0" stroke="#f4a233" stroke-width="1.80" stroke-linecap="round" fill="none"/>
<path d="M154.4 389.8h0M62.7 384.6h0M45.6 382.8h0M54.3 384.6h0M36.0 387.3h0M152.0 389.6h0M151.4 392.1h0M44.2 388.0h0M145.8 388.6h0M148.8 389.9h0M49.1 383.7h0M54.5 384.9h0M156.0 384.9h0M143.6 387.0h0M151.9 388.6h0M138.2 390.8h0M140.8 394.9h0M51.2 382.3h0M57.6 388.0h0M149.4 385.7h0M56.8 382.6h0M48.9 384.3h0M148.8 384.6h0" stroke="#d42a2e" stroke-width="1.80" stroke-linecap="round" fill="none"/>
<path d="M79.1 402.2h0M72.7 402.7h0M95.1 395.3h0M87.6 394.6h0M91.8 389.0h0M110.6 387.8h0" stroke="#1b8a3e" stroke-width="1.80" stroke-linecap="round" fill="none"/>
<path d="M43.6 387.0h0M80.3 397.6h0M38.3 393.8h0M57.7 402.7h0M36.3 390.2h0M42.5 388.9h0M73.7 393.7h0M74.8 399.1h0M35.1 389.6h0" stroke="#7a57a5" stroke-width="1.80" stroke-linecap="round" fill="none"/>
<polygon points="98.1,384.0 105.3,384.2 82.1,405.8 75.1,405.4" fill="#1b8a3e"/>
<path d="M40.3 390.8h0M56.9 402.6h0M111.3 405.5h0M91.9 402.2h0M50.7 392.3h0M71.8 390.6h0M125.1 390.7h0M75.6 390.7h0M131.4 402.6h0M91.9 393.8h0M132.2 411.1h0M84.9 398.3h0M138.7 392.3h0M71.0 386.1h0" stroke="#a5cb3c" stroke-width="1.80" stroke-linecap="round" fill="none"/>
<polygon points="37.8,351.2 42.5,351.3 47.1,351.4 51.8,351.5 56.4,351.6 61.0,351.7 65.7,351.8 70.3,352.0 74.5,352.1 72.9,353.1 72.4,354.1 71.1,355.1 70.3,356.1 71.6,357.2 72.1,358.2 68.5,361.0 31.1,359.5 31.1,359.5 34.0,356.0 34.7,355.0 35.5,354.0 36.3,353.1 37.1,352.1 37.8,351.2" fill="#d42a2e"/>
<polygon points="70.3,352.0 75.2,352.1 80.1,352.2 84.9,352.3 89.8,352.4 95.4,352.6 93.6,353.6 93.3,354.7 93.1,355.7 91.9,356.7 92.2,357.8 93.0,358.9 87.9,361.7 63.4,360.8 63.3,360.8 66.9,357.0 66.9,356.0 67.4,355.0 69.9,354.0 71.6,353.0 72.1,352.0" fill="#4466b5"/>
<polygon points="89.8,352.4 94.7,352.6 99.5,352.7 104.4,352.8 109.3,352.9 114.9,353.1 114.4,354.2 114.1,355.2 112.6,356.3 112.3,357.4 112.3,358.5 110.0,359.5 107.3,362.4 82.7,361.5 81.6,361.4 84.8,357.6 86.2,356.6 85.8,355.5 85.9,354.5 88.2,353.5 89.9,352.5" fill="#e07fc2"/>
<polygon points="109.3,352.9 113.9,353.1 118.6,353.2 123.2,353.3 127.9,353.4 132.5,353.5 137.1,353.6 141.8,353.7 148.1,353.9 146.9,355.0 145.2,356.1 142.5,357.2 141.6,358.3 142.0,359.4 141.0,360.5 139.5,363.6 102.1,362.2 102.4,362.2 104.4,358.2 105.0,357.1 104.6,356.1 105.1,355.0 107.6,354.0 109.0,352.9" fill="#135e5e"/>
<polygon points="141.8,353.7 147.0,353.9 152.2,354.0 157.4,354.1 162.6,354.3 167.8,354.4 167.8,354.4 166.9,355.5 166.0,356.7 165.2,357.8 164.3,359.0 163.4,360.1 162.5,361.3 160.2,364.4 134.4,363.4 133.3,363.4 137.5,359.3 137.4,358.1 137.3,357.0 139.0,355.9 140.3,354.8 141.3,353.7" fill="#d42a2e"/>
<polygon points="33.9,356.0 38.2,356.2 42.4,356.5 46.8,356.5 50.9,357.0 54.6,357.8 58.8,358.2 64.2,358.0 65.0,358.7 64.5,359.5 63.2,360.2 62.2,360.9 62.1,361.7 61.9,362.4 58.6,365.1 27.7,363.8 27.7,363.8 30.4,360.4 31.0,359.7 31.5,359.0 32.1,358.3 32.6,357.6 33.2,356.9" fill="#7a57a5"/>
<polygon points="58.8,358.2 63.7,358.0 68.2,358.2 72.7,358.6 77.4,358.5 82.0,358.8 86.1,359.7 90.6,359.9 95.0,359.0 95.4,359.8 95.5,360.6 94.5,361.3 92.9,362.1 92.1,362.8 92.3,363.6 90.8,366.5 53.5,364.9 54.4,364.9 57.9,361.5 58.3,360.8 58.7,360.0 59.8,359.3 60.8,358.6 60.6,357.8" fill="#e07fc2"/>
<polygon points="90.6,359.9 95.3,359.6 99.8,359.5 104.2,359.5 107.7,359.4 106.8,360.2 107.0,361.0 108.1,361.8 108.6,362.7 107.9,363.4 106.8,364.2 103.6,367.1 85.6,366.3 87.7,366.4 90.1,362.7 90.8,362.0 91.8,361.2 92.1,360.5 91.5,359.7 91.1,358.9" fill="#1b8a3e"/>
<polygon points="104.2,359.5 109.6,358.9 114.7,358.8 119.2,359.5 123.9,359.7 130.1,360.2 129.8,361.0 130.1,361.8 130.1,362.6 128.7,363.4 126.6,364.2 125.3,364.9 122.9,367.9 98.5,366.9 97.2,366.8 100.2,363.1 101.0,362.4 102.7,361.6 104.4,360.9 105.0,360.1 104.7,359.3" fill="#e07fc2"/>
<polygon points="123.9,359.7 129.0,359.6 133.7,360.0 138.6,360.0 143.9,359.6 146.7,360.7 145.1,361.5 144.8,362.3 144.9,363.2 144.4,364.0 143.6,364.8 143.5,365.7 142.2,368.8 117.8,367.7 120.2,367.8 121.8,364.0 120.9,363.1 121.0,362.3 121.8,361.5 122.1,360.7 122.0,359.9" fill="#7b1a4b"/>
<polygon points="143.9,359.6 148.5,360.1 152.7,361.1 157.4,361.4 162.0,361.9 162.5,361.3 161.9,362.1 161.3,362.9 160.6,363.8 160.0,364.6 159.4,365.4 158.8,366.3 156.4,369.4 137.1,368.6 137.4,368.6 140.3,364.7 140.5,363.9 140.2,363.0 140.3,362.2 141.5,361.4 143.1,360.6" fill="#d42a2e"/>
<polygon points="29.9,361.0 33.9,362.0 38.5,362.2 43.4,362.0 47.9,362.3 52.5,362.5 57.4,362.4 61.8,362.7 68.9,362.7 67.8,363.4 66.3,364.0 65.6,364.7 65.8,365.4 65.9,366.2 65.4,366.9 61.8,369.6 24.6,367.8 24.6,367.8 27.2,364.4 27.7,363.8 28.3,363.1 28.8,362.5 29.3,361.8 29.8,361.1" fill="#a27a6e"/>
<polygon points="61.8,362.7 65.7,363.4 70.1,363.5 74.9,363.1 79.3,363.0 83.7,363.0 88.5,362.6 90.3,363.5 90.6,364.3 91.4,365.1 91.6,365.8 90.9,366.5 89.8,367.2 89.5,368.0 87.4,370.9 56.6,369.3 59.2,369.5 61.9,366.0 61.8,365.3 62.1,364.6 62.7,363.9 62.9,363.2 62.2,362.4" fill="#7a57a5"/>
<polygon points="88.5,362.6 90.8,362.4 93.0,362.5 95.0,362.7 98.6,363.9 98.0,364.6 98.0,365.3 98.5,366.1 98.5,366.9 97.3,367.6 95.9,368.3 93.8,371.2 82.3,370.6 83.2,370.7 86.1,367.1 87.4,366.4 89.0,365.7 89.7,365.0 89.2,364.2 88.5,363.5" fill="#1b8a3e"/>
<polygon points="95.0,362.7 99.4,363.6 104.2,363.8 109.1,363.9 113.6,364.5 117.9,364.6 116.7,365.4 116.5,366.1 116.4,366.9 115.8,367.6 115.0,368.4 114.8,369.1 113.1,372.1 88.7,370.9 89.9,371.0 91.8,367.3 92.1,366.6 93.3,365.9 95.0,365.2 95.9,364.5 96.0,363.8" fill="#7a57a5"/>
<polygon points="113.6,364.5 118.3,364.5 123.1,364.3 127.3,364.9 131.2,365.8 135.7,366.0 140.1,366.4 144.3,366.9 149.1,366.8 154.2,366.1 158.8,366.2 158.8,366.3 158.2,367.1 157.6,367.8 157.0,368.6 156.4,369.4 155.8,370.2 155.2,371.0 152.8,374.1 107.9,371.9 108.8,371.9 111.4,368.2 111.7,367.5 111.4,366.7 110.8,365.9 111.1,365.1 112.4,364.4" fill="#7b1a4b"/>
<polygon points="27.0,364.7 31.1,365.5 35.6,365.9 40.5,365.6 45.1,365.9 49.4,366.5 54.0,366.6 58.5,367.0 63.5,366.8 62.3,367.4 60.8,368.1 60.2,368.8 60.6,369.5 61.2,370.3 61.0,371.0 58.5,373.8 21.4,371.7 21.4,371.7 24.1,368.4 24.6,367.8 25.1,367.1 25.6,366.4 26.2,365.8 26.7,365.1" fill="#a5cb3c"/>
<polygon points="58.5,367.0 62.8,367.9 67.7,368.0 73.1,367.5 78.0,367.6 81.6,367.6 82.1,368.4 82.3,369.1 81.4,369.8 79.9,370.5 79.0,371.2 79.0,371.9 77.7,374.9 53.4,373.5 54.7,373.6 58.0,370.1 58.3,369.4 58.6,368.7 59.5,368.0 60.3,367.4 60.2,366.6" fill="#7a57a5"/>
<polygon points="78.0,367.6 82.5,367.5 87.2,367.2 91.5,367.3 96.5,368.3 94.8,369.0 93.8,369.7 93.2,370.4 92.2,371.1 90.7,371.8 89.8,372.5 90.5,375.6 72.6,374.6 72.6,374.6 74.3,371.0 74.6,370.2 75.9,369.6 77.2,368.9 77.5,368.2 77.3,367.4" fill="#16aac8"/>
<polygon points="91.5,367.3 95.9,368.1 100.7,368.3 105.9,368.1 110.6,368.5 116.4,369.2 115.8,369.9 115.5,370.7 115.8,371.5 116.0,372.3 115.2,373.0 113.4,373.7 109.6,376.6 85.4,375.3 84.3,375.2 87.5,371.6 89.0,371.0 90.3,370.3 90.5,369.5 90.2,368.8 90.4,368.0" fill="#f4a233"/>
<polygon points="110.6,368.5 115.5,368.5 120.6,368.4 125.0,369.2 129.2,370.2 133.3,370.0 133.4,370.8 132.8,371.5 132.3,372.3 132.5,373.1 132.7,373.9 131.9,374.7 128.8,377.7 104.5,376.4 105.6,376.4 109.5,372.7 111.0,372.0 111.2,371.3 110.6,370.5 110.3,369.7 110.7,368.9" fill="#7b1a4b"/>
<polygon points="129.2,370.2 134.3,370.5 139.2,371.1 144.2,371.5 149.9,371.0 155.1,371.1 155.2,371.0 154.6,371.8 154.0,372.5 153.4,373.3 152.8,374.1 152.2,374.9 151.6,375.7 149.3,378.8 123.7,377.4 124.8,377.5 127.4,373.6 128.3,372.9 129.1,372.1 129.2,371.4 129.2,370.6 130.0,369.8" fill="#a5cb3c"/>
<polygon points="24.0,368.4 28.6,368.7 33.4,368.7 37.7,369.2 41.8,370.0 46.5,370.2 51.3,370.1 55.7,370.5 59.5,370.9 59.9,371.7 59.4,372.5 57.8,373.2 56.5,373.9 56.2,374.6 56.1,375.4 55.0,378.3 18.1,376.0 18.1,376.0 20.7,372.6 21.3,371.9 21.9,371.2 22.4,370.5 23.0,369.8 23.5,369.1" fill="#a5cb3c"/>
<polygon points="55.7,370.5 60.1,370.9 64.7,371.0 68.8,371.7 72.7,372.7 77.2,372.9 81.9,372.8 86.4,373.1 91.1,373.0 96.1,372.6 100.7,372.7 104.8,373.3 104.9,374.1 105.7,375.0 106.2,375.8 105.3,376.6 103.8,377.4 102.8,378.1 99.6,381.1 49.9,378.0 50.3,378.0 53.4,374.5 54.0,373.8 55.3,373.0 56.7,372.3 57.0,371.6 56.4,370.8" fill="#16aac8"/>
<polygon points="100.7,372.7 104.6,373.4 108.9,373.6 113.4,373.4 119.2,374.0 117.6,374.8 117.0,375.6 116.5,376.4 115.4,377.2 114.2,378.0 114.0,378.8 112.4,381.9 94.5,380.7 94.5,380.7 96.0,376.9 95.3,376.1 95.8,375.3 97.3,374.5 98.4,373.8 99.0,373.0" fill="#f4a233"/>
<polygon points="113.4,373.4 117.7,373.7 122.0,373.8 126.7,373.4 131.3,373.3 135.2,374.0 139.0,374.8 143.2,375.1 147.2,375.7 151.1,376.5 151.6,375.7 151.0,376.5 150.4,377.4 149.8,378.2 149.1,379.1 148.5,379.9 147.9,380.7 145.5,383.9 107.3,381.5 109.1,381.7 112.6,377.9 112.7,377.0 111.7,376.1 111.0,375.3 111.5,374.5 112.3,373.7" fill="#a5cb3c"/>
<polygon points="20.7,372.7 25.4,373.0 30.0,373.6 34.9,373.8 39.2,374.6 45.3,374.8 43.6,375.5 41.6,376.1 40.5,376.8 40.3,377.6 39.6,378.3 38.7,379.0 41.0,379.2 16.8,377.6 16.8,377.6 17.4,376.9 17.9,376.2 18.5,375.5 19.1,374.8 19.6,374.1 20.2,373.3" fill="#a5cb3c"/>
<polygon points="39.2,374.6 43.1,375.6 47.6,375.9 52.3,375.8 56.7,376.1 61.3,376.2 66.2,376.0 70.6,376.3 74.7,377.0 79.3,377.1 84.1,376.9 87.5,377.2 87.0,378.0 87.3,378.9 87.0,379.7 85.9,380.4 85.0,381.2 84.8,382.0 85.5,382.0 35.9,378.9 37.6,379.0 37.9,378.2 37.1,377.4 36.6,376.6 36.9,375.8 37.4,375.1 37.2,374.3" fill="#5a3a12"/>
<polygon points="84.1,376.9 89.2,377.2 94.7,377.0 100.3,376.6 105.1,377.4 109.8,378.2 115.3,378.9 114.0,379.6 113.9,380.5 114.2,381.3 113.6,382.1 112.4,382.9 111.6,383.7 111.0,383.7 80.4,381.7 80.4,381.7 80.0,380.9 79.6,380.0 80.3,379.3 81.5,378.5 82.2,377.7 82.6,377.0" fill="#16aac8"/>
<polygon points="109.8,378.2 114.0,378.5 118.0,379.0 122.0,379.7 126.5,379.6 131.0,379.5 135.0,380.1 138.9,380.9 143.1,381.1 147.3,381.5 147.9,380.7 147.2,381.6 146.6,382.4 146.0,383.3 145.3,384.1 144.7,385.0 144.1,385.8 144.1,385.8 105.9,383.3 105.7,383.3 105.2,382.5 105.6,381.6 106.3,380.8 106.5,380.0 106.3,379.2 107.1,378.4" fill="#a5cb3c"/>
<path d="M80.7 378.5h0M73.1 377.6h0M48.0 378.4h0M74.1 380.3h0M74.0 380.6h0M54.3 376.9h0M48.9 375.1h0M46.1 378.0h0M67.2 378.9h0" stroke="#5a3a12" stroke-width="1.80" stroke-linecap="round" fill="none"/>
<path d="M89.9 381.8h0M88.6 369.2h0M104.6 378.3h0M58.5 374.2h0M93.5 381.6h0M65.9 371.4h0M88.1 377.1h0M73.6 370.6h0M105.3 379.6h0M68.0 371.7h0M79.7 370.8h0M72.5 374.0h0M84.2 372.7h0M66.9 371.2h0M92.5 374.9h0M92.9 374.2h0M85.5 371.8h0M81.3 377.1h0M85.3 378.3h0M77.6 369.1h0M94.5 374.3h0M92.1 381.8h0M87.8 374.2h0M96.1 381.0h0M97.9 377.5h0M91.0 376.5h0M85.7 376.4h0M89.1 379.3h0M106.9 377.0h0M71.0 372.0h0M90.4 370.9h0" stroke="#16aac8" stroke-width="1.80" stroke-linecap="round" fill="none"/>
<path d="M126.9 373.7h0M129.6 364.0h0M117.6 369.6h0M144.3 370.7h0M110.8 364.0h0M133.1 368.1h0M113.3 371.8h0M151.4 367.3h0M127.0 361.4h0M130.5 359.3h0M120.1 367.8h0M121.8 360.6h0M150.8 369.5h0M155.0 366.8h0M136.6 370.9h0M139.7 368.6h0M146.8 371.5h0M114.2 374.0h0M109.5 367.0h0M122.7 372.4h0M127.8 369.6h0M143.3 367.9h0M149.0 369.5h0M134.3 365.9h0M113.7 366.6h0M123.1 372.3h0M115.6 373.6h0M126.5 365.8h0M138.9 359.2h0" stroke="#7b1a4b" stroke-width="1.80" stroke-linecap="round" fill="none"/>
<path d="M73.9 355.7h0M53.6 353.6h0M42.0 352.6h0M154.6 357.8h0M49.2 355.0h0M141.3 363.9h0M150.7 359.7h0M163.0 356.6h0M55.1 354.4h0M52.1 353.0h0M150.3 354.9h0M161.1 355.0h0M150.1 359.3h0M151.2 360.3h0M67.4 352.2h0M42.3 351.6h0M158.8 357.0h0M154.1 365.4h0M56.6 358.1h0M151.3 360.5h0M54.5 351.9h0M146.6 355.3h0M152.3 357.1h0" stroke="#d42a2e" stroke-width="1.80" stroke-linecap="round" fill="none"/>
<path d="M105.9 364.6h0M76.8 365.4h0M89.6 364.9h0M61.8 363.4h0M62.5 364.3h0M46.5 360.7h0M63.1 366.9h0M93.1 365.7h0M100.6 365.7h0M54.7 363.1h0M47.8 359.9h0M48.6 360.1h0M86.8 367.3h0M45.8 362.1h0M47.1 361.2h0M56.0 359.1h0M58.7 360.8h0M42.2 358.7h0M34.8 359.3h0M50.7 359.2h0M94.8 368.6h0M42.9 358.2h0M81.9 369.2h0M79.7 365.9h0M74.4 366.9h0M31.8 361.2h0" stroke="#7a57a5" stroke-width="1.80" stroke-linecap="round" fill="none"/>
<path d="M89.8 362.2h0M90.6 365.8h0M105.7 362.6h0M92.4 369.7h0M84.2 360.7h0M92.0 360.3h0M93.0 363.6h0M99.2 360.6h0" stroke="#1b8a3e" stroke-width="1.80" stroke-linecap="round" fill="none"/>
<path d="M146.3 380.1h0M47.2 366.0h0M34.1 362.8h0M131.3 382.0h0M130.7 374.9h0M54.6 366.9h0M128.9 380.0h0M42.6 370.6h0M35.8 365.5h0M133.9 372.0h0M144.0 373.3h0M148.5 377.1h0M36.3 365.8h0M119.7 381.9h0M137.2 380.0h0M127.7 379.8h0M113.7 376.0h0M132.2 384.4h0M127.7 371.3h0M133.5 376.9h0M126.0 374.3h0M127.0 380.4h0M131.8 375.8h0M143.6 376.3h0M27.4 377.9h0M136.7 372.0h0M28.7 369.8h0M139.6 382.8h0M42.6 371.1h0M131.1 375.5h0M137.2 380.4h0M120.8 379.6h0M45.8 366.3h0M33.8 375.2h0M129.9 380.8h0M45.5 372.0h0M31.9 376.9h0M139.2 368.5h0M125.9 378.4h0M32.7 368.0h0M44.5 373.0h0M139.9 383.9h0M138.2 367.0h0M129.3 380.7h0M134.5 373.2h0M119.0 380.9h0M123.4 378.4h0M122.9 380.2h0M31.3 375.3h0M135.4 370.3h0M30.3 378.0h0M140.8 380.5h0M24.1 376.3h0M40.3 376.2h0M139.2 375.4h0M27.9 368.3h0M151.3 374.3h0M133.8 378.7h0M148.8 374.0h0M146.4 373.1h0M114.3 378.5h0M129.6 383.8h0M30.6 367.5h0M137.9 382.3h0M45.4 376.7h0M149.5 374.5h0M128.7 374.7h0M124.2 383.2h0M29.3 370.0h0" stroke="#a5cb3c" stroke-width="1.80" stroke-linecap="round" fill="none"/>
<path d="M55.9 361.2h0M55.5 362.6h0M35.9 364.9h0M60.6 364.6h0M48.6 365.5h0M63.8 362.3h0M41.2 366.8h0M42.7 362.2h0M60.4 366.4h0" stroke="#a27a6e" stroke-width="1.80" stroke-linecap="round" fill="none"/>
<path d="M79.6 358.7h0M82.9 356.0h0M77.9 353.1h0M78.0 352.8h0M80.4 357.7h0M67.6 356.1h0" stroke="#4466b5" stroke-width="1.80" stroke-linecap="round" fill="none"/>
<path d="M100.2 372.9h0M106.0 373.1h0M104.3 368.9h0M103.3 378.9h0M105.6 377.3h0M89.0 367.7h0M89.9 371.6h0M101.4 374.2h0M94.1 375.5h0M97.3 374.8h0M99.3 367.9h0M94.8 365.7h0M104.0 370.7h0M91.4 369.8h0" stroke="#f4a233" stroke-width="1.80" stroke-linecap="round" fill="none"/>
<path d="M136.3 363.3h0M111.7 357.8h0M124.0 357.1h0M140.8 358.7h0M120.4 357.6h0M133.5 354.2h0M122.2 355.7h0M117.9 354.1h0M148.1 356.2h0M141.9 354.4h0M106.7 358.3h0M111.1 355.2h0M107.0 354.2h0M134.8 360.8h0M105.5 356.9h0M119.1 357.2h0M112.3 357.1h0" stroke="#135e5e" stroke-width="1.80" stroke-linecap="round" fill="none"/>
<path d="M107.4 355.4h0M86.8 354.9h0M101.4 361.3h0M106.0 361.6h0M83.3 354.5h0M91.7 363.4h0M94.7 363.3h0M110.6 364.7h0M76.7 363.4h0M127.5 358.2h0M68.8 359.4h0M92.5 357.9h0M103.2 353.1h0M114.5 362.4h0M91.9 357.3h0M121.9 358.5h0M104.5 365.8h0M69.8 362.7h0M90.4 358.3h0" stroke="#e07fc2" stroke-width="1.80" stroke-linecap="round" fill="none"/>
<polygon points="100.6,355.6 107.7,355.8 92.6,370.2 85.5,369.9" fill="#1b8a3e"/>
<path d="M87.3 373.1h0M53.6 363.1h0M149.4 368.4h0M72.2 374.1h0M140.0 365.2h0M46.1 367.7h0M111.8 378.5h0M114.4 362.4h0M97.9 361.3h0M86.5 365.4h0M131.9 379.2h0M142.0 368.0h0M153.1 359.3h0M138.1 372.2h0" stroke="#a5cb3c" stroke-width="1.80" stroke-linecap="round" fill="none"/>
<polygon points="38.7,320.7 43.0,320.8 47.3,321.0 51.6,321.1 55.9,321.3 60.2,321.4 64.6,321.5 68.9,321.7 73.2,321.8 77.5,321.9 82.7,322.1 82.0,323.1 83.0,324.2 82.8,325.2 81.0,326.2 80.0,327.2 78.6,328.2 75.4,330.9 31.6,329.0 31.6,329.0 34.6,325.5 35.4,324.5 36.3,323.6 37.1,322.6 37.9,321.7 38.7,320.7" fill="#d42a2e"/>
<polygon points="77.5,321.9 82.3,322.1 87.2,322.3 92.0,322.4 96.9,322.6 100.0,322.7 100.0,323.7 100.9,324.8 100.0,325.8 98.2,326.8 98.0,327.9 97.5,328.9 94.7,331.7 70.2,330.7 69.6,330.6 74.3,327.0 76.2,326.0 76.8,325.0 78.1,324.0 78.9,323.0 77.7,322.0" fill="#e07fc2"/>
<polygon points="96.9,322.6 101.5,322.7 106.1,322.9 110.7,323.0 115.4,323.2 120.0,323.3 124.6,323.5 129.2,323.6 133.2,323.7 131.0,324.7 130.0,325.8 131.0,326.9 130.8,328.0 129.5,329.1 129.3,330.1 126.9,333.0 89.6,331.5 92.0,331.6 95.4,327.8 94.9,326.7 95.4,325.7 95.5,324.6 94.6,323.5 95.4,322.5" fill="#f2ee8a"/>
<polygon points="129.2,323.6 133.5,323.7 137.8,323.9 142.2,324.0 148.6,324.2 146.3,325.3 144.8,326.3 143.6,327.4 141.3,328.4 140.2,329.5 141.1,330.6 139.8,333.6 121.7,332.8 122.6,332.9 125.3,328.9 124.7,327.8 125.6,326.7 127.7,325.7 128.1,324.6 127.9,323.6" fill="#e07fc2"/>
<polygon points="142.2,324.0 147.3,324.2 152.5,324.3 157.7,324.5 162.9,324.7 168.0,324.8 168.0,324.8 167.2,325.9 166.3,327.0 165.4,328.1 164.5,329.2 163.6,330.3 162.8,331.5 160.4,334.5 134.6,333.4 134.4,333.4 136.5,329.3 136.0,328.2 137.8,327.2 139.7,326.1 140.7,325.1 143.1,324.0" fill="#d42a2e"/>
<polygon points="33.5,326.8 37.9,327.6 42.9,327.6 47.7,327.7 52.6,327.8 57.6,327.3 58.0,328.1 57.8,328.8 57.3,329.6 57.4,330.3 58.0,331.1 57.7,331.8 52.5,334.4 28.1,333.2 28.1,333.2 30.9,329.9 31.5,329.2 32.1,328.5 32.6,327.8 33.2,327.1 33.8,326.4" fill="#a9d2ef"/>
<polygon points="52.6,327.8 57.8,327.4 62.7,327.1 67.1,327.6 71.6,327.9 76.5,327.8 81.0,328.0 85.5,328.3 91.1,328.7 90.0,329.4 89.7,330.1 89.6,330.9 88.8,331.6 87.7,332.4 87.6,333.1 84.6,335.9 47.4,334.1 47.3,334.1 49.4,330.7 49.7,330.0 51.3,329.3 53.4,328.7 54.7,328.0 55.1,327.2" fill="#a27a6e"/>
<polygon points="85.5,328.3 90.9,327.8 95.9,327.7 100.3,328.5 105.0,328.9 109.6,329.3 113.9,330.2 118.6,330.5 123.9,330.2 129.7,330.2 129.7,331.0 128.8,331.7 127.4,332.5 126.5,333.2 126.0,334.0 124.7,334.8 123.1,337.7 79.5,335.6 78.5,335.6 82.3,332.1 83.4,331.4 83.2,330.6 82.7,329.8 82.9,329.1 83.8,328.4" fill="#e07fc2"/>
<polygon points="123.9,330.2 128.2,330.4 132.3,330.8 136.7,330.8 144.8,330.8 143.9,331.5 141.9,332.3 139.9,333.0 139.0,333.8 138.4,334.6 137.3,335.3 136.0,338.3 118.0,337.5 115.4,337.3 118.5,333.7 120.0,333.0 121.0,332.2 121.4,331.4 122.4,330.7 124.0,329.9" fill="#135e5e"/>
<polygon points="136.7,330.8 141.8,331.0 146.5,331.8 152.0,331.6 157.8,331.0 163.1,331.1 162.8,331.5 162.1,332.3 161.5,333.1 160.8,333.9 160.2,334.7 159.6,335.5 158.9,336.3 156.5,339.3 130.9,338.1 129.8,338.0 132.4,334.3 133.4,333.5 134.8,332.8 135.4,332.0 135.0,331.2 134.8,330.4" fill="#d42a2e"/>
<polygon points="30.3,330.6 34.6,330.8 38.7,331.2 42.4,332.1 50.3,331.5 48.7,332.1 47.6,332.7 47.4,333.4 47.3,334.1 46.5,334.8 45.5,335.4 42.7,338.1 24.8,337.2 24.8,337.2 27.5,333.9 28.1,333.2 28.6,332.6 29.2,331.9 29.7,331.3 30.3,330.6" fill="#a83d9e"/>
<polygon points="42.4,332.1 46.8,332.5 51.9,332.1 56.6,332.1 61.2,332.3 66.2,332.1 71.0,332.1 75.2,332.8 80.3,332.8 79.6,333.5 78.2,334.1 76.5,334.8 75.4,335.4 75.5,336.2 76.0,336.9 74.8,339.8 37.6,337.8 37.8,337.8 40.4,334.5 40.1,333.8 39.6,333.1 39.9,332.4 41.3,331.8 42.7,331.1" fill="#a27a6e"/>
<polygon points="75.2,332.8 79.4,333.0 84.1,332.7 88.6,332.7 93.6,333.4 92.0,334.0 90.4,334.7 89.7,335.4 89.4,336.1 88.7,336.8 87.6,337.5 87.6,340.4 69.6,339.5 69.7,339.5 72.1,336.0 73.3,335.4 74.6,334.7 75.1,334.0 75.0,333.3 75.1,332.6" fill="#1b8a3e"/>
<polygon points="88.6,332.7 92.9,332.9 97.5,332.6 102.0,332.5 104.0,333.8 104.1,334.6 103.9,335.3 103.0,336.0 102.5,336.7 102.6,337.5 102.7,338.2 100.4,341.1 82.5,340.2 84.4,340.3 87.7,336.8 87.5,336.0 86.5,335.3 86.0,334.5 86.4,333.8 87.1,333.1" fill="#f4a233"/>
<polygon points="102.0,332.5 105.9,333.3 109.6,334.1 113.8,334.4 119.7,334.5 118.5,335.2 117.4,335.9 116.9,336.7 116.3,337.4 114.9,338.1 113.1,338.7 113.2,341.8 95.3,340.8 94.8,340.8 97.5,337.2 98.7,336.6 100.0,335.9 100.3,335.2 99.7,334.4 99.3,333.6" fill="#a27a6e"/>
<polygon points="113.8,334.4 118.4,334.7 122.6,335.3 127.4,335.3 132.3,335.0 136.7,335.6 140.9,336.3 145.5,336.4 150.7,335.9 149.0,336.6 147.6,337.3 147.4,338.1 147.6,338.9 147.5,339.6 146.9,340.4 145.3,343.4 108.1,341.5 108.9,341.5 111.2,337.9 112.1,337.2 113.3,336.5 113.9,335.8 114.1,335.0 114.6,334.3" fill="#7b1a4b"/>
<polygon points="145.5,336.4 149.8,336.5 153.9,337.0 158.6,336.8 158.9,336.3 158.3,337.0 157.7,337.8 157.1,338.5 156.5,339.3 155.9,340.0 155.4,340.8 153.0,343.8 140.1,343.2 139.0,343.1 140.7,339.3 140.8,338.5 142.1,337.8 143.7,337.1 144.8,336.4 145.2,335.7" fill="#d42a2e"/>
<polygon points="26.1,335.6 31.0,335.7 36.3,335.3 41.2,335.5 46.3,335.4 53.0,335.8 52.8,336.5 51.4,337.1 49.7,337.7 48.5,338.4 47.8,339.1 46.8,339.7 45.8,342.5 21.5,341.1 21.5,341.1 24.2,337.8 24.8,337.2 25.3,336.5 25.9,335.8 26.4,335.2 27.0,334.5" fill="#a83d9e"/>
<polygon points="46.3,335.4 51.6,335.0 56.2,335.5 60.7,336.1 65.8,336.1 70.1,336.6 70.0,337.3 68.9,338.0 67.6,338.7 67.1,339.4 66.8,340.1 66.0,340.7 65.0,343.6 40.7,342.2 40.9,342.2 44.6,338.9 45.9,338.3 46.1,337.6 45.6,336.8 45.5,336.1 45.9,335.5" fill="#5cc5b5"/>
<polygon points="65.8,336.1 70.2,336.1 74.3,336.5 78.8,336.5 83.4,336.3 87.4,336.8 91.1,337.8 94.9,337.8 93.4,338.5 92.2,339.2 92.1,339.9 92.9,340.7 93.1,341.4 92.5,342.2 90.5,345.0 59.9,343.3 61.5,343.4 63.7,339.9 64.1,339.2 64.4,338.5 64.0,337.8 63.5,337.0 64.0,336.3" fill="#16aac8"/>
<polygon points="91.1,337.8 95.2,338.2 99.4,338.5 103.3,339.1 108.9,338.5 107.5,339.2 106.9,339.9 107.3,340.7 108.0,341.5 107.9,342.2 107.2,342.9 103.3,345.7 85.4,344.7 86.0,344.8 88.2,341.2 89.0,340.5 90.2,339.8 90.9,339.1 91.2,338.4 91.9,337.7" fill="#f4a233"/>
<polygon points="103.3,339.1 107.9,339.4 113.0,339.0 117.7,339.0 122.0,339.7 126.6,339.8 131.3,339.9 135.7,340.4 141.5,340.1 140.5,340.8 140.6,341.6 141.0,342.4 140.8,343.2 139.9,343.9 139.1,344.7 135.3,347.6 98.2,345.5 98.2,345.5 100.2,341.8 100.2,341.1 101.2,340.4 102.5,339.7 103.2,339.0 103.7,338.3" fill="#7b1a4b"/>
<polygon points="135.7,340.4 140.7,340.4 146.2,339.7 151.3,339.6 155.9,340.0 155.4,340.8 154.8,341.5 154.2,342.3 153.6,343.1 153.0,343.8 152.4,344.6 151.8,345.3 149.4,348.4 130.2,347.3 129.4,347.2 131.9,343.5 131.6,342.7 132.0,342.0 133.6,341.3 135.6,340.6 136.9,339.9" fill="#a5cb3c"/>
<polygon points="23.0,339.3 27.3,339.4 31.7,339.6 35.8,340.0 44.0,339.6 42.6,340.2 41.9,340.9 41.2,341.7 39.7,342.3 37.8,343.0 36.7,343.7 35.8,346.4 18.0,345.3 18.0,345.3 20.8,342.0 21.3,341.3 21.9,340.6 22.5,339.9 23.1,339.2 23.7,338.5" fill="#a83d9e"/>
<polygon points="35.8,340.0 40.5,339.9 45.4,339.5 49.8,339.8 53.9,340.4 58.4,340.4 63.0,340.4 67.3,340.8 71.9,340.8 76.9,340.3 81.4,340.4 85.5,341.1 89.7,341.5 94.1,341.8 98.0,342.7 102.1,343.3 106.8,343.1 111.9,343.2 110.7,343.9 110.2,344.7 109.6,345.5 108.1,346.2 106.3,346.9 105.5,347.7 106.0,350.8 30.7,346.1 31.4,346.2 33.5,342.7 33.7,342.0 34.9,341.3 36.3,340.6 36.5,339.9 35.8,339.1" fill="#16aac8"/>
<polygon points="106.8,343.1 111.4,343.2 115.6,343.8 120.1,344.1 124.6,344.2 128.7,345.0 132.9,345.5 137.9,345.2 142.8,344.8 147.4,345.0 152.2,344.8 151.8,345.3 151.1,346.1 150.5,346.9 149.9,347.8 149.2,348.6 148.6,349.4 147.9,350.2 145.6,353.2 100.9,350.5 100.1,350.4 103.2,346.7 103.4,345.9 103.9,345.2 105.1,344.4 105.8,343.7 105.5,342.9" fill="#a5cb3c"/>
<polygon points="20.2,342.7 23.9,343.7 28.1,344.2 32.8,344.2 37.2,344.3 41.7,344.5 46.5,344.2 51.2,344.2 55.3,344.8 59.5,345.2 64.2,345.1 68.7,345.2 73.1,345.5 77.9,345.3 82.6,345.1 86.7,345.7 90.7,346.5 97.5,347.2 97.5,348.0 96.3,348.8 94.4,349.4 93.3,350.2 93.2,351.0 93.0,351.8 91.9,351.7 16.7,346.9 16.7,346.9 17.2,346.2 17.8,345.5 18.4,344.8 19.0,344.1 19.6,343.4 20.2,342.7" fill="#16aac8"/>
<polygon points="90.7,346.5 95.0,346.9 99.2,347.4 103.2,348.2 107.7,348.4 112.6,348.1 116.8,348.5 120.9,349.2 125.4,349.4 129.8,349.7 133.9,350.4 138.5,350.4 143.6,349.8 148.3,349.7 147.9,350.2 147.3,351.0 146.7,351.8 146.0,352.6 145.4,353.4 144.8,354.2 144.1,355.0 144.1,355.0 86.8,351.4 87.3,351.4 87.0,350.6 87.0,349.8 88.1,349.1 89.7,348.4 90.6,347.6 91.1,346.8" fill="#a5cb3c"/>
<path d="M71.3 349.4h0M34.0 346.9h0M68.0 348.4h0M105.1 346.5h0M89.5 350.1h0M81.6 338.7h0M49.0 343.4h0M88.3 349.8h0M62.3 346.9h0M61.2 344.8h0M85.2 339.3h0M78.8 350.5h0M80.8 345.5h0M88.5 338.7h0M75.0 343.5h0M36.1 346.3h0M69.7 339.7h0M68.4 348.5h0M84.6 341.8h0M66.0 339.2h0M32.4 344.8h0M53.9 347.4h0M84.4 349.2h0M83.1 346.2h0M24.5 346.7h0M67.7 334.9h0M60.2 349.3h0M65.4 340.8h0M71.7 338.8h0M58.1 345.9h0M48.0 348.0h0M79.2 345.7h0M77.2 336.4h0M50.9 341.0h0M86.3 345.8h0M60.3 345.1h0M97.4 337.3h0M73.1 346.5h0M49.0 342.9h0M100.4 342.7h0M91.7 343.9h0M43.5 343.1h0M87.6 347.1h0M64.1 341.2h0M102.8 344.3h0M45.0 340.6h0M34.2 346.1h0M67.9 340.4h0M67.2 338.1h0M47.3 340.9h0M60.2 342.1h0M80.5 342.3h0M71.4 350.1h0M70.1 346.6h0M103.7 344.7h0M81.7 344.9h0M81.3 346.8h0M70.3 340.7h0M69.4 345.5h0M34.1 346.8h0M70.8 343.4h0M36.5 341.9h0M38.7 344.7h0M70.1 348.5h0M102.3 349.0h0M94.1 341.7h0M68.0 337.6h0M61.2 346.3h0M46.3 340.7h0" stroke="#16aac8" stroke-width="1.80" stroke-linecap="round" fill="none"/>
<path d="M100.0 328.3h0M101.1 324.5h0M115.5 324.5h0M122.1 326.6h0M111.5 330.2h0M98.5 328.3h0M109.9 325.6h0M99.9 329.0h0M126.6 326.8h0M118.2 328.0h0M114.4 325.3h0M100.5 327.4h0M127.2 328.8h0M127.0 326.9h0M102.2 327.3h0M118.3 326.2h0M110.2 329.8h0M119.5 327.1h0M116.3 325.3h0M121.4 332.9h0M104.7 325.4h0M95.2 331.1h0" stroke="#f2ee8a" stroke-width="1.80" stroke-linecap="round" fill="none"/>
<path d="M52.0 339.1h0M49.3 340.1h0M50.1 342.5h0M50.5 337.2h0M61.3 340.7h0M64.2 338.4h0M54.2 338.1h0" stroke="#5cc5b5" stroke-width="1.80" stroke-linecap="round" fill="none"/>
<path d="M122.8 348.6h0M101.9 349.6h0M142.7 346.6h0M150.2 345.0h0M98.9 348.5h0M95.5 351.0h0M142.1 343.0h0M129.1 353.7h0M112.9 351.6h0M97.3 346.3h0M133.9 352.5h0M135.5 346.5h0M146.0 345.0h0M134.9 347.7h0M146.6 339.2h0M142.9 344.1h0M147.1 342.9h0M140.0 352.0h0M145.8 349.9h0M121.8 350.3h0M149.7 342.9h0M141.9 346.9h0M102.3 350.5h0M138.6 349.9h0M141.5 349.5h0M129.9 346.7h0M141.0 340.8h0M137.3 339.6h0M124.9 350.1h0M148.5 345.1h0M120.8 345.5h0M141.3 348.4h0M139.4 350.3h0M147.2 347.0h0M139.8 343.2h0M113.7 343.9h0M130.7 353.6h0M106.0 345.7h0M94.0 351.5h0M112.1 350.3h0M138.1 342.4h0M123.9 345.0h0M100.4 349.1h0" stroke="#a5cb3c" stroke-width="1.80" stroke-linecap="round" fill="none"/>
<path d="M127.8 328.0h0M104.1 330.1h0M90.3 329.2h0M132.6 324.6h0M86.8 333.4h0M95.1 332.3h0M87.1 332.7h0M142.6 324.8h0M112.5 330.2h0M79.4 331.8h0M138.9 330.0h0M102.3 333.1h0M88.5 324.7h0M85.8 334.6h0M91.3 327.2h0M76.9 334.1h0M69.5 328.0h0M93.1 334.6h0M82.8 330.6h0M85.4 329.9h0M132.6 329.9h0M118.1 329.3h0M77.3 328.7h0M90.2 333.0h0M137.8 325.7h0M81.9 326.8h0M77.1 322.8h0" stroke="#e07fc2" stroke-width="1.80" stroke-linecap="round" fill="none"/>
<path d="M138.2 333.8h0M51.9 323.6h0M155.4 330.2h0M157.6 326.5h0M155.2 334.0h0M138.9 333.0h0M38.3 325.1h0M147.6 326.8h0M143.5 337.3h0M61.1 322.6h0M62.6 322.4h0M141.4 324.4h0M140.5 332.2h0M154.7 330.3h0M161.2 330.1h0M145.3 335.7h0M38.9 326.1h0M70.5 322.4h0M63.5 323.3h0M148.3 335.8h0M159.5 329.4h0M156.2 326.8h0M146.5 335.4h0M41.9 322.7h0M38.4 324.5h0M73.2 326.5h0M155.8 325.7h0M146.5 333.9h0M158.7 325.0h0M159.5 333.5h0M73.4 322.9h0M63.4 328.8h0M73.8 327.8h0M60.6 323.7h0M51.6 326.2h0M61.6 327.9h0M56.9 322.6h0" stroke="#d42a2e" stroke-width="1.80" stroke-linecap="round" fill="none"/>
<path d="M94.7 338.5h0M96.5 343.1h0M97.3 335.1h0M95.3 342.1h0M97.4 336.0h0M102.4 339.5h0M99.8 338.3h0" stroke="#f4a233" stroke-width="1.80" stroke-linecap="round" fill="none"/>
<path d="M113.2 340.1h0M140.1 336.5h0M140.3 339.6h0M118.5 342.4h0M118.4 343.6h0M101.5 342.1h0M109.3 340.0h0M136.9 337.4h0M119.8 342.2h0M100.3 342.3h0M128.4 342.2h0" stroke="#7b1a4b" stroke-width="1.80" stroke-linecap="round" fill="none"/>
<path d="M61.8 332.3h0M109.3 336.2h0M57.8 327.1h0M97.5 338.2h0M59.5 328.2h0M93.7 336.1h0M62.5 332.3h0M98.9 332.4h0M45.6 332.1h0M86.5 329.1h0M54.3 336.2h0M60.1 335.1h0M74.2 332.4h0M71.1 333.4h0M66.5 325.8h0M72.3 329.8h0M69.7 329.8h0M77.4 332.8h0M66.8 331.6h0" stroke="#a27a6e" stroke-width="1.80" stroke-linecap="round" fill="none"/>
<path d="M45.5 329.5h0M39.8 328.8h0M54.8 330.2h0M43.5 329.5h0M60.3 325.9h0M38.7 327.2h0" stroke="#a9d2ef" stroke-width="1.80" stroke-linecap="round" fill="none"/>
<path d="M77.9 337.5h0M82.7 333.2h0M75.0 334.3h0" stroke="#1b8a3e" stroke-width="1.80" stroke-linecap="round" fill="none"/>
<path d="M33.0 337.0h0M23.1 341.5h0M31.2 332.9h0M37.1 336.1h0M46.5 337.3h0M31.5 333.9h0M32.0 339.0h0M26.6 338.4h0M30.8 333.7h0" stroke="#a83d9e" stroke-width="1.80" stroke-linecap="round" fill="none"/>
<path d="M137.2 336.0h0M158.8 326.7h0M126.3 346.0h0M71.5 343.2h0M54.5 340.4h0M90.5 333.8h0M51.6 341.4h0M127.3 327.3h0M153.3 331.6h0M79.7 333.4h0M93.6 346.0h0M141.2 341.9h0M84.5 326.2h0M42.2 334.2h0" stroke="#16aac8" stroke-width="1.80" stroke-linecap="round" fill="none"/>
<polygon points="39.5,290.1 43.8,290.2 48.1,290.4 52.4,290.5 56.7,290.7 61.0,290.8 65.3,291.0 69.6,291.1 73.9,291.3 78.2,291.4 82.8,291.6 83.1,292.6 82.3,293.6 82.4,294.6 82.9,295.7 81.1,296.6 78.7,297.5 75.8,300.2 32.1,298.3 32.1,298.3 35.3,294.8 36.1,293.8 37.0,292.9 37.8,291.9 38.7,291.0 39.5,290.1" fill="#d42a2e"/>
<polygon points="78.2,291.4 82.7,291.6 87.2,291.7 91.7,291.9 96.2,292.1 100.7,292.2 105.2,292.4 109.7,292.5 114.2,292.7 118.7,292.9 123.2,293.0 130.2,293.3 129.7,294.3 127.7,295.3 124.7,296.2 123.8,297.3 123.5,298.3 122.0,299.3 120.8,302.1 70.7,300.0 70.0,299.9 71.7,296.2 72.9,295.3 73.5,294.3 74.3,293.3 76.8,292.4 78.7,291.4" fill="#f2ee8a"/>
<polygon points="123.2,293.0 127.7,293.2 132.2,293.3 136.8,293.5 141.3,293.7 145.8,293.8 150.3,294.0 154.8,294.1 159.3,294.3 163.8,294.5 168.3,294.6 168.3,294.6 167.4,295.7 166.5,296.7 165.6,297.8 164.8,298.9 163.9,299.9 163.0,301.0 160.6,303.9 115.6,301.9 117.3,302.0 119.3,298.1 119.9,297.1 119.6,296.0 119.1,295.0 121.0,294.0 122.8,293.0" fill="#d42a2e"/>
<polygon points="34.1,296.1 39.1,295.8 44.1,295.5 48.7,295.7 53.5,295.7 58.3,295.6 62.4,296.3 66.5,297.2 73.4,297.3 73.3,298.0 72.2,298.7 70.3,299.4 69.2,300.1 69.2,300.8 69.4,301.6 65.6,304.2 28.4,302.4 28.4,302.4 31.4,299.2 32.0,298.5 32.6,297.8 33.2,297.1 33.8,296.4 34.4,295.7" fill="#135e5e"/>
<polygon points="66.5,297.2 70.8,297.3 75.1,297.5 79.1,298.0 83.4,297.7 83.3,298.5 83.3,299.2 82.5,299.9 81.3,300.6 80.7,301.3 80.5,302.1 78.5,304.8 60.5,304.0 61.4,304.0 64.5,300.6 64.0,299.9 63.2,299.1 63.3,298.4 64.1,297.7 64.6,297.0" fill="#a27a6e"/>
<polygon points="79.1,298.0 83.4,298.1 88.0,297.9 92.2,298.2 95.9,299.0 100.1,299.3 104.6,299.2 111.1,298.8 109.5,299.5 108.3,300.3 107.7,301.0 106.8,301.7 105.1,302.4 103.5,303.1 104.1,306.0 73.3,304.6 73.2,304.5 75.4,301.1 76.3,300.4 77.9,299.7 78.7,299.0 78.4,298.3 78.1,297.5" fill="#1b8a3e"/>
<polygon points="104.6,299.2 109.3,299.5 114.4,299.5 120.0,298.8 125.0,298.7 128.0,299.5 127.4,300.3 126.6,301.0 125.3,301.8 124.4,302.5 124.6,303.3 125.4,304.1 123.4,306.9 99.0,305.8 100.6,305.8 103.3,302.3 102.7,301.5 102.0,300.8 102.3,300.0 103.7,299.3 104.8,298.6" fill="#7b1a4b"/>
<polygon points="125.0,298.7 129.6,299.2 134.5,299.2 139.3,299.5 143.7,300.1 150.9,300.5 149.5,301.2 147.8,301.9 147.2,302.7 147.4,303.5 147.1,304.3 146.1,305.0 142.6,307.8 118.2,306.7 116.6,306.6 119.1,303.0 120.4,302.3 121.8,301.6 122.6,300.9 123.4,300.1 125.1,299.4" fill="#d42a2e"/>
<polygon points="143.7,300.1 148.8,300.0 154.1,299.7 158.6,300.2 163.2,300.8 163.0,301.0 162.3,301.7 161.7,302.5 161.1,303.3 160.4,304.1 159.8,304.8 159.1,305.6 156.7,308.5 137.5,307.6 138.5,307.6 141.9,304.0 142.2,303.3 142.8,302.5 144.2,301.8 145.3,301.0 145.0,300.2" fill="#135e5e"/>
<polygon points="30.7,299.9 35.8,299.5 40.2,299.9 44.6,300.4 49.4,300.4 54.0,300.5 58.4,300.9 63.4,300.7 70.5,301.6 70.1,302.3 68.8,302.9 67.8,303.6 67.3,304.3 66.5,304.9 65.0,305.6 62.1,308.2 25.0,306.3 25.0,306.3 27.9,303.1 28.4,302.4 29.0,301.8 29.6,301.1 30.2,300.5 30.7,299.9" fill="#a27a6e"/>
<polygon points="63.4,300.7 68.0,300.5 72.0,301.0 75.8,301.7 81.4,302.1 80.0,302.8 78.6,303.4 77.8,304.1 77.3,304.7 76.1,305.4 74.6,306.0 74.9,308.9 57.0,308.0 56.6,307.9 59.2,304.6 60.4,303.9 61.8,303.3 62.3,302.6 62.0,301.9 61.9,301.2" fill="#7a57a5"/>
<polygon points="75.8,301.7 80.0,302.0 84.0,302.5 87.8,303.2 92.1,303.5 96.8,303.1 101.2,303.2 107.8,303.3 108.4,304.0 108.2,304.8 106.8,305.4 105.5,306.1 104.7,306.8 104.0,307.4 100.6,310.2 69.8,308.6 68.1,308.5 72.3,305.2 73.3,304.6 73.6,303.9 74.1,303.2 75.2,302.5 76.2,301.9" fill="#1b8a3e"/>
<polygon points="101.2,303.2 105.2,303.7 109.6,303.8 114.0,303.8 119.4,303.8 119.1,304.5 117.9,305.2 116.6,305.9 116.3,306.6 116.9,307.3 117.3,308.1 113.4,310.8 95.4,309.9 95.2,309.9 98.8,306.5 99.8,305.8 100.2,305.1 100.7,304.4 102.1,303.8 103.9,303.1" fill="#4466b5"/>
<polygon points="114.0,303.8 118.5,304.4 123.3,304.7 128.8,304.1 133.9,303.9 136.5,304.6 137.4,305.4 138.0,306.1 137.6,306.8 136.6,307.5 136.2,308.3 136.1,309.0 132.6,311.8 108.3,310.6 109.8,310.6 113.8,307.2 114.2,306.5 114.2,305.8 114.7,305.1 115.4,304.4 115.6,303.6" fill="#7b1a4b"/>
<polygon points="133.9,303.9 139.1,304.1 144.6,303.9 149.5,304.4 154.0,305.3 159.3,305.4 159.1,305.6 158.5,306.3 157.9,307.0 157.3,307.8 156.7,308.5 156.1,309.2 155.5,309.9 153.1,312.8 127.5,311.5 126.0,311.5 129.6,307.9 130.2,307.2 131.2,306.5 133.0,305.9 134.8,305.2 135.7,304.5" fill="#135e5e"/>
<polygon points="27.7,303.2 32.2,303.9 37.0,304.1 41.5,304.7 45.7,305.7 53.8,305.0 52.7,305.7 51.5,306.3 50.8,307.0 50.2,307.6 48.8,308.2 46.8,308.8 45.8,311.6 21.5,310.2 21.5,310.2 24.4,307.0 25.0,306.3 25.6,305.7 26.1,305.0 26.7,304.4 27.3,303.7" fill="#a83d9e"/>
<polygon points="45.7,305.7 50.8,305.8 56.4,305.6 61.5,305.9 67.0,305.7 72.4,305.6 78.2,306.2 77.6,306.9 77.5,307.6 77.7,308.3 77.2,309.0 75.8,309.6 74.1,310.2 71.4,312.9 40.7,311.3 39.8,311.2 42.9,307.9 44.5,307.3 46.5,306.7 47.8,306.1 47.9,305.4 47.6,304.7" fill="#16aac8"/>
<polygon points="72.4,305.6 76.3,306.2 80.4,306.6 85.1,306.4 88.3,306.7 87.4,307.4 86.5,308.0 86.4,308.7 87.2,309.5 87.7,310.2 87.2,310.9 84.2,313.6 66.3,312.7 68.2,312.8 71.1,309.4 71.9,308.7 71.9,308.0 71.2,307.3 70.6,306.5 71.2,305.9" fill="#7a57a5"/>
<polygon points="85.1,306.4 89.6,306.3 93.9,306.5 98.4,306.4 103.1,306.2 107.1,306.7 110.8,307.6 114.9,308.0 119.1,308.2 123.1,308.8 129.8,308.7 127.9,309.3 126.7,310.0 126.5,310.7 126.7,311.5 126.2,312.2 124.9,312.9 122.6,315.7 79.1,313.4 78.3,313.3 80.3,309.9 80.7,309.2 81.5,308.5 81.8,307.8 81.9,307.1 82.7,306.4" fill="#f4a233"/>
<polygon points="123.1,308.8 127.6,309.1 132.6,308.9 137.2,309.1 141.3,309.9 145.8,310.2 150.4,310.3 154.8,310.8 155.5,309.9 154.9,310.7 154.3,311.4 153.7,312.1 153.1,312.8 152.5,313.6 151.9,314.3 149.5,317.2 117.5,315.4 117.3,315.4 119.8,311.9 121.1,311.2 122.5,310.5 123.4,309.9 123.9,309.1 124.9,308.5" fill="#7b1a4b"/>
<polygon points="23.4,308.1 28.4,308.2 33.1,308.5 38.4,308.2 43.8,307.7 47.8,308.9 47.8,309.6 47.9,310.4 47.1,311.1 45.7,311.7 44.9,312.4 44.4,313.2 42.1,315.8 17.9,314.4 17.9,314.4 20.8,311.1 21.4,310.4 22.0,309.7 22.6,309.0 23.2,308.3 23.8,307.6" fill="#a83d9e"/>
<polygon points="43.8,307.7 48.2,308.1 52.4,308.5 56.9,308.7 61.1,309.1 65.1,309.9 69.6,310.0 74.5,309.8 78.7,310.2 82.8,310.8 87.3,311.0 91.5,311.6 95.3,312.5 99.7,312.7 105.7,311.9 105.7,312.7 105.6,313.4 104.8,314.2 104.0,314.9 104.1,315.7 104.5,316.5 99.6,319.2 37.0,315.5 36.8,315.5 40.0,312.2 39.9,311.4 39.8,310.7 40.8,310.0 42.7,309.4 44.2,308.7" fill="#16aac8"/>
<polygon points="99.7,312.7 104.5,312.4 108.9,312.4 113.2,312.6 117.9,312.4 122.4,312.3 126.4,312.9 134.1,313.4 133.0,314.1 131.2,314.8 130.1,315.5 129.7,316.3 129.2,317.1 127.9,317.8 125.2,320.6 94.5,318.9 92.0,318.7 94.9,315.2 96.7,314.5 98.4,313.8 99.3,313.1 100.2,312.4 101.8,311.7" fill="#f4a233"/>
<polygon points="126.4,312.9 131.3,313.4 136.9,313.1 142.1,313.2 147.3,313.4 152.8,313.1 151.9,314.3 151.2,315.1 150.6,315.8 150.0,316.6 149.3,317.4 148.7,318.2 148.0,318.9 145.6,321.8 120.1,320.3 118.5,320.3 122.6,316.7 123.7,316.0 123.6,315.2 123.5,314.4 124.2,313.6 125.2,312.9" fill="#7a57a5"/>
<polygon points="20.7,311.2 24.9,311.5 28.7,312.2 32.4,313.2 40.5,312.9 39.1,313.6 36.9,314.2 35.3,314.9 34.7,315.6 33.9,316.3 32.6,316.9 34.4,317.0 16.5,316.0 16.5,316.0 17.1,315.3 17.7,314.6 18.3,313.9 18.9,313.2 19.6,312.5 20.2,311.8" fill="#a83d9e"/>
<polygon points="32.4,313.2 37.6,313.4 42.9,313.5 47.8,313.9 53.2,313.9 58.4,314.1 64.7,314.3 64.5,315.0 64.7,315.8 64.0,316.5 62.0,317.2 60.0,317.8 58.9,318.5 59.9,318.6 29.3,316.7 28.0,316.7 28.8,316.0 29.1,315.2 30.0,314.6 31.5,313.9 32.3,313.2 32.1,312.5" fill="#5cc5b5"/>
<polygon points="58.4,314.1 62.6,314.9 67.2,315.2 72.3,314.9 77.1,315.0 82.0,315.0 87.2,314.5 91.9,314.7 96.1,315.6 100.7,315.9 105.4,316.1 109.7,316.8 117.0,317.2 115.9,317.9 115.4,318.7 114.7,319.4 113.0,320.1 110.9,320.8 109.9,321.5 111.0,321.6 54.8,318.3 53.0,318.2 53.0,317.4 53.6,316.7 55.3,316.0 57.4,315.4 58.5,314.7 58.6,313.9" fill="#16aac8"/>
<polygon points="109.7,316.8 113.9,317.0 118.6,316.8 122.8,317.1 126.5,318.0 130.6,318.5 134.8,318.8 138.7,319.4 142.8,319.9 147.5,319.6 148.0,318.9 147.4,319.7 146.8,320.5 146.1,321.3 145.5,322.0 144.8,322.8 144.2,323.6 144.2,323.6 105.9,321.3 108.0,321.4 107.7,320.6 107.0,319.8 107.2,319.0 107.7,318.2 107.6,317.5 107.2,316.6" fill="#7a57a5"/>
<path d="M95.0 302.2h0M104.4 302.5h0M80.7 297.4h0M83.5 303.7h0M71.4 302.3h0M92.5 305.5h0M75.2 301.0h0M93.7 304.4h0M96.7 306.2h0M84.3 299.0h0M89.4 307.1h0M90.7 302.7h0M94.6 299.8h0M92.7 299.1h0M83.3 297.0h0M67.8 302.7h0M93.8 299.3h0" stroke="#1b8a3e" stroke-width="1.80" stroke-linecap="round" fill="none"/>
<path d="M97.2 293.1h0M95.5 294.7h0M111.2 292.9h0M93.3 294.9h0M106.7 294.3h0M100.1 297.6h0M111.3 296.5h0M101.0 297.7h0M85.9 294.0h0M114.0 300.4h0M86.4 299.1h0M90.9 299.3h0M93.9 295.1h0M97.2 296.9h0M118.9 294.8h0M69.9 295.3h0M89.6 295.9h0M98.5 293.4h0M91.3 293.1h0" stroke="#f2ee8a" stroke-width="1.80" stroke-linecap="round" fill="none"/>
<path d="M137.5 314.5h0M135.4 318.5h0M147.2 314.8h0M77.4 307.3h0M138.8 318.9h0M142.9 320.0h0M120.7 316.6h0M120.7 319.4h0M136.7 321.9h0M146.1 316.7h0M141.2 314.7h0M134.4 320.8h0M71.2 303.8h0M113.8 319.5h0M145.5 315.8h0M141.1 322.2h0M131.1 317.4h0M126.9 317.3h0M117.7 318.3h0M60.5 303.4h0M122.6 320.3h0M136.7 319.6h0M143.6 320.7h0M78.4 310.1h0M129.8 318.0h0M128.4 317.2h0M105.3 319.4h0M141.7 321.3h0M67.9 299.9h0M119.5 321.5h0M137.4 321.6h0M127.4 319.8h0M118.6 321.3h0M71.2 305.3h0M127.3 321.7h0M132.6 313.0h0M107.3 319.3h0M126.6 322.0h0" stroke="#7a57a5" stroke-width="1.80" stroke-linecap="round" fill="none"/>
<path d="M57.1 305.4h0M69.0 308.7h0M84.7 311.5h0M103.5 320.3h0M82.1 310.8h0M78.1 310.8h0M76.1 316.4h0M49.5 310.5h0M33.1 313.3h0M76.7 309.9h0M99.3 315.9h0M64.2 309.7h0M92.7 309.4h0M32.7 312.3h0M73.6 313.5h0M54.5 315.0h0M95.1 317.2h0M66.9 311.4h0M50.1 311.3h0M66.0 313.3h0M78.9 310.9h0M86.0 311.1h0M71.0 307.8h0M91.0 319.2h0M61.4 312.6h0M94.9 313.0h0M88.5 319.8h0M83.6 314.8h0M88.8 311.4h0M62.4 317.2h0M61.1 313.2h0M71.6 310.0h0M50.2 308.9h0M74.8 314.5h0M46.4 310.3h0M86.2 318.9h0M51.7 308.8h0M86.6 318.8h0M81.1 314.8h0M80.9 312.2h0" stroke="#16aac8" stroke-width="1.80" stroke-linecap="round" fill="none"/>
<path d="M50.5 314.8h0M46.8 316.6h0M57.6 313.8h0M41.9 313.7h0M33.8 314.3h0M38.6 315.2h0" stroke="#5cc5b5" stroke-width="1.80" stroke-linecap="round" fill="none"/>
<path d="M48.0 311.1h0M26.7 313.8h0M34.6 306.2h0M30.7 312.6h0M29.4 308.6h0M38.0 314.9h0M33.9 305.2h0M43.9 303.4h0M20.4 314.9h0M33.7 307.8h0M23.6 311.0h0" stroke="#a83d9e" stroke-width="1.80" stroke-linecap="round" fill="none"/>
<path d="M132.7 297.4h0M146.2 299.3h0M151.8 295.4h0M139.5 297.7h0M119.7 304.4h0M62.5 292.3h0M53.7 295.2h0M152.4 294.8h0M121.5 293.8h0M143.4 300.0h0M60.9 291.3h0M72.4 295.2h0M128.1 302.8h0M124.7 301.3h0M150.1 297.7h0M123.5 296.9h0M57.4 294.9h0M63.2 294.8h0M70.1 291.6h0M63.4 293.4h0M59.2 295.4h0M58.5 294.6h0M61.9 295.2h0M116.6 295.6h0M154.2 301.2h0M129.3 303.2h0M125.3 301.6h0M68.2 293.3h0M123.6 297.4h0M131.6 294.9h0M58.0 296.6h0M137.4 297.5h0M56.3 293.0h0M126.9 298.4h0" stroke="#d42a2e" stroke-width="1.80" stroke-linecap="round" fill="none"/>
<path d="M92.2 306.2h0M93.6 305.3h0M104.6 310.2h0M91.3 309.9h0M109.8 317.7h0M108.4 319.1h0M113.2 311.5h0M90.3 310.5h0M108.7 310.9h0M119.7 314.5h0M114.4 315.8h0M110.7 310.2h0M98.4 313.3h0M111.8 314.2h0M121.4 312.4h0M99.3 306.9h0M113.0 316.5h0" stroke="#f4a233" stroke-width="1.80" stroke-linecap="round" fill="none"/>
<path d="M119.2 306.2h0M114.3 299.6h0M127.8 308.2h0M115.0 302.1h0M119.9 304.3h0M124.7 310.5h0M105.0 299.6h0M146.5 311.8h0M140.4 315.4h0M125.2 310.4h0M143.1 312.9h0M127.3 303.4h0M116.7 303.2h0M126.5 312.7h0M113.8 307.3h0M114.4 308.0h0M116.9 314.2h0M112.3 301.9h0M117.2 302.7h0M125.7 307.6h0M99.3 302.3h0M125.8 301.2h0M147.8 309.3h0M138.5 310.1h0" stroke="#7b1a4b" stroke-width="1.80" stroke-linecap="round" fill="none"/>
<path d="M152.3 303.1h0M50.4 301.0h0M56.9 298.9h0M148.0 309.5h0M148.7 306.9h0M139.8 303.8h0M146.1 301.8h0M53.1 302.2h0M135.7 307.8h0M150.8 307.1h0M152.8 303.0h0M34.5 298.6h0M41.5 295.2h0M43.3 298.1h0M52.3 297.2h0M144.5 309.2h0M145.7 306.0h0M49.2 301.1h0M51.0 294.6h0M139.6 306.0h0M160.9 301.6h0M43.2 296.7h0M41.6 297.8h0M148.3 304.5h0M150.5 298.2h0M51.4 299.9h0M139.0 302.8h0M156.0 303.3h0M41.8 300.6h0M50.9 299.9h0M153.3 299.3h0M60.2 298.9h0M143.5 302.6h0M138.4 309.9h0" stroke="#135e5e" stroke-width="1.80" stroke-linecap="round" fill="none"/>
<path d="M102.5 307.3h0M105.1 307.2h0M94.5 306.4h0M109.1 305.1h0M103.1 307.0h0M98.5 307.2h0M98.7 306.9h0" stroke="#4466b5" stroke-width="1.80" stroke-linecap="round" fill="none"/>
<path d="M49.1 305.1h0M36.9 298.4h0M58.3 302.7h0M35.5 298.6h0M77.9 298.9h0M53.6 304.6h0M39.9 301.2h0M32.0 302.8h0M47.1 299.1h0M43.8 304.7h0M54.0 301.8h0M35.5 302.4h0M52.5 304.1h0" stroke="#a27a6e" stroke-width="1.80" stroke-linecap="round" fill="none"/>
<path d="M103.4 304.5h0M150.2 305.8h0M77.1 302.6h0M46.1 313.5h0M102.3 306.8h0M89.1 299.1h0M71.5 304.2h0M76.9 316.2h0M105.9 298.8h0M47.9 295.3h0M69.3 311.0h0M143.0 301.1h0M126.2 305.4h0M96.4 306.3h0" stroke="#16aac8" stroke-width="1.80" stroke-linecap="round" fill="none"/>
<polygon points="40.4,259.2 44.6,259.4 48.9,259.6 53.2,259.8 57.5,260.0 61.7,260.2 66.0,260.4 70.3,260.6 74.6,260.8 78.8,260.9 83.1,261.1 87.4,261.3 91.7,261.5 95.9,261.7 100.2,261.9 104.5,262.1 109.9,262.3 109.3,263.3 107.7,264.3 107.0,265.3 106.9,266.3 104.6,267.2 102.1,268.1 101.8,270.9 32.6,267.4 32.6,267.4 35.9,263.9 36.8,263.0 37.7,262.0 38.6,261.1 39.5,260.2 40.4,259.2" fill="#d42a2e"/>
<polygon points="104.5,262.1 108.8,262.3 113.0,262.5 117.3,262.7 122.3,262.9 121.0,263.9 118.2,264.8 116.9,265.7 117.4,266.8 116.9,267.8 116.4,268.8 114.6,271.5 96.7,270.6 99.3,270.7 100.8,267.0 101.0,266.0 102.0,265.0 102.0,264.0 102.8,263.0 104.8,262.1" fill="#1b8a3e"/>
<polygon points="117.3,262.7 121.6,262.9 125.8,263.0 130.1,263.2 134.4,263.4 138.7,263.6 142.9,263.8 147.2,264.0 151.5,264.2 155.8,264.4 160.0,264.6 164.3,264.8 168.6,265.0 168.6,265.0 167.7,266.0 166.8,267.0 165.9,268.0 165.0,269.0 164.1,270.0 163.2,271.0 160.8,273.8 109.5,271.3 108.7,271.2 113.2,267.6 113.8,266.6 113.6,265.6 114.6,264.6 114.9,263.6 114.4,262.5" fill="#d42a2e"/>
<polygon points="35.2,264.7 39.6,265.0 43.9,265.4 48.6,265.4 53.1,265.6 57.4,266.0 62.3,265.8 67.3,265.4 71.8,265.7 75.9,266.2 80.4,266.5 85.2,267.3 85.2,268.0 84.5,268.7 83.2,269.4 82.5,270.1 82.3,270.8 81.4,271.5 78.7,274.1 28.8,271.5 28.8,271.5 31.8,268.3 32.5,267.6 33.1,266.9 33.8,266.2 34.4,265.5 35.1,264.9" fill="#135e5e"/>
<polygon points="80.4,266.5 84.7,267.0 88.6,267.9 93.2,268.2 98.1,268.0 102.6,268.4 107.0,268.8 111.8,268.8 116.1,268.8 116.7,269.5 116.2,270.3 115.3,271.0 114.9,271.7 114.9,272.5 114.1,273.2 110.8,275.8 73.6,273.9 73.7,273.9 78.2,270.6 80.0,270.0 80.6,269.3 80.4,268.5 80.7,267.8 81.5,267.1" fill="#1b8a3e"/>
<polygon points="111.8,268.8 116.3,269.3 120.7,270.0 125.8,269.9 131.1,269.6 137.3,269.8 138.1,270.6 138.0,271.3 136.6,272.0 134.9,272.7 133.9,273.4 133.3,274.2 130.0,276.8 105.6,275.6 103.6,275.5 108.0,272.1 109.2,271.4 109.9,270.7 111.0,270.0 112.6,269.3 113.4,268.6" fill="#d42a2e"/>
<polygon points="131.1,269.6 135.8,269.7 140.7,269.5 145.7,269.2 150.1,269.7 154.2,270.4 158.9,270.5 163.6,270.6 163.2,271.0 162.6,271.8 161.9,272.5 161.3,273.3 160.6,274.0 160.0,274.7 159.3,275.5 156.9,278.3 124.8,276.6 125.2,276.6 128.6,273.2 128.7,272.4 128.8,271.7 130.1,271.0 132.2,270.3 133.6,269.6" fill="#7b1a4b"/>
<polygon points="31.2,268.9 36.1,268.8 41.0,268.8 45.3,269.2 49.9,269.5 54.5,269.7 58.5,270.6 62.4,271.4 67.3,270.8 67.0,271.5 66.3,272.1 64.8,272.7 63.4,273.3 63.1,274.0 63.7,274.7 62.3,277.4 25.2,275.4 25.2,275.4 28.2,272.2 28.8,271.5 29.4,270.9 30.0,270.2 30.6,269.6 31.2,268.9" fill="#f4a233"/>
<polygon points="62.4,271.4 67.4,271.5 72.3,271.6 77.0,272.0 82.3,271.8 87.5,271.8 87.2,272.5 87.5,273.2 88.0,273.9 87.4,274.6 85.9,275.2 84.4,275.8 81.5,278.5 57.2,277.1 57.2,277.1 60.4,273.9 61.6,273.2 63.3,272.6 64.7,272.0 64.8,271.3 64.3,270.6" fill="#7a57a5"/>
<polygon points="82.3,271.8 87.3,271.7 91.7,272.4 96.5,272.7 101.7,272.5 104.8,272.7 103.9,273.4 103.9,274.1 104.0,274.8 103.5,275.4 103.1,276.1 103.4,276.8 100.7,279.5 76.4,278.2 78.6,278.3 80.7,274.9 80.3,274.2 80.9,273.6 82.2,272.9 83.2,272.3 83.5,271.6" fill="#1b8a3e"/>
<polygon points="101.7,272.5 106.5,272.7 111.5,272.7 117.0,272.2 121.8,272.5 127.6,273.9 126.1,274.5 125.2,275.2 124.5,275.8 123.2,276.5 121.2,277.1 119.7,277.7 119.9,280.6 95.6,279.2 94.3,279.2 96.5,275.8 97.2,275.1 98.8,274.5 100.2,273.9 100.6,273.2 100.5,272.5" fill="#f4a233"/>
<polygon points="121.8,272.5 125.6,273.2 129.7,273.6 134.0,273.9 141.5,274.6 140.8,275.3 139.3,275.9 138.0,276.5 137.3,277.2 136.4,277.9 134.7,278.5 132.7,281.3 114.8,280.3 112.0,280.1 115.7,276.8 117.6,276.2 118.9,275.5 119.3,274.9 119.5,274.2 120.4,273.5" fill="#4466b5"/>
<polygon points="134.0,273.9 138.6,274.7 143.7,275.0 149.2,274.7 154.1,275.3 158.9,276.0 159.3,275.5 158.7,276.2 158.1,276.9 157.5,277.6 156.9,278.3 156.3,278.9 155.7,279.6 153.2,282.4 127.6,281.0 125.3,280.9 129.7,277.5 131.4,276.9 132.2,276.2 132.8,275.6 133.8,274.9 135.2,274.2" fill="#7b1a4b"/>
<polygon points="27.9,272.5 32.0,272.8 36.7,272.6 41.3,272.5 45.2,273.7 44.1,274.4 43.6,275.0 42.7,275.7 41.2,276.3 39.6,276.8 39.1,277.5 39.5,280.3 21.6,279.2 21.6,279.2 24.6,276.0 25.2,275.4 25.8,274.7 26.4,274.1 27.0,273.4 27.6,272.8" fill="#a83d9e"/>
<polygon points="41.3,272.5 45.3,273.1 49.1,273.8 53.2,274.1 57.3,274.6 61.0,275.4 65.3,275.7 70.0,275.4 74.4,275.5 78.4,276.0 82.7,275.7 81.3,276.4 79.8,277.0 79.4,277.7 80.0,278.4 80.6,279.1 80.4,279.8 77.9,282.5 34.4,280.0 35.8,280.1 38.4,276.8 39.1,276.1 39.3,275.5 39.0,274.8 38.9,274.1 39.9,273.5" fill="#5cc5b5"/>
<polygon points="78.4,276.0 82.8,276.1 87.2,276.2 91.1,276.8 96.9,276.5 95.2,277.1 94.1,277.8 93.6,278.4 92.7,279.1 91.3,279.7 90.3,280.4 90.7,283.2 72.8,282.2 73.0,282.2 75.1,278.8 75.7,278.2 77.1,277.5 78.3,276.9 78.4,276.2 78.2,275.5" fill="#4466b5"/>
<polygon points="91.1,276.8 95.6,277.1 100.7,276.7 105.8,276.5 110.4,276.7 115.2,276.6 120.0,276.7 124.0,277.5 128.6,278.2 128.5,278.9 128.1,279.6 127.1,280.3 126.2,280.9 126.4,281.7 127.1,282.4 122.7,285.0 85.6,282.9 85.6,282.9 88.9,279.6 89.0,278.9 89.2,278.2 90.3,277.6 92.3,277.0 94.0,276.3" fill="#f4a233"/>
<polygon points="124.0,277.5 128.2,278.2 133.0,278.2 137.6,278.4 141.9,278.9 146.7,279.0 151.3,279.1 155.2,280.1 155.7,279.6 155.0,280.3 154.4,281.0 153.8,281.7 153.2,282.4 152.6,283.1 152.0,283.8 149.6,286.6 117.6,284.7 114.9,284.6 117.7,281.2 119.2,280.5 120.6,279.9 121.4,279.2 122.0,278.6 123.1,277.9" fill="#5cc5b5"/>
<polygon points="24.3,276.3 28.0,277.1 32.3,277.3 36.8,277.3 40.9,277.8 45.1,278.1 49.6,278.1 53.7,278.5 57.4,279.4 61.5,279.8 66.1,279.7 70.5,279.8 74.8,279.9 79.6,279.6 84.4,279.3 88.4,279.7 92.4,280.3 96.8,280.4 101.2,280.5 105.3,281.0 109.7,281.1 114.4,280.8 118.6,281.1 122.3,281.9 126.3,282.5 130.5,282.8 134.3,283.6 138.3,284.1 143.0,283.9 147.6,283.7 151.7,284.1 152.0,283.8 151.4,284.5 150.7,285.3 150.1,286.0 149.4,286.8 148.8,287.5 148.1,288.3 145.7,291.0 17.8,283.4 17.8,283.4 20.8,280.1 21.4,279.4 22.1,278.7 22.7,278.0 23.3,277.3 24.0,276.7" fill="#5cc5b5"/>
<polygon points="20.0,280.9 24.3,281.2 28.2,281.8 32.6,281.9 36.8,281.8 35.0,282.4 34.5,283.1 34.3,283.8 33.7,284.5 32.9,285.2 33.0,285.9 34.2,286.0 16.3,284.9 16.3,284.9 17.0,284.2 17.6,283.5 18.2,282.8 18.9,282.2 19.5,281.5 20.2,280.8" fill="#a83d9e"/>
<polygon points="32.6,281.9 37.5,281.5 42.1,281.4 46.3,281.7 50.8,281.7 55.2,281.8 59.0,282.6 62.7,283.4 67.1,283.5 71.5,283.6 75.5,284.1 79.8,284.4 84.3,284.4 90.1,284.9 89.8,285.6 89.2,286.3 89.2,287.1 89.5,287.9 88.8,288.6 86.9,289.2 85.4,289.1 29.1,285.7 27.9,285.6 29.3,285.0 31.2,284.3 32.3,283.7 32.3,283.0 32.1,282.2 33.0,281.5" fill="#5cc5b5"/>
<polygon points="84.3,284.4 88.3,284.9 92.0,285.8 96.1,286.2 100.6,286.2 104.8,286.5 109.2,286.6 114.0,286.2 118.7,286.0 122.8,286.4 126.9,286.9 131.4,286.9 135.6,287.1 139.7,287.6 144.2,287.6 149.0,287.3 148.1,288.3 147.5,289.0 146.8,289.7 146.2,290.5 145.5,291.2 144.9,292.0 144.2,292.7 144.2,292.7 80.3,288.8 79.8,288.8 80.8,288.1 82.1,287.4 82.5,286.7 82.4,285.9 82.9,285.2 84.7,284.5" fill="#16aac8"/>
<path d="M96.8 273.5h0M85.2 268.5h0M107.3 270.3h0M96.7 272.5h0M109.4 263.5h0M91.7 270.4h0M112.8 266.7h0M92.6 274.6h0M111.2 270.5h0M109.8 268.3h0M96.0 270.7h0M75.3 276.7h0M83.7 266.9h0M81.5 269.4h0M87.8 272.7h0M84.1 270.3h0M83.8 271.9h0M101.7 269.9h0M97.7 272.3h0M109.0 268.8h0M99.2 265.5h0M102.4 272.0h0M94.6 276.0h0M109.5 269.1h0M86.7 269.7h0M100.8 268.3h0" stroke="#1b8a3e" stroke-width="1.80" stroke-linecap="round" fill="none"/>
<path d="M87.3 278.6h0M123.5 280.4h0M127.6 275.5h0M117.3 274.3h0M78.5 277.8h0M84.0 281.7h0M128.2 275.4h0M91.6 277.9h0M77.3 278.4h0" stroke="#4466b5" stroke-width="1.80" stroke-linecap="round" fill="none"/>
<path d="M95.0 263.2h0M139.2 266.7h0M44.9 264.4h0M158.3 267.4h0M135.3 270.2h0M97.0 266.3h0M159.3 265.6h0M114.1 265.5h0M108.1 270.8h0M122.6 271.5h0M114.2 271.4h0M68.0 262.8h0M66.7 265.2h0M88.4 266.3h0M163.6 265.6h0M65.1 262.3h0M116.3 270.5h0M112.1 269.6h0M56.6 260.3h0M147.9 265.4h0M47.3 264.1h0M89.6 262.6h0M96.5 265.4h0M99.3 265.9h0M128.4 264.2h0M152.0 267.8h0M61.6 265.3h0M147.8 269.0h0M51.4 263.7h0M146.1 270.9h0M122.4 268.4h0M158.4 266.6h0M140.1 269.1h0M150.3 266.1h0M62.9 262.5h0M97.8 269.3h0M132.8 268.7h0M68.5 261.0h0M90.1 262.8h0M89.3 264.0h0M127.9 267.0h0M122.0 274.3h0M139.7 264.9h0M119.4 271.4h0M96.4 266.9h0M77.7 263.5h0M115.3 264.2h0M85.7 262.1h0M74.6 263.5h0M129.6 269.9h0M143.9 266.2h0M165.8 265.8h0M71.9 263.6h0M73.1 265.9h0M133.9 269.2h0M155.2 268.5h0M55.1 267.0h0M132.7 268.4h0M75.8 262.0h0M139.0 267.8h0M125.1 265.4h0" stroke="#d42a2e" stroke-width="1.80" stroke-linecap="round" fill="none"/>
<path d="M80.9 276.6h0M83.6 274.5h0M57.3 273.8h0M74.6 274.3h0M62.8 273.3h0" stroke="#7a57a5" stroke-width="1.80" stroke-linecap="round" fill="none"/>
<path d="M50.8 272.3h0M69.1 267.3h0M51.9 268.7h0M68.0 270.9h0M71.2 268.3h0M59.3 267.8h0M76.1 270.8h0M33.8 268.0h0M55.1 266.3h0M35.8 265.8h0M49.5 267.2h0M56.8 267.0h0" stroke="#135e5e" stroke-width="1.80" stroke-linecap="round" fill="none"/>
<path d="M55.4 284.3h0M68.3 286.1h0M71.2 286.7h0M91.5 283.6h0M53.3 285.7h0M71.8 280.0h0M138.3 291.1h0M106.3 284.5h0M70.4 285.3h0M55.8 274.1h0M51.5 282.3h0M25.7 276.7h0M43.8 275.0h0M49.1 275.0h0M130.4 284.5h0M34.9 274.9h0M55.4 280.6h0M43.1 283.6h0M32.8 277.7h0M106.4 282.3h0M128.9 283.2h0M92.8 279.6h0M35.5 276.6h0M105.6 279.6h0M60.9 287.0h0M63.3 275.5h0M61.2 276.6h0M53.1 283.1h0M71.3 283.6h0M54.9 281.8h0M151.2 280.7h0M123.3 278.3h0M115.7 281.6h0M146.9 285.4h0M147.6 281.7h0M128.6 287.4h0M73.2 280.8h0M152.3 281.6h0M65.4 287.1h0M142.9 277.1h0M75.2 278.9h0M52.1 273.7h0M46.1 275.5h0M124.4 279.8h0M125.1 285.5h0M62.8 273.0h0M49.7 285.5h0M91.6 283.6h0M150.5 280.9h0M41.6 285.3h0M52.9 275.6h0M96.8 286.8h0M66.4 286.1h0M34.3 281.2h0M76.8 284.4h0M89.3 281.0h0M100.8 281.2h0M119.2 286.6h0M105.8 285.3h0M128.0 284.5h0M126.7 281.2h0M90.6 279.5h0M68.0 281.7h0M64.6 281.8h0M122.8 279.4h0M88.7 284.7h0M30.9 278.5h0M90.3 283.1h0M147.4 284.0h0M67.7 279.9h0M91.5 283.3h0M120.6 287.8h0M121.8 275.4h0M110.6 287.5h0M88.3 279.9h0M49.7 274.2h0" stroke="#5cc5b5" stroke-width="1.80" stroke-linecap="round" fill="none"/>
<path d="M91.9 287.4h0M116.9 288.9h0M138.1 291.3h0M128.2 287.0h0M94.5 287.5h0M102.3 286.8h0M83.2 284.6h0M105.4 286.2h0M141.9 289.4h0M95.7 286.6h0M121.9 284.8h0M132.3 289.3h0M97.3 286.4h0M137.2 290.2h0M109.4 285.9h0M107.4 288.7h0M140.8 288.1h0M123.8 287.4h0M134.2 290.9h0" stroke="#16aac8" stroke-width="1.80" stroke-linecap="round" fill="none"/>
<path d="M43.9 273.2h0M31.5 277.7h0M35.3 272.8h0M24.5 281.3h0M36.2 275.4h0M41.6 270.5h0" stroke="#a83d9e" stroke-width="1.80" stroke-linecap="round" fill="none"/>
<path d="M49.2 271.8h0M90.0 279.2h0M107.5 273.0h0M49.0 272.6h0M98.2 280.5h0M107.3 276.7h0M34.5 268.8h0M89.7 279.9h0M128.6 280.2h0M104.4 276.2h0M103.9 279.3h0M98.9 274.9h0M109.8 278.8h0M94.2 278.2h0M90.0 278.6h0M38.6 274.4h0M95.0 279.5h0M103.1 276.3h0M33.8 271.1h0M47.1 269.3h0M105.8 271.6h0M43.0 272.2h0M118.9 280.0h0M57.6 269.5h0M108.6 281.9h0M105.3 272.8h0M113.1 280.2h0M31.5 273.7h0M68.4 271.8h0M33.7 271.9h0" stroke="#f4a233" stroke-width="1.80" stroke-linecap="round" fill="none"/>
<path d="M153.9 272.0h0M148.6 277.3h0M141.2 277.2h0M155.6 272.8h0M152.4 273.4h0M137.5 272.7h0M157.8 274.5h0M135.2 282.0h0M147.4 275.9h0M143.7 276.4h0M142.0 272.1h0M141.0 273.0h0M152.9 277.3h0M145.7 273.6h0M145.2 273.3h0M136.6 278.5h0" stroke="#7b1a4b" stroke-width="1.80" stroke-linecap="round" fill="none"/>
<path d="M49.1 262.5h0M108.4 280.1h0M70.6 283.5h0M133.9 272.1h0M41.9 273.3h0M116.4 269.4h0M40.6 271.7h0M34.4 277.1h0M112.0 270.5h0M92.2 268.4h0M63.3 265.8h0M130.3 275.6h0M120.9 272.5h0M126.3 278.8h0" stroke="#16aac8" stroke-width="1.80" stroke-linecap="round" fill="none"/>
<polygon points="41.2,228.2 45.5,228.4 49.7,228.6 54.0,228.8 61.5,229.2 58.7,230.0 56.5,230.9 56.0,231.9 54.6,232.8 53.3,233.7 53.4,234.7 51.0,237.2 33.2,236.3 33.2,236.3 36.6,232.8 37.5,231.9 38.4,231.0 39.4,230.1 40.3,229.1 41.2,228.2" fill="#16aac8"/>
<polygon points="54.0,228.8 58.2,229.0 62.5,229.2 66.8,229.4 71.0,229.7 75.3,229.9 79.5,230.1 83.8,230.3 88.0,230.5 92.3,230.7 96.5,230.9 100.8,231.1 105.0,231.3 110.9,231.6 110.9,232.6 110.3,233.6 107.9,234.4 106.7,235.4 106.9,236.4 105.9,237.3 102.2,239.9 45.9,237.0 44.1,236.9 47.5,233.4 49.5,232.5 50.5,231.6 52.4,230.7 55.3,229.9 56.3,228.9" fill="#d42a2e"/>
<polygon points="105.0,231.3 107.2,231.4 109.3,231.5 111.4,231.6 118.0,232.0 117.5,232.9 115.2,233.8 114.0,234.7 114.3,235.8 113.3,236.7 112.2,237.7 108.6,240.2 97.1,239.6 96.7,239.6 98.7,236.0 99.8,235.0 101.8,234.1 102.9,233.2 104.7,232.3 107.5,231.4" fill="#f0c4c8"/>
<polygon points="111.4,231.6 115.8,231.8 120.3,232.1 124.7,232.3 129.1,232.5 133.5,232.7 137.9,232.9 142.3,233.1 146.8,233.4 151.2,233.6 155.6,233.8 160.0,234.0 164.4,234.2 168.9,234.4 168.9,234.4 167.9,235.4 167.0,236.4 166.1,237.3 165.2,238.3 164.3,239.3 163.4,240.3 161.0,242.9 103.4,239.9 104.7,240.0 109.7,236.5 109.9,235.5 109.8,234.5 110.8,233.6 110.8,232.6 110.7,231.6" fill="#d42a2e"/>
<polygon points="35.9,233.6 39.9,234.0 44.2,234.2 48.7,234.2 52.7,234.7 56.3,235.5 60.4,235.9 64.8,236.0 69.0,236.3 73.3,236.4 76.6,235.8 77.1,236.6 78.0,237.4 78.0,238.1 77.2,238.8 76.7,239.5 76.7,240.2 72.6,242.7 29.1,240.4 29.1,240.4 32.3,237.2 33.0,236.5 33.7,235.8 34.3,235.1 35.0,234.4 35.7,233.8" fill="#135e5e"/>
<polygon points="73.3,236.4 78.2,236.0 82.9,235.7 87.0,236.2 90.5,236.6 88.6,237.2 88.0,237.9 88.1,238.6 87.8,239.3 87.1,240.0 87.1,240.7 85.4,243.4 67.5,242.4 69.8,242.5 71.6,239.2 71.2,238.5 72.0,237.8 73.1,237.1 73.6,236.4 73.7,235.7" fill="#d42a2e"/>
<polygon points="87.0,236.2 91.6,236.5 96.7,236.5 101.3,236.9 106.1,237.2 109.2,237.5 109.0,238.2 109.0,238.9 108.4,239.6 107.8,240.3 108.2,241.1 109.1,241.9 104.6,244.4 80.3,243.1 81.9,243.2 85.3,239.9 85.1,239.2 84.9,238.4 85.7,237.8 87.4,237.1 88.5,236.5" fill="#1b8a3e"/>
<polygon points="106.1,237.2 111.5,236.8 116.4,236.9 120.8,237.6 125.4,238.0 130.0,238.5 134.1,239.4 138.8,239.8 144.0,239.5 147.0,239.4 146.0,240.1 146.2,240.9 147.0,241.6 146.9,242.4 145.8,243.0 144.9,243.7 143.0,246.4 99.5,244.1 102.2,244.2 104.7,240.9 104.8,240.2 105.4,239.5 105.8,238.8 105.2,238.0 104.6,237.3" fill="#d42a2e"/>
<polygon points="144.0,239.5 148.7,239.9 153.4,240.2 158.5,240.2 163.0,240.7 163.4,240.3 162.8,241.0 162.1,241.7 161.5,242.4 160.8,243.1 160.1,243.8 159.5,244.5 157.0,247.1 137.8,246.1 137.4,246.1 141.2,242.8 141.5,242.1 141.5,241.4 142.2,240.7 143.2,240.0 143.3,239.2" fill="#7b1a4b"/>
<polygon points="31.5,238.0 35.6,238.4 40.4,238.1 45.2,237.7 49.5,237.9 53.6,238.3 58.0,238.4 63.4,239.5 62.9,240.1 61.9,240.8 61.1,241.4 61.1,242.1 61.3,242.7 60.4,243.4 56.1,245.8 25.4,244.2 25.4,244.2 28.5,241.0 29.1,240.4 29.8,239.7 30.4,239.1 31.0,238.5 31.6,237.8" fill="#f4a233"/>
<polygon points="58.0,238.4 62.0,238.8 65.6,239.7 69.7,240.1 74.3,240.0 78.5,240.3 82.6,240.7 89.3,240.8 87.6,241.4 86.3,242.0 86.2,242.7 86.5,243.4 86.0,244.1 84.7,244.7 81.7,247.2 51.0,245.6 49.9,245.5 52.3,242.3 53.0,241.6 53.9,241.0 54.1,240.3 54.2,239.7 55.3,239.1" fill="#7a57a5"/>
<polygon points="82.6,240.7 87.8,240.9 92.8,241.3 97.2,242.3 102.4,242.4 107.9,242.3 112.5,242.0 110.8,242.6 109.6,243.3 109.7,244.0 110.2,244.7 110.2,245.3 109.7,246.0 107.3,248.6 76.6,247.0 77.9,247.0 80.2,243.8 80.9,243.1 82.0,242.5 82.5,241.8 82.6,241.2 83.2,240.5" fill="#4466b5"/>
<polygon points="107.9,242.3 112.8,242.4 118.1,242.2 123.4,241.9 127.9,242.4 133.8,243.2 132.0,243.8 130.9,244.4 130.9,245.1 131.0,245.8 130.3,246.4 129.0,247.0 126.5,249.7 102.2,248.3 101.5,248.3 103.5,245.0 104.0,244.3 104.9,243.7 105.3,243.0 105.4,242.4 106.1,241.7" fill="#8c8a3c"/>
<polygon points="127.9,242.4 132.2,243.0 137.0,242.9 141.6,243.2 146.0,243.5 151.0,243.4 155.8,243.3 159.8,244.1 159.5,244.5 158.9,245.2 158.3,245.8 157.6,246.5 157.0,247.1 156.4,247.8 155.8,248.5 153.4,251.1 121.4,249.4 123.2,249.5 126.1,246.2 126.8,245.5 127.9,244.9 128.4,244.3 128.0,243.5 127.5,242.8" fill="#7b1a4b"/>
<polygon points="27.8,241.7 32.2,241.9 36.6,241.9 41.5,241.5 46.0,241.5 49.9,242.1 53.8,242.7 58.1,242.9 62.1,243.3 66.0,244.0 73.1,244.1 73.2,244.7 72.7,245.4 71.0,246.0 68.9,246.5 67.4,247.1 66.9,247.8 65.2,250.4 21.6,248.0 21.6,248.0 24.8,244.8 25.4,244.2 26.0,243.5 26.6,242.9 27.3,242.3 27.9,241.6" fill="#16aac8"/>
<polygon points="66.0,244.0 71.0,244.0 76.1,243.9 80.5,244.6 85.0,245.2 92.4,245.1 91.0,245.7 88.9,246.3 87.5,246.9 86.8,247.5 86.0,248.2 84.7,248.8 84.4,251.5 60.1,250.1 58.3,250.0 61.4,246.8 62.8,246.2 63.9,245.6 64.2,244.9 64.4,244.3 65.3,243.6" fill="#7a57a5"/>
<polygon points="85.0,245.2 89.8,245.4 94.2,246.1 98.9,246.5 104.3,246.1 108.6,246.0 108.4,246.6 107.5,247.3 106.6,247.9 106.4,248.6 106.4,249.3 105.5,249.9 103.6,252.5 79.3,251.2 80.2,251.2 84.0,248.0 85.0,247.4 84.8,246.7 84.0,246.0 83.6,245.3 84.1,244.6" fill="#4466b5"/>
<polygon points="104.3,246.1 109.0,245.9 113.2,246.1 117.7,246.2 122.2,246.1 126.2,246.6 130.2,247.2 136.9,247.5 136.0,248.1 135.2,248.8 135.0,249.4 134.6,250.1 133.5,250.7 131.9,251.3 129.2,254.0 98.5,252.3 96.9,252.2 100.2,248.9 102.1,248.3 104.2,247.8 105.5,247.2 105.8,246.5 106.1,245.8" fill="#f4a233"/>
<polygon points="130.2,247.2 135.7,247.0 141.1,246.9 146.1,247.4 151.4,247.5 156.3,248.0 155.8,248.5 155.2,249.1 154.6,249.8 154.0,250.5 153.4,251.1 152.7,251.8 152.1,252.5 149.7,255.1 124.1,253.7 124.5,253.7 127.0,250.4 126.2,249.7 125.7,248.9 126.3,248.3 127.8,247.7 129.0,247.0" fill="#16aac8"/>
<polygon points="24.3,245.3 28.6,245.4 33.0,245.6 37.0,246.0 41.3,246.3 45.9,246.2 50.0,246.6 53.6,247.5 57.6,248.0 61.9,248.2 66.0,248.6 70.2,248.9 75.0,248.6 79.8,248.3 83.9,248.7 88.0,249.0 92.5,249.0 96.8,249.3 100.8,249.7 107.2,250.0 106.6,250.7 106.4,251.4 105.5,252.1 103.9,252.7 102.8,253.4 102.8,254.2 99.7,256.7 17.7,252.1 17.7,252.1 20.8,248.8 21.5,248.2 22.1,247.5 22.8,246.8 23.5,246.1 24.1,245.4" fill="#5cc5b5"/>
<polygon points="100.8,249.7 105.4,249.7 110.3,249.3 114.6,249.4 118.6,250.0 122.8,250.2 127.0,250.6 130.2,251.3 128.6,251.9 128.3,252.6 128.9,253.4 129.1,254.1 128.6,254.9 128.4,255.6 125.3,258.2 94.5,256.4 96.7,256.6 98.8,253.2 98.8,252.5 99.8,251.8 100.8,251.1 101.1,250.4 101.4,249.7" fill="#16aac8"/>
<polygon points="127.0,250.6 131.3,251.7 136.2,252.2 141.7,252.1 146.7,252.5 151.8,252.8 152.1,252.5 151.5,253.2 150.8,253.9 150.2,254.6 149.5,255.3 148.9,256.0 148.2,256.7 145.8,259.4 120.1,257.9 120.6,257.9 124.2,254.6 124.6,253.9 124.7,253.2 125.5,252.5 126.9,251.8 127.7,251.1" fill="#5cc5b5"/>
<polygon points="20.6,249.0 24.7,249.4 28.9,249.8 32.7,250.5 36.7,251.0 41.3,250.9 45.8,250.9 49.8,251.4 53.8,251.9 58.2,252.1 63.9,252.0 63.6,252.7 62.4,253.3 61.2,254.0 60.6,254.7 60.1,255.4 58.5,256.0 59.7,256.1 16.2,253.6 16.2,253.6 16.8,252.9 17.5,252.2 18.2,251.6 18.8,250.9 19.5,250.2 20.1,249.5" fill="#16aac8"/>
<polygon points="58.2,252.1 62.2,252.5 66.2,253.2 70.7,253.1 75.6,252.6 80.1,252.7 84.4,252.9 89.0,252.7 93.4,252.9 97.2,253.6 101.3,254.0 105.9,253.9 110.3,254.0 114.4,254.4 118.8,254.5 123.2,254.6 127.0,255.4 130.6,256.3 134.7,256.7 139.1,256.8 143.2,257.2 147.6,257.4 148.2,256.7 147.6,257.4 146.9,258.1 146.3,258.8 145.6,259.5 145.0,260.2 144.3,261.0 144.3,261.0 54.6,255.8 55.3,255.8 55.6,255.1 56.6,254.5 57.9,253.8 58.3,253.1 57.5,252.3 56.9,251.6" fill="#5cc5b5"/>
<path d="M140.5 234.9h0M117.0 233.5h0M62.2 230.4h0M68.6 230.8h0M157.8 237.3h0M67.4 232.8h0M151.6 236.8h0M148.7 239.2h0M111.3 235.2h0M94.2 234.8h0M108.5 243.7h0M96.5 238.0h0M59.3 233.5h0M125.9 242.1h0M132.7 236.2h0M45.5 231.4h0M70.4 235.2h0M140.4 236.5h0M126.7 241.2h0M112.1 240.5h0M120.3 237.1h0M93.0 237.1h0M92.6 232.2h0M149.3 234.9h0M131.3 238.1h0M159.2 237.1h0M91.6 233.5h0M123.2 238.1h0M48.6 233.7h0M115.0 237.0h0M75.6 232.1h0M161.8 238.2h0M115.9 243.2h0M156.9 240.2h0M131.6 238.2h0M62.1 237.4h0M129.4 235.9h0M151.3 242.7h0M102.5 235.4h0M157.5 238.6h0M66.5 231.5h0M95.1 232.7h0M144.1 235.3h0M92.0 234.6h0M63.1 232.8h0M160.2 238.2h0M108.2 244.0h0M56.7 235.8h0M50.0 237.0h0M158.2 239.2h0M138.6 238.1h0M114.7 239.4h0M53.9 236.1h0M85.0 234.6h0M124.2 233.7h0M125.2 235.7h0M78.9 240.0h0M129.7 237.3h0M71.0 230.4h0M145.0 237.1h0M77.2 239.6h0M45.2 232.0h0M114.5 240.4h0M97.5 231.6h0M154.7 240.9h0M60.5 233.6h0M50.7 232.8h0M96.2 235.6h0M82.2 237.0h0M144.4 235.4h0M88.5 234.4h0M67.0 233.9h0M110.8 243.3h0M85.3 231.5h0M101.8 231.9h0M139.4 240.3h0M51.9 229.1h0" stroke="#d42a2e" stroke-width="1.80" stroke-linecap="round" fill="none"/>
<path d="M31.5 251.6h0M73.2 247.2h0M23.1 250.5h0M138.2 256.0h0M55.1 251.0h0M82.6 251.3h0M46.4 248.9h0M131.7 256.4h0M32.9 250.7h0M78.5 254.4h0M85.4 255.2h0M88.0 249.7h0M105.8 257.7h0M76.5 253.9h0M63.9 253.2h0M123.6 256.3h0M138.2 257.2h0M35.9 249.2h0M136.3 259.6h0M87.6 256.6h0M128.8 255.3h0M110.1 255.6h0M71.6 252.7h0M85.1 252.6h0M71.1 245.9h0M94.2 251.0h0M70.3 249.2h0M123.8 254.9h0M54.4 251.5h0M34.7 245.8h0M141.9 255.3h0M87.1 249.6h0M83.3 246.1h0M90.6 249.2h0M80.4 253.0h0M53.1 253.5h0M111.1 258.4h0M102.8 255.8h0M79.0 250.6h0M51.5 247.5h0M139.8 257.2h0M143.6 256.8h0M76.4 253.8h0M30.7 248.2h0M135.1 250.5h0M139.4 258.2h0M127.2 256.8h0M80.9 254.9h0M64.8 256.1h0M44.1 248.6h0M100.3 256.9h0M90.1 251.2h0M60.3 253.8h0M67.7 250.4h0M87.3 255.4h0M75.1 256.6h0M41.6 249.0h0M114.7 258.0h0" stroke="#5cc5b5" stroke-width="1.80" stroke-linecap="round" fill="none"/>
<path d="M140.3 252.7h0M37.3 250.9h0M38.0 242.9h0M28.7 243.0h0M45.2 231.0h0M28.4 245.3h0M55.3 232.3h0M110.8 253.8h0M44.2 234.9h0M30.9 253.2h0M110.8 255.9h0M35.8 251.0h0M152.0 250.0h0M29.9 251.1h0M60.4 247.5h0M44.7 233.1h0M40.4 232.1h0M134.5 251.4h0M132.2 250.7h0M39.4 251.8h0M121.5 249.3h0M38.3 249.2h0M132.8 250.6h0M40.0 248.8h0M37.9 233.0h0M43.7 253.6h0M25.3 249.4h0M130.4 250.1h0M57.3 252.4h0M47.3 246.6h0M31.1 252.3h0M50.3 244.4h0M41.0 242.4h0M108.4 253.3h0M58.1 247.4h0M51.6 252.4h0M63.0 247.0h0M121.9 250.6h0M44.6 245.6h0M113.0 254.4h0M54.1 244.5h0M47.1 232.9h0M132.1 250.0h0M130.6 250.9h0M116.1 250.8h0M60.5 247.5h0M44.8 229.3h0M35.3 245.0h0" stroke="#16aac8" stroke-width="1.80" stroke-linecap="round" fill="none"/>
<path d="M53.4 242.2h0M74.0 240.4h0M68.4 245.8h0M73.4 244.7h0M68.9 249.4h0M58.1 237.7h0M63.2 241.8h0M71.5 242.4h0M80.4 245.3h0M58.5 240.8h0M60.1 248.0h0M71.0 242.4h0M66.4 243.7h0M66.8 239.2h0" stroke="#7a57a5" stroke-width="1.80" stroke-linecap="round" fill="none"/>
<path d="M127.9 246.2h0M116.6 241.6h0M120.0 244.6h0M108.8 242.3h0" stroke="#8c8a3c" stroke-width="1.80" stroke-linecap="round" fill="none"/>
<path d="M145.5 244.1h0M125.1 248.0h0M155.2 245.4h0M133.2 243.7h0M152.5 240.0h0M152.3 245.0h0M136.3 243.6h0M132.5 245.6h0" stroke="#7b1a4b" stroke-width="1.80" stroke-linecap="round" fill="none"/>
<path d="M108.5 241.7h0M89.9 236.2h0M101.5 239.2h0M89.8 239.8h0M93.2 240.1h0M103.6 236.6h0M101.4 237.5h0M99.8 238.9h0M83.6 240.1h0M100.5 240.2h0M109.1 237.8h0M83.3 238.6h0M95.8 239.7h0M110.3 236.7h0" stroke="#1b8a3e" stroke-width="1.80" stroke-linecap="round" fill="none"/>
<path d="M111.2 237.7h0M103.4 232.0h0M107.3 234.3h0M95.6 234.7h0" stroke="#f0c4c8" stroke-width="1.80" stroke-linecap="round" fill="none"/>
<path d="M99.6 247.8h0M94.8 250.6h0M92.9 250.5h0M95.9 242.2h0M84.2 244.7h0M92.5 248.4h0M91.0 240.8h0M98.8 246.8h0M97.1 243.8h0M75.3 246.7h0M97.4 247.6h0M105.5 241.6h0M74.5 241.3h0M105.4 242.8h0" stroke="#4466b5" stroke-width="1.80" stroke-linecap="round" fill="none"/>
<path d="M30.4 242.3h0M113.9 247.8h0M32.0 242.8h0M50.0 241.0h0M32.6 241.0h0M119.2 249.4h0M131.4 246.9h0M111.5 248.7h0M38.2 240.6h0M41.4 242.6h0M32.0 240.5h0M110.1 247.6h0" stroke="#f4a233" stroke-width="1.80" stroke-linecap="round" fill="none"/>
<path d="M64.5 241.2h0M45.9 235.4h0M61.6 237.8h0M45.3 234.3h0M61.9 238.1h0M48.6 235.8h0M42.8 236.9h0" stroke="#135e5e" stroke-width="1.80" stroke-linecap="round" fill="none"/>
<path d="M113.2 242.2h0M106.9 237.2h0M144.1 250.4h0M94.0 246.9h0M50.7 237.6h0M55.0 249.5h0M38.3 239.5h0M129.7 252.2h0M122.6 240.5h0M58.1 246.5h0M65.3 247.3h0M70.4 248.4h0M95.0 251.1h0M151.6 243.9h0" stroke="#16aac8" stroke-width="1.80" stroke-linecap="round" fill="none"/>
<polygon points="42.1,197.0 46.4,197.2 50.8,197.4 55.2,197.6 59.5,197.8 63.9,198.0 68.3,198.2 72.6,198.4 77.0,198.6 81.4,198.9 85.7,199.1 90.1,199.3 94.5,199.5 98.9,199.7 103.2,199.9 107.6,200.1 112.0,200.3 119.3,200.7 117.4,201.5 114.7,202.4 113.4,203.3 111.8,204.2 109.8,205.1 109.8,206.0 108.9,208.6 33.7,205.0 33.7,205.0 37.2,201.6 38.2,200.6 39.2,199.7 40.1,198.8 41.1,197.9 42.1,197.0" fill="#d42a2e"/>
<polygon points="112.0,200.3 116.7,200.5 121.5,200.8 126.2,201.0 131.0,201.2 137.0,201.5 136.4,202.5 135.3,203.4 133.5,204.3 133.4,205.2 133.6,206.2 131.6,207.1 128.0,209.5 103.8,208.4 102.8,208.3 106.0,204.9 107.4,204.0 107.5,203.0 108.2,202.1 111.0,201.2 113.3,200.4" fill="#f0c4c8"/>
<polygon points="131.0,201.2 135.2,201.4 139.5,201.6 143.7,201.8 148.0,202.0 152.2,202.2 156.4,202.5 160.7,202.7 164.9,202.9 169.1,203.1 169.1,203.1 168.2,204.0 167.3,204.9 166.4,205.8 165.5,206.8 164.6,207.7 163.6,208.6 161.2,211.1 122.9,209.3 124.6,209.4 126.2,205.8 127.2,204.9 128.7,204.0 129.0,203.1 129.9,202.1 131.3,201.2" fill="#d42a2e"/>
<polygon points="36.5,202.3 41.5,202.0 46.0,202.3 50.7,202.4 55.4,202.5 59.3,203.3 63.4,203.9 68.2,203.9 73.8,204.3 71.9,204.9 70.1,205.5 69.3,206.2 68.8,206.9 67.7,207.5 66.5,208.1 66.5,210.8 29.5,209.0 29.5,209.0 32.8,205.8 33.5,205.1 34.2,204.5 34.9,203.8 35.6,203.1 36.3,202.5" fill="#135e5e"/>
<polygon points="68.2,203.9 72.5,204.1 76.5,204.5 80.8,204.7 85.2,204.7 89.0,205.4 92.7,206.2 100.7,205.6 99.8,206.2 99.4,206.9 98.5,207.6 96.5,208.2 94.5,208.8 93.6,209.5 92.1,212.0 61.4,210.5 59.6,210.4 62.5,207.3 63.0,206.6 64.6,205.9 66.7,205.3 68.1,204.7 68.3,204.0" fill="#d42a2e"/>
<polygon points="92.7,206.2 97.0,206.3 101.5,206.2 105.7,206.5 112.1,206.1 112.5,206.9 113.0,207.6 112.2,208.2 110.3,208.9 108.8,209.5 108.0,210.2 104.8,212.6 87.0,211.8 85.6,211.7 89.7,208.6 90.4,207.9 91.3,207.2 92.9,206.6 94.2,206.0 94.5,205.3" fill="#1b8a3e"/>
<polygon points="105.7,206.5 110.8,206.4 116.3,205.9 121.1,206.1 125.5,206.7 129.6,207.0 127.7,207.6 126.8,208.2 127.0,209.0 127.3,209.7 126.9,210.4 126.5,211.0 124.0,213.6 99.7,212.4 101.5,212.5 103.6,209.2 104.0,208.6 105.2,207.9 106.1,207.2 106.4,206.6 106.8,205.9" fill="#8c8a3c"/>
<polygon points="125.5,206.7 129.9,206.8 134.3,206.8 138.4,207.2 142.7,207.3 147.5,206.9 151.8,207.1 156.4,208.3 154.8,208.9 154.5,209.6 154.7,210.3 154.2,211.0 152.8,211.6 151.7,212.3 149.5,214.8 118.9,213.3 119.2,213.3 121.2,210.1 120.9,209.4 121.6,208.7 122.4,208.0 122.7,207.3 123.0,206.7" fill="#d42a2e"/>
<polygon points="151.8,207.1 155.5,207.8 159.5,208.3 163.7,208.6 163.6,208.6 163.0,209.3 162.3,210.0 161.7,210.6 161.0,211.3 160.3,212.0 159.7,212.7 157.2,215.2 144.4,214.6 145.7,214.6 148.2,211.4 148.7,210.7 149.6,210.1 150.0,209.4 149.2,208.6 148.5,207.9" fill="#7b1a4b"/>
<polygon points="33.0,205.7 36.8,206.3 40.5,207.0 44.7,207.3 48.7,207.7 52.4,208.4 56.8,208.5 61.6,208.2 66.0,208.3 70.0,208.7 74.9,208.6 74.3,209.2 73.5,209.8 72.2,210.4 71.0,211.0 70.8,211.7 71.2,212.3 69.1,214.9 25.6,212.8 25.6,212.8 28.8,209.6 29.5,209.0 30.1,208.4 30.8,207.7 31.4,207.1 32.1,206.5" fill="#f4a233"/>
<polygon points="70.0,208.7 74.4,208.8 78.8,208.8 82.8,209.3 86.9,209.6 91.8,209.2 96.5,209.0 101.2,209.8 101.0,210.5 100.1,211.1 99.2,211.7 99.1,212.4 99.8,213.1 100.0,213.7 94.6,216.1 64.0,214.6 63.5,214.6 67.3,211.5 68.0,210.9 68.0,210.2 68.2,209.6 69.6,209.0 71.6,208.4" fill="#6f8b73"/>
<polygon points="96.5,209.0 101.3,209.2 106.2,209.3 111.2,209.4 115.3,210.2 118.9,210.7 118.0,211.3 117.8,211.9 118.0,212.6 117.5,213.3 115.9,213.8 114.4,214.4 113.8,217.0 89.5,215.9 90.9,215.9 93.6,212.8 94.4,212.1 95.5,211.5 95.9,210.9 95.3,210.2 94.4,209.5" fill="#4466b5"/>
<polygon points="115.3,210.2 119.7,210.9 124.7,210.9 129.4,211.2 134.0,211.6 140.1,211.7 139.6,212.3 139.3,213.0 139.6,213.7 139.5,214.3 138.3,214.9 136.5,215.5 133.0,218.0 108.7,216.8 107.8,216.7 111.4,213.6 113.2,213.0 114.9,212.5 115.7,211.8 115.5,211.2 115.5,210.5" fill="#8c8a3c"/>
<polygon points="134.0,211.6 139.4,211.6 144.2,212.1 148.6,213.0 153.8,213.2 159.1,213.3 159.7,212.7 159.1,213.3 158.4,213.9 157.8,214.5 157.2,215.2 156.6,215.8 156.0,216.4 153.5,219.0 127.9,217.7 129.1,217.8 130.8,214.6 130.7,213.9 131.6,213.3 132.5,212.7 132.8,212.0 132.9,211.4" fill="#7b1a4b"/>
<polygon points="27.9,210.5 32.6,210.5 37.8,210.0 42.6,209.9 46.8,210.4 51.2,210.7 55.6,211.0 59.5,211.7 63.6,212.3 68.5,212.2 73.1,212.2 78.1,212.7 77.0,213.3 76.9,213.9 77.1,214.6 76.5,215.2 75.1,215.8 73.9,216.4 71.6,218.9 21.7,216.5 21.7,216.5 24.9,213.4 25.6,212.8 26.2,212.1 26.9,211.5 27.5,210.9 28.2,210.2" fill="#16aac8"/>
<polygon points="73.1,212.2 77.0,212.8 81.2,213.1 85.5,213.2 89.3,213.8 93.1,214.5 97.6,214.5 106.1,214.0 105.8,214.7 104.3,215.3 102.3,215.8 100.8,216.4 100.2,217.0 99.5,217.7 97.3,220.2 66.5,218.7 63.7,218.6 67.8,215.5 69.1,214.9 69.8,214.2 70.5,213.6 71.8,213.0 73.4,212.4" fill="#7a57a5"/>
<polygon points="97.6,214.5 103.0,214.2 107.8,214.3 113.0,214.2 118.2,214.0 122.9,214.8 121.9,215.4 121.5,216.1 122.2,216.8 122.7,217.5 122.3,218.1 121.0,218.7 116.5,221.1 92.1,219.9 92.1,219.9 94.9,216.8 95.9,216.2 97.1,215.6 97.6,214.9 97.6,214.3 98.1,213.6" fill="#4466b5"/>
<polygon points="118.2,214.0 123.0,214.6 127.9,215.0 133.4,214.9 140.8,215.7 139.6,216.3 137.8,216.9 136.5,217.5 136.1,218.1 135.9,218.8 135.1,219.4 131.8,221.9 111.4,220.9 108.7,220.8 112.1,217.6 113.7,217.0 115.0,216.4 115.7,215.8 116.8,215.2 118.5,214.6" fill="#f4a233"/>
<polygon points="133.4,214.9 138.0,215.1 142.5,215.4 147.5,215.2 152.1,215.5 156.0,216.4 156.0,216.4 155.3,217.1 154.7,217.7 154.1,218.3 153.5,219.0 152.9,219.6 152.2,220.2 149.8,222.8 126.7,221.6 124.5,221.5 127.9,218.4 128.7,217.8 129.1,217.1 129.6,216.5 131.1,215.9 133.3,215.3" fill="#a83d9e"/>
<polygon points="24.3,214.0 28.4,214.4 32.9,214.4 37.3,214.4 41.4,214.8 46.0,214.7 50.8,214.3 55.8,215.5 56.0,216.2 54.8,216.9 53.3,217.5 52.7,218.2 52.6,218.9 51.9,219.6 48.3,222.0 17.6,220.5 17.6,220.5 20.8,217.3 21.5,216.7 22.2,216.0 22.9,215.3 23.6,214.7 24.3,214.0" fill="#a83d9e"/>
<polygon points="50.8,214.3 55.5,214.5 59.7,215.2 64.2,215.6 68.6,216.1 72.6,216.9 77.3,217.1 82.4,216.9 86.9,217.3 91.3,217.7 96.1,217.8 100.5,218.3 103.6,217.9 103.2,218.5 103.2,219.2 102.6,219.9 101.9,220.6 102.2,221.3 103.0,222.1 99.7,224.5 43.2,221.8 45.7,221.9 48.9,218.7 48.3,218.0 47.8,217.3 48.4,216.6 49.6,215.9 50.4,215.3" fill="#16aac8"/>
<polygon points="100.5,218.3 104.9,218.9 110.2,218.7 115.6,218.3 120.4,218.5 125.9,218.9 123.7,219.5 121.9,220.2 121.4,220.8 121.5,221.6 121.1,222.2 120.1,222.9 118.9,225.5 94.5,224.3 95.0,224.3 96.8,221.1 97.2,220.4 97.9,219.7 98.0,219.0 98.0,218.3 99.1,217.6" fill="#7a57a5"/>
<polygon points="120.4,218.5 125.3,218.4 130.2,218.3 134.5,218.8 138.6,219.5 143.4,219.5 148.1,219.5 152.5,220.0 152.2,220.2 151.6,220.9 150.9,221.6 150.3,222.2 149.6,222.9 149.0,223.6 148.3,224.3 145.8,226.8 113.8,225.2 113.1,225.2 116.9,222.0 118.0,221.4 118.3,220.7 118.4,220.0 119.3,219.3 120.3,218.7" fill="#16aac8"/>
<polygon points="20.0,218.2 24.7,218.2 29.3,218.3 34.3,218.0 39.2,217.8 43.2,218.5 47.3,219.1 51.9,219.2 56.2,219.6 60.3,220.2 65.1,220.1 72.3,220.6 71.8,221.2 70.3,221.9 68.1,222.5 66.6,223.1 66.4,223.8 66.2,224.5 66.1,224.5 16.0,222.0 16.0,222.0 16.7,221.4 17.4,220.7 18.1,220.0 18.8,219.4 19.5,218.7 20.1,218.0" fill="#a83d9e"/>
<polygon points="65.1,220.1 69.8,220.1 73.9,220.7 77.9,221.4 82.4,221.6 86.7,222.0 90.9,222.6 95.8,222.3 100.9,221.9 105.5,222.1 109.9,222.3 115.1,222.6 115.9,223.4 115.6,224.1 114.6,224.7 114.0,225.4 113.7,226.1 112.8,226.8 111.0,226.7 60.9,224.2 59.7,224.2 62.0,223.6 63.9,223.0 64.5,222.3 64.7,221.6 65.5,220.9 66.6,220.3" fill="#5cc5b5"/>
<polygon points="109.9,222.3 115.1,222.2 119.7,222.6 124.2,223.2 129.4,223.0 132.3,223.5 133.1,224.2 133.9,225.0 133.7,225.7 132.5,226.3 131.8,227.0 131.6,227.7 130.2,227.6 105.9,226.4 106.8,226.5 108.6,225.9 109.2,225.2 109.5,224.5 110.4,223.8 111.3,223.2 111.2,222.5" fill="#16aac8"/>
<polygon points="129.4,223.0 134.6,222.8 139.3,223.2 144.1,223.4 148.9,223.7 148.3,224.3 147.6,224.9 147.0,225.6 146.3,226.3 145.7,227.0 145.0,227.6 144.4,228.3 144.4,228.3 125.1,227.4 123.4,227.3 124.4,226.6 125.1,226.0 125.2,225.3 125.9,224.6 127.9,224.0 130.2,223.4" fill="#a83d9e"/>
<path d="M123.4 218.5h0M81.1 220.1h0M59.6 218.2h0M115.8 223.2h0M135.5 221.5h0M118.0 217.2h0M74.3 218.8h0M137.3 219.3h0M150.0 221.0h0M62.9 214.9h0M115.1 221.6h0M146.8 219.9h0M115.5 226.3h0M71.2 215.5h0M144.5 221.9h0M45.6 219.5h0M49.5 215.2h0M66.5 216.8h0M82.0 217.0h0M109.9 224.2h0M77.1 218.5h0M145.3 225.7h0M78.6 219.1h0M40.5 213.5h0M94.2 221.3h0M119.3 224.6h0M112.9 226.4h0M91.4 219.3h0M61.6 219.6h0M107.6 225.9h0M121.5 222.9h0M39.1 215.9h0M47.9 212.9h0M133.8 224.9h0M34.1 214.3h0M26.8 216.3h0M139.6 219.6h0M64.2 217.1h0M61.8 220.7h0M118.1 225.2h0M65.6 217.5h0M50.2 211.9h0M35.9 213.8h0M69.7 217.0h0M70.8 218.3h0M41.8 214.4h0M56.0 214.9h0M139.3 221.3h0M67.6 217.9h0M71.8 214.4h0M143.2 226.6h0M56.4 218.3h0M50.8 219.3h0M49.3 212.7h0M57.1 217.8h0M74.1 216.2h0M92.0 221.6h0M79.3 215.3h0M111.2 224.3h0" stroke="#16aac8" stroke-width="1.80" stroke-linecap="round" fill="none"/>
<path d="M88.0 213.2h0M85.6 210.1h0M82.9 213.6h0M92.7 212.2h0M93.5 209.3h0M58.7 211.2h0M75.3 207.3h0M75.8 211.7h0M79.3 209.4h0M71.5 212.7h0M73.5 210.9h0" stroke="#6f8b73" stroke-width="1.80" stroke-linecap="round" fill="none"/>
<path d="M117.6 210.3h0M120.4 206.9h0M115.8 211.4h0M119.4 214.6h0M136.5 204.9h0M110.0 208.5h0M108.5 208.7h0M115.1 211.4h0M110.8 214.7h0" stroke="#8c8a3c" stroke-width="1.80" stroke-linecap="round" fill="none"/>
<path d="M152.5 215.2h0M148.4 214.9h0M134.7 213.3h0M146.6 212.0h0M142.1 212.4h0M155.3 213.7h0M150.2 212.8h0M159.8 210.5h0M135.7 212.3h0M137.3 211.1h0M154.7 208.6h0M154.8 209.4h0M153.8 212.8h0M149.1 211.9h0" stroke="#7b1a4b" stroke-width="1.80" stroke-linecap="round" fill="none"/>
<path d="M72.6 221.6h0M98.0 223.1h0M76.3 222.1h0M81.1 224.3h0M81.6 224.8h0M99.8 224.4h0M55.9 223.0h0M70.8 221.3h0M84.5 222.3h0M93.1 224.0h0M99.1 225.5h0M90.8 223.4h0M89.6 221.4h0" stroke="#5cc5b5" stroke-width="1.80" stroke-linecap="round" fill="none"/>
<path d="M47.3 215.5h0M149.8 214.5h0M143.0 226.4h0M143.7 217.4h0M22.0 221.6h0M131.5 222.1h0M37.2 222.1h0M50.3 218.9h0M132.4 221.0h0M27.6 215.9h0M133.7 218.0h0M52.9 223.4h0M144.2 225.5h0M151.2 216.9h0M52.4 216.6h0M46.3 215.4h0M145.3 216.9h0M47.9 222.1h0M139.6 224.3h0M132.4 216.2h0M33.7 221.9h0M43.5 217.6h0M74.6 219.1h0M36.3 218.0h0M146.4 217.6h0M141.6 219.5h0M29.4 220.6h0M24.7 221.5h0M29.5 218.0h0M142.5 226.3h0M62.6 220.1h0M149.7 218.0h0M43.2 222.2h0M50.3 223.2h0M61.1 221.5h0M132.7 224.6h0M34.7 215.5h0M31.4 219.9h0M42.1 220.8h0" stroke="#a83d9e" stroke-width="1.80" stroke-linecap="round" fill="none"/>
<path d="M46.6 205.5h0M59.4 206.9h0M52.8 204.7h0M69.7 201.3h0M61.7 207.2h0M45.5 202.1h0M55.6 205.5h0M63.5 208.4h0M48.1 206.4h0M62.2 206.6h0M51.5 204.4h0" stroke="#135e5e" stroke-width="1.80" stroke-linecap="round" fill="none"/>
<path d="M71.4 206.9h0M165.4 203.5h0M44.9 204.9h0M84.0 204.5h0M69.0 202.2h0M85.0 199.5h0M143.3 203.6h0M80.0 201.0h0M84.7 202.5h0M103.1 200.9h0M120.4 209.7h0M78.2 202.9h0M77.1 203.4h0M139.2 212.5h0M80.1 204.1h0M52.0 200.7h0M107.5 202.7h0M93.6 202.1h0M67.1 200.8h0M66.8 205.4h0M137.1 203.0h0M76.5 204.2h0M52.8 198.1h0M76.6 207.8h0M135.6 203.0h0M57.0 198.8h0M91.2 210.5h0M58.2 205.9h0M73.2 204.8h0M73.5 199.8h0M62.2 204.2h0M44.6 197.7h0M142.2 211.0h0M151.1 202.9h0M98.7 203.3h0M143.3 202.5h0M63.9 201.6h0M83.6 205.6h0M80.5 200.5h0M131.0 210.8h0M76.9 200.2h0M45.7 199.2h0M83.1 200.9h0M54.2 200.5h0M86.9 207.6h0M51.7 203.3h0M140.0 212.5h0M77.5 203.9h0M155.6 203.2h0M133.5 205.6h0M121.3 202.3h0M45.4 203.9h0" stroke="#d42a2e" stroke-width="1.80" stroke-linecap="round" fill="none"/>
<path d="M88.0 212.0h0M110.3 220.3h0M124.2 221.2h0M108.0 218.0h0M115.6 218.1h0M111.4 221.4h0M109.1 216.7h0M100.1 221.9h0M81.9 216.7h0M96.3 219.1h0M113.1 222.4h0M96.8 216.8h0" stroke="#7a57a5" stroke-width="1.80" stroke-linecap="round" fill="none"/>
<path d="M97.5 208.4h0M85.7 211.7h0M102.0 205.6h0M107.8 207.0h0M96.6 205.9h0M104.4 205.0h0M93.0 206.5h0M89.3 207.7h0" stroke="#1b8a3e" stroke-width="1.80" stroke-linecap="round" fill="none"/>
<path d="M126.6 213.7h0M49.0 209.9h0M53.2 207.7h0M61.5 213.4h0M120.7 215.9h0M35.1 205.5h0M46.5 210.5h0M34.6 205.9h0M34.3 209.7h0M40.6 209.3h0M66.8 209.3h0M72.1 209.0h0M31.0 211.8h0" stroke="#f4a233" stroke-width="1.80" stroke-linecap="round" fill="none"/>
<path d="M98.3 215.2h0M113.8 218.5h0M101.1 211.3h0M106.3 216.5h0M86.5 212.7h0M98.9 212.8h0M117.2 213.8h0M108.1 211.3h0M101.4 212.9h0M112.6 215.3h0M118.4 211.8h0M103.4 215.8h0" stroke="#4466b5" stroke-width="1.80" stroke-linecap="round" fill="none"/>
<path d="M127.2 206.9h0M132.0 205.2h0M125.5 201.6h0M113.7 206.0h0M106.4 202.1h0M123.4 204.3h0M103.4 205.9h0" stroke="#f0c4c8" stroke-width="1.80" stroke-linecap="round" fill="none"/>
<path d="M159.8 204.2h0M146.8 204.0h0M101.1 209.8h0M128.4 209.5h0M53.7 216.4h0M93.8 217.7h0M102.3 202.0h0M130.7 207.4h0M101.1 201.1h0M62.2 214.2h0M120.9 216.4h0M81.9 216.6h0M119.2 206.6h0M95.4 214.2h0" stroke="#16aac8" stroke-width="1.80" stroke-linecap="round" fill="none"/>
<text x="219.6" y="197.1" font-size="16" font-weight="bold">f</text>
<text x="249.2" y="181.7" font-size="14.5"><tspan font-style="italic">Tac1-Tacr1</tspan> 3D Hotspots</text>
<polygon points="250.1,201.3 413.9,204.5 401.1,227.6 219.6,224.4" fill="#fff" stroke="#000" stroke-width="0.9" stroke-linejoin="round"/>
<polygon points="251.1,232.4 413.9,235.0 401.7,262.0 221.2,258.1" fill="#fff" stroke="#000" stroke-width="0.9" stroke-linejoin="round"/>
<polygon points="251.1,263.0 413.0,267.1 401.1,296.7 221.2,291.8" fill="#fff" stroke="#000" stroke-width="0.9" stroke-linejoin="round"/>
<polygon points="251.1,293.5 413.0,297.3 401.1,330.4 221.2,325.6" fill="#fff" stroke="#000" stroke-width="0.9" stroke-linejoin="round"/>
<path d="M304.4 208.1h0M282.3 206.1h0M304.0 206.9h0M305.1 208.4h0M270.9 205.1h0M291.7 208.5h0M316.3 209.9h0M302.0 206.7h0M317.2 208.1h0M281.0 206.1h0M287.0 205.7h0M310.4 207.8h0M314.1 208.7h0M268.6 204.9h0M272.4 206.2h0M287.7 207.2h0M306.8 206.4h0M315.4 206.7h0M289.5 206.6h0M313.2 207.6h0M315.8 207.9h0M302.7 208.4h0M310.0 208.7h0M300.8 208.4h0M287.0 205.8h0M303.6 207.4h0M269.2 205.6h0M272.2 204.3h0M298.3 206.3h0M274.7 203.7h0M315.8 209.0h0M316.8 210.6h0M313.9 209.2h0M317.3 209.6h0M306.9 205.9h0M268.0 204.3h0M307.4 206.5h0M301.0 208.0h0M265.0 203.8h0M307.7 207.9h0M279.4 205.3h0M291.2 207.2h0M300.1 208.3h0M317.1 208.0h0M302.7 205.6h0M263.4 203.5h0M296.7 205.8h0M264.0 203.7h0M265.4 206.9h0M305.0 207.9h0M313.7 206.7h0M268.6 206.0h0M262.0 204.2h0M320.9 210.1h0M310.8 207.4h0M301.8 207.1h0M269.5 204.5h0M270.0 203.8h0M277.5 206.4h0M298.6 205.9h0M290.2 206.0h0M274.9 205.0h0M280.5 206.2h0M264.5 203.5h0M312.7 206.2h0M305.7 209.0h0M273.3 204.4h0M307.2 208.3h0M310.3 204.8h0M268.9 205.0h0M304.0 205.6h0M306.6 207.3h0M315.0 206.8h0M295.3 206.7h0M295.6 207.4h0M285.9 206.4h0M282.6 206.3h0M283.8 205.6h0M262.9 203.0h0M287.6 205.4h0M276.9 205.3h0M316.3 209.3h0M281.8 206.3h0M310.5 208.5h0M302.7 205.9h0M284.6 207.7h0M312.2 207.4h0M297.2 206.5h0M288.7 206.3h0M305.3 208.1h0M299.6 207.3h0M315.9 207.8h0M295.8 207.0h0M315.8 207.5h0M274.9 206.2h0M280.0 206.2h0M272.5 203.8h0M317.2 207.9h0M297.5 207.4h0M297.9 206.0h0M264.4 205.1h0M271.7 206.2h0M313.9 207.9h0M295.8 208.5h0M271.0 205.9h0M314.8 208.6h0M269.7 205.5h0M284.9 204.6h0M288.9 207.2h0M313.4 209.1h0M277.1 204.9h0M301.3 207.6h0M270.2 203.9h0M301.9 207.4h0M274.2 205.8h0M301.5 207.0h0M303.1 207.3h0M277.3 207.1h0M293.7 207.2h0M278.8 206.3h0M308.0 205.8h0M313.2 207.4h0M264.8 204.9h0M292.9 205.0h0M287.0 209.0h0M305.6 207.6h0M318.9 210.5h0M268.5 203.7h0M313.5 208.4h0M274.0 202.0h0M299.1 206.0h0M279.0 206.8h0M264.2 203.5h0M271.8 205.8h0M276.7 206.4h0M299.8 206.8h0M312.9 208.3h0M275.5 205.0h0M294.0 204.1h0M290.1 206.6h0M263.0 204.6h0M297.0 206.1h0M279.5 203.9h0M267.9 202.7h0M286.1 207.1h0M280.7 205.9h0M285.7 206.5h0M293.5 206.1h0M308.8 208.0h0M316.9 206.2h0" stroke="#2ca02c" stroke-width="2.50" stroke-linecap="round" fill="none"/>
<path d="M383.7 206.4h0M372.1 207.6h0M340.7 207.2h0M360.7 207.2h0M380.8 205.2h0M392.0 207.1h0M384.1 205.9h0M357.2 209.0h0M364.6 206.4h0M354.4 207.3h0M391.8 207.8h0M361.2 206.1h0M370.4 207.7h0M392.5 205.8h0M340.0 210.3h0M336.8 206.8h0M370.1 206.9h0M371.7 208.3h0M341.3 209.0h0M376.6 205.5h0M395.5 206.6h0M349.7 207.1h0M369.1 206.6h0M369.5 206.2h0M359.9 207.5h0M397.6 205.0h0M354.0 206.4h0M386.0 208.3h0M378.6 207.3h0M385.9 206.2h0M335.1 207.0h0M366.5 206.8h0M356.1 205.6h0M359.3 207.4h0M337.1 208.2h0M371.4 207.8h0M364.5 208.3h0M388.8 206.3h0M354.0 207.0h0M399.2 206.0h0M388.7 206.9h0M357.2 208.2h0M399.7 204.2h0M348.6 207.9h0M352.6 208.0h0M353.5 206.4h0M373.2 208.6h0M379.4 205.8h0M364.6 207.5h0M364.5 206.8h0M391.5 205.3h0M387.6 206.7h0M351.8 204.7h0M341.8 207.9h0M356.9 207.2h0M389.1 208.5h0M355.6 208.1h0M396.9 205.5h0M337.4 207.5h0M399.1 206.2h0M359.3 207.4h0M397.2 206.7h0M396.4 207.8h0M356.8 206.3h0M396.8 205.9h0M388.7 206.8h0M396.3 207.4h0M372.5 208.6h0M378.0 208.2h0M338.6 207.0h0M345.0 209.4h0M385.9 207.2h0M398.6 205.9h0M350.7 207.2h0M381.7 205.1h0M360.1 206.6h0M347.2 207.5h0M369.2 206.9h0M394.6 206.8h0M360.7 206.8h0M334.9 208.9h0M342.7 209.6h0M391.1 206.2h0M334.4 206.6h0M358.6 207.5h0M348.5 206.1h0M348.5 208.4h0M341.2 208.9h0M398.9 207.2h0M365.6 208.1h0M379.8 208.5h0M346.7 208.5h0M364.1 207.0h0M383.0 206.0h0M341.8 206.7h0M364.4 207.5h0M373.9 207.3h0M363.6 206.6h0M399.2 206.1h0M348.1 206.4h0M349.7 204.1h0M360.3 207.0h0M377.3 206.5h0M357.0 207.4h0M353.4 207.8h0M376.3 206.4h0M334.2 208.1h0M363.1 207.5h0M376.0 208.9h0M361.8 207.1h0M374.5 206.8h0M385.8 206.8h0M355.6 206.7h0M336.2 209.2h0M388.1 207.8h0M359.3 207.2h0M364.1 207.2h0M394.5 205.0h0M344.3 208.2h0M378.1 206.3h0M352.2 207.0h0M335.1 208.7h0M339.5 207.6h0M388.3 206.7h0M341.2 206.0h0M386.2 206.2h0M335.7 209.0h0M388.4 206.6h0M390.9 207.2h0M334.6 207.9h0" stroke="#9467bd" stroke-width="2.50" stroke-linecap="round" fill="none"/>
<path d="M288.3 209.6h0M272.9 210.3h0M288.9 208.5h0M289.2 213.3h0M287.0 211.9h0M284.7 215.3h0M288.9 213.4h0M284.4 214.0h0M293.4 213.5h0M285.0 211.0h0M287.5 211.5h0M279.2 215.4h0M283.6 209.1h0M283.1 217.5h0M286.4 210.6h0M281.0 215.1h0M289.2 214.0h0M285.9 214.5h0M295.3 214.6h0M286.1 210.5h0M289.4 216.9h0M290.5 210.8h0M288.0 216.3h0M283.6 214.6h0M293.5 217.0h0M278.4 209.7h0M289.0 215.0h0M285.1 213.5h0M284.8 216.1h0M275.0 214.1h0M280.1 212.0h0M278.7 211.5h0M286.9 213.6h0M296.7 213.0h0M288.9 214.3h0M288.4 216.7h0M287.8 213.8h0M286.4 213.5h0M286.7 215.7h0M287.1 213.6h0M329.8 217.9h0M326.9 218.5h0M326.2 218.1h0M343.2 215.6h0M329.2 214.5h0M335.1 216.0h0M336.1 214.7h0M333.9 219.3h0M332.7 215.6h0M321.1 217.4h0M334.6 217.1h0M322.1 215.5h0M323.1 215.4h0M328.2 217.2h0M343.2 215.5h0M339.7 212.6h0M340.7 216.8h0M333.2 217.7h0M334.6 219.5h0M335.2 212.9h0M318.3 220.6h0M329.7 218.9h0M327.5 215.6h0M327.7 217.3h0M331.2 215.3h0M333.8 217.2h0M323.5 215.2h0M316.5 217.3h0M329.9 215.3h0M325.8 216.7h0M330.3 217.5h0M335.8 216.7h0M337.5 214.0h0M334.2 216.7h0M322.7 216.0h0M333.1 216.3h0M321.3 216.4h0M340.6 216.9h0M330.8 218.8h0M323.7 216.8h0M336.5 215.2h0M322.4 218.3h0M340.6 210.9h0M330.8 214.2h0M327.7 214.2h0M347.8 213.5h0M330.2 215.2h0M323.1 216.4h0M331.7 219.5h0M332.3 219.1h0M322.7 217.4h0M326.7 214.0h0M355.6 213.5h0M331.5 215.0h0M325.9 215.1h0M317.5 221.0h0M313.5 221.7h0M309.8 221.8h0M313.4 222.1h0M312.7 221.5h0M315.8 222.7h0M311.6 222.7h0M310.6 221.3h0M314.5 221.7h0M305.4 220.2h0M313.4 222.7h0M311.6 223.4h0M307.8 221.6h0M315.9 221.5h0M314.9 222.7h0M311.2 222.3h0M317.7 221.2h0M306.0 220.0h0M311.0 220.1h0M315.5 220.5h0" stroke="#1f77b4" stroke-width="2.50" stroke-linecap="round" fill="none"/>
<path d="M239.3 222.2h0M249.8 222.6h0M244.8 222.0h0M255.2 222.5h0M255.1 222.6h0M247.5 222.3h0M242.1 222.2h0M246.0 221.5h0M253.8 222.9h0M245.0 221.8h0M254.6 222.3h0M240.7 222.4h0M241.6 221.9h0M254.7 222.7h0" stroke="#bcbd22" stroke-width="2.50" stroke-linecap="round" fill="none"/>
<path d="M379.1 224.1h0M381.4 222.9h0M380.5 222.6h0M380.5 224.1h0M377.0 224.3h0M378.6 223.5h0M379.3 224.6h0M378.9 224.8h0M382.9 222.8h0M376.0 224.4h0" stroke="#17becf" stroke-width="2.50" stroke-linecap="round" fill="none"/>
<path d="M271.5 235.1h0M265.4 237.0h0M297.2 239.3h0M278.8 237.8h0M268.4 240.4h0M261.3 236.5h0M290.8 239.9h0M270.4 236.8h0M263.1 237.1h0M277.4 237.6h0M291.0 238.9h0M283.7 239.0h0M278.8 239.8h0M289.5 239.0h0M263.1 238.5h0M301.7 238.9h0M266.3 235.3h0M281.1 238.0h0M265.9 237.7h0M285.3 236.9h0M262.8 237.0h0M271.7 239.7h0M265.8 234.8h0M284.0 238.2h0M285.2 237.1h0M282.5 238.7h0M288.0 238.7h0M271.5 236.1h0M276.3 237.4h0M269.9 236.6h0M275.5 238.3h0M301.3 238.8h0M284.6 239.4h0M290.8 238.8h0M273.1 236.4h0M279.9 237.4h0M270.9 237.4h0M270.2 236.1h0M275.6 239.8h0M298.3 238.8h0M263.8 236.8h0M295.9 238.1h0M279.0 237.4h0M276.1 236.1h0M285.3 238.8h0M272.2 237.8h0M285.0 237.6h0M298.1 239.4h0M271.4 238.1h0M281.5 238.1h0M268.7 236.4h0M281.3 237.2h0M265.3 237.4h0M285.1 237.3h0M261.6 237.5h0M285.9 238.5h0M297.8 239.0h0M290.9 237.6h0M287.5 238.0h0M280.2 237.1h0M267.4 235.9h0M261.9 237.4h0M299.4 237.8h0M265.0 236.8h0M274.9 238.7h0M262.5 235.6h0M298.1 238.7h0M295.5 238.4h0M281.9 238.9h0M268.7 237.1h0M297.5 239.2h0M288.0 237.3h0M271.6 238.4h0M270.7 238.5h0M288.3 238.9h0M300.7 241.2h0M274.0 238.2h0M296.7 238.7h0M289.4 237.8h0M287.9 238.4h0M289.8 239.3h0M295.4 238.5h0M289.6 238.7h0M284.1 238.4h0M263.7 236.8h0M288.3 240.3h0M272.8 236.0h0M285.8 237.5h0M294.4 238.5h0M295.4 240.1h0M276.7 238.8h0M288.5 238.7h0M297.5 239.5h0M288.6 238.3h0M271.7 239.1h0M276.0 236.8h0M300.7 240.6h0M265.2 237.4h0M282.4 237.6h0M275.7 240.3h0M263.7 235.1h0M264.5 236.5h0M276.3 238.5h0M283.3 236.4h0M275.3 237.8h0M287.4 238.1h0M264.5 236.4h0M280.7 237.9h0M287.6 239.0h0M291.8 240.3h0M301.1 237.6h0M299.7 237.9h0M295.0 237.5h0M288.6 239.4h0M274.9 236.2h0M273.1 237.5h0M263.4 237.3h0M299.6 240.1h0M295.4 238.7h0M277.8 238.6h0M271.8 237.3h0M267.1 238.2h0M293.6 239.0h0M300.0 241.0h0M262.7 236.4h0M270.9 238.4h0M278.4 238.5h0M282.1 240.8h0M269.2 238.3h0M275.4 237.4h0M278.7 242.7h0M274.9 242.1h0M277.7 242.6h0M276.4 241.7h0M276.3 241.8h0M279.0 242.1h0" stroke="#2ca02c" stroke-width="2.50" stroke-linecap="round" fill="none"/>
<path d="M341.6 241.1h0M345.9 239.6h0M394.0 238.7h0M346.5 241.6h0M372.2 240.9h0M378.0 239.3h0M377.1 238.9h0M358.5 239.4h0M376.9 239.7h0M390.7 238.8h0M367.8 239.9h0M342.3 239.5h0M398.1 237.3h0M396.4 237.6h0M343.6 240.3h0M374.3 238.2h0M362.4 240.6h0M352.9 241.5h0M372.2 238.5h0M371.9 240.9h0M347.4 239.3h0M356.0 240.4h0M368.7 238.6h0M345.9 242.1h0M349.2 240.0h0M339.3 239.6h0M340.3 241.0h0M359.3 239.3h0M368.4 239.8h0M372.0 239.7h0M347.2 239.6h0M358.5 238.9h0M348.0 240.7h0M344.7 240.4h0M335.8 242.2h0M375.2 238.8h0M369.7 239.4h0M366.4 239.1h0M388.8 238.3h0M361.4 240.2h0M348.4 239.7h0M378.9 237.6h0M396.5 239.2h0M361.0 238.5h0M384.1 237.9h0M395.1 237.4h0M356.7 238.5h0M389.6 237.1h0M360.3 238.3h0M369.7 239.0h0M334.7 241.1h0M390.5 239.2h0M349.4 241.5h0M378.2 239.4h0M371.1 238.7h0M369.1 239.4h0M380.1 239.6h0M395.3 236.6h0M357.5 240.1h0M370.3 237.8h0M346.1 238.6h0M365.9 238.9h0M355.3 239.7h0M363.3 241.4h0M359.6 240.0h0M365.8 238.4h0M377.6 238.8h0M397.4 238.9h0M397.3 238.1h0M348.1 241.9h0M368.5 239.4h0M367.9 240.0h0M393.4 238.2h0M373.9 239.8h0M377.3 239.5h0M354.4 238.6h0M393.8 237.5h0M346.0 238.6h0M337.8 241.2h0M365.3 238.5h0M383.2 237.7h0M374.4 239.7h0M368.9 238.7h0M389.6 238.9h0M390.5 238.0h0M398.0 238.3h0M348.1 240.7h0M344.7 240.3h0M342.0 240.9h0M364.6 240.7h0M367.5 238.9h0M346.2 239.4h0M371.0 239.0h0M355.2 240.6h0M374.1 240.4h0M371.9 238.7h0M389.2 238.1h0M349.6 239.2h0M381.4 238.3h0M353.8 239.8h0M374.9 238.4h0M355.1 240.0h0M384.0 239.0h0M350.8 239.7h0M347.7 242.4h0M358.6 238.6h0M351.7 240.0h0M395.4 237.5h0M367.5 239.3h0M353.7 239.3h0M339.2 238.9h0M353.8 238.0h0M393.1 238.8h0M350.6 238.7h0M365.5 238.4h0M400.3 237.3h0M382.3 237.6h0M366.6 239.3h0M351.8 238.5h0M379.8 237.5h0M371.8 238.9h0M363.6 239.4h0M365.2 239.8h0M389.3 238.6h0M386.9 237.7h0M395.1 238.6h0M396.0 237.4h0M341.7 240.6h0M341.1 240.0h0M397.1 237.2h0M380.7 239.7h0M339.4 239.2h0M372.2 238.2h0M342.1 242.0h0M371.4 239.6h0M365.5 239.4h0M364.4 241.0h0M342.5 238.8h0M353.3 239.1h0M373.7 240.7h0" stroke="#9467bd" stroke-width="2.50" stroke-linecap="round" fill="none"/>
<path d="M314.8 252.5h0M312.9 248.8h0M311.3 249.7h0M325.0 244.0h0M326.1 253.2h0M314.4 243.7h0M318.2 245.6h0M304.5 244.1h0M318.0 243.0h0M324.4 247.5h0M314.7 249.8h0M309.0 248.1h0M305.6 245.7h0M321.0 245.3h0M315.2 248.0h0M327.8 249.5h0M319.6 245.9h0M304.9 250.5h0M330.5 241.5h0M322.8 246.4h0M321.5 247.2h0M314.6 246.5h0M315.8 249.2h0M314.1 245.2h0M321.1 248.0h0M319.4 247.2h0M327.4 249.1h0M317.7 246.0h0M321.2 242.1h0M312.1 244.9h0M317.4 245.6h0M335.1 248.2h0M319.2 251.7h0M316.1 245.8h0M325.6 248.4h0M323.2 249.3h0M313.3 245.0h0M310.5 246.7h0M323.8 244.0h0M312.0 243.4h0M331.5 248.4h0M317.8 243.7h0M308.2 245.0h0M316.3 243.5h0M314.3 249.3h0M316.2 246.7h0M300.0 245.9h0M315.0 244.9h0M305.4 246.3h0M308.2 245.2h0M303.8 246.3h0M323.1 244.5h0M318.6 243.0h0M320.5 247.8h0M313.1 248.6h0M309.3 246.6h0M329.0 246.4h0M307.4 249.2h0M320.2 245.9h0M302.1 242.1h0M304.4 250.0h0M318.3 244.5h0M324.9 249.9h0M309.6 247.6h0M303.4 247.4h0M330.0 243.2h0M316.5 245.0h0M315.4 246.7h0M318.2 248.6h0M320.0 248.9h0M306.9 251.6h0M300.4 250.6h0M301.6 248.8h0M310.6 250.4h0M303.2 246.9h0M302.1 251.1h0M302.3 249.2h0M308.7 249.5h0M301.8 249.9h0M302.1 251.5h0M305.2 249.9h0M301.7 249.7h0M309.5 249.6h0M305.5 247.7h0M304.3 251.0h0M340.1 249.0h0M336.8 249.0h0M339.2 251.5h0M335.0 247.3h0M336.9 248.3h0M337.1 249.6h0M334.8 247.9h0M335.5 246.7h0M335.4 247.2h0M336.2 248.7h0M333.0 246.7h0M334.3 247.5h0M333.4 249.5h0M338.6 246.6h0M338.5 250.5h0" stroke="#1f77b4" stroke-width="2.50" stroke-linecap="round" fill="none"/>
<path d="M250.1 246.2h0M259.0 246.3h0M253.1 246.5h0M259.3 247.1h0M260.4 247.9h0M258.5 246.6h0M256.3 246.1h0M249.9 245.9h0M253.7 246.8h0M253.7 245.2h0" stroke="#17becf" stroke-width="2.50" stroke-linecap="round" fill="none"/>
<path d="M283.5 268.0h0M286.2 266.7h0M280.6 270.7h0M290.6 268.1h0M266.1 266.9h0M304.2 268.3h0M288.9 268.2h0M309.2 269.5h0M271.0 268.5h0M296.4 268.6h0M284.9 267.0h0M306.3 270.9h0M261.2 266.1h0M264.0 268.0h0M304.0 270.4h0M300.8 271.1h0M306.8 270.6h0M268.2 268.6h0M296.2 268.7h0M307.0 270.8h0M260.9 267.1h0M267.6 266.9h0M275.1 267.7h0M263.1 268.2h0M281.3 269.0h0M279.4 268.2h0M270.4 268.2h0M308.1 269.5h0M286.6 271.1h0M295.3 268.7h0M281.9 268.2h0M289.1 269.4h0M308.9 270.9h0M298.2 267.8h0M279.6 267.5h0M291.6 269.0h0M269.1 269.0h0M262.2 266.7h0M308.2 269.6h0M302.7 269.3h0M303.8 270.2h0M292.8 268.5h0M264.4 267.0h0M295.0 270.5h0M308.5 272.1h0M307.8 269.0h0M281.2 268.5h0M264.6 267.9h0M304.4 271.6h0M289.4 267.4h0M295.5 269.5h0M288.3 270.7h0M262.8 266.4h0M280.2 267.5h0M308.9 272.3h0M307.2 269.8h0M270.8 266.4h0M299.0 268.7h0M294.8 269.0h0M283.8 268.7h0M308.9 270.5h0M283.0 268.9h0M272.3 269.3h0M307.1 270.1h0M289.0 269.0h0M261.2 268.1h0M277.9 268.0h0M302.8 267.9h0M284.1 268.6h0M266.8 267.6h0M283.9 269.4h0M306.1 270.7h0M266.2 266.0h0M269.3 267.3h0M268.7 268.2h0M267.7 269.4h0M277.6 268.0h0M272.3 269.7h0M265.5 265.3h0M308.8 269.8h0M284.7 269.1h0M272.9 266.3h0M267.4 267.8h0M306.4 268.7h0M308.4 270.0h0M273.7 269.3h0M289.3 268.7h0M286.7 270.2h0M308.1 270.4h0M267.8 266.3h0M301.5 267.2h0M288.3 267.2h0M300.2 270.0h0M307.2 270.9h0M306.1 267.7h0M290.7 267.5h0M272.6 268.6h0M283.6 269.4h0M273.9 270.1h0M291.3 267.0h0M281.9 268.7h0M278.7 265.9h0M275.5 267.2h0M261.0 265.3h0M278.0 268.0h0M276.8 265.9h0M268.3 266.8h0M274.0 268.8h0M286.8 269.1h0M291.8 267.4h0M280.5 268.1h0M268.0 267.6h0M286.7 270.0h0M262.4 267.6h0M305.1 270.5h0M285.0 268.1h0M293.1 268.4h0M306.5 271.3h0M277.4 267.1h0M308.4 269.0h0M286.7 268.3h0M286.7 268.0h0M277.1 267.0h0M279.2 266.1h0M278.5 268.0h0M302.0 270.6h0M280.1 267.7h0M308.1 270.1h0M281.7 268.5h0M290.2 270.5h0" stroke="#2ca02c" stroke-width="2.50" stroke-linecap="round" fill="none"/>
<path d="M318.8 275.2h0M329.8 276.6h0M320.1 278.6h0M328.4 278.2h0M323.9 278.7h0M322.0 274.2h0M325.0 273.6h0M333.2 277.7h0M314.1 276.6h0M330.6 275.6h0M327.8 275.2h0M324.6 276.1h0M328.2 274.5h0M317.7 276.9h0M321.7 277.3h0M321.8 273.8h0M329.9 276.8h0M329.8 275.7h0M322.7 278.7h0M314.0 279.6h0M328.4 276.2h0M325.6 277.4h0M320.0 276.8h0M318.8 272.8h0M326.3 276.5h0M329.3 277.4h0M329.6 277.8h0M318.1 278.6h0M342.5 275.2h0M316.8 277.6h0M331.0 278.2h0M335.1 273.7h0M327.5 277.2h0M333.2 274.6h0M325.2 275.6h0M324.0 276.0h0M324.0 272.9h0M324.8 276.4h0M322.5 269.5h0M320.5 275.1h0M319.3 279.4h0M331.1 275.9h0M329.0 282.6h0M318.7 277.2h0M321.1 279.1h0M332.3 276.1h0M329.0 274.8h0M314.7 277.9h0M335.7 275.7h0M321.6 272.9h0M339.1 274.0h0M318.7 275.9h0M332.9 276.4h0M324.9 276.3h0M330.6 276.2h0M326.1 276.2h0M317.8 278.9h0M320.5 273.8h0M322.2 276.4h0M330.4 273.5h0M316.7 276.6h0M327.5 274.2h0M317.6 276.6h0M324.1 273.2h0M319.3 279.1h0M318.1 278.3h0M315.0 279.1h0M335.5 275.1h0M320.6 277.5h0M316.9 277.4h0M333.0 276.8h0M327.1 276.0h0M331.6 274.7h0M335.4 276.3h0M322.9 273.2h0M322.1 276.8h0M333.1 273.2h0M324.2 275.0h0M317.2 276.3h0M320.0 278.0h0M307.4 277.7h0M312.6 272.6h0M328.4 275.7h0M325.8 274.5h0M318.2 274.9h0M324.6 274.7h0M322.3 274.7h0M326.5 274.1h0M311.4 271.3h0M324.9 276.5h0" stroke="#ff7f0e" stroke-width="2.50" stroke-linecap="round" fill="none"/>
<path d="M288.8 279.1h0M288.3 279.0h0M291.1 279.6h0M287.6 279.9h0M276.5 281.1h0M289.7 280.1h0M286.3 279.2h0M275.3 279.5h0M276.8 280.5h0M274.4 280.2h0M278.5 280.1h0M267.7 282.1h0M272.0 280.9h0M274.3 280.3h0M300.6 278.0h0M300.2 281.3h0M304.1 279.1h0M295.0 279.7h0M291.6 279.8h0M312.8 281.3h0M297.6 279.8h0M309.0 278.9h0M300.5 280.9h0M297.7 279.7h0M293.4 279.5h0M306.9 283.6h0M299.7 282.3h0M303.1 281.2h0M300.4 283.2h0M303.6 280.6h0M299.9 282.7h0M298.3 279.7h0M299.8 280.1h0M306.7 281.6h0M300.6 280.0h0M307.4 281.8h0M335.5 285.6h0M321.7 283.8h0M321.3 284.7h0M327.8 285.1h0M332.5 282.7h0M323.2 282.8h0M316.8 283.8h0M319.1 283.3h0M313.9 285.9h0M321.1 285.7h0M316.3 281.7h0M319.4 285.6h0M319.6 285.0h0M316.5 286.2h0M325.6 285.8h0M321.3 286.0h0M323.4 283.9h0M319.1 284.6h0M317.5 283.1h0M323.8 285.4h0M321.2 285.5h0M332.5 283.0h0M324.5 283.3h0M319.1 284.7h0M308.7 285.2h0M328.0 285.2h0M326.9 286.7h0M320.8 285.8h0M331.7 285.1h0M312.3 284.3h0" stroke="#1f77b4" stroke-width="2.50" stroke-linecap="round" fill="none"/>
<path d="M373.0 269.7h0M364.4 270.5h0M376.8 269.2h0M367.1 271.1h0M374.1 270.6h0M371.5 270.7h0M368.4 270.4h0M365.1 270.3h0M368.4 269.2h0M374.7 271.4h0M369.7 270.4h0M374.3 270.5h0M374.6 269.8h0M372.5 269.0h0M360.9 271.2h0M371.5 270.6h0M362.7 271.7h0M368.1 270.6h0M369.5 270.9h0M361.3 271.5h0M362.7 270.8h0M373.5 269.8h0M361.5 270.7h0M371.7 269.4h0M376.5 271.4h0M377.1 269.2h0M366.9 270.4h0M366.8 270.8h0M364.4 272.3h0M364.8 272.6h0M372.2 270.6h0M366.3 272.7h0M368.0 270.4h0M361.0 270.6h0M373.8 269.9h0M373.7 271.4h0M371.1 269.7h0M366.5 269.2h0M372.5 270.6h0M373.8 270.7h0M361.0 270.6h0M373.8 271.8h0M372.9 270.6h0M366.9 269.4h0M376.0 270.4h0" stroke="#9467bd" stroke-width="2.50" stroke-linecap="round" fill="none"/>
<path d="M266.0 296.7h0M268.1 296.8h0M268.9 299.2h0M266.6 298.0h0M265.6 299.5h0M261.5 297.5h0M269.0 299.5h0M265.9 297.0h0M268.7 296.9h0M259.6 298.4h0M260.0 296.7h0M263.7 296.1h0M266.6 298.1h0M270.5 297.5h0M260.0 297.1h0M260.1 296.8h0M267.2 297.4h0M269.7 297.9h0M270.0 297.1h0M268.8 297.4h0M259.4 298.2h0M263.3 298.3h0M260.3 297.4h0M267.3 299.6h0M259.7 296.4h0M260.7 296.6h0M266.0 298.5h0M267.9 297.5h0M262.8 297.3h0M263.7 297.5h0M259.8 298.2h0M263.9 298.4h0M260.4 298.0h0M267.5 298.5h0M259.6 298.1h0M282.0 298.6h0M283.5 298.4h0M291.0 299.2h0" stroke="#2ca02c" stroke-width="2.50" stroke-linecap="round" fill="none"/>
<path d="M277.4 304.0h0M281.8 304.1h0M269.3 303.5h0M280.7 304.2h0M281.4 304.8h0M276.5 304.5h0M272.8 302.6h0M277.8 304.9h0M281.0 304.8h0M276.5 304.0h0M276.9 304.3h0M280.2 304.7h0M272.1 302.7h0M274.0 305.1h0M276.9 303.6h0M281.3 305.4h0M279.1 305.8h0M272.7 303.6h0M282.3 303.3h0M272.2 304.2h0M278.2 305.0h0M270.4 303.8h0M269.9 304.1h0M275.4 303.5h0M278.3 303.8h0" stroke="#8c564b" stroke-width="2.50" stroke-linecap="round" fill="none"/>
<path d="M334.5 305.5h0M332.4 304.7h0M329.5 303.5h0M317.2 303.3h0M315.6 300.6h0M339.7 299.5h0M336.8 304.0h0M344.6 304.2h0M324.3 306.4h0M305.0 303.9h0M344.8 307.2h0M318.9 301.9h0M317.0 305.7h0M311.5 306.4h0M309.7 305.7h0M329.3 303.8h0M352.0 305.1h0M333.0 308.3h0M319.5 305.4h0M337.6 304.7h0M323.0 304.1h0M335.0 304.6h0M339.4 302.0h0M325.5 306.7h0M311.0 306.2h0M323.8 306.5h0M317.9 304.5h0M309.5 306.1h0M322.3 304.5h0M317.7 306.8h0M327.2 306.7h0M316.3 303.7h0M335.2 308.6h0M347.9 306.4h0M337.6 306.1h0M315.2 303.9h0M310.0 301.3h0M324.4 305.2h0M333.0 308.8h0M311.0 302.4h0M318.5 305.7h0M320.8 301.8h0M331.6 303.8h0M316.7 307.3h0M336.3 303.1h0M327.2 303.5h0M319.7 303.0h0M322.8 302.8h0M329.4 306.1h0M323.1 301.1h0M335.7 303.3h0M344.3 306.1h0M325.3 308.0h0M314.1 304.7h0M333.7 304.8h0M325.9 302.1h0M340.7 301.8h0M295.3 303.2h0M337.1 304.5h0M322.4 304.3h0M330.3 303.6h0M318.3 303.7h0M316.9 306.2h0M324.3 305.8h0M318.3 301.8h0M351.9 307.4h0M332.1 305.5h0M323.9 306.6h0M302.3 304.8h0M337.6 306.2h0M320.0 303.3h0M318.7 306.4h0M340.5 302.0h0M321.9 304.6h0M313.3 307.7h0M316.0 305.4h0M324.0 304.0h0M316.0 301.8h0M334.7 306.0h0M331.3 303.2h0M316.0 304.1h0M315.6 303.8h0M312.0 308.7h0M311.9 297.0h0M319.7 306.6h0M311.3 307.8h0M314.8 307.0h0M332.1 307.0h0M323.0 309.3h0M307.8 308.5h0M316.8 303.7h0M301.9 302.9h0M318.9 300.7h0M312.0 303.3h0M339.2 307.7h0M315.9 302.0h0M319.8 308.0h0M316.5 304.2h0M344.9 304.3h0M316.9 300.7h0M322.4 302.5h0M349.0 303.2h0M320.4 302.4h0M322.6 304.5h0M341.9 301.8h0M315.8 303.1h0M326.8 304.1h0M319.2 305.5h0M318.0 303.2h0M307.6 301.6h0M321.4 305.1h0M346.8 304.8h0M314.4 305.0h0M331.0 304.7h0M349.4 304.5h0M335.3 305.1h0M311.8 305.0h0M328.7 307.6h0M305.6 299.6h0M333.7 305.5h0M333.3 305.6h0M326.6 305.0h0M329.1 302.8h0M325.3 300.5h0M326.7 304.0h0M307.6 302.3h0M315.9 302.3h0M307.7 306.3h0M316.0 304.1h0M313.6 304.6h0M332.3 307.5h0M334.1 301.7h0M337.2 304.6h0M326.6 303.3h0M309.3 304.4h0M316.4 304.1h0M343.1 304.9h0M333.5 307.1h0M308.6 304.0h0M348.6 308.3h0M325.7 300.0h0M333.0 307.7h0M313.7 306.9h0M322.4 302.4h0M337.2 303.7h0M308.9 305.2h0M339.6 308.3h0M314.6 308.5h0M329.5 305.4h0M319.1 303.6h0M319.2 305.0h0M323.1 300.9h0M323.7 303.4h0M339.9 305.3h0M341.2 306.2h0M301.6 303.0h0M332.7 301.6h0M332.1 302.2h0M325.0 305.3h0M321.3 301.4h0M317.1 302.6h0M302.3 305.9h0M321.7 305.3h0M343.8 303.4h0M351.5 300.6h0M320.1 305.0h0M313.2 304.6h0M311.3 307.0h0M326.0 310.3h0M328.1 306.2h0M319.8 310.0h0M317.4 309.9h0M313.3 311.5h0M318.2 313.0h0M328.6 309.8h0M318.6 311.0h0M310.4 311.5h0M305.8 309.9h0M325.6 310.7h0M317.6 312.0h0M322.6 311.3h0M318.0 309.8h0M320.5 312.2h0M323.7 309.7h0M322.1 311.6h0M319.2 313.0h0M313.3 311.4h0M321.0 310.1h0M304.7 311.9h0M315.8 312.2h0M315.3 309.9h0M314.4 309.9h0M321.1 309.5h0M317.0 309.3h0M316.4 309.7h0M320.8 311.7h0M317.6 311.0h0M318.7 309.3h0M310.3 311.0h0M320.4 311.1h0" stroke="#ff7f0e" stroke-width="2.50" stroke-linecap="round" fill="none"/>
<path d="M391.4 301.0h0M384.2 300.5h0M379.6 301.7h0M391.4 300.8h0M399.7 299.3h0M390.6 300.6h0M381.6 300.0h0M385.1 300.6h0M385.6 300.5h0M392.3 301.8h0M374.9 300.4h0M367.4 300.6h0M374.1 302.1h0M391.3 300.8h0M373.5 300.6h0M391.9 299.8h0M386.5 301.6h0M388.1 301.8h0M371.3 301.1h0M397.2 299.8h0M390.5 300.0h0M389.6 299.4h0M374.5 300.8h0M382.2 299.8h0M377.8 301.6h0M382.9 301.3h0M391.6 300.7h0M379.8 300.4h0M382.3 301.0h0M395.1 300.9h0M397.3 301.0h0M369.9 302.2h0M394.5 298.8h0M374.1 301.3h0M387.7 300.4h0M390.3 301.6h0M380.7 302.0h0M372.5 300.0h0M380.5 301.1h0M370.6 300.6h0M384.9 301.2h0M371.6 300.4h0M371.4 301.0h0M374.1 302.1h0M393.6 300.8h0M390.1 299.9h0M381.2 301.3h0M395.4 302.0h0M394.6 300.2h0M380.6 300.4h0M374.9 301.3h0M384.8 301.4h0M387.9 301.9h0M395.4 300.6h0M385.3 301.1h0" stroke="#9467bd" stroke-width="2.50" stroke-linecap="round" fill="none"/>
<path d="M377.7 319.3h0M366.8 315.2h0M378.1 323.9h0M368.8 319.6h0M365.5 318.0h0M374.5 316.0h0M375.1 319.0h0M361.1 313.5h0M370.4 313.9h0M373.7 319.7h0M375.6 323.5h0M375.2 322.0h0M362.9 323.3h0M383.2 319.7h0M380.7 319.2h0M370.9 314.1h0M372.0 321.3h0M379.9 323.6h0M373.0 324.3h0M369.3 312.2h0M370.7 319.0h0M379.3 315.0h0" stroke="#1f77b4" stroke-width="2.50" stroke-linecap="round" fill="none"/>
<path d="M247.5 322.0h0M266.3 321.5h0M259.0 321.5h0M269.2 321.7h0M260.4 321.1h0M268.3 321.8h0M259.1 322.5h0M256.4 321.7h0M262.5 321.6h0M268.0 322.2h0M251.2 321.3h0M255.9 322.8h0M254.1 321.8h0M247.9 322.9h0M267.3 321.9h0M257.0 321.6h0M269.9 322.4h0M247.2 321.3h0M264.0 321.4h0M269.3 321.2h0M265.0 321.5h0M256.1 321.2h0M267.6 321.9h0M250.7 323.7h0M253.7 321.5h0M260.1 322.0h0M250.3 320.8h0M268.9 323.2h0" stroke="#d62728" stroke-width="2.50" stroke-linecap="round" fill="none"/>
<path d="M404.3 218.4H439.4" stroke="#222" stroke-width="0.7"/>
<rect x="423.3" y="180.5" width="257.2" height="374.5" fill="none" stroke="#333" stroke-width="0.9"/>
<text x="424.0" y="196.2" font-size="16" font-weight="bold">g</text>
<text x="438.2" y="191.5" font-size="10.85">Tac1-Tacr1 hotspots</text>
<path d="M439.5 207.5Q439.5 205.5 442.5 205.5L479 205.5L487.5 228L496 205.5L531.5 205.5Q534.5 205.5 534.5 207.5L534.5 297.8Q534.5 299.8 531.5 299.8L442.5 299.8Q439.5 299.8 439.5 297.8Z" fill="#d3d3d3"/>
<path d="M481.4 240.8h0M525.0 282.4h0M503.6 233.3h0M450.5 223.8h0M465.0 224.7h0M493.6 235.9h0M460.5 287.7h0M474.8 207.3h0M441.4 257.8h0M443.3 258.3h0M442.9 250.2h0M498.1 256.7h0M460.6 284.1h0M530.9 281.9h0M527.2 296.4h0M474.7 257.0h0M479.0 279.4h0M456.1 227.8h0M482.4 257.1h0M532.7 237.9h0M440.9 242.7h0M522.0 215.8h0M488.7 262.2h0M518.5 237.1h0M497.0 294.6h0M530.9 259.0h0M472.0 266.8h0M508.4 269.6h0M503.3 242.4h0M507.1 239.4h0M462.1 216.2h0M492.0 222.7h0M466.7 234.4h0M475.1 245.3h0M531.1 255.4h0M491.6 243.8h0M491.4 281.9h0M489.1 254.1h0M473.2 224.0h0M460.3 215.2h0M467.0 210.7h0M479.2 259.7h0M451.2 276.5h0M482.5 264.4h0M480.5 280.1h0M503.7 218.1h0M491.5 231.4h0M509.9 241.1h0M461.3 210.1h0M532.2 218.0h0M463.9 292.6h0M445.2 244.8h0M480.8 269.6h0M513.3 296.7h0M470.1 214.8h0M460.5 207.5h0M465.5 264.1h0M523.7 216.1h0M465.4 288.8h0M495.1 243.8h0M447.2 212.2h0M460.7 263.7h0M445.9 253.2h0M516.6 207.2h0M467.2 245.0h0M497.2 274.7h0M503.6 246.9h0M471.9 264.6h0M483.3 292.5h0M489.7 260.9h0M502.4 251.4h0M486.3 268.1h0M496.3 298.9h0M468.9 252.5h0M531.1 281.9h0M492.0 235.0h0M457.1 245.3h0M480.2 246.8h0M464.3 251.2h0M493.9 216.4h0M501.8 272.3h0M458.7 229.9h0M444.1 250.4h0M503.3 244.9h0M495.3 262.7h0M444.6 211.9h0M487.7 292.1h0M506.2 248.0h0M464.6 219.1h0M500.6 277.3h0M477.0 214.8h0M466.3 272.1h0M512.2 243.8h0M523.0 242.9h0M442.7 225.8h0M523.3 271.9h0M448.6 233.3h0M477.2 251.3h0M442.9 291.8h0M489.9 231.3h0M443.4 259.5h0M527.3 273.1h0M520.4 287.4h0M502.4 212.3h0M469.4 260.5h0M479.2 227.0h0M446.8 286.6h0M502.5 234.5h0M484.2 287.3h0M453.9 264.9h0M462.2 290.2h0M514.9 294.2h0M476.1 253.7h0M470.4 239.3h0M529.2 296.2h0M533.0 290.6h0M486.0 267.8h0M524.9 246.6h0M525.9 280.3h0M466.9 240.1h0M504.7 222.1h0M464.3 224.8h0M450.4 290.6h0M533.3 282.5h0M487.4 275.6h0M504.4 247.6h0M463.0 238.6h0M473.7 267.6h0M463.0 228.9h0M521.8 278.9h0M527.2 278.7h0M458.6 251.9h0M518.1 281.2h0M461.7 251.4h0M495.3 208.0h0M463.2 275.2h0M502.5 248.1h0M493.6 255.5h0M472.7 214.8h0M509.5 278.1h0M480.9 277.8h0M517.5 270.6h0M515.7 295.9h0M444.2 293.7h0M482.6 278.6h0M509.0 216.1h0M495.0 215.2h0M508.6 238.2h0M475.5 232.1h0M515.8 266.0h0M468.3 275.2h0M457.7 280.8h0M496.7 277.5h0M497.8 297.7h0M505.1 249.7h0M495.4 259.2h0M467.0 235.2h0M514.8 282.3h0M530.3 270.1h0M487.4 243.3h0M506.1 266.7h0M528.2 275.8h0M476.2 232.6h0M444.7 278.8h0M480.3 243.3h0M445.4 252.6h0M524.0 232.5h0M509.6 276.8h0M501.9 261.8h0M463.7 269.1h0M494.9 296.0h0M488.4 239.6h0M524.8 264.5h0M472.2 266.8h0M454.7 224.4h0M522.7 249.6h0M515.1 226.8h0M484.3 228.8h0M515.1 261.9h0M477.1 242.4h0M460.1 226.4h0M504.7 235.7h0M450.2 242.5h0M482.6 297.9h0M476.3 244.1h0M530.9 273.3h0M483.2 243.6h0M461.5 221.0h0M484.4 265.9h0M450.3 250.8h0M456.6 262.4h0M472.5 268.3h0M513.3 244.2h0M476.1 214.3h0M460.2 264.2h0M515.5 219.8h0M531.3 291.1h0M474.5 256.6h0M503.0 237.3h0M474.6 273.4h0M485.6 247.2h0M492.8 217.7h0M484.3 234.1h0M456.1 255.2h0M505.8 255.4h0M486.9 268.6h0M479.7 297.3h0M460.4 207.8h0M493.4 271.0h0M476.1 243.7h0M472.4 229.4h0M514.1 286.4h0M466.5 258.9h0M483.2 219.1h0M508.7 255.9h0M532.6 290.7h0M524.5 231.1h0M450.7 281.5h0M450.6 270.2h0M456.8 271.9h0M445.5 215.1h0M521.2 254.4h0M482.4 296.4h0M513.4 227.8h0M506.2 242.5h0M483.6 235.8h0M461.6 234.9h0M465.9 224.4h0M521.8 241.9h0M492.6 281.6h0M503.6 221.4h0M529.1 292.7h0M518.6 237.3h0M517.7 266.0h0M443.4 241.7h0M505.4 257.1h0M528.6 279.7h0M518.3 297.2h0M472.4 290.5h0M440.7 280.5h0M448.7 253.0h0M481.5 213.6h0M499.7 279.5h0M461.3 229.6h0M512.2 255.6h0M442.2 235.2h0M528.3 232.4h0M467.4 248.5h0M522.9 281.5h0M476.3 268.3h0M443.1 213.0h0M475.1 265.3h0M453.6 210.9h0M519.9 224.1h0M445.6 214.9h0M447.9 233.3h0M494.3 267.4h0M467.1 254.4h0M471.4 260.3h0M450.6 264.4h0M440.5 291.9h0M460.0 258.0h0M458.0 247.9h0M465.1 266.0h0M513.0 284.7h0M531.1 248.9h0M491.6 239.3h0M467.3 253.7h0M531.0 212.1h0M510.0 236.7h0M496.1 231.4h0M507.4 252.6h0M469.3 248.2h0M440.9 216.0h0M524.9 214.6h0M477.5 268.6h0M443.9 292.7h0M459.7 295.5h0M480.8 260.9h0M496.7 215.2h0M487.6 275.9h0M513.9 274.6h0M503.8 218.8h0M478.6 253.8h0M444.3 277.5h0M450.0 258.9h0M465.3 222.0h0M529.1 264.1h0M508.6 262.8h0M493.0 287.3h0M446.4 241.8h0M460.9 261.9h0M477.2 291.7h0M462.2 231.8h0M525.8 273.3h0M480.4 241.4h0M508.8 220.7h0M507.6 227.9h0M515.5 213.8h0M525.5 286.3h0M442.8 221.7h0M525.5 282.4h0M467.6 280.7h0M494.4 229.7h0M504.5 245.2h0M453.7 285.3h0M507.2 229.4h0M480.2 269.8h0M475.0 230.7h0M489.5 294.4h0M449.3 230.2h0M485.4 297.6h0M532.8 207.8h0M500.2 219.7h0M459.8 219.5h0M487.0 298.4h0M530.3 240.8h0M524.0 270.4h0M447.4 289.9h0" stroke="#f2f2f2" stroke-width="1.10" stroke-linecap="round" fill="none"/>
<path d="M457.6 229.2h0M475.7 235.1h0M455.8 216.6h0M468.2 228.6h0M468.9 219.5h0M476.9 228.7h0M470.3 224.3h0M467.4 218.4h0M472.9 224.6h0M449.9 215.3h0M464.0 225.7h0M475.2 223.6h0M464.5 222.1h0M468.6 220.3h0M464.9 226.4h0M474.2 233.7h0M477.0 219.3h0M464.6 220.0h0M473.9 227.6h0M468.3 226.3h0M461.7 226.0h0M480.3 234.8h0M460.7 221.0h0M473.2 230.1h0M458.4 222.4h0M471.3 228.5h0M462.4 220.8h0M449.5 213.3h0M462.7 219.9h0M464.1 220.7h0M466.6 223.8h0M460.9 219.5h0M464.3 224.0h0M470.4 224.2h0M461.7 213.9h0M454.4 217.9h0M455.2 223.2h0M465.3 221.1h0M465.6 220.6h0M460.4 220.0h0M453.2 216.1h0M466.8 219.9h0M474.2 229.3h0M476.5 226.5h0M457.3 213.2h0M455.7 209.4h0M480.4 229.6h0M468.6 222.4h0M462.0 227.0h0M452.7 211.3h0M468.7 221.0h0M469.7 230.4h0M472.4 229.8h0M462.8 225.2h0M461.1 215.4h0M464.2 221.0h0M478.3 226.3h0M477.3 226.5h0M458.0 211.6h0M468.2 218.5h0M467.7 224.2h0M465.9 215.2h0M460.7 221.7h0M449.3 216.0h0M467.1 221.5h0M466.6 226.0h0M467.2 220.6h0M474.0 225.0h0M467.4 227.8h0M474.5 234.4h0M474.6 228.6h0M463.9 222.6h0M465.3 234.6h0M473.1 223.9h0M481.9 226.0h0M476.9 224.3h0M457.4 216.0h0M465.9 217.6h0M471.5 225.8h0M479.4 226.8h0M449.1 215.9h0M462.3 224.8h0M447.9 207.4h0M463.4 229.3h0M458.7 211.1h0M459.6 224.9h0M482.1 227.0h0M463.9 214.4h0M460.4 215.9h0M467.7 228.6h0M472.7 227.8h0M463.7 229.4h0M469.3 231.3h0M467.1 227.1h0M470.6 225.3h0M460.7 218.3h0M466.8 221.9h0M464.3 219.2h0M473.8 226.6h0M465.4 221.8h0M478.3 228.1h0M479.7 227.6h0M478.1 232.6h0M461.0 221.9h0M477.5 225.9h0M463.5 222.8h0M464.7 221.1h0M465.6 224.1h0M470.1 231.4h0M458.1 230.2h0M460.1 226.7h0M467.4 218.0h0M462.8 219.8h0M478.8 222.4h0M460.8 219.4h0M471.0 227.5h0M473.7 226.9h0M461.9 225.4h0M480.2 232.9h0M468.9 221.3h0M483.5 234.9h0M474.2 221.4h0M467.0 233.3h0M465.0 221.6h0M479.6 230.2h0M469.9 233.1h0M457.4 214.6h0M471.7 226.8h0M466.7 222.7h0M466.5 224.7h0M462.4 219.8h0M469.9 221.0h0M473.7 218.7h0M471.7 225.9h0M453.5 221.1h0M452.3 223.3h0M457.6 223.0h0M462.6 227.5h0M462.3 225.0h0M466.5 215.8h0M468.5 226.4h0M466.5 230.1h0M462.2 215.0h0M469.4 222.2h0M465.1 222.5h0M457.1 222.2h0M461.9 227.8h0M466.3 227.5h0M476.5 226.9h0M475.7 225.8h0M478.8 230.4h0M474.1 223.1h0M475.4 223.0h0M474.9 223.6h0M481.5 228.2h0M474.6 227.3h0M476.7 230.0h0M479.6 232.2h0M474.0 230.9h0M479.5 228.4h0M485.0 230.0h0M477.6 232.9h0M477.1 230.0h0M476.8 230.8h0M478.0 229.6h0M482.3 226.6h0M478.5 229.0h0M485.2 234.3h0M473.4 228.9h0M476.8 225.5h0M475.2 229.4h0M480.9 234.1h0M478.2 229.2h0M476.5 232.1h0M475.1 231.2h0M473.6 227.1h0M479.5 232.4h0M478.5 228.4h0M469.7 223.8h0M473.8 226.1h0M484.8 231.1h0M480.7 231.0h0M472.1 226.6h0M481.7 228.2h0M472.4 225.4h0M480.9 229.4h0M478.3 231.0h0M476.5 230.0h0M482.7 231.6h0M479.7 227.5h0M474.0 227.1h0M481.3 229.5h0M469.9 227.7h0M472.3 226.8h0M480.2 228.1h0M477.2 232.2h0M475.0 230.0h0M481.0 241.0h0M478.0 240.5h0M472.0 249.0h0" stroke="#1f77b4" stroke-width="2.10" stroke-linecap="round" fill="none"/>
<path d="M519.9 212.1h0M514.8 215.2h0M531.2 215.7h0M520.0 209.8h0M515.9 215.5h0M505.8 220.6h0M520.6 210.4h0M516.3 215.2h0M534.5 212.7h0M525.8 213.7h0M511.7 221.9h0M512.8 211.1h0M525.0 212.4h0M520.6 217.2h0M518.8 217.5h0M529.2 211.0h0M517.4 216.5h0M524.3 212.5h0M519.8 213.1h0M520.1 217.5h0M513.8 217.1h0M508.4 217.2h0M521.2 217.0h0M512.3 217.9h0M513.6 219.0h0M522.5 216.2h0M516.8 211.4h0M514.3 212.7h0M515.0 217.1h0M527.2 210.5h0M514.6 218.2h0M507.2 227.5h0M509.9 222.9h0M528.4 216.0h0M520.1 218.2h0M518.6 219.5h0M514.3 214.6h0M522.3 213.0h0M523.9 210.9h0M520.8 211.6h0M521.8 222.7h0M510.7 214.4h0M508.0 219.0h0M531.4 209.7h0M526.6 212.4h0M517.8 223.7h0M525.7 206.7h0M513.4 219.4h0M524.5 213.0h0M523.0 216.4h0M518.6 219.7h0M514.7 220.2h0M526.9 213.7h0M517.5 216.4h0M504.1 222.2h0M507.2 212.8h0M524.5 210.5h0M522.7 214.7h0M506.1 217.3h0M518.6 217.7h0M519.0 211.2h0M516.3 217.2h0M510.2 217.5h0M513.5 210.1h0M533.6 213.7h0M517.7 219.8h0M514.2 223.2h0M517.5 216.9h0M515.9 217.3h0M522.5 214.7h0M514.9 220.2h0M524.1 214.0h0M526.8 210.3h0M529.1 211.6h0M530.5 210.0h0M518.4 216.9h0M529.7 217.3h0M515.8 214.4h0M527.0 217.5h0M524.7 212.6h0M529.3 212.0h0M522.0 217.1h0M513.2 209.7h0M522.5 217.2h0M523.8 216.1h0M522.4 218.4h0M522.6 220.0h0M521.3 217.9h0M516.4 217.9h0M523.3 214.8h0M531.3 211.5h0M528.6 213.7h0M526.9 209.7h0M518.5 219.6h0M514.5 218.9h0M524.4 214.6h0M523.8 216.1h0M518.8 217.5h0M515.7 215.4h0M508.4 219.4h0M507.7 220.1h0M520.3 211.4h0M520.9 216.3h0M516.4 213.5h0M519.7 217.1h0M529.0 219.3h0M506.1 221.8h0M522.4 212.3h0M524.8 221.4h0M522.5 219.6h0M527.2 211.2h0M504.6 225.4h0M529.1 205.7h0M517.7 213.8h0M521.6 215.2h0M527.6 210.5h0M532.0 204.8h0M524.8 223.6h0M520.0 217.8h0M520.5 227.5h0M526.1 212.0h0M506.3 221.3h0M522.9 206.9h0M517.1 218.6h0M502.3 221.3h0M506.9 215.4h0M524.3 218.1h0M527.7 210.3h0M521.6 208.4h0M509.9 221.2h0M515.9 213.3h0M506.1 219.7h0M513.7 221.9h0M505.3 218.6h0M521.9 219.0h0M521.6 221.6h0M519.7 215.2h0M523.6 215.5h0M508.0 216.4h0M518.7 217.2h0M510.2 216.4h0M515.0 218.6h0M517.6 218.6h0M521.7 211.5h0M516.4 212.2h0M521.8 217.9h0M510.7 212.4h0M523.4 213.2h0M520.3 217.1h0M523.9 217.5h0M514.1 209.5h0M516.1 215.8h0M517.5 217.9h0M519.7 220.4h0M515.4 217.2h0M519.9 223.4h0M511.9 214.8h0M518.1 219.0h0M519.9 214.9h0M506.9 212.6h0M518.2 215.3h0M533.3 212.0h0M524.3 217.5h0M512.0 213.9h0M519.1 221.3h0M526.5 211.0h0M512.0 221.9h0M526.7 209.0h0M530.8 208.7h0" stroke="#2ca02c" stroke-width="2.10" stroke-linecap="round" fill="none"/>
<path d="M480.5 264.4h0M491.2 239.0h0M480.1 262.4h0M485.1 259.3h0M488.2 241.1h0M494.0 232.2h0M490.8 236.4h0M479.4 257.6h0M490.6 242.3h0M486.3 259.5h0M486.4 235.7h0M491.7 236.5h0M490.7 229.7h0M483.8 262.9h0M482.9 256.5h0M480.5 260.5h0M488.9 235.5h0M487.4 245.4h0M481.5 244.7h0M491.4 231.9h0M486.5 250.1h0M478.2 258.0h0M485.9 253.4h0M484.4 263.6h0M489.0 245.1h0M482.6 258.8h0M486.8 249.4h0M482.7 262.1h0M491.2 240.1h0M477.5 261.0h0M487.7 247.6h0M490.5 246.3h0M485.8 248.8h0M483.5 256.4h0M488.9 236.7h0M475.8 253.1h0M476.2 265.8h0M477.7 265.6h0M481.0 263.5h0M480.8 271.0h0M482.8 255.7h0M477.2 264.9h0M482.1 266.5h0M486.3 262.9h0M476.9 266.5h0M477.7 263.2h0M477.3 265.6h0M487.8 256.7h0M480.0 268.4h0M482.7 275.2h0M484.0 267.3h0M485.4 263.4h0M480.3 263.2h0M483.7 267.8h0M477.6 263.7h0M484.3 264.5h0M479.9 264.9h0M478.7 260.9h0M474.8 261.4h0M485.7 263.5h0M475.5 255.0h0M478.2 254.1h0M479.5 260.0h0M483.6 255.3h0M471.9 263.9h0M489.3 266.3h0M477.9 267.9h0M481.7 260.1h0M480.3 263.0h0M490.7 265.8h0M481.8 268.2h0M487.7 271.0h0M473.1 262.6h0M480.4 268.5h0M481.1 269.7h0M479.6 256.7h0M478.0 260.8h0M481.8 262.7h0M484.0 269.4h0M488.6 261.4h0M487.0 268.9h0M486.2 272.3h0M490.3 277.5h0M488.4 280.6h0M484.1 267.2h0M489.2 278.6h0M491.6 281.1h0M489.5 275.3h0M485.4 267.6h0M487.1 274.7h0M487.7 278.1h0M486.3 270.8h0M484.7 268.2h0M486.4 270.6h0M483.0 268.6h0" stroke="#ff7f0e" stroke-width="2.00" stroke-linecap="round" fill="none"/>
<path d="M515.0 236.0h0M517.0 239.0h0M514.8 241.5h0M519.0 235.5h0M516.0 237.5h0" stroke="#d62728" stroke-width="1.80" stroke-linecap="round" fill="none"/>
<path d="M523.5 258.0h0M527.0 262.5h0M530.0 263.5h0M525.0 263.0h0M528.7 257.0h0" stroke="#9467bd" stroke-width="1.80" stroke-linecap="round" fill="none"/>
<ellipse cx="463.6" cy="222.8" rx="27.2" ry="12.6" transform="rotate(31 463.6 222.8)" fill="none" stroke="#e2222b" stroke-width="1.4"/>
<ellipse cx="514.2" cy="219.6" rx="27.2" ry="12.6" transform="rotate(-31 514.2 219.6)" fill="none" stroke="#e2222b" stroke-width="1.4"/>
<text x="466.9" y="224.0" font-size="8.5" text-anchor="middle" font-weight="bold">1</text>
<text x="519.8" y="222.3" font-size="8.5" text-anchor="middle" font-weight="bold">3</text>
<text x="484.6" y="263.5" font-size="8.5" text-anchor="middle" font-weight="bold">2</text>
<text x="518.6" y="242.5" font-size="8.5" text-anchor="middle" font-weight="bold" fill="#5a0a0a">4</text>
<text x="529.0" y="260.4" font-size="8.5" text-anchor="middle" font-weight="bold">5</text>
<text x="533.7" y="276.9" font-size="7.25" fill="#222">only hotspots</text>
<text x="533.7" y="285.7" font-size="7.25" fill="#222">capture CCI</text>
<text x="533.7" y="294.5" font-size="7.25" fill="#222">localization</text>
<path d="M536.8 269.8L523.3 233" stroke="#000" stroke-width="0.7" fill="none" marker-end="url(#ah)"/>
<path d="M534 296.6L520.2 328" stroke="#000" stroke-width="0.7" fill="none" marker-end="url(#ah)"/>
<text x="567.3" y="195.6" font-size="16" font-weight="bold">h</text>
<text x="593.5" y="192.8" font-size="10.57">CellChat score</text>
<path d="M639.7 274.8h0M625.3 293.4h0M665.1 216.8h0M605.2 256.5h0M583.8 226.4h0M655.6 219.2h0M594.2 206.6h0M601.8 226.3h0M662.5 233.1h0M668.8 270.1h0M595.9 212.4h0M637.8 206.7h0M611.5 250.8h0M654.8 240.2h0M583.4 210.7h0M670.1 224.5h0M667.8 293.3h0M615.1 254.8h0M661.3 209.8h0M591.0 237.8h0M666.7 237.7h0M632.5 235.2h0M589.8 220.1h0M673.0 255.6h0M604.3 261.2h0M666.5 209.4h0M659.4 218.4h0M669.6 264.5h0M592.4 246.5h0M660.0 233.6h0M674.1 285.0h0M627.3 273.7h0M617.1 297.5h0M640.0 252.4h0M590.8 231.5h0M662.1 239.7h0M652.2 239.9h0M608.3 251.2h0M645.9 233.5h0M632.7 229.5h0M614.5 265.8h0M658.5 238.7h0M662.3 269.9h0M659.2 292.8h0M643.6 245.2h0M653.6 265.1h0M585.1 221.2h0M642.2 226.6h0M640.4 210.3h0M603.3 211.4h0M611.7 223.1h0M585.9 249.3h0M665.3 206.5h0M638.8 215.1h0M613.7 260.0h0M657.6 245.0h0M637.2 258.4h0M671.3 262.5h0M664.4 206.5h0M622.1 227.3h0M617.4 295.0h0M637.2 230.4h0M620.7 235.8h0M631.4 231.6h0M673.2 233.4h0M626.1 265.9h0M650.7 217.3h0M610.1 255.6h0M609.8 255.3h0M615.7 275.1h0M585.9 229.7h0M635.3 271.7h0M626.7 290.5h0M608.8 278.4h0M626.4 257.0h0M612.9 220.6h0M657.0 212.7h0M584.9 273.0h0M646.8 210.9h0M602.7 265.9h0M647.9 218.8h0M666.7 220.2h0M639.6 210.4h0M587.9 259.4h0M663.1 218.8h0M611.4 261.7h0M646.5 220.3h0M628.9 290.3h0M639.5 230.7h0M594.9 228.0h0M650.1 222.9h0M642.6 214.3h0M591.0 217.9h0M649.0 211.3h0M593.2 296.1h0M657.8 219.3h0M615.1 228.1h0M658.7 266.1h0M660.6 254.1h0M635.1 274.6h0M591.5 209.5h0M652.2 206.4h0M664.1 263.5h0M596.8 221.1h0M608.9 228.1h0M585.5 291.6h0M643.8 233.2h0M649.4 221.4h0M584.9 227.6h0M619.3 296.2h0M604.6 268.4h0M641.8 246.1h0M583.2 212.0h0M632.8 297.6h0M589.1 289.3h0M668.3 211.4h0M606.0 244.0h0M587.3 209.9h0M599.0 253.3h0M631.3 214.2h0M632.2 291.3h0M632.0 251.3h0M617.1 264.0h0M666.2 234.8h0M594.5 214.0h0M590.3 245.9h0M605.1 212.1h0M587.0 224.8h0M621.1 235.3h0M635.2 247.2h0M642.6 294.4h0M646.8 231.1h0M588.6 222.0h0M587.2 218.4h0M661.4 293.9h0M603.8 245.9h0M591.3 255.3h0M647.6 247.5h0M655.4 217.3h0M666.4 248.9h0M623.0 277.2h0M631.4 295.8h0M635.5 250.8h0M618.6 226.3h0M634.1 239.3h0M614.8 229.3h0M660.4 263.4h0M586.1 222.0h0M655.6 236.3h0M661.7 263.9h0M611.2 241.7h0M647.0 243.2h0M657.3 291.6h0M644.0 255.9h0M615.8 261.1h0M590.6 239.2h0M667.7 231.7h0M670.3 289.1h0M601.7 254.0h0M604.5 296.3h0M618.3 222.8h0M666.0 263.0h0M648.1 240.9h0M588.3 258.6h0M621.6 255.2h0M610.3 232.3h0M593.2 258.3h0M599.4 223.9h0M641.8 270.0h0M588.2 251.1h0M670.3 235.8h0M641.7 291.8h0M591.8 224.2h0M591.1 220.4h0M667.2 294.6h0M671.0 215.9h0M588.5 225.4h0M624.6 269.1h0M590.3 243.6h0M637.3 240.9h0M628.0 295.2h0M609.7 217.2h0M615.0 274.4h0M617.6 233.2h0M654.9 259.5h0M587.2 245.2h0M643.6 213.2h0M591.4 250.4h0M632.2 242.0h0M591.0 239.2h0M584.1 229.5h0M602.6 296.2h0M608.2 294.4h0M618.6 278.2h0M637.0 289.6h0M653.1 244.5h0M658.2 290.8h0M674.1 276.1h0M654.1 245.3h0M673.7 226.4h0M643.7 217.8h0M617.5 289.1h0M600.6 208.1h0M670.6 261.6h0M604.3 291.2h0M585.4 223.4h0M653.6 220.4h0M592.8 265.7h0M616.4 250.4h0M671.1 228.6h0M606.7 256.7h0M594.8 250.8h0M628.8 262.7h0M609.9 247.9h0M667.3 240.6h0M647.9 292.8h0M673.1 234.2h0M668.0 213.5h0M650.0 255.1h0M667.3 234.0h0M658.6 219.1h0M627.9 258.6h0M590.7 237.9h0M671.2 230.7h0M658.6 264.1h0M640.2 229.1h0M662.9 246.8h0M662.4 210.1h0M638.7 226.8h0M592.8 212.3h0M591.1 212.6h0M589.0 265.7h0M652.1 254.0h0M602.4 230.7h0M601.4 214.5h0M589.8 245.6h0M642.2 222.5h0M627.6 269.8h0M607.1 251.9h0M665.1 257.6h0M621.0 278.7h0M609.5 216.3h0M640.3 265.5h0M592.0 264.7h0M636.0 211.0h0M640.9 273.2h0M662.3 212.2h0M599.1 293.4h0M664.7 253.1h0M629.5 292.4h0M653.0 217.0h0M590.3 297.4h0M622.7 231.5h0M621.8 225.7h0M617.6 264.8h0M595.4 211.3h0M625.3 247.3h0M650.8 230.0h0M652.1 262.2h0M598.0 214.7h0M646.6 216.1h0M648.6 217.7h0M613.4 261.0h0M627.4 287.0h0M608.4 237.2h0M594.8 245.1h0M672.0 218.2h0M669.0 235.2h0M643.2 245.2h0M644.5 237.7h0M628.9 272.0h0M655.5 221.1h0M659.3 210.4h0M601.2 296.2h0M642.7 260.0h0M628.7 246.5h0M650.0 240.8h0M652.0 247.4h0M588.2 230.4h0M652.8 216.2h0M622.8 280.4h0M659.1 263.0h0M588.7 237.7h0M621.9 234.1h0M597.8 294.3h0M645.7 226.4h0M624.3 277.2h0M662.4 291.0h0M620.7 267.2h0M631.5 283.9h0M591.3 262.2h0M596.2 245.6h0M583.1 257.1h0M659.0 236.5h0M588.0 261.9h0M626.4 280.5h0M666.8 262.5h0M598.2 245.7h0M657.4 212.9h0M641.3 290.9h0M586.3 253.7h0M590.9 234.3h0M609.3 215.2h0M669.2 214.5h0M645.4 248.2h0M587.9 227.4h0M614.4 253.1h0M634.8 248.0h0M638.9 243.8h0M594.7 246.9h0M610.6 240.1h0M636.7 222.6h0M586.4 216.4h0M665.5 212.6h0M640.0 232.6h0M585.7 248.5h0M613.0 270.3h0M660.2 222.8h0M663.7 240.6h0M669.0 293.1h0M608.1 222.4h0M668.0 243.5h0M639.3 246.7h0M628.3 260.0h0M668.2 210.6h0M603.1 297.6h0M593.8 224.1h0M592.7 298.2h0M606.0 222.0h0M588.6 222.6h0M610.5 284.7h0M649.6 290.5h0M585.9 230.4h0M593.6 213.8h0M616.3 294.6h0M612.1 242.6h0M649.5 225.4h0M593.5 261.0h0M649.7 251.3h0M599.7 249.3h0M626.1 254.5h0M610.3 258.0h0M625.7 261.8h0M594.9 247.5h0M600.4 215.8h0M584.5 252.4h0M585.4 231.3h0M614.8 270.5h0M584.5 227.5h0M664.6 247.2h0M626.6 251.1h0M643.7 272.9h0M631.8 277.4h0M638.7 210.5h0M643.3 236.9h0M616.3 263.2h0M644.0 291.7h0M651.7 227.3h0M630.6 273.0h0M625.5 293.0h0M634.5 297.8h0M627.2 263.1h0M621.7 290.6h0M651.9 237.2h0M631.3 267.9h0M661.9 272.2h0M627.8 267.0h0M587.1 294.8h0M600.0 292.0h0M643.7 258.8h0M626.3 236.7h0M582.6 217.4h0M611.4 277.2h0M605.5 233.4h0M654.5 216.1h0M652.8 256.4h0M606.4 297.6h0M610.7 249.3h0M665.8 220.2h0M621.7 254.4h0M611.0 293.8h0M604.4 298.3h0M630.6 268.5h0M630.4 240.2h0M585.3 217.6h0M604.0 235.3h0M588.9 214.3h0M664.0 292.7h0M587.2 245.7h0M588.4 254.5h0M623.4 289.0h0M663.8 233.8h0M612.2 291.6h0M608.2 266.9h0M645.0 210.0h0M629.9 240.8h0M620.3 293.7h0M663.2 215.2h0M626.2 273.0h0M586.0 294.2h0M654.2 251.8h0M624.7 226.8h0M609.9 234.3h0M628.7 251.4h0M626.0 293.7h0M655.1 292.2h0M636.6 279.2h0M622.5 268.7h0M646.8 226.6h0M599.4 259.9h0M647.6 219.2h0M608.9 263.4h0M612.1 230.9h0M589.5 216.5h0M637.4 296.6h0M660.7 297.4h0M621.2 249.8h0M652.2 259.4h0M670.1 254.9h0M632.7 260.7h0M593.1 218.5h0M614.6 218.3h0M652.2 226.3h0M636.7 279.3h0M672.8 227.5h0M622.5 259.9h0M603.7 257.0h0M665.9 262.1h0M642.2 264.3h0M607.0 269.3h0M586.0 222.1h0M645.5 266.9h0M657.4 236.5h0M664.1 208.8h0M656.5 255.6h0M612.7 267.7h0M673.3 237.7h0M660.4 219.9h0M669.6 252.4h0M614.3 228.8h0M600.2 289.8h0M644.9 230.9h0M665.5 261.1h0M638.5 294.6h0M596.3 225.1h0M587.0 206.5h0M633.9 268.7h0M635.9 255.0h0M635.4 265.2h0M658.0 215.3h0M664.5 262.5h0M607.4 240.0h0M625.0 225.8h0M598.8 224.6h0M618.0 250.1h0M602.9 256.7h0M664.5 219.6h0M611.6 296.8h0M659.2 296.4h0M599.5 246.2h0M605.9 219.5h0M630.5 229.9h0M661.0 293.6h0M603.4 292.1h0M663.6 249.2h0M585.5 231.2h0M625.4 288.7h0M645.7 269.7h0M628.0 293.0h0M637.4 234.8h0M669.0 298.6h0M669.7 210.4h0M606.1 215.7h0M594.3 219.6h0M600.3 221.8h0M607.1 245.4h0M618.5 290.5h0M655.8 264.6h0M601.9 259.7h0M603.9 229.4h0M624.6 245.1h0M638.3 232.0h0M642.7 286.4h0M617.8 258.0h0M598.8 256.2h0M600.7 247.2h0M625.8 243.9h0M663.1 240.8h0M645.0 230.4h0M670.3 210.0h0M647.4 243.0h0M594.7 247.1h0M596.6 214.5h0M646.8 297.6h0M648.1 247.0h0M667.5 252.5h0M595.9 294.2h0M668.3 220.0h0M645.2 245.9h0M649.1 246.0h0M618.8 249.3h0M625.6 295.1h0M595.0 268.2h0M639.9 241.5h0M632.8 285.7h0M664.0 229.3h0M618.5 223.2h0M644.3 297.3h0M631.5 295.5h0M606.9 269.4h0M616.4 268.3h0M654.2 242.2h0M609.8 222.2h0M594.1 287.1h0M604.6 287.7h0M595.8 262.2h0M666.5 295.0h0M662.3 245.5h0M614.0 220.4h0M670.4 209.8h0M610.9 247.0h0M613.7 273.4h0M641.8 253.7h0M657.9 224.9h0M669.0 288.2h0M600.8 246.7h0M667.3 259.0h0M627.6 252.4h0M594.1 227.2h0M636.6 278.5h0M653.3 262.6h0M631.3 226.6h0M641.4 298.0h0M627.7 248.4h0M638.9 251.4h0M648.4 224.6h0M607.0 225.3h0M603.8 281.5h0M584.8 222.8h0M647.6 239.1h0M654.3 258.3h0M582.8 231.0h0M589.2 213.2h0M645.2 258.3h0M662.2 264.9h0M618.5 295.9h0M650.9 257.9h0M587.8 289.7h0M652.3 233.4h0M593.3 256.8h0M671.8 211.5h0M610.0 272.0h0M598.9 243.9h0M611.5 217.3h0M661.9 238.2h0M668.5 263.7h0M626.6 236.4h0M656.9 253.2h0M615.6 295.0h0M616.3 248.5h0M628.7 243.7h0M607.8 269.3h0M647.2 238.5h0M600.6 251.1h0M584.0 218.1h0M652.7 281.2h0M671.2 224.4h0M611.6 219.2h0M601.8 228.1h0M647.0 209.9h0M631.1 257.5h0M655.7 282.2h0M640.9 250.6h0M613.1 273.4h0M631.2 224.6h0M585.6 249.7h0M653.6 260.0h0M600.4 241.5h0M653.4 245.9h0M617.9 258.8h0M642.2 284.3h0M629.0 283.3h0M619.2 223.8h0M606.9 229.5h0M641.8 292.8h0M636.6 297.4h0M649.7 244.4h0M659.1 208.8h0M606.0 237.7h0M594.9 289.7h0M631.9 234.5h0M634.8 215.1h0M619.6 282.4h0M647.9 244.8h0M609.0 260.5h0M643.3 295.7h0M588.9 237.8h0M587.8 213.9h0M664.6 218.7h0M672.4 221.8h0M654.8 289.8h0M653.6 234.0h0M604.5 251.7h0M596.9 256.8h0M646.7 237.7h0M600.8 254.5h0M654.6 224.0h0M589.0 234.0h0M603.5 217.5h0M611.0 226.3h0M659.7 275.2h0M645.1 283.7h0M634.1 221.4h0M598.8 297.1h0M594.0 221.3h0M666.4 279.9h0M656.0 236.9h0M665.4 230.2h0M634.6 211.2h0M664.0 245.0h0M586.1 290.0h0M656.8 247.7h0M632.7 253.2h0M659.8 232.5h0M670.7 220.0h0M596.8 293.2h0M583.2 217.6h0M622.6 272.0h0M667.1 292.0h0M626.0 243.0h0M635.6 271.8h0M613.9 228.6h0M661.7 235.2h0M587.0 291.6h0M650.8 216.2h0M657.0 233.1h0M617.7 277.3h0M588.5 236.3h0M609.0 214.3h0M657.7 247.5h0M649.5 291.5h0M630.4 242.7h0M594.7 262.8h0M613.3 258.8h0M641.6 282.0h0M670.0 236.1h0M651.9 296.4h0M621.0 279.5h0M595.3 238.7h0M673.9 213.7h0M655.0 292.9h0M617.6 275.2h0M635.6 278.8h0M631.9 230.2h0M662.7 224.2h0M606.4 250.8h0M600.6 256.5h0M592.4 207.5h0M670.8 210.0h0M635.6 225.5h0M641.2 268.4h0M604.3 220.2h0M609.5 262.2h0M585.6 273.3h0M635.3 236.8h0M591.8 252.8h0M634.8 225.2h0M655.2 296.1h0M672.2 249.9h0M659.9 291.8h0M669.7 214.5h0M637.8 222.5h0M583.4 243.3h0M648.4 270.9h0M606.1 262.7h0M654.9 219.3h0M638.9 235.4h0M664.8 296.1h0M613.9 283.2h0M595.7 253.1h0M601.1 289.4h0M597.8 263.7h0M668.5 296.9h0M587.6 245.2h0M651.4 214.0h0M639.0 265.6h0M623.9 284.4h0M649.3 280.5h0M638.3 249.5h0M590.5 223.9h0M638.1 247.0h0M607.0 238.1h0M663.7 217.6h0M661.8 247.3h0M637.8 262.1h0M589.6 233.8h0M656.1 259.9h0M599.9 241.4h0M636.7 270.6h0M645.3 263.8h0M590.8 230.2h0M599.7 216.6h0M586.1 296.4h0M652.0 245.3h0M670.5 278.3h0M634.6 247.5h0M609.8 269.2h0M674.0 231.9h0M592.3 209.6h0M593.7 225.2h0M671.9 245.5h0M632.1 294.9h0M662.9 237.0h0M612.9 291.7h0M674.2 228.2h0M650.6 259.1h0M629.3 283.6h0M668.3 261.9h0M618.6 272.0h0M599.0 239.2h0M661.7 253.8h0M668.2 266.3h0M637.7 247.2h0M650.1 240.9h0M666.1 255.8h0M672.7 224.7h0M606.4 218.7h0M641.4 220.9h0M611.6 254.6h0M616.3 268.2h0M639.9 261.7h0M671.4 240.2h0M585.4 218.7h0M599.7 222.5h0M666.8 260.6h0M634.1 232.5h0M582.6 209.7h0M585.4 247.9h0M616.5 233.8h0M651.7 255.9h0M596.0 216.0h0M638.3 225.6h0M613.5 248.6h0M658.0 232.3h0M631.6 227.9h0M655.6 228.1h0M622.8 287.7h0M605.7 253.0h0M674.1 210.0h0M611.8 237.0h0M598.1 216.7h0M640.9 272.8h0M661.9 289.5h0M593.6 222.4h0M588.7 264.0h0M584.5 220.0h0M622.7 284.8h0M632.1 224.4h0M609.0 242.8h0M668.0 212.0h0M643.2 218.0h0M613.1 237.6h0M673.9 292.5h0M625.7 254.1h0M641.6 272.1h0M636.1 290.2h0M624.5 294.6h0M663.2 265.6h0M593.7 216.9h0M657.7 256.0h0M673.0 246.9h0M664.7 216.8h0M660.0 217.9h0M642.3 215.4h0M651.1 257.5h0M617.7 281.5h0M634.1 226.5h0M646.6 265.2h0M636.1 273.4h0M585.0 214.0h0M654.6 264.8h0M646.7 245.7h0M604.4 216.7h0M585.2 258.7h0M599.9 262.7h0M645.2 215.6h0M643.7 224.4h0M608.8 244.6h0M672.9 284.4h0M638.4 215.3h0M621.9 248.7h0M662.3 294.3h0M630.5 232.8h0M660.1 208.0h0M671.4 208.6h0M584.6 262.0h0M637.2 228.8h0M674.1 257.2h0M632.6 262.3h0M622.7 235.3h0M659.3 213.9h0M656.8 214.1h0M660.1 219.4h0M673.0 250.9h0M664.6 265.1h0M645.9 231.3h0M597.1 214.0h0M648.0 271.9h0M650.9 229.4h0M666.1 222.3h0M669.3 245.1h0M589.3 213.5h0M639.7 230.3h0M598.1 258.5h0M630.7 248.7h0M607.0 252.6h0M601.9 245.0h0M623.9 238.0h0M596.3 247.6h0M588.7 265.4h0M624.3 292.7h0M644.8 267.4h0M642.2 269.6h0M628.5 264.6h0M615.4 260.9h0M591.0 231.5h0M595.2 250.8h0M589.6 296.6h0M597.3 253.9h0M668.5 243.2h0M610.6 224.1h0M662.1 247.0h0M666.6 215.5h0M611.7 290.1h0M601.3 264.7h0M635.4 234.8h0M645.7 231.0h0M648.8 221.8h0M618.3 238.6h0M612.6 221.1h0M623.9 287.4h0M615.8 237.7h0M657.6 220.6h0M673.6 237.8h0M656.6 290.2h0M665.3 276.4h0M590.3 224.9h0M602.4 238.1h0M639.8 260.1h0M611.7 285.3h0M622.6 229.0h0M643.7 214.5h0M591.0 217.7h0M632.2 279.3h0M663.9 252.2h0M655.0 261.0h0M667.9 213.2h0M673.2 212.9h0M673.6 212.3h0M655.2 295.8h0M665.7 245.5h0M622.2 226.7h0M650.3 250.8h0M608.9 262.5h0M604.5 218.0h0M591.1 238.0h0M659.0 266.5h0M664.4 232.8h0M672.5 281.9h0M644.9 216.7h0M590.6 289.4h0M637.7 251.5h0M637.3 244.2h0M654.0 265.0h0M607.4 219.9h0M664.9 291.0h0M655.5 223.6h0M643.2 269.0h0M654.7 232.9h0M655.6 264.5h0M608.8 235.0h0M669.5 259.9h0M589.5 261.5h0M586.2 237.8h0M597.7 241.0h0M628.9 288.3h0M626.5 280.1h0M588.8 230.4h0M638.8 242.9h0M642.9 253.9h0M611.6 244.8h0M671.2 273.5h0M585.0 220.7h0M591.8 276.4h0M627.5 225.2h0M583.2 250.5h0M625.2 246.8h0M617.1 243.9h0M655.6 229.5h0M640.4 242.2h0M629.0 221.8h0M633.5 273.4h0M628.1 250.9h0M610.7 271.1h0M654.9 247.9h0M595.4 208.4h0M650.9 247.4h0M610.2 271.9h0M621.3 273.3h0M670.9 288.0h0M629.8 270.4h0M598.6 256.9h0M627.9 251.5h0M605.4 290.4h0M632.7 295.9h0M584.7 292.3h0M668.3 214.0h0M585.2 264.8h0M597.0 220.7h0M638.2 278.0h0M636.5 223.7h0M590.7 237.5h0M604.4 218.5h0M584.6 211.8h0M610.0 281.6h0M650.4 282.4h0M646.8 289.1h0M583.3 257.4h0M595.3 260.4h0M602.3 225.8h0M591.7 228.2h0M643.6 268.9h0M596.7 208.3h0M637.8 212.0h0M622.9 246.7h0M626.6 274.4h0M608.5 248.8h0M613.0 224.6h0M673.6 237.8h0M625.4 249.9h0M585.6 254.4h0M666.9 264.6h0M659.3 260.2h0M650.7 228.0h0M649.2 290.8h0M610.7 287.6h0M596.2 233.0h0M583.4 237.5h0M667.4 270.0h0M662.5 226.6h0M646.9 212.3h0M592.1 253.1h0M620.9 225.2h0M584.4 227.1h0M654.4 219.7h0M609.9 230.4h0M651.2 240.0h0M642.5 290.7h0M671.7 240.8h0M600.9 225.3h0M660.8 289.6h0M614.8 236.6h0M634.3 249.2h0M640.6 217.6h0M632.3 255.5h0M598.5 230.4h0M673.3 221.9h0M663.2 298.4h0M670.8 261.2h0M586.5 208.4h0M653.4 206.5h0M654.9 290.9h0M597.7 232.6h0M618.3 240.9h0M673.0 277.8h0M637.1 273.0h0M632.6 229.7h0M628.4 244.9h0M587.8 297.8h0M602.9 263.1h0M598.5 255.0h0M590.6 218.4h0M623.5 271.7h0M658.1 238.0h0M609.2 215.9h0M626.3 250.5h0M629.3 252.1h0M630.9 295.4h0M621.1 269.3h0M628.6 250.0h0M641.0 224.1h0M605.1 246.6h0M610.0 293.6h0M640.7 261.9h0M586.7 262.2h0M634.4 268.1h0M617.4 230.4h0M671.7 210.0h0M610.8 280.4h0M648.7 225.4h0M583.5 236.5h0M661.6 223.7h0M627.6 227.4h0M610.3 271.1h0M639.7 225.8h0M667.5 219.3h0M615.6 261.4h0M623.3 291.5h0M652.6 250.8h0M669.2 245.6h0M618.6 248.4h0M610.2 227.9h0M609.2 289.0h0M594.9 253.4h0M598.6 282.2h0M654.7 243.7h0M596.4 298.4h0M673.2 222.4h0M649.3 252.1h0M647.9 262.2h0M662.4 218.6h0M592.5 229.9h0M644.5 237.4h0M654.5 213.5h0M628.0 244.3h0M598.3 218.3h0M612.3 229.4h0M640.3 270.8h0M584.8 247.1h0M659.9 251.9h0M662.1 211.8h0M641.1 234.2h0M666.1 210.2h0M643.7 271.5h0M613.4 297.3h0M616.0 271.2h0M642.7 245.1h0M635.9 268.6h0M608.0 296.0h0M615.9 261.8h0M627.2 238.4h0M588.0 262.6h0M587.2 256.0h0M632.8 269.4h0M638.2 261.4h0M629.9 225.8h0M623.9 293.2h0M602.9 262.9h0M656.4 212.7h0M615.2 235.0h0M625.6 283.3h0M632.3 217.6h0M631.4 249.6h0M589.0 290.8h0M602.9 237.1h0M671.2 231.7h0M593.4 297.3h0M594.6 234.9h0M640.0 255.6h0M623.5 283.9h0M638.1 215.5h0M608.1 287.0h0M589.8 247.6h0M673.4 215.3h0M610.9 223.3h0M657.8 250.5h0M593.2 261.9h0M663.8 282.1h0M667.0 214.6h0M632.6 272.0h0M638.9 272.3h0M586.6 232.6h0M648.4 243.7h0M660.7 263.2h0M616.8 296.2h0M623.3 228.9h0M673.3 258.5h0M597.4 207.9h0M638.7 231.3h0M602.7 252.4h0M613.7 269.8h0M588.7 220.2h0M642.8 209.8h0M666.4 261.9h0M631.5 275.3h0M650.8 297.3h0M661.8 208.5h0M667.1 234.2h0M636.9 241.7h0M591.2 222.3h0M652.7 250.8h0M659.3 234.2h0M626.8 256.4h0M650.9 237.6h0M649.5 267.9h0M661.5 243.7h0M657.2 234.5h0M652.0 208.7h0M648.8 218.0h0M660.6 281.2h0M657.4 253.4h0M593.6 280.0h0M586.3 253.3h0M642.3 263.0h0M592.1 239.6h0M673.1 252.1h0M642.8 263.5h0M621.9 234.2h0M587.2 230.4h0M628.4 260.7h0M667.3 230.3h0M617.8 223.6h0M602.9 221.3h0M619.4 298.6h0M623.7 261.4h0M662.5 238.3h0M640.3 273.2h0M660.1 261.7h0M648.7 217.9h0M637.7 264.9h0M661.5 218.2h0M583.0 297.1h0M612.5 266.4h0M650.5 243.8h0M632.9 241.4h0M658.1 232.5h0M621.1 260.6h0M633.0 252.3h0M586.2 235.3h0M641.5 214.1h0M612.7 230.7h0M598.6 228.7h0M626.1 233.4h0M635.4 261.1h0M633.0 265.3h0M662.0 292.2h0M614.5 237.4h0M636.6 258.3h0M615.5 268.0h0M639.1 273.4h0M592.4 254.2h0M595.9 237.7h0M627.5 260.6h0M584.5 212.0h0M600.0 293.3h0M598.2 259.0h0M605.1 260.8h0M670.7 224.2h0M608.6 280.7h0M603.2 243.2h0M630.9 292.5h0M628.8 219.5h0M639.1 215.5h0M592.4 232.2h0M596.8 224.0h0M584.2 222.3h0M621.8 283.0h0M657.9 259.8h0M585.2 251.0h0M672.7 210.9h0M651.0 235.4h0M636.5 268.3h0M638.1 222.1h0M588.7 297.6h0M622.8 296.1h0M583.0 244.2h0M644.8 246.5h0M671.7 262.7h0M650.4 213.4h0M650.8 280.5h0M630.8 219.8h0M582.7 289.5h0M631.6 265.2h0M606.9 287.3h0M635.1 214.5h0M658.7 262.4h0M595.5 245.7h0M586.1 236.5h0M629.2 228.7h0M640.8 294.7h0M635.8 253.2h0M631.0 285.8h0M584.2 260.0h0M653.4 253.5h0M590.9 218.3h0M597.5 217.2h0M632.4 253.6h0M643.5 290.9h0M671.3 235.6h0M590.1 212.1h0M606.0 297.5h0M638.5 265.6h0M622.3 253.9h0M594.9 248.3h0M670.7 223.3h0M635.8 277.8h0M600.9 246.2h0M632.2 269.8h0M586.7 218.8h0M599.8 225.6h0M647.3 239.8h0M596.5 289.1h0M653.0 247.1h0M665.5 282.0h0M643.3 231.4h0M607.5 217.8h0M662.7 239.2h0M587.1 270.9h0M635.2 271.7h0M673.4 265.0h0M602.5 275.2h0M641.7 211.2h0M620.8 292.4h0M593.9 256.6h0M649.7 260.9h0M643.1 269.3h0M611.7 244.0h0M647.8 233.9h0M659.5 247.2h0M584.8 256.0h0M590.9 245.6h0M625.9 261.2h0M646.2 227.2h0M626.7 260.5h0M647.6 255.6h0M604.2 247.1h0M620.1 290.8h0M613.0 229.4h0M597.1 233.4h0M625.0 249.6h0M641.4 250.1h0M629.8 266.6h0M672.9 280.8h0M602.7 263.4h0M623.9 281.4h0M583.0 296.1h0M641.7 265.5h0M660.7 218.2h0M644.6 227.0h0M628.5 274.1h0M653.9 234.7h0M615.0 221.7h0M616.1 281.5h0M670.9 262.7h0M629.6 272.7h0M611.1 219.9h0M647.9 218.4h0M670.0 247.3h0M591.4 297.0h0M632.4 234.1h0M642.2 281.0h0M627.6 257.5h0M644.4 244.7h0M662.1 222.1h0M597.8 240.1h0M660.8 259.0h0M668.1 238.5h0M650.4 251.9h0M656.7 211.1h0M614.9 271.1h0M644.0 220.5h0M654.5 217.6h0M648.0 256.0h0M633.7 263.1h0M609.1 224.1h0M668.5 218.5h0M633.1 282.1h0M673.1 237.8h0M602.7 288.3h0M645.0 263.2h0M643.2 219.0h0M599.9 252.7h0M646.0 234.6h0M584.4 229.6h0M592.9 226.0h0M629.1 291.0h0M627.6 258.8h0M602.2 230.2h0M642.7 253.0h0M659.3 219.4h0M670.7 233.6h0M590.2 216.7h0M668.3 248.3h0M624.5 256.5h0M646.8 209.4h0M622.2 229.4h0M667.7 254.8h0M600.6 245.9h0M606.8 224.5h0M635.2 246.9h0M642.5 290.8h0M596.5 212.8h0M631.3 262.1h0M609.3 238.6h0M644.5 220.1h0M629.2 229.3h0M609.6 214.4h0M645.8 253.3h0M672.7 250.0h0M645.7 244.6h0M601.8 224.9h0M615.5 248.9h0M667.2 257.5h0M647.1 264.5h0M659.7 223.3h0M599.9 253.4h0M627.0 247.2h0M673.4 254.0h0M584.9 222.8h0M619.2 282.8h0M660.4 265.6h0M669.5 231.7h0M672.4 297.7h0M672.0 225.6h0M638.6 249.4h0M653.0 263.7h0M655.4 249.0h0M657.4 290.2h0M587.8 250.0h0M646.5 221.7h0M651.0 217.1h0M660.5 291.6h0M652.6 238.6h0M650.6 243.9h0M583.0 229.2h0M650.8 216.9h0M629.5 291.8h0M673.8 259.5h0M615.4 292.9h0M607.0 295.9h0M589.3 257.1h0M665.6 214.3h0M602.9 264.8h0M588.9 262.3h0M661.7 228.2h0M668.0 208.4h0M623.6 265.9h0M616.5 269.9h0M672.7 221.2h0M596.5 225.5h0M585.0 244.5h0M642.4 277.2h0M659.7 296.6h0M608.8 272.2h0M660.7 256.4h0M651.0 290.0h0M596.6 243.9h0M666.6 272.8h0M594.8 251.6h0M643.2 267.1h0M605.7 257.2h0M643.8 229.2h0M624.0 271.9h0M648.6 297.8h0M634.1 230.0h0M614.6 242.0h0M601.3 259.2h0M632.5 267.5h0M626.2 295.3h0M658.4 231.1h0M652.3 208.5h0M670.2 290.2h0M622.8 265.1h0M624.1 254.5h0M661.9 248.1h0M603.8 295.1h0M652.3 244.5h0M587.6 220.7h0M641.0 289.9h0M666.6 291.3h0M642.9 230.6h0M658.1 246.4h0M639.4 209.8h0M590.2 223.6h0M602.1 239.8h0M599.9 223.6h0M598.8 296.6h0M665.6 248.4h0M661.3 286.5h0M650.7 277.9h0M586.5 295.6h0M620.0 265.4h0M655.8 216.4h0M660.0 233.0h0M671.8 294.9h0M656.8 264.5h0M635.2 247.4h0M655.2 283.0h0M590.7 214.1h0M585.7 292.1h0M669.1 241.2h0M619.9 229.4h0M653.1 208.2h0M627.8 288.7h0M589.0 241.0h0M674.0 214.5h0M590.3 247.2h0M640.4 264.6h0M647.4 262.3h0M667.8 255.4h0M607.9 242.4h0M667.0 277.2h0M665.1 220.0h0M585.6 295.0h0M595.7 252.2h0M660.2 253.2h0M609.6 227.1h0M589.5 261.6h0M648.3 209.8h0M634.2 260.7h0M650.4 249.2h0M595.4 244.6h0M595.3 236.2h0M610.1 225.4h0M640.7 241.3h0M629.7 241.7h0M588.5 208.9h0M638.2 262.7h0M591.9 214.9h0M646.9 262.2h0M633.3 296.8h0M624.2 247.8h0M623.3 262.4h0M645.9 289.6h0M653.6 292.7h0M644.1 292.7h0M591.5 216.1h0M600.5 215.7h0M630.0 277.3h0M617.9 238.4h0M620.5 290.5h0M629.4 223.5h0M594.9 233.2h0M606.3 286.0h0M592.1 211.6h0M617.8 264.2h0M627.2 224.0h0M652.2 240.5h0M629.3 220.9h0M586.4 215.9h0M597.3 237.5h0M655.6 240.4h0M618.8 240.9h0M632.5 218.8h0M673.9 252.3h0M588.8 229.1h0M652.9 236.6h0M656.7 233.4h0M595.6 206.6h0M646.3 222.8h0M625.8 295.0h0M629.2 220.3h0M664.1 258.8h0M636.8 277.5h0M586.9 212.7h0M647.4 262.4h0M670.0 234.3h0M630.6 284.1h0M596.3 293.2h0M591.6 206.9h0M653.4 242.8h0M585.3 265.7h0M609.5 222.3h0M629.9 217.7h0M590.0 232.4h0M642.2 240.9h0M614.1 219.2h0M600.7 261.8h0M587.3 256.8h0M667.9 265.0h0M649.2 218.7h0M597.0 210.1h0M660.4 233.8h0M645.0 265.3h0M641.2 209.8h0M669.6 237.2h0M603.2 221.7h0M627.1 280.1h0M656.5 263.1h0M660.8 231.8h0M584.2 236.0h0M631.8 229.2h0M604.9 234.9h0M639.4 292.8h0M669.4 249.9h0M601.7 293.8h0M632.7 278.5h0M586.4 219.4h0M648.0 244.6h0M645.7 235.4h0M644.4 270.1h0M612.9 297.5h0M588.6 221.4h0M621.8 234.1h0M594.4 210.9h0M629.2 218.3h0M613.0 275.1h0M653.6 255.2h0M672.5 254.2h0M634.4 265.5h0M586.9 249.5h0M639.4 248.0h0M650.4 228.5h0M609.9 274.4h0M641.4 261.5h0M660.8 226.6h0M650.3 247.4h0M648.8 293.2h0M589.5 219.1h0M647.6 292.8h0M673.2 208.8h0M630.6 279.9h0M637.3 279.8h0M625.1 278.5h0M621.9 238.7h0M592.8 213.0h0M592.8 235.2h0M641.6 245.4h0M584.8 213.6h0M653.7 219.3h0M588.0 261.7h0M619.4 271.9h0M591.0 207.2h0M609.0 223.9h0M589.1 216.2h0M585.2 253.6h0M662.9 210.6h0M606.3 223.4h0M604.3 217.4h0M663.0 229.2h0M630.0 240.1h0M672.4 265.1h0M595.9 283.9h0M641.5 233.7h0M638.9 259.9h0M596.3 244.0h0M604.2 264.4h0M670.3 291.2h0M643.3 207.7h0M657.6 231.1h0M603.8 257.7h0M666.1 292.3h0M613.3 254.5h0M660.2 233.5h0M661.0 221.3h0M587.8 207.7h0M616.9 289.9h0M594.5 246.1h0M637.2 225.5h0M657.7 294.7h0M649.9 226.8h0M583.7 261.1h0M621.4 267.0h0M606.3 265.3h0M605.3 231.2h0M615.5 250.1h0M587.7 289.4h0M652.8 295.6h0M659.1 296.4h0M659.3 274.4h0M648.4 271.9h0M615.9 290.9h0M648.8 249.4h0M637.3 208.7h0M644.3 246.7h0M656.1 238.6h0M630.0 295.5h0M629.2 225.5h0M584.1 261.7h0M591.4 231.5h0M592.1 215.8h0M587.6 257.6h0M623.6 279.2h0M615.3 222.8h0M615.2 250.0h0M623.4 235.0h0M590.3 206.5h0M646.1 232.3h0M596.6 296.6h0M615.4 251.1h0M634.4 212.5h0M655.8 249.6h0M670.4 263.7h0M619.2 234.0h0M649.0 235.0h0M653.3 247.9h0M626.6 261.6h0M598.3 219.4h0M664.0 228.7h0M608.5 269.3h0M582.8 296.8h0M583.2 244.4h0M608.3 265.5h0M634.1 294.8h0M587.0 255.8h0M657.8 217.5h0M671.5 223.9h0M630.4 254.6h0M603.8 289.4h0M611.0 269.9h0M585.0 234.0h0M659.6 230.4h0M650.7 246.2h0M659.2 261.9h0M670.1 248.8h0M660.3 220.4h0M658.6 206.5h0M591.5 255.5h0M598.6 245.7h0M603.0 215.5h0M666.9 290.6h0M651.3 293.1h0M606.9 291.4h0M639.7 263.2h0M615.1 238.2h0M615.5 268.7h0M600.1 222.0h0M594.7 224.2h0M602.3 270.8h0M626.9 226.2h0M613.7 256.4h0M622.1 237.7h0M651.1 219.5h0M661.1 268.0h0M620.7 271.3h0M658.5 213.7h0M606.4 263.7h0M594.5 258.5h0M590.0 265.9h0M630.1 245.1h0M587.7 211.7h0M604.9 211.5h0M607.3 228.9h0M594.1 249.0h0M662.0 212.0h0M607.9 264.4h0M598.8 254.9h0M632.1 226.2h0M634.8 277.9h0M635.1 234.3h0M631.5 234.8h0M586.3 294.0h0M667.4 213.0h0M670.8 239.6h0M604.4 290.7h0M638.3 233.0h0M634.1 255.3h0M610.5 273.3h0M606.2 250.1h0M645.7 264.2h0M600.7 256.8h0M666.5 257.9h0M636.6 259.5h0M667.3 284.1h0M663.9 243.0h0M666.2 264.6h0M620.7 225.3h0M594.8 256.5h0M655.7 231.2h0M658.4 260.6h0M610.8 273.5h0M615.5 241.1h0M597.8 271.4h0M662.3 261.3h0M657.2 266.8h0M613.1 270.1h0M588.2 263.6h0M644.5 208.4h0M633.2 225.3h0M663.2 297.5h0M659.8 262.5h0M643.4 243.8h0M614.1 250.1h0M627.7 296.5h0M607.3 264.0h0M604.6 283.0h0M602.9 271.7h0M587.2 285.2h0M605.9 250.5h0M667.8 296.0h0M634.1 219.8h0M638.4 291.7h0M672.3 210.8h0M598.7 244.2h0M661.2 271.1h0M656.6 294.4h0M637.9 213.5h0M634.0 264.7h0M634.8 268.6h0M658.4 251.3h0M602.1 235.7h0M605.0 267.3h0M602.4 281.0h0M594.8 235.8h0M668.7 230.5h0M632.9 269.8h0M653.7 220.7h0M651.4 294.3h0M648.2 227.7h0M616.4 292.8h0M663.7 223.8h0M618.6 245.8h0M658.3 235.1h0M586.3 234.4h0M597.9 250.3h0M666.7 210.7h0M605.9 292.0h0M650.8 249.2h0M642.5 293.8h0M605.9 260.0h0M640.8 229.5h0M658.1 272.6h0M633.1 237.0h0M616.6 246.8h0M607.9 240.0h0M634.4 292.5h0M611.8 259.2h0M594.4 257.5h0M590.2 251.5h0M601.8 293.3h0M658.1 295.5h0M664.0 296.6h0M643.1 297.2h0M611.8 257.5h0M653.1 263.3h0M588.6 213.4h0M595.4 268.2h0M648.6 294.0h0M645.3 230.7h0M665.7 225.2h0M648.3 248.3h0M668.6 251.6h0M603.6 248.9h0M625.2 239.0h0M662.1 222.0h0M672.8 221.8h0M619.4 247.1h0M640.6 263.5h0M595.9 247.2h0M583.9 217.5h0M591.4 291.8h0M618.4 290.0h0M652.2 227.1h0M649.2 221.3h0M595.6 244.5h0M670.8 242.9h0M640.7 218.3h0M589.7 248.4h0M595.7 296.1h0M653.4 254.6h0M629.7 251.2h0M653.0 292.8h0M672.6 224.9h0M607.6 254.2h0M619.9 241.8h0M598.1 256.5h0M590.7 232.1h0M601.5 289.4h0M619.6 243.7h0M596.3 211.4h0M624.3 285.4h0M620.5 233.9h0M620.3 242.8h0M621.4 297.1h0M594.3 217.8h0M651.1 292.0h0M614.2 260.8h0M614.1 243.7h0M645.6 224.9h0M597.2 297.0h0M637.0 210.4h0M648.0 213.1h0M657.3 253.5h0M603.2 294.6h0M642.8 293.9h0M585.6 215.3h0M641.1 213.4h0M654.6 240.9h0M601.9 245.0h0M617.5 220.0h0M633.6 295.0h0M591.8 260.2h0M608.5 217.5h0M667.8 260.1h0M663.3 227.9h0M662.2 236.8h0M586.3 233.6h0M595.9 295.2h0M583.1 289.7h0M588.5 250.8h0M612.3 297.5h0M621.9 256.4h0M626.2 251.8h0M594.3 291.0h0M670.9 256.5h0M610.0 289.6h0M653.5 264.6h0M634.8 271.6h0M602.7 260.1h0M602.1 211.8h0M662.3 213.8h0M609.5 271.5h0M607.2 217.5h0M666.7 289.2h0M623.1 276.5h0M614.5 226.7h0M650.9 262.9h0M666.1 253.8h0M607.5 229.2h0M642.0 229.9h0M659.2 296.8h0M582.9 256.6h0M672.4 280.0h0M654.2 219.9h0M665.5 249.3h0M654.1 253.3h0M640.5 209.1h0M640.6 212.4h0M668.2 267.9h0M615.4 231.4h0M593.4 244.4h0M611.7 289.4h0M626.0 288.4h0M666.0 229.4h0M617.8 292.2h0M605.8 255.4h0M641.4 222.6h0M600.2 261.5h0M606.2 245.7h0M670.7 280.9h0M641.2 281.7h0M629.9 248.4h0M632.0 223.5h0M593.0 214.6h0M619.0 254.2h0M590.6 234.1h0M649.3 231.4h0M631.5 282.6h0M608.2 291.9h0M611.1 258.4h0M658.9 243.1h0M608.9 227.4h0M617.5 237.1h0M615.1 295.7h0M655.7 231.4h0M634.6 242.4h0M621.1 226.4h0M608.9 271.4h0M632.7 266.6h0M660.1 218.1h0M643.4 227.8h0M629.2 227.7h0M603.5 238.1h0M670.4 265.5h0M648.1 241.5h0M620.6 225.4h0M621.4 250.7h0M659.3 297.0h0M673.9 252.9h0M618.1 293.3h0M624.3 225.2h0M662.6 218.6h0M594.3 207.7h0M638.6 297.0h0M638.8 215.2h0M650.9 233.1h0M595.7 219.6h0M620.1 266.4h0M622.1 259.3h0M661.7 247.7h0M672.4 249.4h0M666.6 298.6h0M637.4 232.2h0M646.9 213.2h0M669.0 233.8h0M608.8 288.9h0M649.4 265.5h0M608.2 265.1h0M603.9 262.6h0M585.3 277.1h0M640.0 242.2h0M624.9 269.9h0M619.5 226.6h0M643.9 246.7h0M597.5 293.6h0M635.2 292.2h0M666.7 225.9h0M667.1 210.9h0M586.5 206.7h0M614.6 220.9h0M617.4 223.6h0M663.5 247.5h0M588.9 262.4h0M615.7 280.8h0M595.7 211.2h0M633.8 242.6h0M655.9 207.0h0M641.0 227.4h0M590.4 235.9h0M591.4 264.9h0M646.5 217.8h0M592.9 245.5h0M605.7 283.2h0M626.9 260.8h0M597.1 223.8h0M639.9 271.3h0M655.1 217.7h0M617.4 272.6h0M649.2 253.1h0M652.5 212.6h0M609.7 252.1h0M669.6 216.9h0M664.6 224.9h0M668.7 254.8h0M668.0 289.2h0M604.1 253.8h0M652.9 259.0h0M641.8 244.9h0M622.5 242.7h0M599.0 273.8h0M641.2 253.3h0M650.7 219.9h0M640.1 297.2h0M639.9 253.9h0M654.3 265.8h0M623.2 259.9h0M634.0 239.1h0M657.5 232.8h0M643.9 233.8h0M632.0 240.2h0M646.4 225.4h0M656.1 239.1h0M642.2 242.1h0M660.0 265.8h0M667.3 264.6h0M647.1 277.2h0M590.5 220.7h0M612.3 224.5h0M626.9 255.1h0M641.9 246.8h0M666.2 258.7h0M595.2 227.3h0M593.7 297.7h0M672.1 251.4h0M595.4 221.9h0M648.5 223.3h0M650.5 242.3h0M653.6 227.6h0M583.7 229.9h0M647.8 291.7h0M634.6 220.3h0M615.8 256.7h0M650.4 295.5h0M650.1 211.7h0M652.9 261.1h0M639.2 265.2h0M637.2 242.8h0M625.0 272.3h0M655.1 260.9h0M585.9 221.2h0M653.6 264.7h0M597.1 214.2h0M623.6 260.6h0M659.1 231.7h0M667.9 261.4h0M586.4 263.3h0M595.4 296.5h0M622.7 234.4h0M591.6 289.9h0M613.9 275.4h0M661.3 238.0h0M589.5 254.6h0M622.6 244.6h0M629.1 255.6h0M638.7 234.2h0M586.7 232.1h0M630.2 219.4h0M648.2 211.9h0M673.5 223.7h0M660.8 260.1h0M656.9 243.9h0M603.9 240.4h0M628.9 260.3h0M615.4 232.7h0M602.9 293.0h0M638.9 277.8h0M658.6 228.7h0M673.9 230.4h0M609.1 216.6h0M652.2 232.4h0M597.9 222.6h0M658.5 259.0h0M611.2 231.5h0M671.8 217.2h0M620.0 240.4h0M647.2 265.6h0M621.8 224.7h0M623.6 293.8h0M584.5 222.7h0M644.9 218.5h0M601.9 245.8h0M645.1 238.7h0M587.8 240.9h0M622.8 295.6h0M602.2 243.1h0M663.2 246.1h0M594.7 251.9h0M654.1 286.1h0M663.2 218.7h0M670.7 230.8h0M673.1 207.6h0M619.7 273.0h0M657.7 261.5h0M666.4 217.1h0M635.2 248.4h0M637.4 293.1h0M673.0 221.9h0M589.1 290.6h0M646.7 244.3h0M583.6 292.6h0M670.2 257.8h0M654.1 207.2h0M619.4 295.0h0M661.6 258.4h0M661.4 295.5h0M602.0 238.1h0M589.6 233.5h0M618.7 251.8h0M650.0 233.0h0M635.3 298.6h0M637.2 221.7h0M585.1 229.3h0M658.9 253.4h0M653.1 253.4h0M621.5 265.1h0M594.7 261.2h0M608.0 248.4h0M623.6 297.9h0M618.8 264.0h0M623.4 226.1h0M593.3 298.5h0M651.3 264.9h0M658.6 275.1h0M630.0 234.0h0M584.1 243.4h0M604.5 224.0h0M643.7 222.4h0M610.1 235.0h0M604.8 230.6h0M665.7 252.2h0M639.6 207.6h0M624.7 239.0h0M638.2 278.3h0M624.9 257.9h0M635.6 214.0h0M631.6 283.2h0M610.6 269.4h0M623.5 283.1h0M664.6 235.5h0M586.4 206.7h0M659.1 217.6h0M609.9 254.9h0M591.0 244.2h0M630.4 285.3h0M651.0 220.5h0M644.3 211.9h0M595.2 230.5h0M591.6 251.8h0M622.2 239.8h0M615.1 234.7h0M659.3 208.3h0M625.9 272.8h0M672.9 220.2h0M604.8 223.6h0M641.3 217.7h0M667.2 238.7h0M662.7 291.4h0M628.1 256.5h0M672.2 271.3h0M584.9 244.1h0M624.5 258.8h0M585.6 292.6h0M665.1 212.7h0M610.0 227.4h0M583.9 293.4h0M584.9 242.7h0M604.1 233.0h0M638.5 292.3h0M669.1 232.8h0M586.4 239.1h0M666.7 291.4h0M593.1 247.7h0M651.2 207.7h0M665.5 236.5h0M630.1 235.1h0M652.0 265.7h0M656.5 264.9h0M615.9 239.1h0M654.2 264.7h0M650.1 234.8h0M620.7 259.2h0M670.8 224.1h0M594.1 257.2h0M652.5 226.6h0M589.0 207.6h0M649.7 293.1h0M659.5 275.9h0M652.3 209.4h0M615.1 258.0h0M673.6 273.7h0M614.8 289.3h0M607.2 228.9h0M634.1 267.0h0M601.3 229.1h0M653.4 229.6h0M662.9 290.2h0M618.1 234.2h0M605.1 258.4h0M590.0 218.1h0M652.3 295.3h0M615.7 280.7h0M651.8 278.4h0M634.2 262.1h0M616.0 232.4h0M609.5 239.1h0M590.0 249.7h0M645.3 297.7h0M663.7 245.9h0M631.1 237.3h0M609.1 255.3h0M667.7 226.4h0M643.3 253.5h0M643.5 239.6h0M614.0 228.7h0M606.7 266.6h0M657.1 245.8h0M617.9 226.7h0M617.6 230.8h0M660.8 224.2h0M659.8 220.8h0M604.1 260.6h0M635.2 232.9h0M596.2 235.3h0M620.4 236.7h0M618.1 297.4h0M666.7 230.6h0M600.5 215.1h0M671.0 294.2h0M617.9 233.6h0M644.5 234.0h0M594.2 288.7h0M630.6 274.4h0M657.9 245.9h0M616.4 254.7h0M613.0 244.0h0M604.2 266.8h0M672.3 215.4h0M623.6 226.3h0M628.2 226.6h0M602.7 220.5h0M634.3 267.4h0M633.2 265.0h0M605.1 212.6h0M617.1 295.2h0M664.3 214.3h0M647.7 244.6h0M663.1 261.3h0M670.0 291.4h0M586.6 240.4h0M607.8 219.4h0M646.5 261.9h0M641.7 271.1h0M646.9 217.3h0M626.8 229.3h0M610.8 228.1h0M593.7 254.7h0M635.6 249.2h0M605.8 260.2h0M653.4 249.1h0M593.4 292.8h0M648.2 256.5h0M636.0 213.9h0M613.2 269.7h0M624.4 242.4h0M670.7 214.5h0M663.6 252.4h0M622.4 297.4h0M668.3 266.9h0M642.0 274.0h0M670.4 235.3h0M659.9 287.7h0M644.7 240.4h0M633.5 221.4h0M628.6 244.5h0M638.6 251.7h0M658.3 295.8h0M582.7 262.4h0M664.7 231.0h0M605.8 223.0h0M590.3 244.4h0M622.6 292.5h0M657.2 229.9h0M589.5 261.3h0M613.3 226.1h0M598.4 242.7h0M631.4 249.9h0M658.2 262.0h0M671.4 296.5h0M629.4 287.8h0M647.7 261.0h0M659.1 262.7h0M661.1 234.8h0M633.3 292.4h0M641.8 295.0h0M605.6 268.2h0M623.4 259.8h0M636.0 214.0h0M609.8 260.8h0M621.9 295.0h0M615.2 256.6h0M596.7 232.8h0M612.4 253.5h0M593.1 248.5h0M593.4 215.7h0M647.2 293.5h0M611.3 267.3h0M672.0 279.8h0M596.9 284.1h0M650.6 212.7h0M668.9 266.1h0M670.7 265.1h0M623.2 269.0h0M654.3 265.2h0M598.6 253.5h0M630.1 221.2h0M631.0 237.3h0M598.2 252.4h0M663.4 248.5h0M611.8 270.0h0M657.9 230.7h0M596.9 292.2h0M583.9 295.7h0M635.3 241.0h0M647.3 283.0h0M660.3 247.1h0M584.5 259.2h0M655.4 264.7h0M662.7 243.7h0M614.7 249.6h0M664.4 247.6h0M644.7 298.1h0M606.1 226.5h0M598.3 258.6h0M597.6 251.1h0M641.9 252.8h0M636.7 276.8h0M613.3 274.0h0M641.0 228.9h0M624.6 240.1h0M655.5 242.6h0M656.3 210.2h0M588.1 280.5h0M632.2 292.3h0M610.3 266.1h0M639.0 279.2h0M606.8 279.2h0M583.6 236.6h0M638.0 273.5h0M641.8 218.8h0M631.8 255.5h0M607.5 229.7h0M642.5 239.5h0M660.3 292.9h0M635.1 240.6h0M624.5 243.2h0M669.4 249.1h0M615.0 230.6h0M597.4 263.2h0M650.5 218.2h0M627.2 242.7h0M617.3 235.6h0M616.3 274.1h0M639.6 271.4h0M661.3 255.3h0M635.0 292.4h0M646.0 260.4h0M633.9 298.1h0M630.1 263.9h0M617.1 247.0h0M601.8 278.7h0M672.5 226.1h0M628.1 232.2h0M670.8 227.6h0M647.2 247.4h0M664.3 274.7h0M597.9 262.6h0M653.3 231.3h0M655.3 297.6h0M629.9 277.3h0M656.4 235.9h0M674.0 243.6h0M630.7 242.6h0M596.8 240.0h0M661.2 211.8h0M613.8 279.4h0M599.0 237.0h0M632.4 273.4h0M667.2 291.8h0M597.1 258.2h0M664.5 245.3h0M599.4 226.4h0M672.2 291.0h0M620.0 296.2h0M655.6 222.7h0M593.5 265.0h0M652.1 220.5h0M620.7 261.8h0M606.0 222.3h0M658.6 232.7h0M631.5 297.5h0M656.8 265.0h0M634.0 288.9h0M648.0 254.4h0M620.3 286.3h0M648.6 239.2h0M637.1 292.2h0M590.7 231.3h0M672.9 244.9h0M661.2 235.3h0M628.2 292.8h0M671.2 233.6h0M624.3 266.9h0M599.6 233.8h0M670.9 286.2h0M669.1 246.9h0M637.3 243.7h0M589.8 215.8h0M636.4 275.1h0M622.0 231.4h0M652.8 222.7h0M616.3 251.8h0M597.7 215.6h0M631.3 218.9h0M623.6 257.3h0M634.1 233.1h0M587.6 298.1h0M627.4 248.8h0M629.8 223.2h0M672.8 262.4h0M615.2 238.0h0M606.3 249.2h0M610.3 226.4h0M627.5 248.0h0M667.7 290.5h0M606.4 227.6h0M628.1 259.0h0M628.3 267.4h0M608.6 263.5h0M623.2 270.3h0M603.5 266.6h0M654.1 262.9h0M591.1 215.3h0M609.7 296.8h0M651.7 297.0h0M646.9 246.0h0M634.4 210.6h0M601.8 247.4h0M656.9 292.6h0M603.2 275.4h0M621.2 222.7h0M656.7 266.0h0M583.9 252.8h0M664.5 238.7h0M599.3 248.0h0M601.4 240.3h0M672.1 216.8h0M593.1 212.1h0M657.4 244.2h0M635.0 248.7h0M643.2 240.6h0M589.8 211.5h0M672.6 261.0h0M647.4 226.9h0M637.8 247.2h0M628.9 246.3h0M648.1 234.8h0M595.4 265.8h0M670.2 210.6h0M601.7 269.8h0M587.6 226.2h0M593.7 240.8h0M669.5 251.1h0M585.4 212.4h0M671.3 206.7h0M660.6 276.2h0M670.9 296.8h0M631.4 242.6h0M585.2 294.0h0M649.3 252.0h0M583.6 245.9h0M600.6 216.8h0M668.3 246.2h0M604.3 253.1h0M628.8 236.7h0M656.4 252.7h0M635.9 284.6h0M653.5 207.7h0M621.1 281.1h0M661.2 244.3h0M642.7 217.5h0M586.5 212.9h0M635.0 221.8h0M588.3 236.9h0M653.5 218.5h0M584.7 262.4h0M646.0 242.2h0M669.7 291.9h0M603.3 217.0h0M672.2 249.6h0M659.9 254.8h0M664.3 263.2h0M586.6 239.3h0M614.0 247.6h0M644.2 223.5h0M616.2 239.0h0M609.9 264.4h0M607.8 264.3h0M597.8 225.9h0M586.1 233.6h0M659.4 206.4h0M653.0 298.0h0M601.2 269.8h0M605.8 268.5h0M622.4 263.7h0M634.6 221.9h0M583.3 259.6h0M638.5 221.3h0M654.4 255.3h0M642.1 259.3h0M658.4 295.5h0M611.1 296.0h0M631.3 271.6h0M656.1 232.5h0M666.3 245.7h0M659.0 257.9h0M640.2 224.6h0M599.6 237.0h0M588.5 222.1h0M620.2 226.0h0M672.3 296.4h0M645.4 262.0h0M624.1 236.3h0M673.2 229.0h0M600.4 290.7h0M616.4 289.5h0M604.7 238.8h0M611.6 265.4h0M619.4 250.4h0M658.3 251.7h0M611.0 262.4h0M612.7 224.5h0M619.8 244.0h0M605.0 231.7h0M643.1 246.4h0M635.0 269.9h0M603.2 248.2h0M632.7 229.3h0M584.5 257.1h0M590.1 237.8h0M588.8 236.3h0M630.5 298.0h0M586.6 225.9h0M655.9 213.0h0M590.5 236.2h0M655.2 213.9h0M640.1 291.9h0M671.9 248.9h0M661.8 250.3h0M647.9 260.6h0M585.7 210.2h0M582.9 256.4h0M583.3 212.5h0M611.4 221.3h0M632.9 228.5h0M613.0 246.6h0M631.6 245.5h0M618.1 251.8h0M665.9 296.5h0M600.3 294.6h0M638.1 252.9h0M630.1 269.0h0M666.1 298.4h0M604.1 250.2h0M659.6 254.8h0M618.1 254.8h0M635.3 268.3h0M652.6 216.9h0M591.3 293.9h0M596.9 213.9h0M618.4 241.4h0M588.7 221.3h0M597.1 279.1h0M620.1 226.1h0M615.5 292.7h0M591.3 263.5h0M622.5 297.8h0M621.0 231.6h0M589.2 296.9h0M635.7 233.0h0M634.5 242.9h0M657.5 231.0h0M637.9 246.4h0M596.7 209.4h0M589.8 211.5h0M618.5 224.2h0M661.2 207.1h0M616.1 295.2h0M660.6 209.0h0M650.7 296.5h0M587.8 217.5h0M599.2 269.2h0M639.9 271.0h0M660.2 206.7h0M634.2 291.4h0M618.9 274.3h0M617.5 229.8h0M599.5 289.8h0M604.5 265.4h0M629.6 219.4h0M627.7 244.0h0M615.5 263.0h0M672.2 230.1h0M595.9 272.2h0M619.0 281.1h0M673.8 247.4h0M604.9 263.4h0M668.7 293.6h0M650.9 260.7h0M640.3 236.9h0M648.5 262.0h0M645.0 208.2h0M673.4 233.4h0M662.7 248.6h0M595.2 216.1h0M608.7 257.0h0M624.6 248.1h0M639.1 211.2h0M670.9 264.9h0M596.3 240.0h0M586.7 292.4h0M649.3 224.4h0M636.2 247.9h0M662.1 243.8h0M653.9 236.9h0M627.6 291.1h0M653.6 265.6h0M624.2 255.1h0M591.6 232.9h0M588.7 213.3h0M626.9 258.9h0M644.8 227.4h0M670.6 209.1h0M603.4 281.0h0M644.5 241.0h0M650.2 213.1h0M674.0 240.2h0M588.8 232.9h0M641.8 275.2h0M625.9 258.2h0M673.6 267.6h0M607.7 269.8h0M610.4 297.3h0M664.1 297.2h0M586.3 289.6h0M671.4 224.4h0M672.0 217.2h0M651.4 235.4h0M664.8 286.9h0M595.8 294.5h0M584.0 221.1h0M670.7 209.0h0M669.1 289.4h0M623.3 283.7h0M624.4 278.3h0M585.3 239.5h0M593.4 250.6h0M625.7 265.6h0M628.0 271.7h0M651.2 289.0h0M599.4 250.9h0M601.1 278.1h0M669.2 265.9h0M618.6 283.2h0M630.8 282.9h0M666.6 256.0h0M584.2 242.6h0M606.1 250.4h0M584.5 220.9h0M582.6 220.3h0M666.9 241.2h0M627.6 283.8h0M632.0 275.2h0M596.4 282.5h0M594.9 258.8h0M602.0 213.4h0M593.3 256.4h0M625.7 247.3h0M582.8 222.9h0M610.0 248.4h0M638.2 212.6h0M597.1 230.4h0M613.0 238.2h0M637.4 210.3h0M635.2 270.1h0M614.7 275.0h0M583.7 216.9h0M604.9 291.9h0M583.4 240.7h0M621.5 232.1h0M586.2 258.5h0M605.3 258.3h0M616.5 265.4h0M603.5 276.5h0M614.7 279.6h0M662.3 290.3h0M623.7 295.7h0M617.8 228.6h0M668.9 211.0h0M594.5 250.0h0M627.8 248.0h0M638.5 262.8h0M654.8 244.2h0M607.4 280.5h0M648.3 262.3h0M669.0 268.7h0M657.8 269.0h0M665.7 213.2h0M651.7 216.9h0M638.3 296.1h0M627.8 283.8h0M635.9 247.5h0M661.4 265.8h0M653.9 292.3h0M596.6 214.4h0M622.2 291.1h0M607.9 297.9h0M646.1 211.8h0M665.3 245.6h0M611.6 220.9h0M585.3 251.3h0M623.3 249.0h0M642.5 230.5h0M600.6 217.3h0M622.2 295.8h0M630.4 224.9h0M671.3 289.3h0M632.2 226.2h0M616.6 249.3h0M671.2 248.4h0M588.2 293.2h0M646.7 283.3h0M653.2 295.8h0M601.2 229.0h0M637.3 247.4h0M622.5 228.7h0M590.5 217.6h0M595.1 223.3h0M620.9 254.8h0M584.4 226.4h0M607.2 231.8h0M624.3 242.0h0M595.5 246.1h0M667.3 262.4h0M649.2 220.0h0M584.3 228.4h0M621.4 251.0h0M661.4 213.5h0M629.9 275.2h0M644.4 218.0h0M628.1 289.9h0M603.4 253.2h0M584.5 244.4h0M645.2 210.1h0M593.0 242.5h0M663.5 222.0h0M607.5 250.4h0M657.7 259.0h0M621.1 241.8h0M673.6 230.8h0M642.2 270.4h0M661.8 231.4h0M621.0 249.9h0M637.8 241.0h0M592.1 225.1h0M622.9 240.8h0M664.2 214.0h0M645.8 207.5h0M640.9 250.3h0M586.3 254.6h0M664.0 257.3h0M669.5 282.8h0M633.5 293.2h0M605.1 212.1h0M601.2 237.0h0M671.0 231.5h0M645.8 247.2h0M585.8 263.9h0M607.1 212.9h0M611.9 232.2h0M615.0 283.0h0M626.0 280.6h0M627.6 223.2h0M595.0 213.7h0M651.4 260.8h0M588.2 211.6h0M643.2 268.4h0M600.5 289.8h0M604.4 235.7h0M584.9 207.7h0M620.9 279.6h0M642.1 220.7h0M595.1 228.7h0M589.5 215.9h0M672.1 292.3h0M640.1 219.7h0M593.5 218.6h0M595.6 257.3h0M596.6 206.8h0M650.9 221.4h0M635.2 214.1h0M636.0 233.6h0M670.8 209.6h0M630.0 238.1h0M603.9 246.0h0M607.3 230.4h0M589.5 219.5h0M663.4 206.9h0M657.5 232.9h0M605.5 238.3h0M589.3 295.9h0M616.8 227.0h0M672.7 248.0h0M668.9 233.7h0M643.2 215.1h0M650.8 213.2h0M645.2 232.3h0M637.8 228.1h0M586.4 283.9h0M626.8 277.7h0M630.2 269.5h0M607.6 215.2h0M625.0 258.8h0M659.9 255.3h0M640.8 290.9h0M616.4 254.6h0M618.0 292.9h0M592.4 257.0h0M625.3 294.2h0M661.4 265.5h0M660.7 208.1h0M644.2 267.2h0M628.0 253.7h0M596.8 235.7h0M631.7 248.3h0M643.9 264.2h0M665.7 209.4h0M621.0 278.4h0M603.4 235.5h0M592.9 258.4h0M648.5 259.0h0M599.2 241.2h0M651.0 210.7h0M660.8 261.5h0M636.4 276.5h0M610.3 259.7h0M623.6 295.6h0M598.1 262.0h0M646.5 243.7h0M668.0 230.1h0M655.7 229.3h0M601.5 211.4h0M626.8 235.6h0M629.7 261.9h0M623.5 230.3h0M653.5 294.0h0M619.6 270.3h0M655.2 255.4h0M655.5 208.6h0M668.4 210.4h0M591.2 227.1h0M583.5 290.7h0M660.8 240.2h0M610.5 259.0h0M587.5 284.1h0M657.3 237.5h0M668.4 234.8h0M594.7 217.0h0M594.5 291.6h0M663.8 226.7h0M591.1 254.5h0M607.5 262.7h0M663.3 212.5h0M592.8 208.7h0M607.4 269.5h0M603.3 220.2h0M618.2 253.1h0M587.5 268.3h0M673.3 232.9h0M653.5 223.2h0M672.3 211.4h0M586.0 259.0h0M654.8 239.2h0M658.0 297.9h0M630.3 270.0h0M594.2 206.4h0M640.5 240.7h0M645.7 238.5h0M638.2 211.6h0M656.4 221.6h0M662.9 218.8h0M583.6 234.7h0M594.2 264.5h0M672.5 237.7h0M646.4 216.1h0M637.4 210.4h0M645.6 292.1h0M584.5 231.8h0M590.1 269.9h0M669.7 216.3h0M610.5 284.7h0M583.7 296.1h0M589.1 224.0h0M608.7 263.5h0M656.9 220.3h0M620.2 229.8h0M627.9 278.2h0M602.9 233.9h0M645.9 219.9h0M591.5 232.1h0M646.9 266.9h0M666.9 218.0h0M602.1 260.0h0M631.6 222.8h0M629.5 227.6h0M646.9 241.6h0M659.1 239.9h0M663.6 261.1h0M670.9 232.4h0M583.5 296.8h0M638.5 228.5h0M653.9 218.9h0M587.7 294.3h0M631.9 211.3h0M672.6 220.3h0M638.2 250.7h0M594.3 209.6h0M637.7 210.7h0M601.0 233.4h0M664.5 242.1h0" stroke="#1f66b6" stroke-width="2.10" stroke-linecap="round" fill="none"/>
<path d="M668.9 274.6h0M632.0 268.9h0M610.0 239.7h0M587.8 296.3h0M673.9 221.3h0M624.3 245.3h0M609.3 243.6h0M642.1 259.9h0M630.1 255.2h0M638.6 260.8h0M608.1 244.2h0M658.8 240.9h0M641.4 240.5h0M634.4 263.1h0M608.8 250.4h0M639.5 247.3h0M605.1 231.1h0M618.5 284.9h0M668.6 240.9h0M614.5 242.0h0M605.9 232.0h0M625.8 293.6h0M611.2 249.6h0M587.2 243.0h0M661.1 226.2h0M658.3 227.1h0M644.5 232.7h0M652.6 257.8h0M587.4 296.6h0M648.3 289.4h0M629.5 260.5h0M602.1 234.6h0M639.6 289.1h0M671.1 223.7h0M617.7 254.0h0M640.8 209.7h0M607.4 249.7h0M587.7 252.6h0M598.8 219.1h0M650.4 258.1h0M635.1 290.5h0M635.2 252.5h0M592.0 298.4h0M605.7 239.2h0M617.9 265.8h0M596.1 211.6h0M660.5 263.3h0M663.6 297.6h0M623.9 244.1h0M600.1 236.6h0M595.8 233.0h0M589.9 220.3h0M658.0 227.6h0M611.0 268.9h0M608.1 247.8h0M644.4 228.9h0M611.9 264.0h0M661.1 298.3h0M613.6 262.8h0M607.6 254.9h0M602.8 248.4h0M611.2 229.2h0M617.7 259.2h0M609.6 220.2h0M610.3 227.5h0M643.5 260.3h0M640.2 270.1h0M642.6 235.2h0M619.3 290.3h0M638.9 263.6h0M648.0 294.6h0M670.4 280.4h0M611.7 293.7h0M664.6 245.5h0M635.6 233.3h0M627.7 278.7h0M651.5 292.4h0M600.4 226.6h0M614.5 244.4h0M663.6 292.0h0M600.3 244.8h0M634.1 266.9h0M652.6 242.1h0M646.4 231.6h0M606.2 251.9h0M646.8 241.1h0M607.6 261.2h0M606.6 238.0h0M605.5 237.3h0M644.9 254.6h0M616.5 260.1h0M629.1 221.2h0M641.4 236.7h0M640.3 257.4h0M634.1 267.9h0M605.2 291.4h0M650.3 240.6h0M653.7 296.9h0M664.0 293.1h0M632.4 256.8h0M610.6 252.3h0M601.9 243.0h0M598.3 216.0h0M617.9 274.1h0M623.3 297.9h0M614.1 270.4h0M613.0 217.9h0M621.9 253.2h0M644.0 231.3h0M618.2 251.1h0M586.4 249.8h0M636.2 249.1h0M655.8 291.3h0M626.9 287.9h0M596.5 216.9h0M606.8 230.7h0M631.2 297.2h0M634.4 232.2h0M653.4 233.8h0M641.4 274.5h0M603.3 225.6h0M624.9 277.9h0M631.5 219.5h0M613.3 252.6h0M608.0 259.0h0M646.6 250.4h0M658.2 227.0h0M585.3 238.7h0M648.1 226.1h0M641.4 235.6h0M634.0 223.8h0M619.2 273.1h0M639.1 292.9h0M641.4 252.1h0M591.3 264.4h0M596.3 226.5h0M618.2 275.3h0M620.6 271.6h0M589.4 267.7h0M632.7 254.2h0M631.5 281.4h0M639.4 234.4h0M605.7 293.5h0M672.5 294.2h0M631.1 271.0h0M595.0 225.0h0M602.2 293.3h0M612.6 265.3h0M620.5 241.7h0M641.8 239.1h0M646.9 227.7h0M643.3 233.0h0M589.9 298.6h0M629.5 263.5h0M610.1 295.2h0M626.1 286.3h0M601.8 227.9h0M655.5 297.4h0M645.9 247.5h0M649.8 217.1h0M628.9 273.4h0M604.6 290.7h0M648.0 269.9h0M621.7 272.5h0M614.8 270.3h0M613.2 236.3h0M628.1 276.9h0M648.8 232.5h0M623.7 227.7h0M643.6 259.0h0M604.1 241.4h0M645.3 241.2h0M589.1 290.5h0M620.8 286.0h0M630.9 287.6h0M638.8 241.3h0M673.9 253.8h0M586.7 252.7h0M602.5 279.4h0M673.2 290.4h0M597.8 209.4h0M638.1 235.2h0M608.6 224.5h0M640.4 296.3h0M601.3 293.5h0M673.2 291.8h0M642.9 229.0h0M626.1 274.5h0M605.5 235.8h0M638.4 261.3h0M614.8 263.7h0M623.5 242.7h0M599.8 227.6h0M637.0 296.8h0M616.2 259.9h0M632.1 253.4h0M624.0 286.8h0M613.0 270.8h0M608.8 242.3h0M643.9 271.5h0M648.0 294.4h0M645.8 226.1h0M629.5 286.9h0M615.5 241.2h0M587.5 216.4h0M668.5 216.1h0M624.9 287.6h0M661.2 234.9h0M673.1 239.7h0M645.0 219.0h0M624.9 267.1h0M627.5 275.8h0M667.0 243.9h0M600.3 229.3h0M614.4 256.3h0M583.7 290.0h0M665.8 240.5h0M592.7 227.1h0M593.2 295.8h0M600.4 269.8h0M625.4 276.1h0M647.7 293.9h0M640.5 264.6h0M632.4 262.7h0M668.5 296.4h0M641.4 213.1h0M637.7 291.0h0M643.6 290.7h0M620.0 267.2h0M599.6 240.8h0M656.4 268.2h0M603.2 292.1h0M656.6 230.4h0M605.1 260.2h0M665.9 233.9h0M665.2 296.2h0M617.3 281.3h0M634.8 273.4h0M646.0 236.3h0M585.3 296.3h0M604.7 291.2h0M615.1 242.3h0M642.4 258.7h0M657.9 264.3h0M673.2 229.1h0M605.3 295.0h0M587.8 297.4h0M597.1 237.1h0M669.3 291.4h0M643.7 239.3h0M659.4 232.8h0M592.2 209.3h0M622.9 290.3h0M598.1 295.9h0M594.0 288.8h0M625.0 286.8h0M669.7 206.5h0M628.1 283.8h0M634.5 283.4h0M639.2 259.4h0M654.1 210.8h0M632.0 260.4h0M634.4 258.5h0M604.8 228.3h0M597.5 228.8h0M587.1 295.4h0M617.8 258.7h0M607.9 292.9h0M662.1 254.0h0M629.9 273.1h0M646.7 241.2h0M634.7 259.1h0M649.1 237.8h0M589.2 298.1h0M620.3 291.4h0M639.4 209.6h0M631.0 257.1h0M636.2 260.7h0M607.9 236.4h0M647.8 242.0h0M589.4 294.6h0M615.7 278.3h0M628.8 286.9h0M620.2 255.5h0M611.5 297.7h0M622.2 286.5h0M636.1 259.7h0M620.6 252.5h0M611.4 274.9h0M584.5 236.2h0M638.1 256.0h0M625.2 295.8h0M613.4 260.0h0M674.0 289.7h0M647.1 251.7h0M630.5 258.5h0M632.8 278.9h0M666.6 209.7h0M643.4 230.1h0M607.1 289.4h0M633.4 281.4h0M630.4 247.0h0M647.6 242.5h0M617.4 278.1h0M630.3 272.2h0M637.7 240.3h0M673.8 228.5h0M648.6 235.0h0M661.8 292.2h0M633.3 294.0h0M612.6 290.0h0M612.5 247.8h0M597.0 226.2h0M612.1 271.1h0M604.6 248.4h0M597.4 237.0h0M655.7 256.9h0M617.4 275.2h0M629.7 264.4h0M611.8 248.9h0M665.0 295.4h0M599.5 291.3h0M639.3 233.0h0M646.7 237.7h0M611.6 243.5h0M609.3 260.2h0M613.3 237.2h0M589.3 291.1h0M671.5 234.6h0M614.3 266.2h0M606.4 255.6h0M614.8 277.6h0M654.9 231.7h0M625.2 275.1h0M609.8 236.2h0M642.8 227.4h0M592.4 257.2h0M616.7 260.3h0M658.8 236.5h0M584.8 213.1h0M612.7 240.7h0M640.2 219.8h0M652.9 233.1h0M605.7 226.5h0M650.3 218.3h0M632.7 262.1h0M644.8 235.4h0M602.5 238.5h0M642.2 262.6h0M645.6 242.9h0M622.7 278.9h0M612.3 272.2h0M607.8 260.6h0M612.3 290.2h0M609.2 242.0h0M613.0 239.2h0M625.1 297.7h0M643.8 239.0h0M614.5 276.3h0M664.2 255.8h0M644.6 269.3h0M631.6 264.8h0M627.8 265.3h0M634.6 270.5h0M615.3 260.3h0M612.6 272.3h0M615.7 250.9h0M641.7 239.2h0M648.6 264.0h0M598.0 227.0h0M591.0 239.9h0M631.9 268.0h0M646.7 291.1h0M632.4 280.2h0M648.8 207.6h0M631.4 267.3h0M596.2 225.6h0M646.2 290.3h0M632.9 284.9h0M637.2 271.3h0M608.8 257.7h0M630.9 272.5h0M610.6 233.2h0M617.5 267.8h0M637.1 278.2h0M620.0 250.1h0M604.6 252.4h0M626.6 293.4h0M606.2 228.9h0M644.0 295.3h0M601.1 214.2h0M604.5 235.6h0M603.5 289.6h0M637.2 294.9h0M608.4 262.1h0M594.1 238.3h0M611.9 289.6h0M600.0 230.1h0M586.1 292.3h0M607.0 226.9h0M643.1 294.8h0M630.6 280.6h0M629.5 279.0h0M649.3 265.8h0M626.8 271.0h0M641.8 239.7h0M628.2 269.2h0M671.2 294.0h0M633.4 281.6h0M594.5 253.3h0M605.7 292.5h0M637.4 266.4h0M616.5 281.6h0M627.5 273.8h0M653.8 226.8h0M629.5 278.4h0M637.0 236.7h0M639.5 270.4h0M639.0 243.0h0M663.0 218.9h0M594.5 293.2h0M592.2 296.4h0M608.8 241.9h0M610.3 253.1h0M635.0 232.6h0M586.0 262.1h0M600.8 218.5h0M637.3 217.4h0M638.8 252.6h0M629.3 292.5h0M582.8 256.3h0M605.6 230.2h0M592.9 224.4h0M623.2 279.6h0M590.2 221.2h0M640.0 289.9h0M628.4 230.2h0M627.9 280.7h0M641.4 239.6h0M633.9 255.7h0M613.1 237.0h0M587.8 251.5h0M651.5 226.1h0M632.7 272.0h0M601.1 265.8h0M635.1 282.7h0M648.3 247.3h0M630.6 232.0h0M647.1 265.0h0M644.6 257.8h0M605.3 291.7h0M622.1 263.9h0M590.2 213.7h0M593.0 240.6h0M596.0 243.4h0M656.4 228.2h0M650.5 234.6h0M603.2 237.2h0M607.7 225.5h0M630.0 242.1h0M656.4 233.4h0M603.1 264.7h0M627.7 273.5h0M592.8 226.8h0M623.7 231.0h0M615.4 241.1h0M623.2 288.3h0M641.5 248.7h0M636.5 239.4h0M665.0 239.3h0M599.6 237.5h0M674.2 294.6h0M650.2 262.6h0M626.6 297.2h0M633.2 258.6h0M643.3 227.4h0M625.4 277.4h0M637.1 247.0h0M654.1 296.3h0M624.3 296.8h0M624.8 297.6h0M633.0 267.7h0M643.8 251.3h0M603.0 251.3h0M608.0 231.5h0M623.8 273.5h0M593.6 244.9h0M643.4 242.4h0M595.8 230.5h0M663.9 258.4h0M637.0 264.7h0M614.8 268.7h0M607.3 293.9h0M629.4 267.1h0M610.7 239.5h0M605.2 298.2h0M643.3 209.2h0M598.4 233.2h0M621.9 254.3h0M656.3 232.7h0M637.4 251.2h0M623.1 260.6h0M586.3 297.4h0M639.4 237.2h0M593.6 207.5h0M646.2 238.2h0M588.7 293.4h0M645.8 248.2h0M640.4 210.5h0M597.2 235.8h0M661.5 240.7h0M616.2 297.9h0M643.2 215.9h0M651.5 247.1h0M607.8 245.6h0M598.7 295.1h0M620.1 278.3h0" stroke="#0e2c6c" stroke-width="2.10" stroke-linecap="round" fill="none"/>
<text x="427.3" y="325.5" font-size="16" font-weight="bold">i</text>
<text x="476.2" y="322.1" font-size="10.3">Tac1</text>
<path d="M441 336.7Q441 334.7 444 334.7L474 334.7L484.5 350L495 334.7L529.8 334.7Q532.8 334.7 532.8 336.7L532.8 425.1Q532.8 427.1 529.8 427.1L444 427.1Q441 427.1 441 425.1Z" fill="#f4f8fd"/>
<path d="M483.8 381.6h0M458.6 382.0h0M450.5 363.1h0M514.7 398.4h0M530.2 422.9h0M456.1 337.1h0M447.3 352.9h0M444.7 377.6h0M486.9 395.6h0M517.5 399.7h0M462.6 361.8h0M510.8 371.9h0M528.0 412.3h0M460.8 418.0h0M530.0 371.6h0M498.5 406.1h0M449.8 365.8h0M452.6 358.0h0M447.4 407.8h0M492.2 376.1h0M452.5 373.7h0M466.2 423.5h0M521.5 354.7h0M518.7 393.7h0M530.8 355.0h0M511.4 365.4h0M448.6 343.8h0M463.8 390.1h0M482.7 422.4h0M493.6 414.0h0M521.2 390.3h0M463.4 399.4h0M516.0 389.6h0M457.8 400.8h0M462.5 386.3h0M467.2 418.6h0M443.5 360.0h0M447.4 351.6h0M493.4 347.6h0M522.0 424.3h0M494.5 348.4h0M443.6 418.0h0M443.9 393.2h0M448.8 385.1h0M508.2 399.3h0M520.2 373.4h0M493.4 392.2h0M494.3 390.7h0M507.4 370.8h0M481.6 411.5h0M509.4 338.4h0M465.0 336.7h0M502.9 354.0h0M523.3 395.4h0M480.7 408.6h0M476.5 388.4h0M454.2 380.6h0M505.9 421.6h0M457.2 376.4h0M461.2 373.1h0M445.7 399.8h0M469.8 407.3h0M454.2 376.8h0M516.5 357.2h0M446.2 392.6h0M498.6 394.9h0M503.5 353.7h0M458.0 336.7h0M506.1 351.9h0M473.0 398.7h0M497.2 404.1h0M513.1 417.6h0M525.7 401.0h0M513.5 421.1h0M461.2 417.1h0M490.2 407.2h0M523.7 413.1h0M449.4 375.6h0M511.0 379.8h0M455.4 382.4h0M503.9 421.2h0M527.2 343.5h0M499.4 383.0h0M470.0 370.2h0M460.7 412.6h0M493.5 353.9h0M487.2 390.4h0M529.1 382.3h0M513.9 386.6h0M504.1 341.7h0M480.9 409.4h0M470.5 353.0h0M444.0 353.2h0M503.7 364.8h0M453.0 381.8h0M459.8 383.6h0M475.7 373.1h0M499.3 383.6h0M514.8 417.3h0M470.3 419.1h0M531.7 415.9h0M463.5 401.4h0M450.7 410.9h0M512.9 347.1h0M503.5 337.3h0M452.4 381.4h0M503.6 352.8h0M451.5 339.1h0M488.2 387.1h0M530.9 419.5h0M447.6 421.7h0M510.7 365.2h0M488.3 374.6h0M482.8 402.5h0M459.5 350.6h0M505.3 413.5h0M495.8 381.3h0M465.2 418.1h0M515.2 372.4h0M504.4 405.1h0M506.9 342.1h0M462.8 421.1h0M501.2 387.2h0M477.0 426.1h0M510.4 424.3h0M497.3 402.5h0M459.6 369.7h0M464.5 417.6h0M487.6 423.1h0M495.7 404.3h0M525.5 350.2h0M457.2 380.5h0M447.3 421.2h0M489.3 389.7h0M467.7 394.9h0M467.5 400.5h0M443.3 357.9h0M456.1 403.9h0M522.6 403.4h0M530.8 421.1h0M523.3 374.5h0M529.4 357.7h0M526.2 401.0h0M529.9 409.5h0M452.3 392.1h0M460.3 340.4h0M453.2 375.7h0M465.5 388.3h0M527.5 402.1h0M498.1 368.2h0M503.5 386.8h0M498.9 403.8h0M464.4 424.3h0M445.5 341.2h0M480.2 392.1h0M490.6 342.3h0M502.7 385.5h0M485.0 354.7h0M508.9 411.5h0M511.0 355.0h0M465.2 408.9h0M500.7 425.1h0M491.3 403.1h0M449.0 343.2h0M485.5 397.7h0M511.6 342.6h0M501.5 343.1h0M507.1 398.4h0M454.8 368.0h0M452.5 399.8h0M524.5 420.7h0M514.1 363.3h0M474.5 368.7h0M477.5 370.7h0M492.6 407.8h0M517.1 386.6h0M510.2 415.3h0M444.0 382.3h0M514.2 341.5h0M512.8 343.3h0M508.2 417.0h0M500.3 357.9h0M477.4 366.2h0M505.6 418.4h0M514.4 411.1h0M499.5 383.1h0M479.9 373.7h0M508.6 425.3h0M457.1 354.2h0M468.2 423.4h0M511.7 351.9h0M445.3 345.5h0M495.4 355.9h0M524.1 366.6h0M527.9 379.3h0M476.6 383.4h0M443.0 378.4h0M513.6 400.2h0M456.1 349.9h0M465.3 414.3h0M499.2 425.5h0M442.1 410.0h0M450.7 379.1h0M469.3 407.1h0M460.7 384.8h0M456.1 410.9h0M469.9 342.6h0M484.0 400.3h0M503.7 345.3h0M483.5 423.1h0M492.7 377.1h0M531.0 408.0h0M497.3 362.0h0M490.5 362.7h0M477.2 396.0h0M460.0 401.8h0M471.8 410.5h0M505.6 352.0h0M517.2 389.3h0M462.3 349.9h0M510.9 409.9h0M471.8 373.0h0M512.9 395.4h0M443.7 365.6h0M500.4 345.3h0M487.7 407.0h0M456.2 405.0h0M473.7 380.9h0M506.1 424.9h0M506.2 411.2h0M526.9 392.4h0M449.5 357.8h0M504.6 365.5h0M490.8 386.4h0M515.4 390.1h0M491.2 342.6h0M458.2 424.9h0M469.6 396.4h0M495.2 408.4h0M459.9 378.0h0M476.7 387.2h0M488.7 359.5h0M471.8 393.7h0M495.9 378.2h0M498.0 398.0h0M485.6 425.6h0M478.7 374.9h0M523.3 383.2h0M480.8 417.4h0M446.9 401.3h0M495.7 403.7h0M495.3 342.0h0M482.1 381.1h0M446.7 398.5h0M463.5 363.4h0M528.8 395.9h0M492.9 417.4h0M513.2 346.9h0M527.4 335.8h0M468.9 365.1h0M522.4 409.4h0M474.0 388.6h0M444.8 416.9h0M473.8 378.4h0M521.0 425.7h0M470.1 417.1h0M449.1 355.9h0M505.8 353.5h0M463.1 395.8h0M501.4 415.7h0M450.1 424.6h0M489.4 383.7h0M495.9 361.4h0M514.1 343.6h0M509.9 357.9h0M530.7 338.7h0M509.4 370.5h0M458.2 386.0h0M501.1 406.5h0M487.4 412.1h0M456.8 390.7h0M481.6 405.6h0M463.2 379.9h0M494.1 380.8h0M495.6 400.3h0M520.4 352.0h0M443.6 380.5h0M448.5 417.7h0M490.8 407.3h0M455.1 363.8h0M470.2 391.9h0M465.8 388.9h0M515.7 351.2h0M456.4 398.1h0M447.5 372.8h0M461.4 423.4h0M482.9 403.0h0M463.6 416.2h0M477.3 362.6h0M510.5 402.1h0M464.7 385.6h0M483.4 420.0h0M472.3 424.4h0M495.0 415.8h0M477.3 411.9h0M512.2 355.2h0M458.5 385.4h0M460.3 355.1h0M503.0 413.7h0M474.6 360.5h0M458.3 359.4h0M524.9 400.4h0M474.3 404.9h0M443.8 364.8h0M449.5 415.5h0M511.2 382.6h0M477.4 357.2h0M455.5 389.5h0M470.0 374.0h0M454.2 399.6h0M507.1 395.9h0M468.2 366.9h0M502.2 418.8h0M503.9 396.0h0M463.1 392.9h0M480.4 371.2h0M476.4 365.4h0M467.1 350.0h0M463.5 344.1h0M479.9 349.3h0M444.1 371.1h0M447.7 372.3h0M486.5 388.7h0M471.2 358.6h0M473.2 416.3h0M465.5 396.1h0M478.9 373.3h0M516.5 415.2h0M523.7 339.1h0M487.5 363.6h0M529.7 349.2h0M462.5 397.2h0M442.1 384.9h0M463.5 380.3h0M498.1 386.4h0M472.0 367.0h0M506.3 398.6h0M486.1 386.7h0M467.7 403.4h0M463.3 358.2h0M458.0 382.1h0M447.7 341.9h0M505.3 345.9h0M511.3 379.2h0M519.8 414.3h0M464.8 381.6h0M471.4 365.9h0M516.4 387.0h0M514.0 347.0h0M502.1 356.6h0M443.2 388.6h0M454.0 397.9h0M498.7 371.6h0M446.4 400.2h0M531.2 346.6h0M444.4 384.7h0M517.3 361.3h0M455.2 351.5h0M525.8 358.4h0M452.8 365.0h0M466.6 356.3h0M474.9 359.2h0M447.8 416.4h0M449.0 352.2h0M485.5 373.2h0M447.2 385.5h0M466.9 420.6h0M444.4 351.0h0M448.7 368.1h0M460.9 422.4h0M489.3 408.9h0M477.9 408.3h0M478.1 399.5h0M523.7 337.8h0M462.4 370.8h0M501.0 409.0h0M499.3 367.7h0M523.3 364.8h0M472.1 402.7h0M457.9 345.3h0M473.5 374.6h0M487.1 372.2h0M490.2 421.8h0M478.7 399.5h0M497.3 415.9h0M487.3 387.0h0M517.2 398.1h0M501.8 373.6h0M462.7 390.0h0M498.3 376.1h0M495.4 419.9h0M484.1 425.5h0M508.2 425.1h0M464.5 408.7h0M490.2 413.9h0M467.1 393.9h0M491.8 406.9h0M463.7 408.0h0M474.9 344.8h0M458.3 370.8h0M460.6 392.6h0M459.7 396.1h0M443.4 366.4h0M498.5 360.9h0M504.4 352.0h0M504.3 377.9h0M452.4 420.8h0M504.1 402.3h0M469.9 372.6h0M498.7 374.1h0M473.1 399.3h0M467.7 412.9h0M525.8 370.7h0M479.6 361.1h0M502.4 357.8h0M453.9 416.6h0M479.8 366.6h0M495.0 385.1h0M522.5 343.7h0M475.6 401.1h0M522.6 421.5h0M498.8 378.1h0M531.1 371.4h0M505.0 425.9h0M530.9 354.6h0M457.0 394.4h0M464.8 409.0h0M452.7 378.1h0M473.5 384.1h0M452.0 407.0h0M487.6 347.0h0M453.6 343.7h0M468.4 406.0h0M461.5 376.5h0M483.3 412.6h0M489.1 372.4h0M519.6 422.8h0M508.0 400.1h0M499.7 412.3h0M479.4 342.8h0M452.0 418.8h0M527.0 387.0h0M523.2 371.4h0M508.4 359.0h0M480.5 378.8h0M480.7 376.5h0M517.0 341.3h0M491.2 371.8h0M450.9 369.3h0M478.5 423.1h0M495.3 422.6h0M495.7 369.0h0M496.7 389.0h0M446.8 344.1h0M466.3 407.6h0M519.2 372.1h0M516.7 365.4h0M525.9 403.7h0M442.5 402.3h0M448.7 406.3h0M509.5 369.9h0M481.2 346.4h0M508.0 342.2h0M516.9 395.9h0M452.2 346.4h0M461.0 373.2h0M480.8 369.8h0M486.3 398.0h0M457.0 388.7h0M473.1 350.5h0M495.1 382.7h0M493.6 411.8h0M504.6 356.8h0M507.6 387.7h0M447.8 410.3h0M506.3 374.8h0M482.9 379.7h0M509.6 344.9h0M493.0 385.6h0M461.6 353.7h0M494.3 417.0h0M519.0 401.4h0M464.4 337.5h0M464.8 362.2h0M453.8 379.5h0M467.6 360.8h0M518.8 390.8h0M524.6 405.8h0M446.9 420.4h0M512.7 356.8h0M475.3 401.6h0M492.8 367.2h0M451.2 386.8h0M447.5 395.9h0M444.7 387.3h0M518.8 406.6h0M448.9 383.3h0M489.3 367.7h0M459.7 399.4h0M492.4 347.9h0M472.1 399.2h0M527.3 419.4h0M443.8 380.0h0M503.6 391.1h0M525.8 343.5h0M528.2 338.6h0M520.0 422.2h0M514.5 335.8h0M513.3 423.9h0M472.1 367.0h0M511.2 359.4h0M489.2 366.0h0M463.0 415.4h0M455.5 358.6h0M512.4 365.8h0M500.8 359.2h0M464.9 415.0h0M462.9 363.0h0M507.2 396.6h0M449.1 404.7h0M512.3 366.3h0M484.7 409.7h0M486.8 370.1h0M524.1 348.7h0M526.9 353.1h0M502.9 415.5h0M482.7 369.4h0M466.5 420.6h0M458.6 367.1h0M469.6 352.2h0M489.3 384.5h0M449.3 355.9h0M469.8 404.5h0M456.4 365.6h0M496.2 412.2h0M510.5 371.9h0M461.0 337.5h0M483.8 352.2h0M469.3 339.5h0M497.6 369.1h0M498.0 364.4h0M521.4 388.2h0M490.5 377.3h0M518.6 415.4h0M487.7 424.7h0M457.4 401.1h0M473.2 386.3h0M524.8 382.2h0M442.1 380.6h0M493.6 392.8h0M450.1 380.7h0M499.6 423.4h0M487.3 374.2h0M526.9 380.0h0M468.1 411.7h0M472.8 353.5h0M516.9 408.3h0M503.5 407.8h0M444.1 382.0h0M525.7 393.9h0M520.2 363.8h0M504.3 404.2h0M453.2 401.4h0M519.9 405.2h0M486.2 370.5h0M462.5 394.8h0M488.3 364.3h0M458.8 394.3h0M527.5 391.7h0M471.9 360.9h0M519.5 384.1h0M508.9 358.3h0M494.2 357.5h0M448.3 340.4h0M489.3 421.5h0M478.5 357.0h0M528.1 346.7h0M503.6 404.6h0M447.1 349.3h0M466.5 400.8h0M483.0 374.8h0M481.3 347.3h0M493.5 403.0h0M500.3 397.3h0M446.2 399.9h0M446.9 378.5h0M448.5 371.0h0M485.7 388.8h0M530.3 346.5h0M461.8 414.0h0M513.1 399.7h0M474.8 375.2h0M470.3 392.1h0M469.3 405.6h0M484.5 415.2h0M475.8 416.9h0M468.6 401.1h0M472.7 400.0h0M479.4 405.0h0M497.1 355.7h0M447.4 388.4h0M510.4 403.2h0M464.6 399.5h0M490.9 424.9h0M512.1 365.1h0M466.6 387.0h0M522.2 395.7h0M514.4 373.7h0M496.4 377.3h0M510.2 342.5h0M504.1 398.1h0M466.6 368.1h0M458.0 346.3h0M513.3 402.5h0M485.9 398.6h0M515.5 413.4h0M505.2 398.9h0M520.9 355.4h0M470.2 375.6h0M496.7 424.9h0M462.0 391.7h0M528.6 366.5h0M480.7 410.5h0M521.3 414.6h0M446.2 398.6h0M517.5 384.8h0M450.6 339.7h0M504.5 364.8h0M468.0 386.4h0M474.3 358.2h0M465.4 337.2h0M495.2 360.0h0M518.0 378.1h0M470.0 415.9h0M501.2 398.3h0M479.1 371.0h0M484.1 383.5h0M512.8 416.4h0M444.0 362.9h0M513.5 391.8h0M459.2 414.2h0M504.1 403.0h0M464.2 423.5h0M488.4 425.2h0M531.2 336.9h0M477.0 393.5h0M492.5 420.6h0M510.5 389.2h0M457.6 377.6h0M461.5 376.1h0M472.0 422.3h0M451.1 393.3h0M445.1 407.8h0M460.1 338.4h0M484.5 422.3h0M465.3 410.5h0M506.2 352.4h0M529.0 357.4h0M524.4 396.7h0M458.7 357.1h0M502.1 392.5h0M506.4 380.3h0M486.2 370.4h0M475.3 365.5h0M495.2 418.4h0M492.7 357.3h0M445.0 352.8h0M510.3 401.0h0M516.1 349.1h0M476.2 343.5h0M445.4 345.9h0M459.2 345.8h0M499.5 350.9h0M490.1 369.6h0M493.0 381.6h0M497.2 353.2h0M442.8 415.9h0M453.9 370.4h0M505.5 417.8h0M458.7 371.3h0M519.8 368.4h0M528.1 416.9h0M521.9 426.0h0M528.2 348.7h0M447.6 392.5h0M471.0 390.6h0M474.8 398.4h0M518.3 353.7h0M472.5 335.8h0M442.2 365.4h0M531.0 393.3h0M506.3 356.7h0M470.5 371.6h0M497.4 350.4h0M450.8 338.9h0M516.0 397.5h0M518.9 369.3h0M499.6 338.0h0M444.7 350.3h0M489.7 347.3h0M516.0 366.8h0M502.3 401.6h0M494.3 413.7h0M467.8 405.7h0M443.0 378.8h0M496.0 381.8h0M447.3 347.6h0M468.0 376.9h0M514.2 371.4h0M477.7 379.1h0M531.8 339.9h0M449.1 397.0h0M455.4 374.0h0M510.6 375.9h0M475.0 416.0h0M443.0 415.8h0M461.2 376.0h0M446.6 420.3h0M454.9 406.2h0M445.3 394.6h0M522.9 407.2h0M446.1 390.2h0M469.0 418.6h0M527.2 391.6h0M487.3 348.3h0M527.3 413.9h0M491.6 364.4h0M508.8 404.3h0M486.6 394.0h0M495.7 391.1h0M520.7 423.4h0M500.2 369.5h0M474.9 394.2h0M473.6 412.2h0M524.7 363.1h0M522.1 343.3h0M473.7 378.5h0M468.1 374.1h0M514.1 365.2h0M496.2 337.1h0M495.8 364.6h0M524.8 414.2h0M453.3 408.7h0M492.0 344.5h0M493.9 416.8h0M500.0 378.5h0M456.2 383.6h0M488.3 400.2h0M512.8 410.3h0M455.0 340.0h0M528.1 363.7h0M483.8 386.7h0M511.9 365.7h0M442.1 385.2h0M521.4 342.0h0M479.1 382.8h0M451.6 348.1h0M489.9 388.3h0M530.6 411.2h0M458.0 404.0h0M460.7 346.6h0M462.8 417.1h0M453.4 367.6h0M500.2 400.8h0M483.0 378.0h0M471.3 386.9h0M446.1 370.7h0M444.9 342.9h0M526.6 411.4h0M470.4 369.0h0M454.3 389.1h0M457.8 345.2h0M513.0 343.2h0M470.3 405.2h0M482.6 367.8h0M460.0 408.4h0M469.2 375.7h0M460.3 416.9h0M446.5 361.5h0M479.6 420.9h0M515.6 342.1h0M507.7 366.5h0M447.7 340.3h0M491.1 371.9h0M472.1 380.1h0M466.2 340.4h0M468.8 346.1h0M520.9 368.3h0M451.1 406.7h0M486.3 366.8h0M513.2 411.2h0M502.5 377.4h0M494.0 383.2h0M446.7 403.7h0M495.7 417.8h0M485.9 402.2h0M521.3 336.3h0M525.9 383.4h0M485.1 366.3h0M521.5 420.2h0M451.9 365.8h0M484.5 375.0h0M526.4 419.9h0M462.5 357.8h0M499.8 390.5h0M531.1 363.9h0M517.5 339.5h0M510.9 381.7h0M489.2 395.6h0M527.3 419.3h0M515.7 386.9h0M447.5 401.7h0M522.3 425.3h0M502.7 395.8h0M507.0 408.3h0M460.4 376.5h0M451.8 336.0h0M464.0 356.2h0M496.7 401.9h0M473.8 366.4h0M523.8 396.1h0M514.6 422.5h0M497.2 393.4h0M498.1 424.8h0M483.5 416.8h0M443.0 365.2h0M531.1 371.4h0M504.0 344.5h0M477.5 346.9h0M480.0 408.2h0M529.8 353.4h0M462.3 337.0h0M522.4 362.1h0M489.1 359.7h0M447.9 367.3h0M515.2 405.3h0M519.8 402.7h0M453.7 403.3h0M511.6 350.0h0M498.1 390.4h0M529.0 381.8h0M530.1 370.5h0M502.1 359.2h0M469.2 390.6h0M521.8 419.0h0M516.0 343.8h0M453.4 400.5h0M442.1 407.4h0M521.6 409.7h0M504.9 339.2h0M525.1 397.0h0M506.7 399.1h0M511.3 388.0h0M489.2 360.6h0M521.8 367.3h0M509.5 424.5h0M447.6 350.5h0M462.9 355.7h0M444.6 380.3h0M475.0 421.7h0M516.3 383.8h0M516.8 401.4h0M456.0 423.1h0M475.1 418.0h0M473.8 343.1h0M460.3 374.9h0M501.1 344.4h0M515.9 357.8h0M513.2 336.0h0M490.2 400.3h0M462.1 353.7h0M467.3 385.7h0M504.3 373.4h0M507.2 420.8h0M442.4 347.1h0M514.2 390.5h0M452.3 393.8h0M454.0 389.4h0M516.2 348.1h0M454.9 380.1h0M485.9 418.2h0M514.4 355.2h0M447.1 404.8h0" stroke="#e6f0fa" stroke-width="2.00" stroke-linecap="round" fill="none"/>
<path d="M482.6 386.3h0M517.6 382.6h0M467.0 425.9h0M507.7 347.5h0M455.8 417.8h0M464.4 352.9h0M473.6 397.6h0M499.4 425.5h0M485.2 356.5h0M486.7 391.3h0M522.1 365.3h0M470.3 411.6h0M448.7 338.5h0M482.7 392.2h0M475.8 387.1h0M500.5 354.2h0M515.5 393.7h0M514.7 341.5h0M457.5 366.0h0M489.3 361.9h0M479.2 422.2h0M525.1 347.4h0M497.7 345.2h0M456.3 354.2h0M518.9 356.7h0M458.6 354.1h0M443.2 399.1h0M443.4 416.4h0M473.9 393.4h0M531.4 393.4h0M511.9 383.7h0M452.2 416.4h0M452.8 408.9h0M475.2 344.5h0M477.9 420.2h0M493.0 423.1h0M498.9 348.7h0M510.7 382.8h0M486.3 384.3h0M516.2 396.0h0M469.7 346.1h0M483.2 388.5h0M461.5 357.0h0M467.2 351.3h0M470.0 385.3h0M485.1 359.2h0M446.5 421.4h0M466.7 425.2h0M490.0 349.3h0M449.4 360.1h0M527.8 388.7h0M524.3 343.9h0M443.1 369.8h0M526.9 386.6h0M454.6 344.2h0M478.5 342.3h0M480.3 381.9h0M529.4 348.0h0M465.7 417.9h0M516.1 361.8h0M463.6 387.6h0M463.2 341.9h0M514.3 355.7h0M486.8 420.1h0M460.5 362.4h0M522.5 353.4h0M498.8 353.0h0M446.5 345.3h0M454.1 398.6h0M462.6 362.9h0M501.9 360.7h0M491.2 352.5h0M527.4 351.4h0M481.7 359.5h0M486.0 404.5h0M445.6 372.1h0M472.8 398.5h0M469.7 376.1h0M476.4 342.3h0M460.4 361.0h0M478.4 370.6h0M445.7 337.9h0M492.8 408.8h0M484.7 350.8h0M505.0 385.7h0M511.3 392.4h0M516.0 350.1h0M506.3 358.5h0M505.5 392.0h0M445.8 361.6h0M475.5 363.7h0M497.5 404.9h0M504.3 385.1h0M492.8 348.7h0M531.5 354.0h0M481.8 411.1h0M508.7 385.1h0M521.1 364.7h0M530.7 374.6h0M466.5 396.9h0M458.5 368.0h0M499.0 369.9h0M486.1 356.9h0M500.3 420.5h0M513.6 381.9h0M447.8 414.4h0M491.3 417.6h0M473.1 413.9h0M494.0 361.5h0M527.7 362.2h0M483.7 364.3h0M483.5 372.0h0M454.8 371.4h0M519.2 421.1h0M443.0 349.6h0M485.9 394.8h0M485.5 356.5h0M486.7 382.4h0M515.6 407.0h0M510.6 340.0h0M491.6 419.5h0M503.0 424.6h0M527.7 386.3h0M517.4 346.9h0M511.9 345.2h0M494.4 379.1h0M492.2 423.9h0M518.1 338.9h0M455.6 421.7h0M514.4 344.5h0M496.8 346.6h0M474.7 421.7h0M520.5 350.2h0M507.9 384.0h0M501.0 342.2h0M530.8 363.7h0M444.9 410.7h0M488.7 388.1h0M461.6 373.2h0M474.0 418.1h0M476.8 348.0h0M467.8 389.3h0M520.9 422.5h0M525.6 348.5h0M468.4 407.4h0M459.1 421.0h0M456.6 351.3h0M513.8 380.8h0M467.5 344.5h0M513.8 356.9h0M513.7 358.7h0M514.0 351.6h0M469.2 357.8h0M513.1 390.9h0M493.1 421.0h0M444.1 350.3h0M471.7 419.5h0M499.6 420.5h0M464.6 384.6h0M489.4 352.8h0M510.9 394.3h0M484.6 422.0h0M448.4 360.1h0M451.5 421.9h0M478.9 371.8h0M478.0 396.4h0M502.1 375.0h0M531.2 353.5h0M477.1 389.1h0M486.5 350.8h0M531.0 387.2h0M444.2 369.6h0M469.9 414.6h0M457.4 367.8h0M474.7 356.4h0M530.4 389.9h0M451.1 337.6h0M457.8 360.3h0M477.7 385.7h0M531.0 418.6h0M488.2 363.7h0M472.2 387.9h0M443.6 355.6h0M461.2 342.3h0M515.1 401.2h0M499.0 391.3h0M492.6 370.3h0M486.9 380.9h0M507.1 342.8h0M517.8 391.7h0M445.4 338.3h0M518.0 390.1h0M467.5 362.2h0M512.4 398.9h0M452.1 424.3h0M492.7 347.6h0M482.2 413.2h0M506.9 413.1h0M508.6 377.6h0M455.6 406.5h0M479.2 352.3h0M493.4 396.7h0M503.2 425.2h0M453.9 348.0h0M509.3 341.5h0M499.8 342.3h0M507.0 417.4h0M479.7 398.7h0M450.6 351.0h0M496.4 347.3h0M517.8 370.6h0M470.3 344.8h0M452.5 348.6h0M510.2 356.1h0M507.5 338.4h0M452.8 342.7h0M479.8 367.7h0M511.0 389.1h0M483.5 359.0h0M482.9 397.6h0M510.7 356.6h0M513.3 359.4h0M468.1 337.2h0M484.7 369.6h0M492.6 348.7h0M507.9 415.2h0M449.3 399.8h0M482.0 360.4h0M450.2 354.6h0M463.8 406.8h0M506.4 378.4h0M507.7 411.3h0M499.4 341.8h0M479.3 398.5h0M502.8 337.6h0M501.6 340.6h0M474.6 336.1h0M518.6 405.5h0M501.7 417.5h0M497.0 391.9h0M444.7 390.8h0M505.0 356.7h0M468.5 339.5h0M447.0 375.6h0M452.8 420.2h0M521.1 370.9h0M519.9 397.3h0" stroke="#cadef1" stroke-width="2.00" stroke-linecap="round" fill="none"/>
<path d="M526.4 353.5h0M451.3 339.2h0M503.3 418.1h0M478.0 399.0h0M502.3 348.8h0M474.4 349.6h0M484.1 391.3h0M474.6 387.8h0M530.5 344.8h0M523.0 342.2h0M483.0 381.5h0M496.4 423.4h0M518.3 349.7h0M451.9 362.9h0M503.1 343.4h0M527.3 345.7h0M485.7 386.1h0M510.5 383.3h0M524.1 356.8h0M494.4 349.9h0M501.9 345.6h0M511.2 384.4h0M517.8 399.0h0M446.4 338.2h0M477.2 384.7h0M475.1 351.6h0M456.3 410.4h0M524.6 390.0h0M451.2 423.1h0M499.4 349.0h0M461.0 356.2h0M448.8 344.7h0M459.1 335.8h0" stroke="#8bb9e1" stroke-width="2.00" stroke-linecap="round" fill="none"/>
<path d="M507.6 364.5h0M448.9 338.8h0M519.9 347.2h0M474.1 353.4h0M478.9 349.8h0M526.2 351.2h0" stroke="#3270b4" stroke-width="2.20" stroke-linecap="round" fill="none"/>
<path d="M446.5 337.8Q451 336.2 456.5 337.4" stroke="#172f66" stroke-width="2.3" stroke-linecap="round" fill="none"/>
<path d="M443.5 337.8h0" stroke="#16336e" stroke-width="2.20" stroke-linecap="round" fill="none"/>
<path d="M449.5 347.5h0M463.0 346.0h0M462.0 361.0h0M508.0 343.0h0M511.0 341.5h0M513.0 346.0h0M443.0 424.0h0M529.0 424.5h0" stroke="#2a5ea8" stroke-width="2.20" stroke-linecap="round" fill="none"/>
<path d="M525.0 338.5h0M523.0 336.8h0M527.0 337.4h0M521.0 338.0h0" stroke="#3a78bf" stroke-width="2.40" stroke-linecap="round" fill="none"/>
<ellipse cx="459.1" cy="349" rx="27.5" ry="12.2" transform="rotate(30 459.1 349)" fill="none" stroke="#e2222b" stroke-width="1.45"/>
<ellipse cx="509.7" cy="349" rx="27.5" ry="12.2" transform="rotate(-30 509.7 349)" fill="none" stroke="#e2222b" stroke-width="1.45"/>
<text x="566.6" y="325.5" font-size="16" font-weight="bold">j</text>
<text x="615.6" y="322.1" font-size="10.3">Tacr1</text>
<path d="M582.1 337.5Q582.1 335.5 585.1 335.5L614 335.5L624.0 352L634 335.5L671.2 335.5Q674.2 335.5 674.2 337.5L674.2 425.1Q674.2 427.1 671.2 427.1L585.1 427.1Q582.1 427.1 582.1 425.1Z" fill="#f4f8fd"/>
<path d="M596.2 375.9h0M589.8 398.1h0M619.6 412.0h0M588.6 418.5h0M593.2 374.4h0M611.3 392.2h0M645.9 341.1h0M656.6 372.4h0M671.1 396.0h0M585.6 410.2h0M629.9 356.4h0M618.1 405.7h0M586.4 361.3h0M601.9 361.8h0M598.2 419.3h0M613.9 358.1h0M673.1 381.6h0M626.1 392.7h0M668.4 416.6h0M609.3 414.7h0M646.6 355.7h0M595.0 415.9h0M669.8 404.6h0M635.4 367.6h0M649.4 387.0h0M664.0 418.1h0M654.2 370.5h0M645.2 385.0h0M618.6 358.5h0M612.3 397.9h0M603.0 418.8h0M637.7 412.0h0M614.7 402.1h0M628.1 368.8h0M608.8 420.4h0M620.3 391.9h0M619.1 408.8h0M615.4 402.3h0M602.1 415.3h0M610.9 337.7h0M597.8 400.6h0M660.8 390.9h0M644.8 384.5h0M629.7 400.6h0M621.6 372.9h0M651.0 411.7h0M588.7 346.2h0M588.2 337.3h0M593.3 397.9h0M668.7 339.0h0M666.5 379.1h0M651.3 374.4h0M611.6 358.2h0M652.0 420.1h0M610.0 419.2h0M643.4 337.6h0M651.3 366.9h0M660.8 425.2h0M600.6 392.4h0M668.9 403.2h0M649.5 393.1h0M673.0 366.1h0M624.5 352.0h0M601.6 365.4h0M614.6 420.5h0M613.0 395.4h0M629.6 394.5h0M643.6 345.6h0M598.6 375.8h0M658.9 357.4h0M640.6 393.6h0M626.2 422.4h0M667.5 371.6h0M596.8 411.5h0M587.8 341.0h0M610.8 350.7h0M658.1 370.5h0M637.3 420.1h0M667.1 383.8h0M632.8 407.4h0M631.2 417.7h0M658.7 394.2h0M585.0 380.8h0M666.0 383.3h0M659.0 416.8h0M632.1 412.4h0M644.1 414.4h0M615.8 362.2h0M595.8 390.5h0M670.2 384.2h0M608.8 404.2h0M620.5 365.6h0M611.5 420.5h0M646.8 354.8h0M669.6 342.4h0M673.1 406.3h0M665.2 364.9h0M626.3 354.8h0M663.9 420.0h0M644.2 389.4h0M625.6 376.6h0M601.3 373.4h0M644.7 382.8h0M665.4 394.7h0M596.1 385.0h0M612.3 389.1h0M604.1 401.9h0M663.3 350.8h0M627.7 418.0h0M607.9 385.7h0M660.6 359.9h0M662.2 396.5h0M586.8 411.0h0M583.8 402.3h0M666.1 411.8h0M591.0 352.2h0M654.6 418.6h0M613.2 422.5h0M606.8 401.1h0M650.0 415.2h0M665.4 426.0h0M606.2 405.3h0M583.5 344.1h0M660.9 418.6h0M591.4 416.1h0M657.6 364.5h0M647.4 352.1h0M592.8 374.5h0M649.6 356.8h0M596.0 407.4h0M639.2 344.6h0M621.6 353.2h0M588.7 378.9h0M644.0 424.7h0M660.0 388.3h0M667.8 405.8h0M630.5 401.6h0M621.6 356.5h0M620.2 375.6h0M606.2 400.6h0M642.3 398.8h0M631.4 385.0h0M600.7 416.7h0M655.0 370.9h0M588.5 421.5h0M643.4 393.6h0M633.4 398.0h0M605.1 419.3h0M660.3 404.9h0M631.8 344.7h0M627.8 396.4h0M593.8 421.2h0M638.6 409.5h0M670.6 413.2h0M641.4 364.0h0M598.9 389.5h0M659.5 391.6h0M656.6 370.0h0M655.2 424.1h0M593.7 363.1h0M658.1 371.9h0M647.7 424.9h0M650.3 405.4h0M594.2 412.8h0M635.4 422.4h0M606.2 347.9h0M662.6 410.2h0M628.6 392.8h0M624.9 352.1h0M623.3 367.3h0M638.9 365.0h0M617.1 361.6h0M638.2 356.2h0M597.5 413.6h0M631.9 415.8h0M627.8 374.5h0M603.4 358.1h0M661.6 401.6h0M664.5 372.8h0M585.9 416.8h0M644.7 405.2h0M585.8 367.4h0M624.5 419.6h0M657.5 389.5h0M584.2 386.6h0M630.5 356.5h0M591.7 382.0h0M655.2 381.5h0M649.9 415.9h0M608.0 367.5h0M672.6 424.3h0M650.1 366.1h0M623.8 412.9h0M664.2 403.4h0M587.9 364.0h0M603.6 407.4h0M587.4 409.2h0M602.9 358.3h0M647.4 407.1h0M629.4 359.1h0M627.4 406.7h0M604.1 424.0h0M612.0 367.1h0M594.8 390.9h0M660.8 376.4h0M618.5 349.0h0M673.0 398.9h0M641.2 346.3h0M656.0 399.9h0M613.2 409.6h0M639.1 354.4h0M657.9 364.1h0M598.6 371.3h0M632.6 348.8h0M649.9 376.4h0M642.8 336.6h0M672.8 385.5h0M611.1 360.8h0M610.7 382.4h0M583.9 345.3h0M667.6 383.6h0M649.2 419.9h0M587.8 408.8h0M613.1 338.5h0M619.9 359.5h0M646.7 382.8h0M648.2 402.7h0M645.6 370.2h0M664.9 360.3h0M610.8 346.5h0M606.8 391.2h0M666.8 388.3h0M596.4 386.4h0M589.1 366.4h0M653.6 387.0h0M608.2 371.7h0M656.2 383.6h0M595.7 388.5h0M586.0 392.0h0M672.4 391.9h0M601.2 400.6h0M596.1 396.1h0M605.1 342.9h0M652.3 424.6h0M667.2 372.0h0M633.9 359.4h0M621.5 356.1h0M611.9 339.8h0M621.0 391.8h0M585.7 364.1h0M643.8 344.5h0M657.3 418.8h0M592.0 367.0h0M644.2 420.9h0M613.0 356.3h0M585.3 368.2h0M651.0 412.4h0M615.9 412.6h0M633.7 408.6h0M600.5 386.8h0M651.4 392.7h0M641.7 400.3h0M591.9 394.1h0M597.7 365.9h0M657.3 386.6h0M661.3 410.7h0M586.1 389.1h0M604.6 371.7h0M619.3 346.8h0M604.6 393.3h0M597.8 422.7h0M589.7 354.4h0M605.4 345.5h0M613.0 413.2h0M628.3 421.7h0M659.7 415.6h0M584.9 422.2h0M595.1 399.5h0M612.3 406.6h0M659.4 389.8h0M612.8 351.9h0M646.9 409.1h0M597.8 406.4h0M658.5 349.7h0M672.2 340.4h0M598.7 396.1h0M634.5 337.5h0M602.9 340.9h0M593.4 401.2h0M660.3 385.2h0M626.9 349.2h0M617.3 361.5h0M632.7 400.5h0M591.1 364.0h0M640.2 361.1h0M660.8 419.9h0M592.6 407.8h0M587.6 425.3h0M603.6 374.5h0M625.9 404.5h0M623.8 370.0h0M589.5 354.4h0M599.1 360.3h0M666.0 340.7h0M588.9 388.3h0M613.1 406.2h0M648.7 374.3h0M618.9 405.6h0M616.9 352.2h0M628.6 414.5h0M661.8 366.7h0M658.5 362.5h0M644.4 425.9h0M629.4 357.3h0M594.9 359.5h0M585.4 407.9h0M630.1 354.1h0M638.0 411.4h0M663.9 354.0h0M634.3 362.0h0M647.6 389.1h0M599.2 344.4h0M600.7 401.8h0M616.8 417.2h0M633.1 418.7h0M609.8 346.6h0M597.2 382.1h0M611.4 421.6h0M605.7 382.9h0M636.9 401.7h0M671.8 405.6h0M644.8 398.5h0M609.2 343.9h0M614.2 361.1h0M593.1 373.5h0M600.7 413.3h0M638.4 404.4h0M600.4 405.5h0M653.9 410.2h0M623.4 360.0h0M653.3 382.8h0M596.2 372.4h0M673.1 402.8h0M667.4 391.5h0M623.4 354.9h0M593.1 371.6h0M662.8 387.9h0M637.5 375.4h0M659.7 400.0h0M669.4 344.7h0M586.1 413.3h0M590.0 366.7h0M667.3 384.6h0M613.3 416.0h0M619.1 388.1h0M655.5 404.9h0M643.4 368.0h0M585.4 365.3h0M661.8 357.8h0M662.1 414.2h0M667.1 367.8h0M612.5 418.3h0M610.2 342.7h0M632.4 346.5h0M601.7 376.7h0M587.5 391.2h0M619.9 409.6h0M630.6 380.3h0M619.1 361.0h0M626.9 354.8h0M622.2 372.8h0M650.5 422.1h0M666.3 416.6h0M647.4 424.8h0M628.9 415.0h0M588.1 383.2h0M588.9 363.8h0M664.4 416.4h0M664.8 372.4h0M592.5 355.9h0M586.0 403.9h0M663.3 360.0h0M673.0 408.9h0M642.8 402.7h0M593.2 385.0h0M622.0 395.4h0M648.4 399.3h0M646.8 418.6h0M639.1 397.6h0M593.0 402.6h0M606.0 403.1h0M593.0 391.8h0M650.5 395.8h0M587.0 373.3h0M622.4 363.9h0M608.0 421.2h0M620.4 372.6h0M612.9 382.7h0M599.0 408.8h0M653.4 402.0h0M668.7 386.0h0M638.6 404.4h0M644.6 370.4h0M667.0 377.3h0M646.8 421.0h0M613.6 337.7h0M657.2 422.8h0M595.2 360.9h0M672.0 365.2h0M632.9 359.4h0M612.5 392.3h0M660.4 370.0h0M625.3 424.6h0M613.6 342.6h0M593.2 414.2h0M605.9 406.9h0M604.6 425.1h0M612.4 364.0h0M583.9 364.4h0M622.3 424.8h0M615.6 362.5h0M590.6 419.9h0M643.7 385.5h0M661.2 417.1h0M645.4 407.8h0M626.0 384.8h0M614.6 417.2h0M657.3 409.7h0M672.7 403.6h0M671.3 367.1h0M665.3 374.3h0M601.1 412.0h0M628.9 401.2h0M654.8 392.0h0M610.3 385.2h0M667.7 370.0h0M585.4 406.4h0M661.3 340.6h0M659.8 407.9h0M638.2 411.4h0M643.5 344.1h0M670.8 386.4h0M590.7 369.9h0M670.8 363.8h0M590.2 375.5h0M657.3 372.7h0M633.7 354.8h0M637.8 354.5h0M659.6 375.7h0M596.1 414.0h0M620.7 369.8h0M662.0 344.7h0M585.9 362.7h0M665.2 376.0h0M612.9 393.1h0M660.0 356.5h0M606.5 410.1h0M644.0 354.3h0M593.7 423.1h0M668.8 419.2h0M621.4 424.3h0M606.9 399.6h0M664.2 360.9h0M601.8 413.6h0M663.7 372.1h0M602.7 385.8h0M609.2 390.9h0M664.3 360.7h0M593.9 419.5h0M666.2 406.4h0M602.7 351.6h0M604.6 387.7h0M622.4 420.1h0M650.0 408.0h0M669.8 358.0h0M662.3 403.6h0M651.9 399.0h0M585.3 409.5h0M647.9 379.0h0M584.9 414.4h0M632.6 373.4h0M667.6 382.7h0M655.3 425.1h0M663.5 368.6h0M592.3 368.9h0M597.5 392.5h0M646.5 404.7h0M660.6 364.3h0M605.1 394.5h0M668.9 424.7h0M595.5 348.5h0M639.7 413.5h0M659.5 379.3h0M628.3 419.5h0M622.4 357.1h0M592.4 361.0h0M584.8 351.0h0M642.1 401.7h0M596.2 408.0h0M632.4 410.2h0M600.1 412.8h0M633.8 374.0h0M599.8 402.7h0M613.0 392.8h0M584.8 393.6h0M651.3 380.9h0M660.3 375.6h0M651.4 343.4h0M634.2 413.6h0M626.8 387.8h0M607.0 414.7h0M668.3 424.4h0M658.1 353.2h0M590.9 348.3h0M585.1 414.7h0M665.2 361.1h0M650.9 385.5h0M586.3 417.2h0M646.3 398.0h0M627.2 411.4h0M651.2 388.3h0M641.8 398.4h0M590.6 403.2h0M620.1 426.0h0M585.0 367.9h0M646.5 400.4h0M618.4 347.7h0M668.5 384.8h0M630.6 364.3h0M607.9 419.3h0M646.9 422.8h0M629.7 398.5h0M658.5 354.8h0M626.2 356.2h0M642.3 350.3h0M602.4 410.7h0M629.5 354.8h0M588.3 385.1h0M629.0 373.8h0M669.0 389.9h0M620.3 409.5h0M590.6 413.5h0M621.0 384.9h0M631.3 374.7h0M629.9 359.7h0M616.6 361.3h0M658.8 369.7h0M587.4 364.8h0M619.4 425.5h0M671.2 411.5h0M651.9 422.7h0M665.4 380.6h0M618.9 352.4h0M641.7 409.3h0M640.3 423.0h0M648.3 362.6h0M617.3 413.7h0M611.7 344.5h0M584.8 407.2h0M620.2 375.8h0M651.2 408.3h0M665.4 422.8h0M630.8 372.2h0M648.3 343.9h0M620.4 416.0h0M611.4 367.5h0M661.5 410.1h0M667.2 379.3h0M661.3 382.8h0M630.2 342.9h0M645.4 418.8h0M627.0 347.2h0M650.8 387.7h0M603.2 375.5h0M665.7 350.1h0M584.3 413.7h0M657.8 391.8h0M645.5 383.1h0M608.4 376.6h0M623.6 375.5h0M667.1 418.8h0M672.7 382.6h0M642.4 350.8h0M648.3 420.2h0M597.7 372.1h0M667.9 385.3h0M671.5 407.0h0M648.3 362.3h0M626.5 357.8h0M630.6 343.3h0M624.8 362.9h0M636.5 406.4h0M672.6 399.1h0M663.9 412.1h0M659.0 375.0h0M639.4 358.5h0M643.1 417.9h0M641.1 364.3h0M629.6 372.0h0M589.9 365.3h0M588.6 417.8h0M645.7 382.9h0M670.5 348.2h0M602.3 395.4h0M657.6 422.9h0M607.7 378.1h0M630.4 425.0h0M650.7 381.0h0M648.6 409.1h0M601.7 369.8h0M638.0 354.1h0M651.9 370.4h0M636.6 344.0h0M597.2 386.8h0M617.2 348.8h0M585.7 368.0h0M599.8 421.9h0M627.4 410.2h0M617.7 364.4h0M590.4 418.9h0M622.5 351.1h0M602.6 386.3h0M596.5 419.2h0" stroke="#e6f0fa" stroke-width="2.00" stroke-linecap="round" fill="none"/>
<path d="M595.9 337.5h0M607.8 409.1h0M591.3 424.9h0M636.8 379.2h0M615.8 398.3h0M593.4 357.6h0M629.2 409.1h0M632.7 352.5h0M640.5 341.2h0M600.1 403.6h0M583.7 360.5h0M612.2 407.1h0M640.7 357.1h0M668.1 382.7h0M606.1 397.7h0M636.1 417.2h0M647.1 417.5h0M594.3 384.4h0M591.3 364.5h0M651.5 395.6h0M616.0 339.2h0M623.1 352.6h0M613.8 357.9h0M668.1 337.2h0M608.3 354.5h0M646.0 351.0h0M624.5 413.1h0M603.6 384.7h0M670.7 386.1h0M595.3 356.7h0M618.2 414.7h0M659.0 391.0h0M619.8 370.5h0M658.4 414.8h0M595.5 414.0h0M600.2 353.0h0M628.6 393.4h0M640.2 371.3h0M666.4 380.5h0M645.3 422.2h0M670.1 422.6h0M615.7 357.2h0M638.3 347.9h0M632.5 389.9h0M617.2 364.3h0M656.1 425.2h0M615.5 400.6h0M604.7 383.6h0M628.3 395.8h0M647.5 368.3h0M585.3 416.3h0M618.3 423.2h0M611.4 359.7h0M603.6 413.6h0M600.1 418.1h0M602.9 373.0h0M650.4 383.5h0M603.2 372.6h0M608.6 387.5h0M650.8 410.3h0M615.4 344.9h0M664.6 363.3h0M611.8 420.0h0M621.9 409.9h0M669.5 415.5h0M589.2 344.9h0M646.7 424.7h0M667.6 391.0h0M597.8 360.9h0M601.1 375.5h0M610.0 355.1h0M590.3 360.3h0M642.4 351.6h0M671.8 372.9h0M607.7 398.9h0M603.7 420.1h0M645.8 395.1h0M611.5 371.7h0M672.2 337.0h0M615.1 364.3h0M647.8 424.6h0M671.8 397.8h0M650.7 368.1h0M595.4 352.5h0M649.3 405.3h0M668.8 351.3h0M663.6 422.9h0M635.4 394.6h0M619.6 392.8h0M648.0 357.4h0M596.3 352.9h0M598.5 386.6h0M592.4 421.5h0M623.9 392.7h0M640.7 399.7h0M664.3 347.6h0M639.2 339.2h0M627.1 377.2h0M622.1 404.2h0M594.1 370.9h0M603.1 360.3h0M583.2 358.0h0M584.0 422.6h0M623.3 390.4h0M624.1 364.7h0M618.9 418.1h0M659.9 390.4h0M584.0 388.2h0M624.3 406.7h0M650.1 390.2h0M656.7 374.8h0M620.4 388.1h0M624.7 364.1h0M638.3 391.5h0M594.9 394.6h0M634.8 356.1h0M647.7 361.3h0M590.9 356.6h0M636.9 395.4h0M633.4 363.4h0M657.4 387.9h0M583.9 344.5h0M644.6 417.6h0M592.3 419.8h0M655.8 417.2h0M672.3 336.9h0M634.4 382.2h0M628.9 364.8h0M656.4 371.7h0M672.1 417.0h0M597.3 365.8h0M585.1 373.5h0M633.2 351.6h0M658.2 425.9h0M631.0 375.0h0M639.0 337.4h0M642.7 386.8h0M590.3 367.2h0M654.6 342.2h0M585.3 351.8h0M593.0 343.1h0M670.6 386.3h0M660.7 346.8h0M592.4 420.0h0M602.4 383.9h0M645.4 353.0h0M633.7 367.9h0M629.5 410.4h0M594.8 349.4h0M593.4 407.0h0M658.0 422.9h0M627.6 369.0h0M651.2 394.4h0M617.8 404.8h0M594.5 340.9h0M623.9 353.2h0M631.3 368.3h0M672.5 405.0h0M603.0 376.2h0M641.4 361.4h0M666.4 365.6h0M596.8 361.0h0M630.4 402.7h0M658.9 417.6h0M602.6 392.9h0M585.2 340.4h0M609.0 425.5h0M613.4 392.9h0M653.5 399.3h0M620.3 368.1h0M597.0 424.3h0M646.6 355.2h0M660.1 362.2h0M607.6 361.7h0M613.9 401.8h0M601.3 359.0h0M589.2 413.8h0M603.8 372.8h0M649.7 401.9h0M635.7 421.4h0M651.3 352.7h0M606.2 345.4h0M587.3 420.4h0M585.9 350.9h0M659.1 341.7h0M607.4 393.1h0M637.7 345.4h0M591.6 349.4h0M651.6 406.0h0M597.6 403.8h0M596.8 355.6h0M605.7 391.0h0M627.6 370.5h0M628.5 412.1h0M631.0 406.6h0M613.6 415.6h0M629.7 381.9h0M665.7 400.9h0M591.8 418.3h0M644.3 390.2h0M592.6 390.4h0M645.2 413.1h0M623.6 385.5h0M663.4 394.0h0M671.7 345.7h0M661.3 423.1h0M651.1 372.5h0M627.1 359.6h0M670.5 379.2h0M618.3 357.1h0M645.1 354.3h0M656.0 362.8h0M597.1 398.6h0M652.5 356.1h0M604.6 395.4h0M673.2 381.6h0M589.0 389.4h0M632.7 371.3h0M606.5 342.9h0M601.9 403.0h0M655.2 405.4h0M666.4 416.2h0M643.3 339.1h0M617.0 360.9h0M615.2 355.5h0M646.8 401.9h0M662.7 412.7h0M612.0 390.6h0M615.2 412.3h0M647.2 342.2h0M604.6 349.7h0M660.5 390.6h0M662.2 354.8h0M639.5 383.8h0M597.4 340.2h0M609.3 421.5h0M664.0 346.3h0M588.0 378.7h0M602.1 344.5h0M634.5 404.5h0M602.1 355.5h0M617.7 364.4h0M612.0 355.6h0M641.2 396.8h0M663.1 365.3h0M634.5 391.8h0M638.3 357.6h0M611.9 338.5h0M640.6 405.5h0M634.1 407.5h0M657.8 388.1h0M649.1 361.7h0M666.8 378.8h0M601.5 405.4h0M645.6 413.3h0M650.6 424.5h0M644.6 423.6h0M608.4 384.0h0M658.0 351.3h0M669.7 401.0h0M640.1 380.7h0M639.4 376.7h0M635.7 412.1h0M647.3 352.1h0M612.7 424.7h0M633.4 357.1h0M666.6 423.0h0M605.4 424.5h0M664.2 397.4h0M634.1 367.1h0M656.3 376.3h0M668.8 356.0h0M628.6 421.5h0M612.1 351.5h0M617.0 366.4h0M648.3 392.5h0M645.2 362.5h0M651.1 391.0h0M589.3 423.7h0M618.1 420.8h0M652.2 403.1h0M638.7 338.8h0M591.7 397.3h0M624.6 394.7h0M584.2 373.4h0M651.8 392.5h0M644.9 408.4h0M659.1 426.0h0M647.6 419.5h0M639.0 418.3h0M658.7 346.5h0M604.6 415.3h0M655.0 405.4h0M627.1 350.7h0M660.2 401.8h0M583.9 375.8h0M636.8 368.9h0M631.2 360.9h0M651.5 374.2h0M635.3 342.2h0M601.4 412.4h0M603.7 409.0h0M602.7 360.0h0M649.5 408.9h0M625.2 370.5h0M589.0 350.0h0M606.9 369.2h0M654.3 352.3h0M668.3 401.4h0M592.3 376.0h0M598.1 340.7h0M596.0 361.9h0M633.0 358.1h0M656.3 406.9h0M633.7 382.5h0M652.9 407.7h0M631.6 409.7h0M608.5 403.0h0M617.4 374.6h0M605.1 361.1h0M665.3 424.8h0M598.4 420.2h0M670.3 347.2h0M636.6 396.0h0M604.8 394.1h0M601.8 393.2h0M634.7 353.2h0M663.7 418.1h0M605.8 343.8h0M590.2 390.0h0M625.5 353.3h0M608.8 371.0h0M672.0 397.2h0M600.4 342.3h0M664.4 411.3h0M599.3 384.7h0M626.6 370.6h0M664.5 361.1h0M586.5 394.3h0M585.3 346.5h0M597.6 398.6h0M593.8 381.8h0M604.1 341.8h0M590.2 420.5h0M609.7 417.7h0M596.3 358.0h0M593.3 404.4h0M663.8 357.8h0M640.3 388.9h0M639.6 399.9h0M583.7 343.2h0M645.4 390.1h0M620.9 402.4h0M584.4 394.2h0M647.3 357.5h0M640.9 339.1h0M649.8 397.5h0M639.1 358.7h0M655.7 389.3h0M605.1 337.2h0M618.1 409.2h0M585.6 411.9h0M658.9 350.2h0M625.5 366.1h0M618.1 354.4h0M663.4 383.3h0M636.7 418.0h0M671.3 371.2h0M622.4 408.6h0M609.6 403.5h0M648.9 364.9h0M585.2 372.8h0M600.1 418.5h0M600.1 349.4h0M637.2 379.7h0M610.8 338.9h0M610.9 377.6h0M614.7 393.9h0M651.3 340.9h0M627.9 384.3h0M583.1 352.0h0M640.0 390.5h0M655.5 377.3h0M594.9 424.2h0M595.0 397.3h0M600.0 402.4h0M607.8 415.9h0M664.9 388.3h0M645.4 347.5h0M656.7 366.2h0M653.3 385.9h0M664.9 371.8h0M586.6 338.1h0M652.0 364.6h0M613.8 408.9h0M633.3 349.3h0M599.9 393.6h0M594.3 340.3h0M661.1 357.1h0M666.1 406.5h0M630.8 350.4h0M590.6 418.2h0M669.8 404.4h0M655.7 400.6h0M593.1 369.5h0M656.6 343.0h0M666.1 419.5h0M607.3 363.5h0M636.2 374.2h0M656.2 382.8h0" stroke="#cadef1" stroke-width="2.00" stroke-linecap="round" fill="none"/>
<path d="M625.9 395.4h0M637.3 386.5h0M664.7 341.8h0M585.8 401.6h0M669.5 379.6h0M586.7 392.0h0M604.8 375.5h0M633.5 392.5h0M618.7 396.8h0M605.8 340.6h0M612.0 347.8h0M630.6 394.9h0M637.8 421.9h0M626.6 402.0h0M638.7 353.1h0M664.2 338.7h0M657.6 413.6h0M598.4 338.4h0M643.8 378.4h0M618.4 354.5h0M633.2 349.8h0M599.6 342.1h0M623.2 398.1h0M648.7 340.7h0M589.1 348.2h0M645.1 345.4h0M620.9 404.9h0M645.4 357.0h0M626.4 397.1h0M612.3 373.8h0M647.6 352.1h0M607.0 362.4h0M649.9 354.2h0M649.7 363.8h0M662.6 374.7h0M606.2 345.8h0M669.1 347.4h0M630.4 409.1h0M615.9 366.8h0M635.3 348.4h0M635.5 395.0h0M637.1 378.1h0M618.3 381.2h0M643.4 368.6h0M609.9 344.4h0M633.3 380.8h0M616.0 372.7h0M629.5 396.6h0M596.3 353.9h0M638.6 412.0h0M635.2 373.9h0M599.3 382.3h0M616.8 363.4h0M629.0 394.6h0M656.2 341.4h0M638.3 393.7h0M608.5 370.2h0M587.8 342.8h0M614.7 354.9h0M630.8 409.2h0M621.5 396.2h0M642.7 340.9h0M616.4 356.3h0M623.4 420.3h0M631.8 403.3h0M600.6 360.9h0M659.9 352.8h0M604.6 359.8h0M644.2 373.8h0M589.7 346.2h0M596.0 352.8h0M643.4 419.3h0M611.1 393.8h0M594.9 339.8h0M641.4 351.4h0M616.2 354.9h0M637.0 400.6h0M623.3 357.9h0M606.4 358.4h0M613.5 360.4h0M591.5 371.8h0M642.3 379.0h0M603.6 337.9h0M593.3 359.1h0M647.0 346.1h0M649.2 370.2h0M607.5 349.0h0M640.0 349.8h0M660.2 350.3h0M667.5 354.3h0M650.7 421.5h0M600.8 399.0h0M655.7 358.4h0M657.6 357.4h0M641.2 370.4h0M594.0 349.8h0M648.8 387.2h0M631.0 409.5h0M605.2 345.3h0M656.7 351.9h0M598.2 388.9h0M595.9 358.9h0M657.9 346.2h0M627.6 402.4h0M647.4 372.4h0M633.6 379.2h0M610.0 398.3h0M607.3 342.7h0M649.8 337.2h0M641.7 386.8h0M653.1 376.5h0M618.5 405.1h0M600.2 344.1h0M583.4 360.2h0M586.5 341.6h0M627.4 353.5h0M626.0 398.7h0M651.5 338.9h0M643.7 399.1h0M612.2 341.4h0M625.0 399.9h0M627.2 385.3h0M614.9 338.1h0M612.7 339.3h0M609.7 406.4h0M632.6 408.4h0M617.1 366.4h0M671.5 366.6h0M615.2 369.6h0M640.4 378.1h0M603.0 360.7h0M671.3 357.3h0M605.8 356.2h0M614.4 349.2h0M651.3 357.2h0M636.4 400.8h0M631.0 371.0h0M621.5 405.4h0M641.6 386.1h0M641.9 375.9h0M654.0 345.6h0M634.1 382.6h0M643.3 359.2h0M657.7 336.7h0M654.8 345.7h0M672.3 415.0h0M585.2 386.4h0M668.2 355.5h0M647.0 389.8h0M596.0 413.8h0M609.4 342.1h0M666.4 342.2h0M614.6 363.8h0M591.1 340.9h0M593.6 371.3h0M612.0 355.2h0M623.5 384.7h0M655.7 354.1h0M605.9 340.1h0M628.4 399.6h0M587.5 350.4h0" stroke="#8bb9e1" stroke-width="2.00" stroke-linecap="round" fill="none"/>
<path d="M614.9 364.5h0M601.6 359.3h0M630.7 392.3h0M594.2 340.3h0M631.6 384.0h0M639.3 365.9h0M588.5 348.6h0M591.0 355.3h0M660.6 340.1h0M644.6 367.4h0M627.8 397.6h0M671.8 338.4h0M616.1 351.0h0M648.9 370.8h0M663.9 347.7h0M599.8 419.7h0M665.4 358.6h0M663.2 343.6h0M618.8 385.8h0M622.7 403.0h0M611.9 362.4h0M621.2 375.6h0M643.0 376.6h0M641.5 354.6h0M653.9 358.7h0M655.2 349.8h0M616.9 389.8h0M584.2 349.2h0M585.9 355.0h0M627.4 405.2h0M598.3 341.5h0M656.1 348.8h0M612.5 361.4h0M617.6 349.9h0M645.3 372.3h0M640.0 369.4h0M668.7 349.6h0M627.5 407.0h0M664.6 350.0h0M634.6 401.0h0" stroke="#3270b4" stroke-width="2.20" stroke-linecap="round" fill="none"/>
<text x="427.8" y="447.6" font-size="16" font-weight="bold">k</text>
<text x="467.6" y="446.0" font-size="10.3">Avpr1a</text>
<path d="M438.4 461.9Q438.4 459.9 441.4 459.9L473 459.9L483.0 474L493 459.9L527.4 459.9Q530.4 459.9 530.4 461.9L530.4 548.8Q530.4 550.8 527.4 550.8L441.4 550.8Q438.4 550.8 438.4 548.8Z" fill="#f4f8fd"/>
<path d="M462.7 521.8h0M515.8 477.4h0M451.1 508.1h0M465.9 499.3h0M440.7 485.4h0M517.8 532.9h0M515.9 504.2h0M478.1 493.3h0M511.2 548.5h0M489.3 527.4h0M500.3 500.3h0M457.6 507.4h0M480.8 514.7h0M451.2 504.5h0M460.6 478.2h0M446.0 518.8h0M504.1 543.8h0M452.2 532.6h0M453.8 497.7h0M473.1 524.6h0M495.0 512.5h0M471.7 525.6h0M466.0 475.5h0M449.5 481.0h0M497.3 510.3h0M442.9 500.0h0M450.3 487.7h0M493.2 467.8h0M472.4 535.1h0M469.5 505.0h0M482.1 520.4h0M442.3 505.5h0M492.3 492.5h0M465.3 479.0h0M442.8 496.2h0M507.6 514.2h0M509.0 477.8h0M489.3 490.5h0M513.5 480.3h0M474.4 463.9h0M471.9 500.2h0M443.3 508.5h0M511.7 489.6h0M450.7 461.3h0M517.5 474.2h0M504.1 520.2h0M522.2 500.1h0M451.7 508.4h0M466.4 546.4h0M447.2 465.5h0M504.8 470.4h0M517.4 549.8h0M495.4 535.0h0M465.5 528.6h0M467.2 549.5h0M463.5 530.7h0M439.7 463.5h0M469.3 544.2h0M515.9 536.8h0M528.8 528.6h0M462.9 501.9h0M456.9 494.3h0M456.6 511.8h0M513.3 476.8h0M492.4 488.2h0M486.3 535.1h0M506.5 518.6h0M452.3 535.6h0M483.2 515.0h0M479.8 528.4h0M459.2 465.4h0M521.7 543.7h0M500.7 525.0h0M492.6 483.8h0M504.8 513.9h0M497.2 515.1h0M509.2 538.8h0M512.7 505.3h0M476.6 543.8h0M525.1 491.0h0M521.5 521.7h0M446.4 503.4h0M458.8 473.9h0M466.4 547.0h0M523.4 487.1h0M527.1 468.8h0M451.0 466.8h0M458.5 475.0h0M502.2 465.3h0M490.3 539.4h0M503.2 523.2h0M453.4 465.7h0M502.9 498.8h0M461.4 485.9h0M489.3 541.5h0M503.8 469.5h0M512.1 480.4h0M448.7 500.2h0M502.8 512.1h0M503.3 481.6h0M513.1 500.7h0M451.9 461.0h0M441.1 493.1h0M449.0 526.9h0M496.1 544.8h0M508.7 504.6h0M513.0 516.0h0M441.2 531.1h0M478.0 486.5h0M475.5 535.0h0M489.7 530.5h0M487.7 527.6h0M519.6 510.5h0M456.4 482.3h0M484.3 540.8h0M470.9 526.7h0M478.2 511.4h0M475.7 532.3h0M502.3 500.6h0M475.6 538.7h0M492.2 500.7h0M511.2 517.7h0M449.6 498.2h0M484.3 546.6h0M510.8 524.9h0M490.3 487.1h0M525.9 520.1h0M493.7 483.0h0M449.9 525.0h0M486.8 476.9h0M444.5 463.3h0M504.2 539.9h0M529.0 473.6h0M496.7 476.5h0M461.0 507.4h0M490.9 467.8h0M454.7 515.9h0M479.2 481.8h0M512.8 484.4h0M481.2 480.2h0M487.8 532.6h0M439.4 530.4h0M477.4 482.3h0M501.7 485.0h0M518.5 500.2h0M519.6 470.6h0M490.6 539.1h0M503.7 502.4h0M519.3 528.8h0M493.0 545.4h0M491.0 467.5h0M477.0 478.5h0M491.4 495.1h0M466.9 547.5h0M500.9 498.8h0M494.5 479.6h0M494.9 521.0h0M524.6 462.7h0M469.0 531.8h0M478.1 542.0h0M525.9 465.4h0M507.0 529.3h0M461.8 538.0h0M444.4 480.4h0M519.8 534.8h0M440.4 526.5h0M524.7 547.2h0M505.2 482.4h0M518.1 500.2h0M489.8 466.6h0M497.9 537.7h0M519.8 470.3h0M469.4 475.9h0M498.4 496.4h0M485.7 471.9h0M526.2 502.4h0M475.3 493.5h0M455.5 487.2h0M452.5 535.7h0M514.1 515.8h0M471.4 512.4h0M485.9 544.9h0M458.6 541.2h0M516.8 470.1h0M450.6 536.3h0M483.4 507.1h0M490.4 537.6h0M478.9 493.5h0M465.0 535.4h0M455.8 488.9h0M452.6 481.5h0M523.0 483.9h0M492.2 463.5h0M491.0 502.2h0M462.8 476.7h0M445.7 533.4h0M476.7 476.2h0M488.1 499.3h0M477.5 515.3h0M510.0 500.6h0M520.0 511.6h0M520.8 503.6h0M481.6 537.3h0M472.3 529.6h0M518.0 507.8h0M467.9 484.8h0M522.5 510.0h0M458.2 498.6h0M507.8 486.9h0M524.7 495.4h0M443.9 503.6h0M517.9 542.3h0M477.6 509.9h0M461.1 530.7h0M481.0 546.6h0M449.1 541.0h0M491.6 500.6h0M448.3 495.5h0M483.1 530.4h0M452.3 470.2h0M470.1 507.7h0M524.7 485.6h0M495.4 492.5h0M490.0 489.9h0M457.6 542.6h0M525.5 502.6h0M447.0 516.1h0M500.5 541.8h0M523.2 463.2h0M468.9 507.0h0M474.0 491.9h0M475.9 480.3h0M496.5 473.9h0M529.0 491.0h0M489.9 513.1h0M524.7 506.5h0M458.2 512.6h0M528.7 512.9h0M468.6 474.9h0M494.9 542.4h0M500.0 537.3h0M478.0 484.1h0M459.2 502.5h0M461.2 500.3h0M465.9 520.4h0M476.5 517.7h0M499.2 519.9h0M480.0 489.1h0M519.2 529.8h0M507.2 488.9h0M487.3 502.5h0M518.0 495.8h0M502.8 539.4h0M527.0 469.3h0M484.4 547.9h0M443.4 546.1h0M480.6 498.8h0M442.0 510.4h0M469.5 471.8h0M489.7 540.0h0M455.3 512.3h0M455.4 505.5h0M484.4 488.8h0M449.3 469.6h0M514.4 483.1h0M449.7 539.5h0M511.9 508.1h0M440.5 465.4h0M443.4 537.8h0M500.2 544.9h0M529.0 518.5h0M527.0 480.2h0M476.7 509.4h0M525.8 549.0h0M519.1 470.5h0M462.2 493.9h0M525.3 474.2h0M470.5 538.3h0M500.0 543.4h0M471.9 465.6h0M491.5 485.1h0M440.8 483.4h0M482.8 523.7h0M464.7 526.0h0M452.9 516.2h0M527.0 531.4h0M523.4 472.1h0M484.9 471.9h0M473.6 524.3h0M513.9 471.0h0M440.6 510.3h0M512.4 470.9h0M528.4 547.0h0M485.2 476.2h0M453.4 511.1h0M482.8 545.4h0M527.1 525.0h0M512.3 487.4h0M519.7 542.5h0M452.2 484.6h0M526.3 519.0h0M482.2 494.3h0M519.0 549.5h0M470.4 472.3h0M467.8 488.9h0M505.0 521.5h0M498.0 516.7h0M439.9 533.3h0M494.2 485.3h0M506.3 473.1h0M446.8 479.4h0M490.8 519.5h0M517.4 463.4h0M474.8 515.3h0M519.2 492.0h0M501.5 475.1h0M479.3 514.2h0M451.9 479.0h0M447.2 529.5h0M459.2 513.2h0M458.4 483.5h0M491.8 509.0h0M484.6 527.4h0M479.8 538.3h0M500.2 467.3h0M524.1 488.2h0M491.6 494.9h0M504.6 490.7h0M511.5 544.3h0M469.4 529.8h0M519.8 494.1h0M465.1 540.8h0M527.1 534.0h0M455.5 497.8h0M453.4 491.6h0M453.2 522.8h0M484.9 533.8h0M458.5 527.3h0M492.4 505.5h0M444.9 535.5h0M463.4 529.6h0M482.3 534.5h0M444.1 496.9h0M497.2 519.4h0M473.0 526.1h0M458.1 512.2h0M485.5 520.5h0M489.2 549.0h0M477.7 499.2h0M456.5 521.7h0M526.1 468.1h0M506.8 510.1h0M472.0 540.3h0M490.0 545.8h0M512.6 514.2h0M451.5 481.1h0M459.3 513.5h0M483.1 479.4h0M499.4 492.8h0M504.7 482.3h0M464.6 516.9h0M444.3 536.3h0M449.0 479.3h0M449.6 510.9h0M499.3 464.7h0M473.1 520.9h0M498.9 540.8h0M503.0 546.5h0M441.2 532.4h0M469.6 545.2h0M451.4 541.4h0M444.1 523.1h0M504.3 461.2h0M475.0 516.6h0M456.9 536.8h0M508.6 502.9h0M523.6 482.5h0M474.9 497.4h0M490.4 525.4h0M488.7 517.8h0M525.5 535.7h0M488.7 475.8h0M485.5 492.5h0M513.2 487.5h0M516.5 495.7h0M456.7 544.6h0M479.9 537.3h0M487.2 497.3h0M524.5 534.0h0M492.2 504.5h0M507.7 503.8h0M448.3 529.1h0M475.4 512.6h0M477.0 491.5h0M506.4 474.6h0M453.2 545.0h0M489.3 509.7h0M509.8 532.0h0M444.1 500.9h0M529.0 498.3h0M462.7 477.8h0M448.5 503.1h0M525.3 535.1h0M501.8 486.8h0M514.9 492.8h0M458.4 492.0h0M450.3 542.6h0M462.5 484.1h0M458.8 475.9h0M453.8 474.5h0M488.3 490.4h0M515.4 482.6h0M508.9 538.2h0M476.5 521.9h0M521.0 490.3h0M451.7 542.2h0M523.1 507.6h0M520.3 532.1h0M519.0 475.4h0M470.3 500.1h0M466.8 526.6h0M485.9 474.2h0M501.6 497.1h0M521.3 468.8h0M478.1 536.7h0M526.6 491.3h0M523.4 475.4h0M467.7 507.5h0M450.3 506.4h0M464.2 532.4h0M482.4 510.5h0M520.3 516.5h0M521.7 529.1h0M484.2 522.3h0M444.3 514.2h0M515.5 517.6h0M475.0 525.7h0M526.7 515.7h0M500.3 500.2h0M496.2 546.8h0M519.3 495.7h0M490.2 501.8h0M514.2 511.2h0M523.8 480.4h0M459.8 467.1h0M490.0 514.3h0M470.7 526.7h0M474.8 490.8h0M458.3 520.7h0M503.2 484.9h0M470.6 464.7h0M526.7 477.2h0M492.7 487.1h0M453.1 532.5h0M468.3 548.9h0M502.4 517.2h0M515.5 522.5h0M440.7 529.1h0M459.8 538.8h0M478.4 527.2h0M459.9 515.2h0M515.4 534.0h0M513.4 479.8h0M528.4 544.9h0M519.2 513.7h0M485.5 519.7h0M468.9 528.7h0M463.9 495.1h0M456.4 548.9h0M514.9 531.7h0M506.5 533.0h0M471.4 495.5h0M489.8 501.6h0M482.0 539.9h0M492.2 522.2h0M498.0 501.5h0M502.0 502.6h0M444.4 465.5h0M479.4 506.5h0M506.8 525.8h0M488.8 484.8h0M512.8 503.3h0M504.6 482.1h0M517.9 541.3h0M456.2 479.5h0M460.3 465.8h0M442.7 479.1h0M481.3 487.7h0M459.0 506.5h0M472.3 479.6h0M492.7 513.0h0M479.9 499.6h0M478.8 530.9h0M520.0 540.8h0M473.1 504.8h0M517.5 536.8h0M510.5 479.5h0M497.0 490.5h0M512.9 528.0h0M517.7 489.5h0M490.7 483.9h0M509.4 543.9h0M482.6 477.0h0M523.6 498.0h0M441.6 480.6h0M488.1 506.0h0M490.2 519.8h0M511.2 464.5h0M473.3 509.4h0M508.6 479.6h0M474.2 480.5h0M471.7 494.5h0M484.9 494.1h0M516.5 521.8h0M517.7 531.9h0M504.4 509.9h0M527.0 506.6h0M457.9 482.7h0M463.9 517.7h0M507.7 472.5h0M507.7 462.2h0M493.4 536.8h0M451.9 515.2h0M510.6 489.3h0M455.3 526.2h0M493.9 469.7h0M456.2 524.2h0M454.7 522.3h0M516.0 528.9h0M476.1 537.4h0M473.7 486.8h0M507.9 483.0h0M503.1 524.1h0M509.7 520.1h0M522.9 519.7h0M442.2 524.1h0M449.1 537.9h0M452.8 486.1h0M501.3 543.5h0M442.8 477.5h0M515.6 497.0h0M485.1 540.9h0M473.6 479.5h0M521.5 470.1h0M518.3 542.6h0M474.9 505.0h0M529.4 542.3h0M524.4 498.5h0M516.3 537.8h0M444.2 507.4h0M493.4 533.5h0M486.8 538.5h0M440.7 516.0h0M514.2 539.1h0M477.0 469.3h0M516.8 492.8h0M469.5 520.6h0M439.5 499.7h0M522.0 548.4h0M485.4 489.8h0M520.9 516.6h0M483.4 493.0h0M450.1 500.7h0M462.0 532.4h0M479.2 472.5h0M526.2 465.2h0M453.9 509.8h0M502.3 507.2h0M504.1 527.5h0M453.0 543.0h0M519.2 503.3h0M467.9 516.9h0M443.0 545.4h0M498.5 480.7h0M511.1 482.2h0M480.0 489.9h0M493.7 491.2h0M506.1 473.9h0M509.0 528.5h0M494.7 510.2h0M522.5 528.0h0M444.5 514.3h0M492.1 529.0h0M498.4 543.8h0M503.2 548.9h0M510.3 507.9h0M510.1 543.4h0M441.1 518.8h0M519.2 468.5h0M499.3 547.6h0M518.2 510.9h0M467.7 536.9h0M497.9 514.8h0M444.8 539.1h0M445.4 546.2h0M467.9 527.2h0M491.2 531.1h0M477.2 473.7h0M488.6 545.5h0M494.5 536.7h0M478.5 529.0h0M439.9 490.1h0M471.7 522.4h0M477.3 498.8h0M468.9 547.4h0M446.1 521.8h0M481.0 537.9h0M448.9 493.6h0M484.4 499.1h0M509.9 526.5h0M484.1 499.7h0M508.1 489.5h0M450.8 480.0h0M518.9 483.0h0M442.4 490.3h0M450.8 473.4h0M508.9 499.7h0M467.3 532.9h0M509.9 509.6h0M445.9 488.2h0M521.8 527.5h0M495.2 507.3h0M469.8 535.5h0M526.2 477.3h0M452.6 481.2h0M498.4 489.9h0M453.3 493.6h0M442.1 545.7h0M524.6 514.5h0M475.5 501.4h0M520.8 470.9h0M519.8 546.1h0M511.0 464.5h0M524.9 473.1h0M451.5 494.5h0M457.7 506.2h0M469.1 469.4h0M528.6 515.7h0M527.6 485.8h0M473.9 480.5h0M446.7 499.6h0M521.0 501.6h0M481.0 548.4h0M483.0 505.7h0M490.8 515.7h0M441.1 495.7h0M490.0 545.6h0M444.4 535.9h0M498.6 462.8h0M457.4 477.9h0M516.8 466.7h0M453.1 517.2h0M475.5 537.6h0M504.2 537.0h0M446.5 487.6h0M489.0 514.1h0M471.3 523.6h0M472.1 487.4h0M456.1 505.6h0M457.2 539.7h0M439.7 496.2h0M479.2 479.3h0M468.8 486.9h0M457.0 474.0h0M469.3 520.9h0M514.0 490.0h0M480.2 522.4h0M507.3 539.3h0M457.2 495.0h0M467.2 529.2h0M466.3 506.2h0M474.8 528.1h0M512.7 465.9h0M474.5 495.5h0M462.4 511.5h0M528.2 475.2h0M445.6 476.1h0M442.4 507.2h0M520.0 507.2h0M475.0 541.6h0M517.8 521.1h0M487.1 473.6h0M463.9 526.4h0M470.4 490.4h0M523.5 474.9h0M478.5 526.8h0M523.3 509.5h0M467.8 500.9h0M482.8 477.7h0M525.5 473.8h0M528.4 502.3h0M500.4 502.8h0M450.1 539.7h0M464.1 514.3h0M454.8 502.2h0M471.6 544.7h0M443.4 462.9h0M448.7 530.1h0M488.3 535.0h0M462.9 518.3h0M509.3 542.6h0M451.9 487.6h0M467.1 485.1h0M440.1 470.9h0M443.4 461.3h0M474.0 523.5h0M479.9 532.1h0M444.6 520.8h0M497.7 500.5h0M488.9 508.8h0M472.0 486.8h0M494.5 528.4h0M456.3 515.0h0M491.5 515.2h0M504.4 541.7h0M444.0 486.3h0M505.1 521.1h0M525.2 525.7h0M517.2 496.6h0M509.8 543.2h0M468.5 477.6h0M504.9 507.9h0M488.0 489.3h0M490.6 541.9h0M494.3 507.7h0M471.4 486.0h0M466.3 540.1h0M467.7 473.4h0M494.5 469.9h0M507.1 510.1h0M468.2 485.6h0M448.1 517.7h0M469.6 547.8h0M448.2 472.9h0M462.1 508.3h0M442.1 488.6h0M492.2 535.9h0M496.9 517.3h0M444.4 488.4h0M452.4 549.3h0M460.4 478.7h0M511.5 529.1h0M461.2 491.7h0M498.2 501.3h0M524.9 482.7h0M479.9 520.3h0M493.0 494.0h0M443.9 508.1h0M462.0 514.5h0M482.0 493.7h0M486.7 474.4h0M490.4 525.0h0M463.5 477.7h0M501.0 520.8h0M488.4 524.0h0M488.1 547.3h0M444.1 466.4h0M466.2 513.2h0M521.2 500.7h0M525.3 508.3h0M468.4 496.8h0M511.0 478.6h0M525.9 491.8h0M455.5 483.0h0M498.2 531.7h0M479.8 547.0h0M443.4 547.0h0M499.0 466.0h0M453.0 476.6h0M513.7 498.1h0M518.3 505.3h0M505.0 509.9h0M489.2 534.2h0M445.5 508.4h0M444.5 542.5h0M516.4 500.0h0M497.6 498.3h0M481.4 538.1h0M477.1 505.7h0M476.1 476.2h0M528.5 493.2h0M489.6 546.2h0M457.2 483.1h0M448.0 479.4h0M472.4 513.4h0M451.5 542.7h0M461.2 520.3h0M465.9 531.4h0M518.4 508.0h0M519.7 525.5h0M468.2 495.0h0M495.7 468.3h0M446.3 531.0h0M504.6 527.6h0M503.0 508.8h0M472.5 490.1h0M486.1 547.4h0M519.9 502.4h0M500.6 509.5h0M488.8 501.7h0M511.0 495.5h0M519.9 548.8h0M476.7 489.7h0M505.4 548.7h0M459.0 541.6h0M463.2 527.4h0M493.7 479.4h0M493.5 469.5h0M465.7 498.8h0M466.3 482.7h0M520.5 469.9h0M492.3 463.5h0M486.8 526.8h0M512.7 500.7h0M488.2 527.4h0M447.8 462.7h0M445.5 526.6h0M452.9 465.1h0M524.0 528.6h0M472.7 481.5h0M440.6 543.6h0M504.9 494.9h0M463.7 519.9h0M467.7 524.8h0M495.0 536.0h0M477.5 501.9h0M453.3 534.3h0M527.6 490.5h0M496.9 531.8h0M507.7 469.2h0M474.2 502.7h0M457.2 512.7h0M491.4 472.5h0M526.2 509.3h0M458.7 466.3h0M447.9 541.3h0M519.4 490.6h0M518.2 523.2h0M457.7 509.8h0M450.0 502.9h0M491.0 512.7h0M502.7 481.9h0M500.2 527.1h0M477.8 496.0h0M459.5 530.2h0M452.8 534.3h0M459.2 532.2h0M467.3 501.8h0M498.8 493.9h0M506.6 546.0h0M524.8 503.7h0M441.3 476.8h0M459.1 533.1h0M466.5 515.5h0M515.4 542.9h0M482.0 487.7h0M479.5 496.6h0M456.3 490.9h0M459.0 470.4h0M491.0 503.5h0M442.1 549.5h0M456.7 513.3h0M441.6 480.6h0M446.4 504.3h0M464.3 484.5h0M450.7 534.5h0M441.7 525.0h0M474.6 465.7h0M457.6 541.2h0M488.5 497.7h0M462.5 480.9h0M478.6 532.2h0M476.0 464.6h0M445.2 475.4h0M493.6 501.2h0M478.9 526.6h0M455.5 515.2h0M484.2 486.5h0M494.6 478.5h0M500.0 473.8h0M482.0 514.5h0M521.6 522.0h0M527.7 486.8h0M496.2 505.8h0M491.3 518.5h0M442.6 470.0h0M495.9 534.3h0M481.3 540.5h0M439.8 489.4h0M503.5 467.4h0M447.3 478.6h0M441.0 494.2h0M470.0 518.3h0M442.1 502.0h0M463.9 474.3h0M466.5 503.9h0M476.1 486.7h0M442.8 536.1h0M510.3 465.9h0M523.5 483.4h0M456.7 511.2h0M483.2 518.7h0M473.3 526.2h0M449.0 501.2h0M524.2 475.0h0M470.0 527.5h0M468.6 499.9h0" stroke="#e6f0fa" stroke-width="2.00" stroke-linecap="round" fill="none"/>
<path d="M452.6 480.9h0M506.4 545.3h0M467.6 471.3h0M511.7 479.0h0M526.8 514.6h0M462.6 521.7h0M478.5 473.1h0M472.8 491.6h0M495.3 535.5h0M525.7 462.9h0M444.2 505.4h0M477.8 542.2h0M512.7 530.6h0M476.3 511.1h0M486.1 507.2h0M453.9 537.1h0M472.1 461.1h0M447.3 469.9h0M461.3 474.3h0M515.8 475.1h0M525.7 468.5h0M514.0 478.9h0M467.2 501.0h0M495.1 520.0h0M525.6 491.1h0M501.2 486.3h0M465.3 490.9h0M507.8 546.3h0M521.2 546.3h0M466.0 487.4h0M455.2 464.4h0M497.5 523.4h0M481.5 549.0h0M474.6 483.2h0M486.6 530.2h0M492.9 540.2h0M484.3 549.4h0M455.5 472.1h0M484.1 545.4h0M484.7 472.1h0M492.4 547.1h0M488.5 479.5h0M483.4 485.3h0M487.6 502.9h0M452.6 483.0h0M462.2 533.6h0M515.8 482.3h0M493.7 470.0h0M469.5 480.3h0M510.8 523.3h0M447.6 473.9h0M450.8 466.5h0M485.3 509.8h0M502.2 467.2h0M470.1 525.9h0M518.3 533.6h0M452.4 519.1h0M527.9 523.0h0M514.0 479.8h0M466.1 546.6h0M514.8 494.7h0M471.3 487.1h0M449.3 474.9h0M444.7 536.0h0M471.6 499.0h0M472.0 476.1h0M482.1 497.7h0M483.5 498.8h0M515.4 522.0h0M507.7 468.5h0M476.0 470.4h0M497.2 505.3h0M501.6 533.7h0M495.6 475.4h0M450.8 539.2h0M521.3 465.0h0M478.6 520.0h0M460.7 493.5h0M504.2 465.8h0M479.3 506.1h0M517.8 482.6h0M519.2 467.6h0M503.2 527.4h0M461.4 507.6h0M498.1 541.4h0M493.2 461.1h0M446.7 467.6h0M498.6 463.4h0M443.3 485.1h0M464.2 487.3h0M498.9 486.1h0M515.8 518.3h0M504.6 473.9h0M514.9 519.9h0M474.7 466.0h0M499.9 525.0h0M523.8 498.6h0M526.1 470.0h0M480.9 502.2h0M468.4 475.5h0M520.5 472.4h0M512.1 477.7h0M476.2 471.4h0M463.0 468.7h0M442.9 477.2h0M440.8 499.7h0M463.0 538.3h0M500.8 505.9h0M459.1 489.9h0M507.3 523.6h0M496.2 467.5h0M463.0 541.0h0M511.2 516.4h0M455.6 502.0h0M481.1 524.8h0M521.6 493.2h0M504.0 483.6h0M497.2 537.4h0M456.5 519.9h0M452.0 530.6h0M488.0 490.9h0M443.9 477.4h0M490.9 470.7h0M509.7 534.5h0M462.4 524.8h0M518.4 522.5h0M525.6 537.7h0M460.1 542.4h0M469.2 463.1h0M458.8 502.0h0M511.6 543.3h0M449.4 480.3h0M522.9 524.7h0M495.8 541.6h0M441.4 462.9h0M525.9 536.5h0M451.5 476.5h0M441.3 485.3h0M503.5 462.8h0M463.0 478.2h0M495.0 461.5h0M528.4 507.9h0M515.3 505.5h0M447.6 472.3h0M446.8 481.7h0M462.1 511.0h0M444.2 473.5h0M459.4 528.4h0M473.5 481.8h0M496.9 486.4h0M466.6 508.9h0M522.8 507.6h0M478.1 529.8h0M517.2 492.5h0M472.6 483.4h0M500.2 473.0h0M477.2 500.8h0M488.4 515.0h0M528.6 549.3h0M473.9 549.3h0M494.5 465.2h0M504.2 479.4h0" stroke="#cadef1" stroke-width="2.00" stroke-linecap="round" fill="none"/>
<path d="M447.7 461.2h0M458.0 469.5h0M472.3 462.7h0M510.0 482.9h0M468.8 475.1h0M445.9 472.9h0M490.4 505.6h0M509.7 543.1h0M510.7 492.9h0M503.0 482.8h0M464.6 481.5h0M443.5 536.5h0M442.1 520.9h0M496.3 479.0h0M454.1 535.0h0M498.6 548.3h0M455.1 509.2h0" stroke="#8bb9e1" stroke-width="2.00" stroke-linecap="round" fill="none"/>
<path d="M494.0 477.5h0" stroke="#1a3f86" stroke-width="2.20" stroke-linecap="round" fill="none"/>
<path d="M456.0 484.0h0M470.0 503.0h0M484.0 520.0h0M499.0 528.0h0M506.0 523.0h0M452.0 505.0h0" stroke="#7eaedb" stroke-width="2.00" stroke-linecap="round" fill="none"/>
<text x="568.2" y="448.0" font-size="16" font-weight="bold">l</text>
<text x="617.0" y="446.0" font-size="10.3">Chat</text>
<path d="M582.5 462.4Q582.5 460.4 585.5 460.4L615 460.4L623.0 474L631 460.4L671.2 460.4Q674.2 460.4 674.2 462.4L674.2 549Q674.2 551 671.2 551L585.5 551Q582.5 551 582.5 549Z" fill="#f5f9fd"/>
<path d="M667.8 485.4h0M594.5 491.3h0M661.8 522.3h0M636.3 517.5h0M600.9 501.5h0M655.1 505.7h0M656.9 469.3h0M586.0 527.0h0M592.0 503.4h0M661.1 544.6h0M606.5 495.8h0M606.1 464.5h0M613.9 484.7h0M601.5 522.7h0M617.6 531.0h0M616.6 499.1h0M596.6 520.6h0M587.7 497.4h0M657.9 543.9h0M654.7 488.4h0M617.5 513.6h0M583.6 549.7h0M614.5 544.3h0M670.3 498.5h0M618.3 507.4h0M603.4 482.3h0M660.6 483.3h0M661.2 510.9h0M653.0 499.0h0M657.8 488.9h0M585.6 506.3h0M593.8 536.7h0M618.3 514.1h0M617.3 508.6h0M590.7 527.4h0M587.1 501.4h0M589.1 494.7h0M646.0 488.1h0M601.9 480.3h0M594.6 518.1h0M655.4 462.7h0M618.0 496.8h0M585.1 526.1h0M668.2 520.2h0M666.8 466.2h0M661.4 477.1h0M610.1 543.8h0M612.7 506.4h0M661.7 470.9h0M673.0 462.5h0M585.4 536.9h0M584.8 518.1h0M653.8 505.6h0M643.9 491.1h0M586.1 462.9h0M617.7 473.0h0M591.4 518.5h0M661.5 480.6h0M608.7 487.3h0M657.1 522.3h0M644.6 475.2h0M638.9 507.3h0M593.4 498.1h0M625.3 532.2h0M648.8 480.1h0M608.2 544.1h0M626.3 472.9h0M603.1 545.1h0M596.2 472.0h0M609.8 482.6h0M631.1 547.4h0M668.3 480.8h0M594.8 524.2h0M587.5 466.6h0M625.3 484.5h0M666.4 533.6h0M650.2 499.4h0M670.6 533.3h0M657.5 497.9h0M604.5 511.2h0M603.4 479.4h0M609.0 545.2h0M672.0 463.7h0M595.4 466.6h0M601.6 489.9h0M593.4 470.9h0M597.7 540.4h0M670.8 512.1h0M584.4 527.5h0M618.3 510.3h0M597.6 508.8h0M612.1 477.6h0M660.7 507.1h0M609.9 503.7h0M645.9 503.1h0M624.8 548.0h0M672.7 472.9h0M659.1 471.6h0M642.9 488.0h0M593.6 533.5h0M669.5 480.0h0M619.0 547.2h0M630.6 472.7h0M628.6 520.9h0M600.0 480.7h0M619.2 505.9h0M606.1 511.4h0M639.8 516.4h0M650.8 481.8h0M633.1 548.7h0M624.9 478.4h0M648.2 507.5h0M631.6 493.7h0M671.2 484.2h0M659.2 470.7h0M644.0 488.9h0M632.9 528.6h0M629.1 464.7h0M585.2 504.4h0M652.4 461.8h0M644.5 549.4h0M649.2 465.5h0M655.7 532.5h0M610.8 467.7h0M666.3 462.8h0M669.6 518.2h0M610.5 473.8h0M596.1 525.8h0M607.2 480.6h0M668.2 549.2h0M649.9 466.4h0M627.7 500.8h0M654.9 547.2h0M599.6 493.6h0M585.3 523.7h0M592.6 500.6h0M614.2 502.0h0M609.9 482.3h0M656.8 532.7h0M642.1 500.5h0M590.3 550.0h0M647.0 468.1h0M604.3 513.2h0M616.5 478.0h0M597.1 462.6h0M625.3 476.4h0M592.2 515.0h0M652.6 545.8h0M624.4 502.2h0M620.1 495.8h0M637.5 467.4h0M605.7 517.4h0M641.0 484.1h0M671.2 525.0h0M589.1 518.0h0M659.9 477.4h0M593.3 530.3h0M598.7 493.1h0M588.4 528.5h0M588.4 470.4h0M626.7 482.4h0M589.4 487.6h0M648.2 482.4h0M616.5 495.0h0M612.7 494.7h0M635.2 525.3h0M609.6 465.9h0M624.8 539.9h0M627.9 468.4h0M667.0 461.8h0M655.8 546.9h0M616.1 478.1h0M636.3 542.7h0M653.1 501.4h0M621.7 502.3h0M644.1 538.5h0M599.5 509.8h0M673.0 462.4h0M648.3 525.1h0M631.7 483.3h0M665.5 473.3h0M586.1 473.0h0M612.7 525.7h0M643.5 513.0h0M642.1 537.2h0M642.3 485.7h0M613.0 502.9h0M668.4 516.0h0M621.2 484.8h0M633.4 497.4h0M611.6 495.1h0M623.7 512.0h0M653.6 513.7h0M629.0 540.1h0M633.1 488.7h0M595.9 527.0h0M639.5 474.9h0M667.6 480.1h0M662.6 516.6h0M600.0 512.0h0M597.0 480.5h0M647.7 526.0h0M587.7 502.6h0M620.4 479.0h0M651.7 543.9h0M600.3 481.0h0M596.6 490.2h0M616.5 502.6h0M617.8 481.1h0M633.0 544.3h0M609.3 475.6h0M642.6 528.2h0M604.4 467.2h0M620.7 502.3h0M656.0 525.3h0M633.3 511.6h0M669.7 536.2h0M606.3 468.3h0M660.6 542.0h0M661.1 475.7h0M590.9 475.3h0M585.4 520.5h0M584.4 472.4h0M646.9 505.9h0M653.7 477.6h0M640.9 538.6h0M619.2 545.5h0M594.0 548.7h0M668.8 516.1h0M652.9 476.2h0M666.8 513.7h0M626.7 484.3h0M587.1 483.4h0M619.1 524.4h0M636.0 480.4h0M650.2 493.4h0M628.5 498.6h0M587.0 514.7h0M602.3 538.7h0M632.7 474.5h0M629.3 539.6h0M594.1 463.2h0M662.9 517.8h0M664.7 475.7h0M670.9 486.1h0M668.5 505.5h0M584.6 509.1h0M622.3 499.5h0M644.0 481.3h0M611.0 498.2h0M611.4 510.9h0M641.8 508.9h0M656.1 497.2h0M624.1 498.2h0M589.5 487.9h0M610.4 474.5h0M647.2 478.7h0M641.4 522.2h0M650.2 493.2h0M585.2 485.4h0M600.1 547.6h0M633.0 482.2h0M637.7 540.7h0M663.0 514.3h0M653.4 531.4h0M633.9 542.6h0M656.7 494.6h0M638.9 494.9h0M651.0 473.1h0M588.4 542.1h0M645.7 527.1h0M600.2 488.6h0M668.1 506.1h0M666.3 492.2h0M592.9 526.9h0M594.4 519.8h0M593.0 515.8h0M659.7 544.2h0M641.7 487.7h0M665.0 505.2h0M632.9 472.5h0M663.2 530.5h0M654.8 477.2h0M657.7 526.9h0M662.8 542.7h0M631.4 503.6h0M670.5 467.6h0M618.5 502.2h0M624.3 489.5h0M618.3 505.9h0M620.4 478.5h0M658.4 542.5h0M622.3 492.2h0M639.6 529.5h0M647.4 544.5h0M645.6 485.7h0M646.6 528.9h0M625.1 479.0h0M641.2 494.8h0M662.7 549.8h0M633.4 503.3h0M585.5 467.3h0M644.6 517.3h0M642.0 529.5h0M668.1 527.2h0M637.5 487.3h0M608.2 477.0h0M651.7 537.7h0M589.6 536.7h0M653.7 465.2h0M600.2 540.1h0M592.3 522.5h0M612.5 544.9h0M623.4 526.9h0M625.0 509.7h0M643.2 483.6h0M661.5 479.5h0M591.8 543.9h0M642.8 534.0h0M626.0 526.0h0M617.1 478.1h0M594.2 510.7h0M606.4 502.4h0M638.2 525.8h0M590.0 539.9h0M590.0 538.4h0M590.1 479.2h0M612.7 475.1h0M643.1 475.1h0M617.3 482.0h0M615.2 528.7h0M621.5 544.5h0M631.1 523.1h0M658.7 540.1h0M672.0 475.4h0M613.9 514.6h0M649.6 466.8h0M662.2 500.3h0M606.9 531.9h0M611.5 476.1h0M660.5 505.5h0M662.4 468.8h0M670.4 548.7h0M625.6 499.4h0M640.0 514.1h0M616.7 473.4h0M642.7 464.3h0M656.7 471.6h0M652.4 463.6h0M584.1 547.3h0M602.3 462.0h0M665.3 510.3h0M605.5 480.9h0M624.7 510.7h0M588.6 499.3h0M587.0 544.7h0M640.0 529.7h0M624.3 495.9h0M599.7 529.9h0M639.8 546.0h0M623.2 507.5h0M592.0 531.8h0M588.7 538.3h0M596.7 525.4h0M653.1 477.1h0M600.6 494.1h0" stroke="#e6f0fa" stroke-width="2.00" stroke-linecap="round" fill="none"/>
<path d="M640.2 474.7h0M643.1 476.0h0M607.2 483.4h0M613.9 485.6h0M658.0 462.8h0M651.7 461.5h0M589.5 463.3h0M653.4 462.5h0M649.0 476.2h0M624.1 489.9h0M651.1 468.6h0M660.6 463.8h0M631.7 483.9h0M611.0 465.4h0M633.5 478.5h0M629.4 480.0h0M586.5 465.2h0M625.4 480.2h0M618.9 484.4h0M601.6 476.2h0M605.7 475.8h0M616.0 470.2h0M639.5 485.9h0M600.4 480.5h0M593.5 467.5h0M590.3 475.3h0M593.6 473.5h0M610.2 472.1h0M619.2 486.2h0M588.8 472.8h0M656.4 465.2h0M616.6 473.0h0M601.6 466.9h0M619.9 482.4h0M662.2 478.1h0M630.2 490.6h0M604.8 477.8h0M595.1 471.1h0M636.2 489.9h0M628.7 493.0h0M633.4 484.7h0M616.4 472.6h0M672.1 465.1h0M640.7 481.9h0M594.1 466.5h0" stroke="#cadef1" stroke-width="2.00" stroke-linecap="round" fill="none"/>
<path d="M615.6 484.5h0M601.4 481.8h0M603.4 474.4h0M640.6 473.2h0M598.9 479.0h0M652.0 468.2h0M633.4 481.8h0M604.5 462.3h0M605.2 465.8h0M640.6 471.2h0M659.8 472.3h0M608.6 470.9h0M597.2 474.7h0M595.6 468.1h0M600.0 466.5h0M627.2 489.5h0M604.2 472.8h0M671.3 472.8h0M607.5 474.9h0M659.8 469.0h0M620.0 486.1h0M594.6 477.3h0M587.0 465.4h0M619.6 488.8h0M605.8 476.9h0M631.8 492.6h0M598.2 477.5h0M644.0 470.4h0M626.8 480.8h0M646.3 477.3h0M672.0 473.0h0M647.8 466.4h0M612.7 484.5h0M624.3 488.2h0M612.3 477.0h0M650.0 469.6h0M599.9 474.6h0M616.1 487.1h0M611.6 484.6h0M584.0 471.4h0M612.0 482.2h0M621.9 475.3h0M608.3 465.6h0M640.4 475.9h0M625.8 489.5h0M599.1 468.2h0M639.5 473.8h0M588.3 469.3h0M657.8 472.6h0M591.0 470.2h0M644.3 478.1h0M650.4 473.4h0M642.0 468.8h0M622.2 481.1h0M596.7 475.0h0M660.7 465.7h0M615.7 484.9h0M596.7 469.3h0M663.4 476.2h0" stroke="#8bb9e1" stroke-width="2.00" stroke-linecap="round" fill="none"/>
<path d="M630.9 487.7h0M610.1 476.5h0M633.7 480.9h0M596.3 466.5h0M657.0 467.6h0M605.6 467.2h0M627.4 481.2h0M589.8 471.5h0M670.5 465.0h0M629.8 482.1h0M630.6 480.0h0M615.0 487.0h0M626.3 492.9h0M604.7 481.8h0M657.6 479.2h0" stroke="#3270b4" stroke-width="2.20" stroke-linecap="round" fill="none"/>
<text x="221.7" y="354.3" font-size="16" font-weight="bold">m</text>
<text x="267" y="354.3" font-size="11.5"><tspan font-style="italic">Tac1-Tacr1</tspan> hotspots</text>
<text x="268.7" y="366.9" font-size="11.6" font-style="italic">Chat-</text>
<text x="342.6" y="366.9" font-size="11.6" font-style="italic">Chat+</text>
<path d="M302 362.7H336.5" stroke="#000" stroke-width="1.2"/>
<path d="M299.6 362.7l7 -3.8l-1.2 3.8l1.2 3.8z" fill="#000"/>
<path d="M339.7 362.7l-7 -3.8l1.2 3.8l-1.2 3.8z" fill="#000"/>
<circle cx="269.7" cy="539.2" r="2.3" fill="#7f7f7f" stroke="#fff" stroke-width="0.5"/>
<circle cx="282.1" cy="539.0" r="2.3" fill="#7f7f7f" stroke="#fff" stroke-width="0.5"/>
<circle cx="284.1" cy="538.9" r="2.3" fill="#7f7f7f" stroke="#fff" stroke-width="0.5"/>
<circle cx="287.1" cy="539.3" r="2.3" fill="#7f7f7f" stroke="#fff" stroke-width="0.5"/>
<circle cx="289.6" cy="539.3" r="2.3" fill="#7f7f7f" stroke="#fff" stroke-width="0.5"/>
<circle cx="292.0" cy="540.0" r="2.3" fill="#7f7f7f" stroke="#fff" stroke-width="0.5"/>
<circle cx="295.0" cy="539.1" r="2.3" fill="#7f7f7f" stroke="#fff" stroke-width="0.5"/>
<circle cx="297.0" cy="539.2" r="2.3" fill="#7f7f7f" stroke="#fff" stroke-width="0.5"/>
<circle cx="299.5" cy="539.9" r="2.3" fill="#7f7f7f" stroke="#fff" stroke-width="0.5"/>
<circle cx="302.0" cy="539.0" r="2.3" fill="#7f7f7f" stroke="#fff" stroke-width="0.5"/>
<circle cx="304.4" cy="538.8" r="2.3" fill="#7f7f7f" stroke="#fff" stroke-width="0.5"/>
<circle cx="307.4" cy="540.3" r="2.3" fill="#7f7f7f" stroke="#fff" stroke-width="0.5"/>
<circle cx="310.6" cy="540.2" r="2.3" fill="#7f7f7f" stroke="#fff" stroke-width="0.5"/>
<circle cx="314.4" cy="539.2" r="2.3" fill="#7f7f7f" stroke="#fff" stroke-width="0.5"/>
<circle cx="318.6" cy="539.2" r="2.3" fill="#7f7f7f" stroke="#fff" stroke-width="0.5"/>
<circle cx="331.7" cy="539.4" r="2.3" fill="#7f7f7f" stroke="#fff" stroke-width="0.5"/>
<circle cx="281.0" cy="540.5" r="2.3" fill="#7f7f7f" stroke="#fff" stroke-width="0.5"/>
<circle cx="291.0" cy="540.8" r="2.3" fill="#7f7f7f" stroke="#fff" stroke-width="0.5"/>
<circle cx="298.0" cy="540.7" r="2.3" fill="#7f7f7f" stroke="#fff" stroke-width="0.5"/>
<circle cx="304.0" cy="540.9" r="2.3" fill="#7f7f7f" stroke="#fff" stroke-width="0.5"/>
<circle cx="274.2" cy="535.5" r="2.3" fill="#4574c4" stroke="#fff" stroke-width="0.5"/>
<circle cx="277.6" cy="534.7" r="2.3" fill="#4574c4" stroke="#fff" stroke-width="0.5"/>
<circle cx="283.3" cy="534.7" r="2.3" fill="#4574c4" stroke="#fff" stroke-width="0.5"/>
<circle cx="289.6" cy="529.8" r="2.3" fill="#4574c4" stroke="#fff" stroke-width="0.5"/>
<circle cx="292.0" cy="531.8" r="2.3" fill="#4574c4" stroke="#fff" stroke-width="0.5"/>
<circle cx="295.0" cy="523.8" r="2.3" fill="#4574c4" stroke="#fff" stroke-width="0.5"/>
<circle cx="293.3" cy="534.7" r="2.3" fill="#4574c4" stroke="#fff" stroke-width="0.5"/>
<circle cx="299.0" cy="534.7" r="2.3" fill="#4574c4" stroke="#fff" stroke-width="0.5"/>
<circle cx="302.0" cy="535.2" r="2.3" fill="#4574c4" stroke="#fff" stroke-width="0.5"/>
<circle cx="286.6" cy="535.5" r="2.3" fill="#4574c4" stroke="#fff" stroke-width="0.5"/>
<circle cx="264.6" cy="456.6" r="2.3" fill="#4574c4" stroke="#fff" stroke-width="0.5"/>
<circle cx="263.0" cy="470.7" r="2.3" fill="#4574c4" stroke="#fff" stroke-width="0.5"/>
<circle cx="280.6" cy="473.3" r="2.3" fill="#4574c4" stroke="#fff" stroke-width="0.5"/>
<circle cx="262.3" cy="487.7" r="2.3" fill="#4574c4" stroke="#fff" stroke-width="0.5"/>
<circle cx="270.0" cy="487.7" r="2.3" fill="#4574c4" stroke="#fff" stroke-width="0.5"/>
<circle cx="272.6" cy="492.5" r="2.3" fill="#4574c4" stroke="#fff" stroke-width="0.5"/>
<circle cx="255.6" cy="498.3" r="2.3" fill="#4574c4" stroke="#fff" stroke-width="0.5"/>
<circle cx="268.8" cy="499.6" r="2.3" fill="#4574c4" stroke="#fff" stroke-width="0.5"/>
<circle cx="284.5" cy="501.2" r="2.3" fill="#4574c4" stroke="#fff" stroke-width="0.5"/>
<circle cx="273.6" cy="507.6" r="2.3" fill="#4574c4" stroke="#fff" stroke-width="0.5"/>
<circle cx="280.0" cy="522.4" r="2.3" fill="#4574c4" stroke="#fff" stroke-width="0.5"/>
<circle cx="295.1" cy="523.7" r="2.3" fill="#4574c4" stroke="#fff" stroke-width="0.5"/>
<circle cx="264.6" cy="528.5" r="2.3" fill="#4574c4" stroke="#fff" stroke-width="0.5"/>
<circle cx="289.6" cy="528.5" r="2.3" fill="#4574c4" stroke="#fff" stroke-width="0.5"/>
<circle cx="292.9" cy="531.7" r="2.3" fill="#4574c4" stroke="#fff" stroke-width="0.5"/>
<circle cx="306.3" cy="525.6" r="2.3" fill="#4574c4" stroke="#fff" stroke-width="0.5"/>
<circle cx="274.2" cy="535.2" r="2.3" fill="#4574c4" stroke="#fff" stroke-width="0.5"/>
<circle cx="277.4" cy="534.6" r="2.3" fill="#4574c4" stroke="#fff" stroke-width="0.5"/>
<circle cx="283.2" cy="534.6" r="2.3" fill="#4574c4" stroke="#fff" stroke-width="0.5"/>
<circle cx="287.1" cy="535.9" r="2.3" fill="#4574c4" stroke="#fff" stroke-width="0.5"/>
<circle cx="291.9" cy="534.3" r="2.3" fill="#4574c4" stroke="#fff" stroke-width="0.5"/>
<circle cx="294.5" cy="535.9" r="2.3" fill="#4574c4" stroke="#fff" stroke-width="0.5"/>
<circle cx="297.3" cy="534.9" r="2.3" fill="#4574c4" stroke="#fff" stroke-width="0.5"/>
<circle cx="299.9" cy="536.5" r="2.3" fill="#4574c4" stroke="#fff" stroke-width="0.5"/>
<circle cx="284.5" cy="537.5" r="2.3" fill="#4574c4" stroke="#fff" stroke-width="0.5"/>
<circle cx="310.6" cy="508.7" r="2.3" fill="#d9545a" stroke="#fff" stroke-width="0.5"/>
<circle cx="315.6" cy="514.1" r="2.3" fill="#d9545a" stroke="#fff" stroke-width="0.5"/>
<circle cx="326.8" cy="515.4" r="2.3" fill="#d9545a" stroke="#fff" stroke-width="0.5"/>
<circle cx="314.4" cy="522.3" r="2.3" fill="#d9545a" stroke="#fff" stroke-width="0.5"/>
<circle cx="313.1" cy="524.8" r="2.3" fill="#d9545a" stroke="#fff" stroke-width="0.5"/>
<circle cx="315.6" cy="524.8" r="2.3" fill="#d9545a" stroke="#fff" stroke-width="0.5"/>
<circle cx="318.1" cy="529.3" r="2.3" fill="#d9545a" stroke="#fff" stroke-width="0.5"/>
<circle cx="308.2" cy="531.0" r="2.3" fill="#d9545a" stroke="#fff" stroke-width="0.5"/>
<circle cx="312.6" cy="532.8" r="2.3" fill="#d9545a" stroke="#fff" stroke-width="0.5"/>
<circle cx="308.9" cy="534.7" r="2.3" fill="#d9545a" stroke="#fff" stroke-width="0.5"/>
<circle cx="311.9" cy="536.0" r="2.3" fill="#d9545a" stroke="#fff" stroke-width="0.5"/>
<circle cx="324.8" cy="534.2" r="2.3" fill="#d9545a" stroke="#fff" stroke-width="0.5"/>
<circle cx="308.2" cy="536.7" r="2.3" fill="#d9545a" stroke="#fff" stroke-width="0.5"/>
<circle cx="335.2" cy="377.9" r="2.3" fill="#d9545a" stroke="#fff" stroke-width="0.5"/>
<circle cx="345.8" cy="387.5" r="2.3" fill="#d9545a" stroke="#fff" stroke-width="0.5"/>
<circle cx="382.4" cy="397.8" r="2.3" fill="#d9545a" stroke="#fff" stroke-width="0.5"/>
<circle cx="348.7" cy="413.9" r="2.3" fill="#d9545a" stroke="#fff" stroke-width="0.5"/>
<circle cx="333.0" cy="410.0" r="2.3" fill="#d9545a" stroke="#fff" stroke-width="0.5"/>
<circle cx="330.7" cy="423.5" r="2.3" fill="#d9545a" stroke="#fff" stroke-width="0.5"/>
<circle cx="328.2" cy="442.8" r="2.3" fill="#d9545a" stroke="#fff" stroke-width="0.5"/>
<circle cx="331.4" cy="449.2" r="2.3" fill="#d9545a" stroke="#fff" stroke-width="0.5"/>
<circle cx="321.1" cy="450.1" r="2.3" fill="#d9545a" stroke="#fff" stroke-width="0.5"/>
<circle cx="334.6" cy="464.6" r="2.3" fill="#d9545a" stroke="#fff" stroke-width="0.5"/>
<circle cx="323.4" cy="478.1" r="2.3" fill="#d9545a" stroke="#fff" stroke-width="0.5"/>
<circle cx="325.0" cy="479.0" r="2.3" fill="#d9545a" stroke="#fff" stroke-width="0.5"/>
<circle cx="328.8" cy="485.5" r="2.3" fill="#d9545a" stroke="#fff" stroke-width="0.5"/>
<circle cx="324.6" cy="493.5" r="2.3" fill="#d9545a" stroke="#fff" stroke-width="0.5"/>
<circle cx="326.2" cy="497.4" r="2.3" fill="#d9545a" stroke="#fff" stroke-width="0.5"/>
<circle cx="337.8" cy="502.8" r="2.3" fill="#d9545a" stroke="#fff" stroke-width="0.5"/>
<circle cx="316.0" cy="504.4" r="2.3" fill="#d9545a" stroke="#fff" stroke-width="0.5"/>
<circle cx="311.2" cy="508.0" r="2.3" fill="#d9545a" stroke="#fff" stroke-width="0.5"/>
<circle cx="315.3" cy="508.0" r="2.3" fill="#d9545a" stroke="#fff" stroke-width="0.5"/>
<circle cx="321.1" cy="510.2" r="2.3" fill="#d9545a" stroke="#fff" stroke-width="0.5"/>
<circle cx="316.0" cy="514.0" r="2.3" fill="#d9545a" stroke="#fff" stroke-width="0.5"/>
<circle cx="326.2" cy="515.7" r="2.3" fill="#d9545a" stroke="#fff" stroke-width="0.5"/>
<circle cx="332.7" cy="521.4" r="2.3" fill="#d9545a" stroke="#fff" stroke-width="0.5"/>
<circle cx="328.8" cy="524.0" r="2.3" fill="#d9545a" stroke="#fff" stroke-width="0.5"/>
<circle cx="313.4" cy="522.4" r="2.3" fill="#d9545a" stroke="#fff" stroke-width="0.5"/>
<circle cx="314.7" cy="523.7" r="2.3" fill="#d9545a" stroke="#fff" stroke-width="0.5"/>
<circle cx="312.1" cy="526.3" r="2.3" fill="#d9545a" stroke="#fff" stroke-width="0.5"/>
<circle cx="318.5" cy="528.8" r="2.3" fill="#d9545a" stroke="#fff" stroke-width="0.5"/>
<circle cx="309.5" cy="527.9" r="2.3" fill="#d9545a" stroke="#fff" stroke-width="0.5"/>
<circle cx="311.2" cy="531.7" r="2.3" fill="#d9545a" stroke="#fff" stroke-width="0.5"/>
<circle cx="308.9" cy="533.6" r="2.3" fill="#d9545a" stroke="#fff" stroke-width="0.5"/>
<circle cx="314.4" cy="532.0" r="2.3" fill="#d9545a" stroke="#fff" stroke-width="0.5"/>
<circle cx="325.0" cy="534.3" r="2.3" fill="#d9545a" stroke="#fff" stroke-width="0.5"/>
<circle cx="309.5" cy="535.9" r="2.3" fill="#d9545a" stroke="#fff" stroke-width="0.5"/>
<rect x="249.5" y="370.5" width="139.4" height="178.2" fill="none" stroke="#222" stroke-width="0.9"/>
<path d="M244.5 540.7H249.5" stroke="#222" stroke-width="0.9"/>
<text x="238.9" y="543.7" font-size="8.3" text-anchor="end" fill="#222">0</text>
<path d="M244.5 506.8H249.5" stroke="#222" stroke-width="0.9"/>
<text x="238.9" y="509.8" font-size="8.3" text-anchor="end" fill="#222">20</text>
<path d="M244.5 472.9H249.5" stroke="#222" stroke-width="0.9"/>
<text x="238.9" y="475.9" font-size="8.3" text-anchor="end" fill="#222">40</text>
<path d="M244.5 438.9H249.5" stroke="#222" stroke-width="0.9"/>
<text x="238.9" y="441.9" font-size="8.3" text-anchor="end" fill="#222">60</text>
<path d="M244.5 405.0H249.5" stroke="#222" stroke-width="0.9"/>
<text x="238.9" y="408.0" font-size="8.3" text-anchor="end" fill="#222">80</text>
<path d="M244.5 371.1H249.5" stroke="#222" stroke-width="0.9"/>
<text x="238.9" y="374.1" font-size="8.3" text-anchor="end" fill="#222">100</text>
<path d="M276.6 548.7V553.7" stroke="#222" stroke-width="0.9"/>
<text x="276.6" y="566.6" font-size="9.0" text-anchor="middle" fill="#222">−2</text>
<path d="M307.3 548.7V553.7" stroke="#222" stroke-width="0.9"/>
<text x="307.3" y="566.6" font-size="9.0" text-anchor="middle" fill="#222">0</text>
<path d="M338.0 548.7V553.7" stroke="#222" stroke-width="0.9"/>
<text x="338.0" y="566.6" font-size="9.0" text-anchor="middle" fill="#222">2</text>
<path d="M368.7 548.7V553.7" stroke="#222" stroke-width="0.9"/>
<text x="368.7" y="566.6" font-size="9.0" text-anchor="middle" fill="#222">4</text>
<text x="319.0" y="578.3" font-size="8.8" text-anchor="middle" fill="#222">log2(fc)</text>
<text x="219.2" y="460.4" font-size="8.75" text-anchor="middle" fill="#222" transform="rotate(-90 219.2 460.4)">-log10(p)</text>
<text x="331.4" y="379.8" font-size="6.8" text-anchor="end" fill="#222">Gad1</text>
<text x="341.7" y="389.3" font-size="6.8" text-anchor="end" fill="#222">Syt2</text>
<text x="378.6" y="398.8" font-size="6.8" text-anchor="end" fill="#222">Chat</text>
<text x="352.9" y="415.6" font-size="6.8" fill="#222">Oprd1</text>
<text x="337.8" y="465.3" font-size="6.8" fill="#222">Avpr1a</text>
<text x="332.7" y="487.2" font-size="6.8" fill="#222">Oxtr</text>
<text x="261.5" y="452.8" font-size="6.8" text-anchor="middle" fill="#222">Irs4</text>
<text x="24.5" y="594.9" font-size="16" font-weight="bold">o</text>
<text x="74.1" y="594.9" font-size="14.5">low <tspan font-style="italic">z</tspan></text>
<text x="168.5" y="594.9" font-size="14.4">most active in</text>
<text x="309.1" y="595.8" font-size="14">high <tspan font-style="italic">z</tspan></text>
<path d="M116 590.6H163.5" stroke="#000" stroke-width="1"/>
<path d="M112.2 590.6l8 -4l-1.5 4l1.5 4z" fill="#000"/>
<path d="M259.5 590.8H302" stroke="#000" stroke-width="1"/>
<path d="M306 590.8l-8 -4l1.5 4l-1.5 4z" fill="#000"/>
<text x="16.8" y="719.0" font-size="11.76" text-anchor="middle" fill="#222" transform="rotate(-90 16.8 719.0)">fraction of cells active</text>
<text x="206.2" y="845.0" font-size="11.5" text-anchor="middle" fill="#222">elevation</text>
<text x="90.7" y="616.4" font-size="11.2" text-anchor="middle" fill="#222">CCK_CCKAR</text>
<rect x="51.1" y="619" width="82.3" height="79.6" fill="#fff" stroke="#222" stroke-width="0.9"/>
<path d="M46.1 635.5H51.1" stroke="#222" stroke-width="0.9"/>
<text x="41.5" y="638.9" font-size="9.5" text-anchor="end" fill="#222">0.08</text>
<path d="M46.1 658.5H51.1" stroke="#222" stroke-width="0.9"/>
<text x="41.5" y="661.9" font-size="9.5" text-anchor="end" fill="#222">0.06</text>
<path d="M46.1 681.8H51.1" stroke="#222" stroke-width="0.9"/>
<text x="41.5" y="685.2" font-size="9.5" text-anchor="end" fill="#222">0.04</text>
<path d="M60 698.6V703.6" stroke="#222" stroke-width="0.9"/>
<text x="60.0" y="715.2" font-size="9.5" text-anchor="middle" fill="#222">−25</text>
<path d="M94 698.6V703.6" stroke="#222" stroke-width="0.9"/>
<text x="94.0" y="715.2" font-size="9.5" text-anchor="middle" fill="#222">0</text>
<path d="M127.7 698.6V703.6" stroke="#222" stroke-width="0.9"/>
<text x="127.7" y="715.2" font-size="9.5" text-anchor="middle" fill="#222">25</text>
<path d="M50.9 640.0l7 7M50.9 647.0l7 -7M57.8 645.6l7 7M57.8 652.6l7 -7M64.2 618.8l7 7M64.2 625.8l7 -7M71.4 624.4l7 7M71.4 631.4l7 -7M78.3 625.9l7 7M78.3 632.9l7 -7M85.2 651.2l7 7M85.2 658.2l7 -7M91.5 678.8l7 7M91.5 685.8l7 -7M98.2 669.1l7 7M98.2 676.1l7 -7M105.6 660.9l7 7M105.6 667.9l7 -7M112.2 671.7l7 7M112.2 678.7l7 -7M119.1 691.1l7 7M119.1 698.1l7 -7M126.3 689.5l7 7M126.3 696.5l7 -7" stroke="#000" stroke-width="1.9" fill="none"/>
<text x="207.4" y="616.0" font-size="11.2" text-anchor="middle" fill="#222">UCN3_CRHR1</text>
<rect x="167.7" y="618.9" width="83.2" height="79.5" fill="#fff" stroke="#222" stroke-width="0.9"/>
<path d="M162.7 628.4H167.7" stroke="#222" stroke-width="0.9"/>
<text x="158.1" y="631.8" font-size="9.5" text-anchor="end" fill="#222">0.05</text>
<path d="M162.7 664.4H167.7" stroke="#222" stroke-width="0.9"/>
<text x="158.1" y="667.8" font-size="9.5" text-anchor="end" fill="#222">0.04</text>
<path d="M174.2 698.4V703.4" stroke="#222" stroke-width="0.9"/>
<text x="174.2" y="715.0" font-size="9.5" text-anchor="middle" fill="#222">−25</text>
<path d="M210.7 698.4V703.4" stroke="#222" stroke-width="0.9"/>
<text x="210.7" y="715.0" font-size="9.5" text-anchor="middle" fill="#222">0</text>
<path d="M244.7 698.4V703.4" stroke="#222" stroke-width="0.9"/>
<text x="244.7" y="715.0" font-size="9.5" text-anchor="middle" fill="#222">25</text>
<path d="M168.2 685.2l7 7M168.2 692.2l7 -7M174.9 650.4l7 7M174.9 657.4l7 -7M181.6 648.9l7 7M181.6 655.9l7 -7M188.5 631.8l7 7M188.5 638.8l7 -7M195.3 618.7l7 7M195.3 625.7l7 -7M201.7 630.6l7 7M201.7 637.6l7 -7M208.4 647.2l7 7M208.4 654.2l7 -7M215.4 648.9l7 7M215.4 655.9l7 -7M222.3 655.4l7 7M222.3 662.4l7 -7M229.0 677.7l7 7M229.0 684.7l7 -7M235.7 691.9l7 7M235.7 698.9l7 -7M243.2 646.0l7 7M243.2 653.0l7 -7" stroke="#000" stroke-width="1.9" fill="none"/>
<text x="326.1" y="616.2" font-size="11.2" text-anchor="middle" fill="#222">TAC1_TACR1</text>
<rect x="286.6" y="618.8" width="82.7" height="79.5" fill="#fff" stroke="#222" stroke-width="0.9"/>
<path d="M281.6 639.6H286.6" stroke="#222" stroke-width="0.9"/>
<text x="277.0" y="643.0" font-size="9.5" text-anchor="end" fill="#222">0.08</text>
<path d="M281.6 664.3H286.6" stroke="#222" stroke-width="0.9"/>
<text x="277.0" y="667.7" font-size="9.5" text-anchor="end" fill="#222">0.06</text>
<path d="M281.6 689.3H286.6" stroke="#222" stroke-width="0.9"/>
<text x="277.0" y="692.7" font-size="9.5" text-anchor="end" fill="#222">0.04</text>
<path d="M295.5 698.3V703.3" stroke="#222" stroke-width="0.9"/>
<text x="295.5" y="714.9" font-size="9.5" text-anchor="middle" fill="#222">−25</text>
<path d="M329.9 698.3V703.3" stroke="#222" stroke-width="0.9"/>
<text x="329.9" y="714.9" font-size="9.5" text-anchor="middle" fill="#222">0</text>
<path d="M363.2 698.3V703.3" stroke="#222" stroke-width="0.9"/>
<text x="363.2" y="714.9" font-size="9.5" text-anchor="middle" fill="#222">25</text>
<path d="M286.6 681.6l7 7M286.6 688.6l7 -7M292.9 691.9l7 7M292.9 698.9l7 -7M300.1 686.5l7 7M300.1 693.5l7 -7M307.4 678.4l7 7M307.4 685.4l7 -7M313.3 674.4l7 7M313.3 681.4l7 -7M320.9 673.3l7 7M320.9 680.3l7 -7M327.5 655.8l7 7M327.5 662.8l7 -7M334.1 638.3l7 7M334.1 645.3l7 -7M341.1 642.7l7 7M341.1 649.7l7 -7M348.3 661.3l7 7M348.3 668.3l7 -7M354.5 635.7l7 7M354.5 642.7l7 -7M361.9 618.6l7 7M361.9 625.6l7 -7" stroke="#000" stroke-width="1.9" fill="none"/>
<text x="89.0" y="732.2" font-size="11.2" text-anchor="middle" fill="#222">NTS_NTSR1</text>
<rect x="49.8" y="735.2" width="82.5" height="79.5" fill="#fff" stroke="#222" stroke-width="0.9"/>
<path d="M44.8 740.3H49.8" stroke="#222" stroke-width="0.9"/>
<text x="40.2" y="743.7" font-size="9.5" text-anchor="end" fill="#222">0.07</text>
<path d="M44.8 761.5H49.8" stroke="#222" stroke-width="0.9"/>
<text x="40.2" y="764.9" font-size="9.5" text-anchor="end" fill="#222">0.06</text>
<path d="M44.8 782.5H49.8" stroke="#222" stroke-width="0.9"/>
<text x="40.2" y="785.9" font-size="9.5" text-anchor="end" fill="#222">0.05</text>
<path d="M44.8 803.2H49.8" stroke="#222" stroke-width="0.9"/>
<text x="40.2" y="806.6" font-size="9.5" text-anchor="end" fill="#222">0.04</text>
<path d="M59.3 814.7V819.7" stroke="#222" stroke-width="0.9"/>
<text x="59.3" y="831.3" font-size="9.5" text-anchor="middle" fill="#222">−25</text>
<path d="M92.5 814.7V819.7" stroke="#222" stroke-width="0.9"/>
<text x="92.5" y="831.3" font-size="9.5" text-anchor="middle" fill="#222">0</text>
<path d="M127 814.7V819.7" stroke="#222" stroke-width="0.9"/>
<text x="127.0" y="831.3" font-size="9.5" text-anchor="middle" fill="#222">25</text>
<path d="M49.6 794.3l7 7M49.6 801.3l7 -7M56.5 734.5l7 7M56.5 741.5l7 -7M63.4 778.5l7 7M63.4 785.5l7 -7M70.1 751.7l7 7M70.1 758.7l7 -7M77.0 762.4l7 7M77.0 769.4l7 -7M83.9 772.9l7 7M83.9 779.9l7 -7M90.5 779.8l7 7M90.5 786.8l7 -7M97.9 780.5l7 7M97.9 787.5l7 -7M104.6 787.9l7 7M104.6 794.9l7 -7M111.5 776.7l7 7M111.5 783.7l7 -7M117.9 797.6l7 7M117.9 804.6l7 -7M125.0 807.9l7 7M125.0 814.9l7 -7" stroke="#000" stroke-width="1.9" fill="none"/>
<text x="207.0" y="732.0" font-size="11.2" text-anchor="middle" fill="#222">CRH_CRHR1</text>
<rect x="167.7" y="734.9" width="82.3" height="79.7" fill="#fff" stroke="#222" stroke-width="0.9"/>
<path d="M162.7 737.5H167.7" stroke="#222" stroke-width="0.9"/>
<text x="158.1" y="740.9" font-size="9.5" text-anchor="end" fill="#222">0.08</text>
<path d="M162.7 776.9H167.7" stroke="#222" stroke-width="0.9"/>
<text x="158.1" y="780.3" font-size="9.5" text-anchor="end" fill="#222">0.06</text>
<path d="M177.1 814.6V819.6" stroke="#222" stroke-width="0.9"/>
<text x="177.1" y="831.2" font-size="9.5" text-anchor="middle" fill="#222">−25</text>
<path d="M210.6 814.6V819.6" stroke="#222" stroke-width="0.9"/>
<text x="210.6" y="831.2" font-size="9.5" text-anchor="middle" fill="#222">0</text>
<path d="M244.3 814.6V819.6" stroke="#222" stroke-width="0.9"/>
<text x="244.3" y="831.2" font-size="9.5" text-anchor="middle" fill="#222">25</text>
<path d="M168.1 772.3l7 7M168.1 779.3l7 -7M175.1 788.3l7 7M175.1 795.3l7 -7M181.7 761.8l7 7M181.7 768.8l7 -7M188.5 770.8l7 7M188.5 777.8l7 -7M195.5 744.5l7 7M195.5 751.5l7 -7M202.0 764.2l7 7M202.0 771.2l7 -7M208.6 735.1l7 7M208.6 742.1l7 -7M215.2 808.0l7 7M215.2 815.0l7 -7M222.4 757.7l7 7M222.4 764.7l7 -7M229.0 788.3l7 7M229.0 795.3l7 -7M236.0 773.9l7 7M236.0 780.9l7 -7M242.5 769.7l7 7M242.5 776.7l7 -7" stroke="#000" stroke-width="1.9" fill="none"/>
<text x="326.0" y="732.0" font-size="11.2" text-anchor="middle" fill="#222">PENK_OPRL1</text>
<rect x="286.6" y="734.9" width="82.7" height="79.7" fill="#fff" stroke="#222" stroke-width="0.9"/>
<path d="M281.6 752.8H286.6" stroke="#222" stroke-width="0.9"/>
<text x="277.0" y="756.2" font-size="9.5" text-anchor="end" fill="#222">0.14</text>
<path d="M281.6 791.8H286.6" stroke="#222" stroke-width="0.9"/>
<text x="277.0" y="795.2" font-size="9.5" text-anchor="end" fill="#222">0.12</text>
<path d="M295.5 814.6V819.6" stroke="#222" stroke-width="0.9"/>
<text x="295.5" y="831.2" font-size="9.5" text-anchor="middle" fill="#222">−25</text>
<path d="M329.3 814.6V819.6" stroke="#222" stroke-width="0.9"/>
<text x="329.3" y="831.2" font-size="9.5" text-anchor="middle" fill="#222">0</text>
<path d="M363.4 814.6V819.6" stroke="#222" stroke-width="0.9"/>
<text x="363.4" y="831.2" font-size="9.5" text-anchor="middle" fill="#222">25</text>
<path d="M286.6 799.7l7 7M286.6 806.7l7 -7M293.6 782.2l7 7M293.6 789.2l7 -7M300.6 750.9l7 7M300.6 757.9l7 -7M307.4 765.3l7 7M307.4 772.3l7 -7M313.9 768.4l7 7M313.9 775.4l7 -7M320.9 751.5l7 7M320.9 758.5l7 -7M327.5 752.6l7 7M327.5 759.6l7 -7M334.1 778.5l7 7M334.1 785.5l7 -7M341.3 808.0l7 7M341.3 815.0l7 -7M347.7 752.6l7 7M347.7 759.6l7 -7M354.5 735.1l7 7M354.5 742.1l7 -7M361.9 749.3l7 7M361.9 756.3l7 -7" stroke="#000" stroke-width="1.9" fill="none"/>
<text x="421.4" y="572.1" font-size="16" font-weight="bold">n</text>
<text x="435.8" y="569.9" font-size="11.7">GO terms (<tspan font-style="italic">Chat</tspan>+ <tspan font-style="italic">Tac1-Tacr1</tspan> hotspots)</text>
<rect x="429.4" y="583.2" width="208.1" height="237.9" fill="#fff"/>
<path d="M439.3 583.2V821.1" stroke="#ebebeb" stroke-width="0.8"/><path d="M460.7 583.2V821.1" stroke="#ebebeb" stroke-width="0.45"/><path d="M482.1 583.2V821.1" stroke="#ebebeb" stroke-width="0.8"/><path d="M503.5 583.2V821.1" stroke="#ebebeb" stroke-width="0.45"/><path d="M524.9 583.2V821.1" stroke="#ebebeb" stroke-width="0.8"/><path d="M546.3 583.2V821.1" stroke="#ebebeb" stroke-width="0.45"/><path d="M567.7 583.2V821.1" stroke="#ebebeb" stroke-width="0.8"/><path d="M589.1 583.2V821.1" stroke="#ebebeb" stroke-width="0.45"/><path d="M610.5 583.2V821.1" stroke="#ebebeb" stroke-width="0.8"/><path d="M631.9 583.2V821.1" stroke="#ebebeb" stroke-width="0.45"/><path d="M429.4 598.5H637.5" stroke="#ebebeb" stroke-width="0.45"/><path d="M429.4 631.7H637.5" stroke="#ebebeb" stroke-width="0.8"/><path d="M429.4 665.0H637.5" stroke="#ebebeb" stroke-width="0.45"/><path d="M429.4 698.2H637.5" stroke="#ebebeb" stroke-width="0.8"/><path d="M429.4 731.5H637.5" stroke="#ebebeb" stroke-width="0.45"/><path d="M429.4 764.7H637.5" stroke="#ebebeb" stroke-width="0.8"/><path d="M429.4 798.0H637.5" stroke="#ebebeb" stroke-width="0.45"/>
<circle cx="540.6" cy="611.6" r="4.0" fill="#c5d94a" fill-opacity="0.85" stroke="#555" stroke-width="0.35"/>
<circle cx="559.3" cy="620.3" r="5.2" fill="#c8db48" fill-opacity="0.85" stroke="#555" stroke-width="0.35"/>
<circle cx="493.6" cy="650.7" r="2.0" fill="#c9dc45" fill-opacity="0.85" stroke="#555" stroke-width="0.35"/>
<circle cx="507.3" cy="653.2" r="3.0" fill="#5a52b0" fill-opacity="0.85" stroke="#555" stroke-width="0.35"/>
<circle cx="519.4" cy="659.0" r="4.5" fill="#c6da48" fill-opacity="0.85" stroke="#555" stroke-width="0.35"/>
<circle cx="492.3" cy="670.2" r="4.2" fill="#d8e03e" fill-opacity="0.85" stroke="#555" stroke-width="0.35"/>
<circle cx="577.5" cy="708.3" r="2.2" fill="#5a52b0" fill-opacity="0.85" stroke="#555" stroke-width="0.35"/>
<circle cx="577.5" cy="715.7" r="5.0" fill="#b5d24a" fill-opacity="0.85" stroke="#555" stroke-width="0.35"/>
<circle cx="542.2" cy="720.8" r="4.8" fill="#9fb4b4" fill-opacity="0.85" stroke="#555" stroke-width="0.35"/>
<circle cx="579.8" cy="721.1" r="5.0" fill="#9cca4a" fill-opacity="0.85" stroke="#555" stroke-width="0.35"/>
<circle cx="574.3" cy="724.7" r="4.2" fill="#c4da48" fill-opacity="0.85" stroke="#555" stroke-width="0.35"/>
<circle cx="578.5" cy="726.0" r="5.0" fill="#d3df42" fill-opacity="0.85" stroke="#555" stroke-width="0.35"/>
<circle cx="470.9" cy="719.2" r="3.6" fill="#c9dc45" fill-opacity="0.85" stroke="#555" stroke-width="0.35"/>
<circle cx="498.2" cy="735.0" r="6.6" fill="#c5d94a" fill-opacity="0.85" stroke="#555" stroke-width="0.35"/>
<circle cx="489.2" cy="738.8" r="5.8" fill="#a8cf4a" fill-opacity="0.85" stroke="#555" stroke-width="0.35"/>
<circle cx="483.8" cy="742.0" r="4.8" fill="#dfe23c" fill-opacity="0.85" stroke="#555" stroke-width="0.35"/>
<circle cx="555.0" cy="750.4" r="4.3" fill="#4a42a8" fill-opacity="0.85" stroke="#555" stroke-width="0.35"/>
<circle cx="558.3" cy="754.2" r="3.6" fill="#c5d94a" fill-opacity="0.85" stroke="#555" stroke-width="0.35"/>
<circle cx="482.2" cy="777.3" r="4.6" fill="#b8d44a" fill-opacity="0.85" stroke="#555" stroke-width="0.35"/>
<circle cx="527.8" cy="777.3" r="5.2" fill="#c9dc45" fill-opacity="0.85" stroke="#555" stroke-width="0.35"/>
<circle cx="530.3" cy="785.4" r="4.8" fill="#d3df42" fill-opacity="0.85" stroke="#555" stroke-width="0.35"/>
<circle cx="535.1" cy="792.8" r="4.6" fill="#c9dc45" fill-opacity="0.85" stroke="#555" stroke-width="0.35"/>
<rect x="429.4" y="583.2" width="208.1" height="237.9" fill="none" stroke="#888" stroke-width="0.8"/>
<text x="559.7" y="623.2" font-size="8.2" text-anchor="middle" fill="#2a2a2a">L-glutamate import</text>
<text x="579.8" y="717.9" font-size="8.2" text-anchor="middle" fill="#2a2a2a">aggressive behavior</text>
<text x="578.8" y="729.2" font-size="8.2" text-anchor="middle" fill="#2a2a2a">social behavior</text>
<text x="489.5" y="742.7" font-size="8.2" text-anchor="middle" fill="#2a2a2a">neuropeptide signaling pathway</text>
<text x="555.9" y="753.9" font-size="8.2" text-anchor="middle" fill="#2a2a2a">positive regulation of blood pressure</text>
<text x="527.8" y="781.9" font-size="8.2" text-anchor="middle" fill="#2a2a2a">regulation of synapse structure or activity</text>
<path d="M439.3 821.1V823.6" stroke="#444" stroke-width="0.6"/>
<text x="439.3" y="831.3" font-size="7.0" text-anchor="middle" fill="#444">-10</text>
<path d="M482.1 821.1V823.6" stroke="#444" stroke-width="0.6"/>
<text x="482.1" y="831.3" font-size="7.0" text-anchor="middle" fill="#444">-5</text>
<path d="M524.9 821.1V823.6" stroke="#444" stroke-width="0.6"/>
<text x="524.9" y="831.3" font-size="7.0" text-anchor="middle" fill="#444">0</text>
<path d="M567.7 821.1V823.6" stroke="#444" stroke-width="0.6"/>
<text x="567.7" y="831.3" font-size="7.0" text-anchor="middle" fill="#444">5</text>
<path d="M610.5 821.1V823.6" stroke="#444" stroke-width="0.6"/>
<text x="610.5" y="831.3" font-size="7.0" text-anchor="middle" fill="#444">10</text>
<path d="M426.9 631.7H429.4" stroke="#444" stroke-width="0.6"/>
<text x="425.4" y="634.2" font-size="7.0" text-anchor="end" fill="#444">5</text>
<path d="M426.9 698.2H429.4" stroke="#444" stroke-width="0.6"/>
<text x="425.4" y="700.7" font-size="7.0" text-anchor="end" fill="#444">0</text>
<path d="M426.9 764.7H429.4" stroke="#444" stroke-width="0.6"/>
<text x="425.4" y="767.2" font-size="7.0" text-anchor="end" fill="#444">-5</text>
<text x="530.6" y="841.0" font-size="7.3" text-anchor="middle" fill="#222">embedding 1</text>
<text x="415.8" y="702.7" font-size="7.3" text-anchor="middle" fill="#222" transform="rotate(-90 415.8 702.7)">embedding 2</text>
<text x="649.8" y="639.6" font-size="8.3" fill="#222">-log10(p)</text>
<defs><linearGradient id="cbar" x1="0" y1="0" x2="0" y2="1"><stop offset="0" stop-color="#e8261f"/><stop offset="0.18" stop-color="#f57d20"/><stop offset="0.38" stop-color="#f2e21c"/><stop offset="0.55" stop-color="#b5d334"/><stop offset="0.75" stop-color="#56b04a"/><stop offset="1" stop-color="#4a3c9e"/></linearGradient></defs>
<rect x="650.2" y="643.9" width="6.7" height="35.4" fill="url(#cbar)"/>
<path d="M650.2 644.1h1.3M655.6 644.1h1.3" stroke="#fff" stroke-width="0.5"/>
<text x="660.5" y="646.5" font-size="6.6" fill="#222">0</text>
<path d="M650.2 655.2h1.3M655.6 655.2h1.3" stroke="#fff" stroke-width="0.5"/>
<text x="660.5" y="657.6" font-size="6.6" fill="#222">-1</text>
<path d="M650.2 665.8h1.3M655.6 665.8h1.3" stroke="#fff" stroke-width="0.5"/>
<text x="660.5" y="668.2" font-size="6.6" fill="#222">-2</text>
<path d="M650.2 676.5h1.3M655.6 676.5h1.3" stroke="#fff" stroke-width="0.5"/>
<text x="660.5" y="678.9" font-size="6.6" fill="#222">-3</text>
<text x="649.8" y="702.6" font-size="8.2" fill="#222">log size</text>
<circle cx="658.3" cy="711.7" r="3.2" fill="#555"/>
<text x="670.5" y="714.1" font-size="6.6" fill="#222">2</text>
<circle cx="658.3" cy="720.8" r="4.5" fill="#555"/>
<text x="670.5" y="723.2" font-size="6.6" fill="#222">3</text>
<circle cx="658.3" cy="733" r="5.3" fill="#555"/>
<text x="670.5" y="735.4" font-size="6.6" fill="#222">4</text>
<circle cx="658.3" cy="747.5" r="6.2" fill="#555"/>
<text x="670.5" y="749.9" font-size="6.6" fill="#222">5</text>
<circle cx="658.3" cy="764.1" r="6.8" fill="#555"/>
<text x="670.5" y="766.5" font-size="6.6" fill="#222">6</text>
</svg></body></html>
